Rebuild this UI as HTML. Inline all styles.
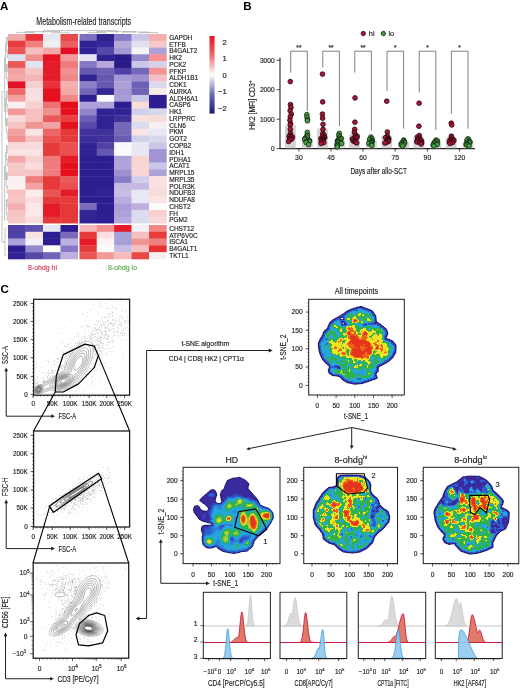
<!DOCTYPE html>
<html><head><meta charset="utf-8"><style>
html,body{margin:0;padding:0;background:#fff;}
svg{display:block;will-change:transform;}
text{font-family:"Liberation Sans", sans-serif;}
</style></head><body>
<svg width="520" height="689" viewBox="0 0 520 689">
<rect width="520" height="689" fill="#fff"/>
<rect x="8.00" y="34.00" width="17.80" height="7.07" fill="#f4a9a9"/>
<rect x="25.50" y="34.00" width="17.80" height="7.07" fill="#e8333a"/>
<rect x="43.00" y="34.00" width="17.80" height="7.07" fill="#e8e8f0"/>
<rect x="60.50" y="34.00" width="17.80" height="7.07" fill="#e64a4a"/>
<rect x="79.30" y="34.00" width="17.72" height="7.07" fill="#7e70c0"/>
<rect x="96.72" y="34.00" width="17.72" height="7.07" fill="#302290"/>
<rect x="114.14" y="34.00" width="17.72" height="7.07" fill="#8678c4"/>
<rect x="131.56" y="34.00" width="17.72" height="7.07" fill="#c8c8e6"/>
<rect x="148.98" y="34.00" width="17.72" height="7.07" fill="#f4b0b0"/>
<text x="169.2" y="39.73" font-size="6.5" fill="#231f20" stroke="#231f20" stroke-width="0.16">GAPDH</text>
<rect x="8.00" y="40.77" width="17.80" height="7.07" fill="#e63c3c"/>
<rect x="25.50" y="40.77" width="17.80" height="7.07" fill="#f08080"/>
<rect x="43.00" y="40.77" width="17.80" height="7.07" fill="#eeeef5"/>
<rect x="60.50" y="40.77" width="17.80" height="7.07" fill="#ea6060"/>
<rect x="79.30" y="40.77" width="17.72" height="7.07" fill="#302290"/>
<rect x="96.72" y="40.77" width="17.72" height="7.07" fill="#36289a"/>
<rect x="114.14" y="40.77" width="17.72" height="7.07" fill="#b6a8da"/>
<rect x="131.56" y="40.77" width="17.72" height="7.07" fill="#e0e0f0"/>
<rect x="148.98" y="40.77" width="17.72" height="7.07" fill="#f6c8c8"/>
<text x="169.2" y="46.50" font-size="6.5" fill="#231f20" stroke="#231f20" stroke-width="0.16">ETFB</text>
<rect x="8.00" y="47.54" width="17.80" height="7.07" fill="#ea5555"/>
<rect x="25.50" y="47.54" width="17.80" height="7.07" fill="#f6c0c0"/>
<rect x="43.00" y="47.54" width="17.80" height="7.07" fill="#f4a8a8"/>
<rect x="60.50" y="47.54" width="17.80" height="7.07" fill="#e31023"/>
<rect x="79.30" y="47.54" width="17.72" height="7.07" fill="#302295"/>
<rect x="96.72" y="47.54" width="17.72" height="7.07" fill="#5648a8"/>
<rect x="114.14" y="47.54" width="17.72" height="7.07" fill="#a698d4"/>
<rect x="131.56" y="47.54" width="17.72" height="7.07" fill="#f4f4f8"/>
<rect x="148.98" y="47.54" width="17.72" height="7.07" fill="#aea0d8"/>
<text x="169.2" y="53.27" font-size="6.5" fill="#231f20" stroke="#231f20" stroke-width="0.16">B4GALT2</text>
<rect x="8.00" y="54.30" width="17.80" height="7.07" fill="#dde0ee"/>
<rect x="25.50" y="54.30" width="17.80" height="7.07" fill="#f29090"/>
<rect x="43.00" y="54.30" width="17.80" height="7.07" fill="#e41423"/>
<rect x="60.50" y="54.30" width="17.80" height="7.07" fill="#f29a9a"/>
<rect x="79.30" y="54.30" width="17.72" height="7.07" fill="#e4e4f2"/>
<rect x="96.72" y="54.30" width="17.72" height="7.07" fill="#302290"/>
<rect x="114.14" y="54.30" width="17.72" height="7.07" fill="#281a88"/>
<rect x="131.56" y="54.30" width="17.72" height="7.07" fill="#9688cc"/>
<rect x="148.98" y="54.30" width="17.72" height="7.07" fill="#f49090"/>
<text x="169.2" y="60.04" font-size="6.5" fill="#231f20" stroke="#231f20" stroke-width="0.16">HK2</text>
<rect x="8.00" y="61.07" width="17.80" height="7.07" fill="#e85858"/>
<rect x="25.50" y="61.07" width="17.80" height="7.07" fill="#e4e4f0"/>
<rect x="43.00" y="61.07" width="17.80" height="7.07" fill="#e41b28"/>
<rect x="60.50" y="61.07" width="17.80" height="7.07" fill="#ee7a7a"/>
<rect x="79.30" y="61.07" width="17.72" height="7.07" fill="#8678c4"/>
<rect x="96.72" y="61.07" width="17.72" height="7.07" fill="#b6a8dc"/>
<rect x="114.14" y="61.07" width="17.72" height="7.07" fill="#281a88"/>
<rect x="131.56" y="61.07" width="17.72" height="7.07" fill="#c8c8e6"/>
<rect x="148.98" y="61.07" width="17.72" height="7.07" fill="#d8d0e6"/>
<text x="169.2" y="66.81" font-size="6.5" fill="#231f20" stroke="#231f20" stroke-width="0.16">PCK2</text>
<rect x="8.00" y="67.84" width="17.80" height="7.07" fill="#f3a0a0"/>
<rect x="25.50" y="67.84" width="17.80" height="7.07" fill="#f6c6c6"/>
<rect x="43.00" y="67.84" width="17.80" height="7.07" fill="#e41b28"/>
<rect x="60.50" y="67.84" width="17.80" height="7.07" fill="#f09090"/>
<rect x="79.30" y="67.84" width="17.72" height="7.07" fill="#6658b0"/>
<rect x="96.72" y="67.84" width="17.72" height="7.07" fill="#6e60b4"/>
<rect x="114.14" y="67.84" width="17.72" height="7.07" fill="#4e40a4"/>
<rect x="131.56" y="67.84" width="17.72" height="7.07" fill="#7668b8"/>
<rect x="148.98" y="67.84" width="17.72" height="7.07" fill="#f49494"/>
<text x="169.2" y="73.57" font-size="6.5" fill="#231f20" stroke="#231f20" stroke-width="0.16">PFKP</text>
<rect x="8.00" y="74.61" width="17.80" height="7.07" fill="#f4a8a8"/>
<rect x="25.50" y="74.61" width="17.80" height="7.07" fill="#f4b4b4"/>
<rect x="43.00" y="74.61" width="17.80" height="7.07" fill="#e41b28"/>
<rect x="60.50" y="74.61" width="17.80" height="7.07" fill="#ee8888"/>
<rect x="79.30" y="74.61" width="17.72" height="7.07" fill="#302290"/>
<rect x="96.72" y="74.61" width="17.72" height="7.07" fill="#6658b0"/>
<rect x="114.14" y="74.61" width="17.72" height="7.07" fill="#a698d4"/>
<rect x="131.56" y="74.61" width="17.72" height="7.07" fill="#9e90d0"/>
<rect x="148.98" y="74.61" width="17.72" height="7.07" fill="#f4c0c8"/>
<text x="169.2" y="80.34" font-size="6.5" fill="#231f20" stroke="#231f20" stroke-width="0.16">ALDH1B1</text>
<rect x="8.00" y="81.38" width="17.80" height="7.07" fill="#e41428"/>
<rect x="25.50" y="81.38" width="17.80" height="7.07" fill="#f6d0d0"/>
<rect x="43.00" y="81.38" width="17.80" height="7.07" fill="#e6303a"/>
<rect x="60.50" y="81.38" width="17.80" height="7.07" fill="#f4b0b0"/>
<rect x="79.30" y="81.38" width="17.72" height="7.07" fill="#8e80c8"/>
<rect x="96.72" y="81.38" width="17.72" height="7.07" fill="#6658b0"/>
<rect x="114.14" y="81.38" width="17.72" height="7.07" fill="#aea0d8"/>
<rect x="131.56" y="81.38" width="17.72" height="7.07" fill="#6e60b4"/>
<rect x="148.98" y="81.38" width="17.72" height="7.07" fill="#dcd8ee"/>
<text x="169.2" y="87.11" font-size="6.5" fill="#231f20" stroke="#231f20" stroke-width="0.16">CDK1</text>
<rect x="8.00" y="88.14" width="17.80" height="7.07" fill="#ec6a6a"/>
<rect x="25.50" y="88.14" width="17.80" height="7.07" fill="#f8dede"/>
<rect x="43.00" y="88.14" width="17.80" height="7.07" fill="#e3101e"/>
<rect x="60.50" y="88.14" width="17.80" height="7.07" fill="#f4a8a8"/>
<rect x="79.30" y="88.14" width="17.72" height="7.07" fill="#7264b8"/>
<rect x="96.72" y="88.14" width="17.72" height="7.07" fill="#342694"/>
<rect x="114.14" y="88.14" width="17.72" height="7.07" fill="#a698d4"/>
<rect x="131.56" y="88.14" width="17.72" height="7.07" fill="#7062b6"/>
<rect x="148.98" y="88.14" width="17.72" height="7.07" fill="#f8ece8"/>
<text x="169.2" y="93.88" font-size="6.5" fill="#231f20" stroke="#231f20" stroke-width="0.16">AURKA</text>
<rect x="8.00" y="94.91" width="17.80" height="7.07" fill="#f2a0a0"/>
<rect x="25.50" y="94.91" width="17.80" height="7.07" fill="#fae0e0"/>
<rect x="43.00" y="94.91" width="17.80" height="7.07" fill="#e4101e"/>
<rect x="60.50" y="94.91" width="17.80" height="7.07" fill="#f08888"/>
<rect x="79.30" y="94.91" width="17.72" height="7.07" fill="#2c1e90"/>
<rect x="96.72" y="94.91" width="17.72" height="7.07" fill="#fafafc"/>
<rect x="114.14" y="94.91" width="17.72" height="7.07" fill="#aa9cd6"/>
<rect x="131.56" y="94.91" width="17.72" height="7.07" fill="#c8c8e6"/>
<rect x="148.98" y="94.91" width="17.72" height="7.07" fill="#2c1e90"/>
<text x="169.2" y="100.64" font-size="6.5" fill="#231f20" stroke="#231f20" stroke-width="0.16">ALDH6A1</text>
<rect x="8.00" y="101.68" width="17.80" height="7.07" fill="#faf0f0"/>
<rect x="25.50" y="101.68" width="17.80" height="7.07" fill="#f8d0d0"/>
<rect x="43.00" y="101.68" width="17.80" height="7.07" fill="#ee7272"/>
<rect x="60.50" y="101.68" width="17.80" height="7.07" fill="#e40f1b"/>
<rect x="79.30" y="101.68" width="17.72" height="7.07" fill="#aea0d8"/>
<rect x="96.72" y="101.68" width="17.72" height="7.07" fill="#aea0d8"/>
<rect x="114.14" y="101.68" width="17.72" height="7.07" fill="#2c1e90"/>
<rect x="131.56" y="101.68" width="17.72" height="7.07" fill="#f8dcd8"/>
<rect x="148.98" y="101.68" width="17.72" height="7.07" fill="#2c1e90"/>
<text x="169.2" y="107.41" font-size="6.5" fill="#231f20" stroke="#231f20" stroke-width="0.16">CASP6</text>
<rect x="8.00" y="108.45" width="17.80" height="7.07" fill="#f29898"/>
<rect x="25.50" y="108.45" width="17.80" height="7.07" fill="#f6c0c0"/>
<rect x="43.00" y="108.45" width="17.80" height="7.07" fill="#f09090"/>
<rect x="60.50" y="108.45" width="17.80" height="7.07" fill="#e4101e"/>
<rect x="79.30" y="108.45" width="17.72" height="7.07" fill="#9284ca"/>
<rect x="96.72" y="108.45" width="17.72" height="7.07" fill="#302292"/>
<rect x="114.14" y="108.45" width="17.72" height="7.07" fill="#302292"/>
<rect x="131.56" y="108.45" width="17.72" height="7.07" fill="#d0d0ea"/>
<rect x="148.98" y="108.45" width="17.72" height="7.07" fill="#d8d8ec"/>
<text x="169.2" y="114.18" font-size="6.5" fill="#231f20" stroke="#231f20" stroke-width="0.16">HK1</text>
<rect x="8.00" y="115.21" width="17.80" height="7.07" fill="#f8d8d8"/>
<rect x="25.50" y="115.21" width="17.80" height="7.07" fill="#f6c0c0"/>
<rect x="43.00" y="115.21" width="17.80" height="7.07" fill="#ea5a5a"/>
<rect x="60.50" y="115.21" width="17.80" height="7.07" fill="#e84040"/>
<rect x="79.30" y="115.21" width="17.72" height="7.07" fill="#6c5eb4"/>
<rect x="96.72" y="115.21" width="17.72" height="7.07" fill="#302292"/>
<rect x="114.14" y="115.21" width="17.72" height="7.07" fill="#3e3098"/>
<rect x="131.56" y="115.21" width="17.72" height="7.07" fill="#f6e0e0"/>
<rect x="148.98" y="115.21" width="17.72" height="7.07" fill="#f8dcd8"/>
<text x="169.2" y="120.95" font-size="6.5" fill="#231f20" stroke="#231f20" stroke-width="0.16">LRPPRC</text>
<rect x="8.00" y="121.98" width="17.80" height="7.07" fill="#f6c4c4"/>
<rect x="25.50" y="121.98" width="17.80" height="7.07" fill="#f09494"/>
<rect x="43.00" y="121.98" width="17.80" height="7.07" fill="#f2a4a4"/>
<rect x="60.50" y="121.98" width="17.80" height="7.07" fill="#e4121e"/>
<rect x="79.30" y="121.98" width="17.72" height="7.07" fill="#584aaa"/>
<rect x="96.72" y="121.98" width="17.72" height="7.07" fill="#302292"/>
<rect x="114.14" y="121.98" width="17.72" height="7.07" fill="#7668b8"/>
<rect x="131.56" y="121.98" width="17.72" height="7.07" fill="#dcdcf0"/>
<rect x="148.98" y="121.98" width="17.72" height="7.07" fill="#f8f0f0"/>
<text x="169.2" y="127.72" font-size="6.5" fill="#231f20" stroke="#231f20" stroke-width="0.16">CLN6</text>
<rect x="8.00" y="128.75" width="17.80" height="7.07" fill="#f2a0a0"/>
<rect x="25.50" y="128.75" width="17.80" height="7.07" fill="#fae4e4"/>
<rect x="43.00" y="128.75" width="17.80" height="7.07" fill="#ec6666"/>
<rect x="60.50" y="128.75" width="17.80" height="7.07" fill="#e63838"/>
<rect x="79.30" y="128.75" width="17.72" height="7.07" fill="#40329a"/>
<rect x="96.72" y="128.75" width="17.72" height="7.07" fill="#40329a"/>
<rect x="114.14" y="128.75" width="17.72" height="7.07" fill="#7668b8"/>
<rect x="131.56" y="128.75" width="17.72" height="7.07" fill="#f8e4e4"/>
<rect x="148.98" y="128.75" width="17.72" height="7.07" fill="#e8e8f4"/>
<text x="169.2" y="134.48" font-size="6.5" fill="#231f20" stroke="#231f20" stroke-width="0.16">PKM</text>
<rect x="8.00" y="135.52" width="17.80" height="7.07" fill="#f09090"/>
<rect x="25.50" y="135.52" width="17.80" height="7.07" fill="#f6c0c0"/>
<rect x="43.00" y="135.52" width="17.80" height="7.07" fill="#ea5050"/>
<rect x="60.50" y="135.52" width="17.80" height="7.07" fill="#e63a3a"/>
<rect x="79.30" y="135.52" width="17.72" height="7.07" fill="#3c2e98"/>
<rect x="96.72" y="135.52" width="17.72" height="7.07" fill="#40329a"/>
<rect x="114.14" y="135.52" width="17.72" height="7.07" fill="#6a5cb2"/>
<rect x="131.56" y="135.52" width="17.72" height="7.07" fill="#d0d0ea"/>
<rect x="148.98" y="135.52" width="17.72" height="7.07" fill="#d8d8ee"/>
<text x="169.2" y="141.25" font-size="6.5" fill="#231f20" stroke="#231f20" stroke-width="0.16">GOT2</text>
<rect x="8.00" y="142.29" width="17.80" height="7.07" fill="#f8d8d8"/>
<rect x="25.50" y="142.29" width="17.80" height="7.07" fill="#f8dcdc"/>
<rect x="43.00" y="142.29" width="17.80" height="7.07" fill="#e63a3a"/>
<rect x="60.50" y="142.29" width="17.80" height="7.07" fill="#ea5050"/>
<rect x="79.30" y="142.29" width="17.72" height="7.07" fill="#302292"/>
<rect x="96.72" y="142.29" width="17.72" height="7.07" fill="#5042a6"/>
<rect x="114.14" y="142.29" width="17.72" height="7.07" fill="#f8f8fc"/>
<rect x="131.56" y="142.29" width="17.72" height="7.07" fill="#e8e8f4"/>
<rect x="148.98" y="142.29" width="17.72" height="7.07" fill="#c8c8e6"/>
<text x="169.2" y="148.02" font-size="6.5" fill="#231f20" stroke="#231f20" stroke-width="0.16">COPB2</text>
<rect x="8.00" y="149.05" width="17.80" height="7.07" fill="#fae4e4"/>
<rect x="25.50" y="149.05" width="17.80" height="7.07" fill="#fae4e4"/>
<rect x="43.00" y="149.05" width="17.80" height="7.07" fill="#e63a3a"/>
<rect x="60.50" y="149.05" width="17.80" height="7.07" fill="#ea5050"/>
<rect x="79.30" y="149.05" width="17.72" height="7.07" fill="#302292"/>
<rect x="96.72" y="149.05" width="17.72" height="7.07" fill="#6658b0"/>
<rect x="114.14" y="149.05" width="17.72" height="7.07" fill="#fafafc"/>
<rect x="131.56" y="149.05" width="17.72" height="7.07" fill="#e8e8f4"/>
<rect x="148.98" y="149.05" width="17.72" height="7.07" fill="#a294d2"/>
<text x="169.2" y="154.79" font-size="6.5" fill="#231f20" stroke="#231f20" stroke-width="0.16">IDH1</text>
<rect x="8.00" y="155.82" width="17.80" height="7.07" fill="#f2a8a8"/>
<rect x="25.50" y="155.82" width="17.80" height="7.07" fill="#f8d0d0"/>
<rect x="43.00" y="155.82" width="17.80" height="7.07" fill="#ee7c7c"/>
<rect x="60.50" y="155.82" width="17.80" height="7.07" fill="#e41b28"/>
<rect x="79.30" y="155.82" width="17.72" height="7.07" fill="#2c1e90"/>
<rect x="96.72" y="155.82" width="17.72" height="7.07" fill="#2c1e90"/>
<rect x="114.14" y="155.82" width="17.72" height="7.07" fill="#aea0d8"/>
<rect x="131.56" y="155.82" width="17.72" height="7.07" fill="#f8d4d4"/>
<rect x="148.98" y="155.82" width="17.72" height="7.07" fill="#a294d2"/>
<text x="169.2" y="161.56" font-size="6.5" fill="#231f20" stroke="#231f20" stroke-width="0.16">PDHA1</text>
<rect x="8.00" y="162.59" width="17.80" height="7.07" fill="#f6c8c8"/>
<rect x="25.50" y="162.59" width="17.80" height="7.07" fill="#fadcdc"/>
<rect x="43.00" y="162.59" width="17.80" height="7.07" fill="#ee7c7c"/>
<rect x="60.50" y="162.59" width="17.80" height="7.07" fill="#e40f1b"/>
<rect x="79.30" y="162.59" width="17.72" height="7.07" fill="#2c1e90"/>
<rect x="96.72" y="162.59" width="17.72" height="7.07" fill="#2c1e90"/>
<rect x="114.14" y="162.59" width="17.72" height="7.07" fill="#b2a4da"/>
<rect x="131.56" y="162.59" width="17.72" height="7.07" fill="#f8d4d4"/>
<rect x="148.98" y="162.59" width="17.72" height="7.07" fill="#c8c8e6"/>
<text x="169.2" y="168.32" font-size="6.5" fill="#231f20" stroke="#231f20" stroke-width="0.16">ACAT1</text>
<rect x="8.00" y="169.36" width="17.80" height="7.07" fill="#f6c4c4"/>
<rect x="25.50" y="169.36" width="17.80" height="7.07" fill="#f6c4c4"/>
<rect x="43.00" y="169.36" width="17.80" height="7.07" fill="#ee7c7c"/>
<rect x="60.50" y="169.36" width="17.80" height="7.07" fill="#e40f1b"/>
<rect x="79.30" y="169.36" width="17.72" height="7.07" fill="#2c1e90"/>
<rect x="96.72" y="169.36" width="17.72" height="7.07" fill="#2c1e90"/>
<rect x="114.14" y="169.36" width="17.72" height="7.07" fill="#9e90d0"/>
<rect x="131.56" y="169.36" width="17.72" height="7.07" fill="#f8d4d4"/>
<rect x="148.98" y="169.36" width="17.72" height="7.07" fill="#aea0d8"/>
<text x="169.2" y="175.09" font-size="6.5" fill="#231f20" stroke="#231f20" stroke-width="0.16">MRPL15</text>
<rect x="8.00" y="176.12" width="17.80" height="7.07" fill="#fcf0f0"/>
<rect x="25.50" y="176.12" width="17.80" height="7.07" fill="#ee7c7c"/>
<rect x="43.00" y="176.12" width="17.80" height="7.07" fill="#e63a3a"/>
<rect x="60.50" y="176.12" width="17.80" height="7.07" fill="#ea5a5a"/>
<rect x="79.30" y="176.12" width="17.72" height="7.07" fill="#2c1e90"/>
<rect x="96.72" y="176.12" width="17.72" height="7.07" fill="#2c1e90"/>
<rect x="114.14" y="176.12" width="17.72" height="7.07" fill="#8a7cc6"/>
<rect x="131.56" y="176.12" width="17.72" height="7.07" fill="#d0d0ea"/>
<rect x="148.98" y="176.12" width="17.72" height="7.07" fill="#fae0e0"/>
<text x="169.2" y="181.86" font-size="6.5" fill="#231f20" stroke="#231f20" stroke-width="0.16">MRPL35</text>
<rect x="8.00" y="182.89" width="17.80" height="7.07" fill="#fcf0f0"/>
<rect x="25.50" y="182.89" width="17.80" height="7.07" fill="#f2a4a4"/>
<rect x="43.00" y="182.89" width="17.80" height="7.07" fill="#e63a3a"/>
<rect x="60.50" y="182.89" width="17.80" height="7.07" fill="#ea5050"/>
<rect x="79.30" y="182.89" width="17.72" height="7.07" fill="#2c1e90"/>
<rect x="96.72" y="182.89" width="17.72" height="7.07" fill="#2c1e90"/>
<rect x="114.14" y="182.89" width="17.72" height="7.07" fill="#c6b8e2"/>
<rect x="131.56" y="182.89" width="17.72" height="7.07" fill="#c6b8e2"/>
<rect x="148.98" y="182.89" width="17.72" height="7.07" fill="#fae0e0"/>
<text x="169.2" y="188.63" font-size="6.5" fill="#231f20" stroke="#231f20" stroke-width="0.16">POLR3K</text>
<rect x="8.00" y="189.66" width="17.80" height="7.07" fill="#f6c0c0"/>
<rect x="25.50" y="189.66" width="17.80" height="7.07" fill="#fcecec"/>
<rect x="43.00" y="189.66" width="17.80" height="7.07" fill="#ea5656"/>
<rect x="60.50" y="189.66" width="17.80" height="7.07" fill="#e41b28"/>
<rect x="79.30" y="189.66" width="17.72" height="7.07" fill="#2c1e90"/>
<rect x="96.72" y="189.66" width="17.72" height="7.07" fill="#302292"/>
<rect x="114.14" y="189.66" width="17.72" height="7.07" fill="#cabce4"/>
<rect x="131.56" y="189.66" width="17.72" height="7.07" fill="#e8e8f4"/>
<rect x="148.98" y="189.66" width="17.72" height="7.07" fill="#f8dcdc"/>
<text x="169.2" y="195.39" font-size="6.5" fill="#231f20" stroke="#231f20" stroke-width="0.16">NDUFB3</text>
<rect x="8.00" y="196.43" width="17.80" height="7.07" fill="#f6c4c4"/>
<rect x="25.50" y="196.43" width="17.80" height="7.07" fill="#fadcdc"/>
<rect x="43.00" y="196.43" width="17.80" height="7.07" fill="#e63a3a"/>
<rect x="60.50" y="196.43" width="17.80" height="7.07" fill="#e63a3a"/>
<rect x="79.30" y="196.43" width="17.72" height="7.07" fill="#2c1e90"/>
<rect x="96.72" y="196.43" width="17.72" height="7.07" fill="#2c1e90"/>
<rect x="114.14" y="196.43" width="17.72" height="7.07" fill="#baacdc"/>
<rect x="131.56" y="196.43" width="17.72" height="7.07" fill="#e8e8f4"/>
<rect x="148.98" y="196.43" width="17.72" height="7.07" fill="#fae4e4"/>
<text x="169.2" y="202.16" font-size="6.5" fill="#231f20" stroke="#231f20" stroke-width="0.16">NDUFA8</text>
<rect x="8.00" y="203.20" width="17.80" height="7.07" fill="#f4b0b0"/>
<rect x="25.50" y="203.20" width="17.80" height="7.07" fill="#fce8e8"/>
<rect x="43.00" y="203.20" width="17.80" height="7.07" fill="#e41b28"/>
<rect x="60.50" y="203.20" width="17.80" height="7.07" fill="#e63838"/>
<rect x="79.30" y="203.20" width="17.72" height="7.07" fill="#7a6cba"/>
<rect x="96.72" y="203.20" width="17.72" height="7.07" fill="#2c1e90"/>
<rect x="114.14" y="203.20" width="17.72" height="7.07" fill="#aa9cd6"/>
<rect x="131.56" y="203.20" width="17.72" height="7.07" fill="#beb0de"/>
<rect x="148.98" y="203.20" width="17.72" height="7.07" fill="#fcfcfc"/>
<text x="169.2" y="208.93" font-size="6.5" fill="#231f20" stroke="#231f20" stroke-width="0.16">CHST2</text>
<rect x="8.00" y="209.96" width="17.80" height="7.07" fill="#f6c4c4"/>
<rect x="25.50" y="209.96" width="17.80" height="7.07" fill="#fce8e8"/>
<rect x="43.00" y="209.96" width="17.80" height="7.07" fill="#e41b28"/>
<rect x="60.50" y="209.96" width="17.80" height="7.07" fill="#e63838"/>
<rect x="79.30" y="209.96" width="17.72" height="7.07" fill="#342694"/>
<rect x="96.72" y="209.96" width="17.72" height="7.07" fill="#2c1e90"/>
<rect x="114.14" y="209.96" width="17.72" height="7.07" fill="#aea0d8"/>
<rect x="131.56" y="209.96" width="17.72" height="7.07" fill="#dcdcf0"/>
<rect x="148.98" y="209.96" width="17.72" height="7.07" fill="#f8d0d0"/>
<text x="169.2" y="215.70" font-size="6.5" fill="#231f20" stroke="#231f20" stroke-width="0.16">FH</text>
<rect x="8.00" y="216.73" width="17.80" height="7.07" fill="#f6c8c8"/>
<rect x="25.50" y="216.73" width="17.80" height="7.07" fill="#fadcdc"/>
<rect x="43.00" y="216.73" width="17.80" height="7.07" fill="#e63a3a"/>
<rect x="60.50" y="216.73" width="17.80" height="7.07" fill="#e63a3a"/>
<rect x="79.30" y="216.73" width="17.72" height="7.07" fill="#302292"/>
<rect x="96.72" y="216.73" width="17.72" height="7.07" fill="#2c1e90"/>
<rect x="114.14" y="216.73" width="17.72" height="7.07" fill="#b6a8dc"/>
<rect x="131.56" y="216.73" width="17.72" height="7.07" fill="#dcdcf0"/>
<rect x="148.98" y="216.73" width="17.72" height="7.07" fill="#f8d8d8"/>
<text x="169.2" y="222.47" font-size="6.5" fill="#231f20" stroke="#231f20" stroke-width="0.16">PGM2</text>
<rect x="8.00" y="225.00" width="17.80" height="7.10" fill="#4e40a4"/>
<rect x="25.50" y="225.00" width="17.80" height="7.10" fill="#5e50ac"/>
<rect x="43.00" y="225.00" width="17.80" height="7.10" fill="#e8e8f4"/>
<rect x="60.50" y="225.00" width="17.80" height="7.10" fill="#2c1e90"/>
<rect x="79.30" y="225.00" width="17.72" height="7.10" fill="#f6b8b8"/>
<rect x="96.72" y="225.00" width="17.72" height="7.10" fill="#f09090"/>
<rect x="114.14" y="225.00" width="17.72" height="7.10" fill="#e41b28"/>
<rect x="131.56" y="225.00" width="17.72" height="7.10" fill="#f4f0f4"/>
<rect x="148.98" y="225.00" width="17.72" height="7.10" fill="#f08888"/>
<text x="169.2" y="230.75" font-size="6.5" fill="#231f20" stroke="#231f20" stroke-width="0.16">CHST12</text>
<rect x="8.00" y="231.80" width="17.80" height="7.10" fill="#5042a6"/>
<rect x="25.50" y="231.80" width="17.80" height="7.10" fill="#f8e4e0"/>
<rect x="43.00" y="231.80" width="17.80" height="7.10" fill="#2c1e90"/>
<rect x="60.50" y="231.80" width="17.80" height="7.10" fill="#7a6cba"/>
<rect x="79.30" y="231.80" width="17.72" height="7.10" fill="#e63a3a"/>
<rect x="96.72" y="231.80" width="17.72" height="7.10" fill="#fae0e0"/>
<rect x="114.14" y="231.80" width="17.72" height="7.10" fill="#a6a0d8"/>
<rect x="131.56" y="231.80" width="17.72" height="7.10" fill="#f6c0c0"/>
<rect x="148.98" y="231.80" width="17.72" height="7.10" fill="#e63c3c"/>
<text x="169.2" y="237.55" font-size="6.5" fill="#231f20" stroke="#231f20" stroke-width="0.16">ATP6V0C</text>
<rect x="8.00" y="238.60" width="17.80" height="7.10" fill="#aea0d8"/>
<rect x="25.50" y="238.60" width="17.80" height="7.10" fill="#f0f0f8"/>
<rect x="43.00" y="238.60" width="17.80" height="7.10" fill="#2c1e90"/>
<rect x="60.50" y="238.60" width="17.80" height="7.10" fill="#beb0de"/>
<rect x="79.30" y="238.60" width="17.72" height="7.10" fill="#e41b28"/>
<rect x="96.72" y="238.60" width="17.72" height="7.10" fill="#fcf4f4"/>
<rect x="114.14" y="238.60" width="17.72" height="7.10" fill="#a6a0d8"/>
<rect x="131.56" y="238.60" width="17.72" height="7.10" fill="#f09494"/>
<rect x="148.98" y="238.60" width="17.72" height="7.10" fill="#f08080"/>
<text x="169.2" y="244.35" font-size="6.5" fill="#231f20" stroke="#231f20" stroke-width="0.16">ISCA1</text>
<rect x="8.00" y="245.40" width="17.80" height="7.10" fill="#2c1e90"/>
<rect x="25.50" y="245.40" width="17.80" height="7.10" fill="#9688cc"/>
<rect x="43.00" y="245.40" width="17.80" height="7.10" fill="#fcfcfc"/>
<rect x="60.50" y="245.40" width="17.80" height="7.10" fill="#8678c4"/>
<rect x="79.30" y="245.40" width="17.72" height="7.10" fill="#e63a3a"/>
<rect x="96.72" y="245.40" width="17.72" height="7.10" fill="#fcfafa"/>
<rect x="114.14" y="245.40" width="17.72" height="7.10" fill="#c6bce4"/>
<rect x="131.56" y="245.40" width="17.72" height="7.10" fill="#f6c0c0"/>
<rect x="148.98" y="245.40" width="17.72" height="7.10" fill="#e63232"/>
<text x="169.2" y="251.15" font-size="6.5" fill="#231f20" stroke="#231f20" stroke-width="0.16">B4GALT1</text>
<rect x="8.00" y="252.20" width="17.80" height="7.10" fill="#302292"/>
<rect x="25.50" y="252.20" width="17.80" height="7.10" fill="#5648a8"/>
<rect x="43.00" y="252.20" width="17.80" height="7.10" fill="#7264b8"/>
<rect x="60.50" y="252.20" width="17.80" height="7.10" fill="#beb0de"/>
<rect x="79.30" y="252.20" width="17.72" height="7.10" fill="#ea5656"/>
<rect x="96.72" y="252.20" width="17.72" height="7.10" fill="#f29a9a"/>
<rect x="114.14" y="252.20" width="17.72" height="7.10" fill="#f6bcbc"/>
<rect x="131.56" y="252.20" width="17.72" height="7.10" fill="#e84848"/>
<rect x="148.98" y="252.20" width="17.72" height="7.10" fill="#f8f0f0"/>
<text x="169.2" y="257.95" font-size="6.5" fill="#231f20" stroke="#231f20" stroke-width="0.16">TKTL1</text>
<g stroke="#9a9a9a" stroke-width="0.6" fill="none"><path d="M43.1 33.2 V30.6 H116.7 V33.2"/><path d="M16.8 33.8 V32.4 H34 V33.8 M25.5 32.4 V31.6 H60 M51.8 33.8 V32.8 H69.3 V33.8 M60 32.8 V31.6"/><path d="M88 33.8 V32.6 H105.5 V33.8 M140 33.8 V32.6 H157.7 V33.8 M123 33.8 V32.0 H149 V32.6 M96.7 32.6 V31.6 H136 V32"/></g>
<path d="M8.0 37.4 H7.2 V44.2 H8.0 M8.0 50.9 H7.2 V57.7 H8.0 M8.0 64.5 H7.2 V71.2 H8.0 M8.0 78.0 H7.2 V84.8 H8.0 M8.0 91.5 H7.2 V98.3 H8.0 M8.0 105.1 H7.2 V111.8 H8.0 M8.0 118.6 H7.2 V125.4 H8.0 M8.0 132.1 H7.2 V138.9 H8.0 M8.0 145.7 H7.2 V152.4 H8.0 M8.0 159.2 H7.2 V166.0 H8.0 M8.0 172.7 H7.2 V179.5 H8.0 M8.0 186.3 H7.2 V193.0 H8.0 M8.0 199.8 H7.2 V206.6 H8.0 M8.0 213.3 H7.2 V220.1 H8.0 M7.2 37.4 H6.4 V50.9 H7.2 M7.2 64.5 H6.4 V78.0 H7.2 M7.2 91.5 H6.4 V105.1 H7.2 M7.2 118.6 H6.4 V132.1 H7.2 M7.2 145.7 H6.4 V159.2 H7.2 M7.2 172.7 H6.4 V186.3 H7.2 M7.2 199.8 H6.4 V213.3 H7.2 M6.4 44.2 H5.6 V71.2 H6.4 M6.4 98.3 H5.6 V125.4 H6.4 M6.4 152.4 H5.6 V179.5 H6.4 M5.4 57.7 H4.6 V111.8 H5.4 M5.4 166.0 H4.6 V220.1 H5.4 M3.4 91.5 H2.0 V242.0 H5.0 M6.4 228.4 H5.0 V255.6 H6.4 M7.2 235.2 H6.4 M7.2 248.8 H6.4" stroke="#9a9a9a" stroke-width="0.6" fill="none"/>
<rect x="78.1" y="33" width="1.2" height="227" fill="#ffffff"/>
<rect x="7" y="223.55" width="161" height="1.4" fill="#ffffff"/>
<text x="36.3" y="24.7" font-size="10" fill="#231f20" textLength="94.8" lengthAdjust="spacingAndGlyphs" stroke="#231f20" stroke-width="0.16">Metabolism-related transcripts</text>
<defs><linearGradient id="cb" x1="0" y1="0" x2="0" y2="1"><stop offset="0" stop-color="#e8121f"/><stop offset="0.25" stop-color="#ee6a6f"/><stop offset="0.5" stop-color="#ffffff"/><stop offset="0.75" stop-color="#6a6ab4"/><stop offset="1" stop-color="#1b1b78"/></linearGradient></defs>
<rect x="209.5" y="36" width="5.1" height="77.6" fill="url(#cb)"/>
<text x="226.7" y="44.8" font-size="7.6" text-anchor="end" fill="#231f20" stroke="#231f20" stroke-width="0.16">2</text>
<text x="226.7" y="61.2" font-size="7.6" text-anchor="end" fill="#231f20" stroke="#231f20" stroke-width="0.16">1</text>
<text x="226.7" y="77.9" font-size="7.6" text-anchor="end" fill="#231f20" stroke="#231f20" stroke-width="0.16">0</text>
<text x="226.7" y="94.1" font-size="7.6" text-anchor="end" fill="#231f20" stroke="#231f20" stroke-width="0.16">−1</text>
<text x="226.7" y="110.8" font-size="7.6" text-anchor="end" fill="#231f20" stroke="#231f20" stroke-width="0.16">−2</text>
<text x="28" y="269.8" font-size="6.6" fill="#d0455f" textLength="29" lengthAdjust="spacingAndGlyphs" stroke="#d0455f" stroke-width="0.16">8-ohdg hi</text>
<text x="108" y="269.8" font-size="6.6" fill="#5fae55" textLength="29" lengthAdjust="spacingAndGlyphs" stroke="#5fae55" stroke-width="0.16">8-ohdg lo</text>
<text x="0" y="9.8" font-size="11.6" font-weight="bold" fill="#000">A</text>
<text x="243.3" y="10" font-size="11.6" font-weight="bold" fill="#000">B</text>
<circle cx="363.3" cy="33.5" r="2.2" fill="#a8163a" stroke="#1a0a0a" stroke-width="0.7"/>
<text x="368.8" y="35.9" font-size="7.4" fill="#231f20" stroke="#231f20" stroke-width="0.16">hi</text>
<circle cx="383.4" cy="33.5" r="2.2" fill="#3f9a3c" stroke="#0a1a0a" stroke-width="0.7"/>
<text x="388.4" y="35.9" font-size="7.4" fill="#231f20" stroke="#231f20" stroke-width="0.16">lo</text>
<path d="M280 57.8 V148.6 H475" stroke="#231f20" stroke-width="1.1" fill="none"/>
<path d="M276.5 148.6 H280" stroke="#231f20" stroke-width="0.8"/>
<text x="274.6" y="150.9" font-size="6.6" text-anchor="end" fill="#231f20" stroke="#231f20" stroke-width="0.16">0</text>
<path d="M276.5 119.2 H280" stroke="#231f20" stroke-width="0.8"/>
<text x="274.6" y="121.5" font-size="6.6" text-anchor="end" fill="#231f20" stroke="#231f20" stroke-width="0.16">1000</text>
<path d="M276.5 89.7 H280" stroke="#231f20" stroke-width="0.8"/>
<text x="274.6" y="92.0" font-size="6.6" text-anchor="end" fill="#231f20" stroke="#231f20" stroke-width="0.16">2000</text>
<path d="M276.5 60.3 H280" stroke="#231f20" stroke-width="0.8"/>
<text x="274.6" y="62.6" font-size="6.6" text-anchor="end" fill="#231f20" stroke="#231f20" stroke-width="0.16">3000</text>
<path d="M298.9 148.6 V151.6" stroke="#231f20" stroke-width="0.8"/>
<text x="298.9" y="160.3" font-size="6.8" text-anchor="middle" fill="#231f20" stroke="#231f20" stroke-width="0.16">30</text>
<path d="M331.0 148.6 V151.6" stroke="#231f20" stroke-width="0.8"/>
<text x="331.0" y="160.3" font-size="6.8" text-anchor="middle" fill="#231f20" stroke="#231f20" stroke-width="0.16">45</text>
<path d="M363.0 148.6 V151.6" stroke="#231f20" stroke-width="0.8"/>
<text x="363.0" y="160.3" font-size="6.8" text-anchor="middle" fill="#231f20" stroke="#231f20" stroke-width="0.16">60</text>
<path d="M395.2 148.6 V151.6" stroke="#231f20" stroke-width="0.8"/>
<text x="395.2" y="160.3" font-size="6.8" text-anchor="middle" fill="#231f20" stroke="#231f20" stroke-width="0.16">75</text>
<path d="M427.4 148.6 V151.6" stroke="#231f20" stroke-width="0.8"/>
<text x="427.4" y="160.3" font-size="6.8" text-anchor="middle" fill="#231f20" stroke="#231f20" stroke-width="0.16">90</text>
<path d="M459.6 148.6 V151.6" stroke="#231f20" stroke-width="0.8"/>
<text x="459.6" y="160.3" font-size="6.8" text-anchor="middle" fill="#231f20" stroke="#231f20" stroke-width="0.16">120</text>
<text x="350.4" y="173.7" font-size="8.4" fill="#231f20" textLength="56.6" lengthAdjust="spacingAndGlyphs" stroke="#231f20" stroke-width="0.16">Days after allo-SCT</text>
<text transform="translate(254.6 129.7) rotate(-90)" font-size="8.2" fill="#231f20" stroke="#231f20" stroke-width="0.16"><tspan textLength="46.5" lengthAdjust="spacingAndGlyphs">HK2 [MFI] CD3</tspan><tspan font-size="5" dy="-3">+</tspan></text>
<rect x="285.0" y="125.3" width="10.8" height="22.9" fill="#d4d4d4"/>
<rect x="302.0" y="139.5" width="10.8" height="8.7" fill="#d4d4d4"/>
<rect x="317.1" y="128.5" width="10.8" height="19.7" fill="#d4d4d4"/>
<rect x="334.1" y="140.0" width="10.8" height="8.2" fill="#d4d4d4"/>
<rect x="349.1" y="134.0" width="10.8" height="14.2" fill="#d4d4d4"/>
<rect x="366.1" y="141.0" width="10.8" height="7.2" fill="#d4d4d4"/>
<rect x="381.3" y="136.0" width="10.8" height="12.2" fill="#d4d4d4"/>
<rect x="398.3" y="142.0" width="10.8" height="6.2" fill="#d4d4d4"/>
<rect x="413.5" y="136.5" width="10.8" height="11.7" fill="#d4d4d4"/>
<rect x="430.5" y="142.0" width="10.8" height="6.2" fill="#d4d4d4"/>
<rect x="445.7" y="137.5" width="10.8" height="10.7" fill="#d4d4d4"/>
<rect x="462.7" y="142.0" width="10.8" height="6.2" fill="#d4d4d4"/>
<path d="M290.7 72.5 V51.2 H307.3 V111.0" stroke="#555" stroke-width="0.75" fill="none"/>
<text x="298.9" y="50.4" font-size="6.5" text-anchor="middle" fill="#231f20" stroke="#231f20" stroke-width="0.16">**</text>
<path d="M322.8 67.4 V51.2 H339.4 V126.3" stroke="#555" stroke-width="0.75" fill="none"/>
<text x="331.0" y="50.4" font-size="6.5" text-anchor="middle" fill="#231f20" stroke="#231f20" stroke-width="0.16">**</text>
<path d="M354.8 72.5 V51.2 H371.4 V130.4" stroke="#555" stroke-width="0.75" fill="none"/>
<text x="363.0" y="50.4" font-size="6.5" text-anchor="middle" fill="#231f20" stroke="#231f20" stroke-width="0.16">**</text>
<path d="M387.0 91.2 V51.2 H403.6 V128.7" stroke="#555" stroke-width="0.75" fill="none"/>
<text x="395.2" y="50.4" font-size="6.5" text-anchor="middle" fill="#231f20" stroke="#231f20" stroke-width="0.16">*</text>
<path d="M419.2 92.5 V51.2 H435.8 V130.0" stroke="#555" stroke-width="0.75" fill="none"/>
<text x="427.4" y="50.4" font-size="6.5" text-anchor="middle" fill="#231f20" stroke="#231f20" stroke-width="0.16">*</text>
<path d="M451.4 113.7 V51.2 H468.0 V128.7" stroke="#555" stroke-width="0.75" fill="none"/>
<text x="459.6" y="50.4" font-size="6.5" text-anchor="middle" fill="#231f20" stroke="#231f20" stroke-width="0.16">*</text>
<circle cx="306.8" cy="114.7" r="2.35" fill="#47a545" stroke="#0d1f0d" stroke-width="0.8"/>
<circle cx="307.0" cy="117.2" r="2.35" fill="#47a545" stroke="#0d1f0d" stroke-width="0.8"/>
<circle cx="307.5" cy="119.6" r="2.35" fill="#47a545" stroke="#0d1f0d" stroke-width="0.8"/>
<circle cx="307.4" cy="120.8" r="2.35" fill="#47a545" stroke="#0d1f0d" stroke-width="0.8"/>
<circle cx="307.3" cy="132.4" r="2.35" fill="#47a545" stroke="#0d1f0d" stroke-width="0.8"/>
<circle cx="307.0" cy="135.4" r="2.35" fill="#47a545" stroke="#0d1f0d" stroke-width="0.8"/>
<circle cx="307.6" cy="135.4" r="2.35" fill="#47a545" stroke="#0d1f0d" stroke-width="0.8"/>
<circle cx="307.3" cy="137.0" r="2.35" fill="#47a545" stroke="#0d1f0d" stroke-width="0.8"/>
<circle cx="304.9" cy="138.5" r="2.35" fill="#47a545" stroke="#0d1f0d" stroke-width="0.8"/>
<circle cx="306.9" cy="139.5" r="2.35" fill="#47a545" stroke="#0d1f0d" stroke-width="0.8"/>
<circle cx="304.7" cy="139.5" r="2.35" fill="#47a545" stroke="#0d1f0d" stroke-width="0.8"/>
<circle cx="309.4" cy="140.5" r="2.35" fill="#47a545" stroke="#0d1f0d" stroke-width="0.8"/>
<circle cx="309.4" cy="141.5" r="2.35" fill="#47a545" stroke="#0d1f0d" stroke-width="0.8"/>
<circle cx="306.2" cy="141.5" r="2.35" fill="#47a545" stroke="#0d1f0d" stroke-width="0.8"/>
<circle cx="306.1" cy="142.5" r="2.35" fill="#47a545" stroke="#0d1f0d" stroke-width="0.8"/>
<circle cx="308.5" cy="144.6" r="2.35" fill="#47a545" stroke="#0d1f0d" stroke-width="0.8"/>
<circle cx="290.3" cy="81.6" r="2.35" fill="#a8163a" stroke="#1f0508" stroke-width="0.8"/>
<circle cx="290.5" cy="104.6" r="2.35" fill="#a8163a" stroke="#1f0508" stroke-width="0.8"/>
<circle cx="291.0" cy="107.4" r="2.35" fill="#a8163a" stroke="#1f0508" stroke-width="0.8"/>
<circle cx="290.1" cy="110.7" r="2.35" fill="#a8163a" stroke="#1f0508" stroke-width="0.8"/>
<circle cx="291.3" cy="114.1" r="2.35" fill="#a8163a" stroke="#1f0508" stroke-width="0.8"/>
<circle cx="290.3" cy="116.8" r="2.35" fill="#a8163a" stroke="#1f0508" stroke-width="0.8"/>
<circle cx="289.9" cy="120.2" r="2.35" fill="#a8163a" stroke="#1f0508" stroke-width="0.8"/>
<circle cx="290.6" cy="123.7" r="2.35" fill="#a8163a" stroke="#1f0508" stroke-width="0.8"/>
<circle cx="290.2" cy="124.9" r="2.35" fill="#a8163a" stroke="#1f0508" stroke-width="0.8"/>
<circle cx="290.3" cy="129.3" r="2.35" fill="#a8163a" stroke="#1f0508" stroke-width="0.8"/>
<circle cx="290.5" cy="133.4" r="2.35" fill="#a8163a" stroke="#1f0508" stroke-width="0.8"/>
<circle cx="290.5" cy="135.4" r="2.35" fill="#a8163a" stroke="#1f0508" stroke-width="0.8"/>
<circle cx="289.1" cy="136.4" r="2.35" fill="#a8163a" stroke="#1f0508" stroke-width="0.8"/>
<circle cx="292.5" cy="137.0" r="2.35" fill="#a8163a" stroke="#1f0508" stroke-width="0.8"/>
<circle cx="289.7" cy="138.5" r="2.35" fill="#a8163a" stroke="#1f0508" stroke-width="0.8"/>
<circle cx="291.7" cy="139.1" r="2.35" fill="#a8163a" stroke="#1f0508" stroke-width="0.8"/>
<circle cx="289.9" cy="139.5" r="2.35" fill="#a8163a" stroke="#1f0508" stroke-width="0.8"/>
<circle cx="288.6" cy="141.5" r="2.35" fill="#a8163a" stroke="#1f0508" stroke-width="0.8"/>
<circle cx="339.3" cy="133.4" r="2.35" fill="#47a545" stroke="#0d1f0d" stroke-width="0.8"/>
<circle cx="338.7" cy="135.5" r="2.35" fill="#47a545" stroke="#0d1f0d" stroke-width="0.8"/>
<circle cx="339.9" cy="137.0" r="2.35" fill="#47a545" stroke="#0d1f0d" stroke-width="0.8"/>
<circle cx="341.4" cy="138.5" r="2.35" fill="#47a545" stroke="#0d1f0d" stroke-width="0.8"/>
<circle cx="339.0" cy="139.0" r="2.35" fill="#47a545" stroke="#0d1f0d" stroke-width="0.8"/>
<circle cx="340.1" cy="139.5" r="2.35" fill="#47a545" stroke="#0d1f0d" stroke-width="0.8"/>
<circle cx="337.7" cy="140.5" r="2.35" fill="#47a545" stroke="#0d1f0d" stroke-width="0.8"/>
<circle cx="337.8" cy="141.0" r="2.35" fill="#47a545" stroke="#0d1f0d" stroke-width="0.8"/>
<circle cx="338.1" cy="141.5" r="2.35" fill="#47a545" stroke="#0d1f0d" stroke-width="0.8"/>
<circle cx="340.2" cy="142.5" r="2.35" fill="#47a545" stroke="#0d1f0d" stroke-width="0.8"/>
<circle cx="337.7" cy="143.0" r="2.35" fill="#47a545" stroke="#0d1f0d" stroke-width="0.8"/>
<circle cx="341.6" cy="143.5" r="2.35" fill="#47a545" stroke="#0d1f0d" stroke-width="0.8"/>
<circle cx="337.0" cy="144.5" r="2.35" fill="#47a545" stroke="#0d1f0d" stroke-width="0.8"/>
<circle cx="337.6" cy="145.5" r="2.35" fill="#47a545" stroke="#0d1f0d" stroke-width="0.8"/>
<circle cx="337.1" cy="147.0" r="2.35" fill="#47a545" stroke="#0d1f0d" stroke-width="0.8"/>
<circle cx="322.5" cy="74.1" r="2.35" fill="#a8163a" stroke="#1f0508" stroke-width="0.8"/>
<circle cx="322.7" cy="101.9" r="2.35" fill="#a8163a" stroke="#1f0508" stroke-width="0.8"/>
<circle cx="322.4" cy="114.1" r="2.35" fill="#a8163a" stroke="#1f0508" stroke-width="0.8"/>
<circle cx="322.6" cy="118.2" r="2.35" fill="#a8163a" stroke="#1f0508" stroke-width="0.8"/>
<circle cx="323.0" cy="124.3" r="2.35" fill="#a8163a" stroke="#1f0508" stroke-width="0.8"/>
<circle cx="323.0" cy="129.3" r="2.35" fill="#a8163a" stroke="#1f0508" stroke-width="0.8"/>
<circle cx="322.8" cy="133.4" r="2.35" fill="#a8163a" stroke="#1f0508" stroke-width="0.8"/>
<circle cx="324.1" cy="135.0" r="2.35" fill="#a8163a" stroke="#1f0508" stroke-width="0.8"/>
<circle cx="322.5" cy="136.5" r="2.35" fill="#a8163a" stroke="#1f0508" stroke-width="0.8"/>
<circle cx="324.7" cy="137.5" r="2.35" fill="#a8163a" stroke="#1f0508" stroke-width="0.8"/>
<circle cx="323.4" cy="138.0" r="2.35" fill="#a8163a" stroke="#1f0508" stroke-width="0.8"/>
<circle cx="320.9" cy="138.6" r="2.35" fill="#a8163a" stroke="#1f0508" stroke-width="0.8"/>
<circle cx="323.1" cy="139.5" r="2.35" fill="#a8163a" stroke="#1f0508" stroke-width="0.8"/>
<circle cx="322.7" cy="140.0" r="2.35" fill="#a8163a" stroke="#1f0508" stroke-width="0.8"/>
<circle cx="323.0" cy="140.5" r="2.35" fill="#a8163a" stroke="#1f0508" stroke-width="0.8"/>
<circle cx="321.3" cy="141.5" r="2.35" fill="#a8163a" stroke="#1f0508" stroke-width="0.8"/>
<circle cx="323.8" cy="142.5" r="2.35" fill="#a8163a" stroke="#1f0508" stroke-width="0.8"/>
<circle cx="321.2" cy="143.5" r="2.35" fill="#a8163a" stroke="#1f0508" stroke-width="0.8"/>
<circle cx="370.9" cy="137.0" r="2.35" fill="#47a545" stroke="#0d1f0d" stroke-width="0.8"/>
<circle cx="371.8" cy="138.5" r="2.35" fill="#47a545" stroke="#0d1f0d" stroke-width="0.8"/>
<circle cx="369.5" cy="139.5" r="2.35" fill="#47a545" stroke="#0d1f0d" stroke-width="0.8"/>
<circle cx="372.3" cy="140.5" r="2.35" fill="#47a545" stroke="#0d1f0d" stroke-width="0.8"/>
<circle cx="371.8" cy="141.0" r="2.35" fill="#47a545" stroke="#0d1f0d" stroke-width="0.8"/>
<circle cx="370.6" cy="141.5" r="2.35" fill="#47a545" stroke="#0d1f0d" stroke-width="0.8"/>
<circle cx="371.8" cy="142.5" r="2.35" fill="#47a545" stroke="#0d1f0d" stroke-width="0.8"/>
<circle cx="371.5" cy="143.0" r="2.35" fill="#47a545" stroke="#0d1f0d" stroke-width="0.8"/>
<circle cx="368.8" cy="143.5" r="2.35" fill="#47a545" stroke="#0d1f0d" stroke-width="0.8"/>
<circle cx="371.4" cy="144.5" r="2.35" fill="#47a545" stroke="#0d1f0d" stroke-width="0.8"/>
<circle cx="371.8" cy="145.5" r="2.35" fill="#47a545" stroke="#0d1f0d" stroke-width="0.8"/>
<circle cx="355.0" cy="97.9" r="2.35" fill="#a8163a" stroke="#1f0508" stroke-width="0.8"/>
<circle cx="354.9" cy="122.2" r="2.35" fill="#a8163a" stroke="#1f0508" stroke-width="0.8"/>
<circle cx="354.7" cy="129.3" r="2.35" fill="#a8163a" stroke="#1f0508" stroke-width="0.8"/>
<circle cx="354.3" cy="132.4" r="2.35" fill="#a8163a" stroke="#1f0508" stroke-width="0.8"/>
<circle cx="355.7" cy="135.0" r="2.35" fill="#a8163a" stroke="#1f0508" stroke-width="0.8"/>
<circle cx="357.2" cy="136.5" r="2.35" fill="#a8163a" stroke="#1f0508" stroke-width="0.8"/>
<circle cx="354.4" cy="137.5" r="2.35" fill="#a8163a" stroke="#1f0508" stroke-width="0.8"/>
<circle cx="356.6" cy="138.0" r="2.35" fill="#a8163a" stroke="#1f0508" stroke-width="0.8"/>
<circle cx="352.4" cy="139.0" r="2.35" fill="#a8163a" stroke="#1f0508" stroke-width="0.8"/>
<circle cx="354.9" cy="140.0" r="2.35" fill="#a8163a" stroke="#1f0508" stroke-width="0.8"/>
<circle cx="353.2" cy="141.0" r="2.35" fill="#a8163a" stroke="#1f0508" stroke-width="0.8"/>
<circle cx="354.8" cy="141.5" r="2.35" fill="#a8163a" stroke="#1f0508" stroke-width="0.8"/>
<circle cx="355.4" cy="142.0" r="2.35" fill="#a8163a" stroke="#1f0508" stroke-width="0.8"/>
<circle cx="356.7" cy="143.0" r="2.35" fill="#a8163a" stroke="#1f0508" stroke-width="0.8"/>
<circle cx="403.8" cy="140.0" r="2.35" fill="#47a545" stroke="#0d1f0d" stroke-width="0.8"/>
<circle cx="403.2" cy="141.0" r="2.35" fill="#47a545" stroke="#0d1f0d" stroke-width="0.8"/>
<circle cx="404.5" cy="142.0" r="2.35" fill="#47a545" stroke="#0d1f0d" stroke-width="0.8"/>
<circle cx="404.6" cy="142.5" r="2.35" fill="#47a545" stroke="#0d1f0d" stroke-width="0.8"/>
<circle cx="401.9" cy="143.0" r="2.35" fill="#47a545" stroke="#0d1f0d" stroke-width="0.8"/>
<circle cx="401.2" cy="144.0" r="2.35" fill="#47a545" stroke="#0d1f0d" stroke-width="0.8"/>
<circle cx="403.9" cy="144.5" r="2.35" fill="#47a545" stroke="#0d1f0d" stroke-width="0.8"/>
<circle cx="401.4" cy="145.0" r="2.35" fill="#47a545" stroke="#0d1f0d" stroke-width="0.8"/>
<circle cx="402.8" cy="146.0" r="2.35" fill="#47a545" stroke="#0d1f0d" stroke-width="0.8"/>
<circle cx="386.7" cy="101.2" r="2.35" fill="#a8163a" stroke="#1f0508" stroke-width="0.8"/>
<circle cx="387.3" cy="132.0" r="2.35" fill="#a8163a" stroke="#1f0508" stroke-width="0.8"/>
<circle cx="387.5" cy="136.0" r="2.35" fill="#a8163a" stroke="#1f0508" stroke-width="0.8"/>
<circle cx="385.5" cy="137.5" r="2.35" fill="#a8163a" stroke="#1f0508" stroke-width="0.8"/>
<circle cx="388.5" cy="138.5" r="2.35" fill="#a8163a" stroke="#1f0508" stroke-width="0.8"/>
<circle cx="387.5" cy="139.0" r="2.35" fill="#a8163a" stroke="#1f0508" stroke-width="0.8"/>
<circle cx="388.7" cy="139.5" r="2.35" fill="#a8163a" stroke="#1f0508" stroke-width="0.8"/>
<circle cx="387.6" cy="140.5" r="2.35" fill="#a8163a" stroke="#1f0508" stroke-width="0.8"/>
<circle cx="388.2" cy="141.0" r="2.35" fill="#a8163a" stroke="#1f0508" stroke-width="0.8"/>
<circle cx="388.4" cy="141.5" r="2.35" fill="#a8163a" stroke="#1f0508" stroke-width="0.8"/>
<circle cx="386.2" cy="142.5" r="2.35" fill="#a8163a" stroke="#1f0508" stroke-width="0.8"/>
<circle cx="384.9" cy="143.0" r="2.35" fill="#a8163a" stroke="#1f0508" stroke-width="0.8"/>
<circle cx="436.0" cy="140.0" r="2.35" fill="#47a545" stroke="#0d1f0d" stroke-width="0.8"/>
<circle cx="437.5" cy="141.0" r="2.35" fill="#47a545" stroke="#0d1f0d" stroke-width="0.8"/>
<circle cx="436.8" cy="142.0" r="2.35" fill="#47a545" stroke="#0d1f0d" stroke-width="0.8"/>
<circle cx="434.2" cy="142.5" r="2.35" fill="#47a545" stroke="#0d1f0d" stroke-width="0.8"/>
<circle cx="434.7" cy="143.0" r="2.35" fill="#47a545" stroke="#0d1f0d" stroke-width="0.8"/>
<circle cx="436.7" cy="144.0" r="2.35" fill="#47a545" stroke="#0d1f0d" stroke-width="0.8"/>
<circle cx="437.2" cy="144.5" r="2.35" fill="#47a545" stroke="#0d1f0d" stroke-width="0.8"/>
<circle cx="433.1" cy="145.0" r="2.35" fill="#47a545" stroke="#0d1f0d" stroke-width="0.8"/>
<circle cx="433.9" cy="146.0" r="2.35" fill="#47a545" stroke="#0d1f0d" stroke-width="0.8"/>
<circle cx="419.1" cy="103.2" r="2.35" fill="#a8163a" stroke="#1f0508" stroke-width="0.8"/>
<circle cx="418.9" cy="126.2" r="2.35" fill="#a8163a" stroke="#1f0508" stroke-width="0.8"/>
<circle cx="419.3" cy="135.5" r="2.35" fill="#a8163a" stroke="#1f0508" stroke-width="0.8"/>
<circle cx="417.3" cy="137.0" r="2.35" fill="#a8163a" stroke="#1f0508" stroke-width="0.8"/>
<circle cx="419.1" cy="138.0" r="2.35" fill="#a8163a" stroke="#1f0508" stroke-width="0.8"/>
<circle cx="418.3" cy="139.0" r="2.35" fill="#a8163a" stroke="#1f0508" stroke-width="0.8"/>
<circle cx="420.2" cy="139.5" r="2.35" fill="#a8163a" stroke="#1f0508" stroke-width="0.8"/>
<circle cx="417.4" cy="140.0" r="2.35" fill="#a8163a" stroke="#1f0508" stroke-width="0.8"/>
<circle cx="421.6" cy="141.0" r="2.35" fill="#a8163a" stroke="#1f0508" stroke-width="0.8"/>
<circle cx="417.0" cy="141.5" r="2.35" fill="#a8163a" stroke="#1f0508" stroke-width="0.8"/>
<circle cx="417.0" cy="142.0" r="2.35" fill="#a8163a" stroke="#1f0508" stroke-width="0.8"/>
<circle cx="420.1" cy="142.5" r="2.35" fill="#a8163a" stroke="#1f0508" stroke-width="0.8"/>
<circle cx="421.7" cy="143.0" r="2.35" fill="#a8163a" stroke="#1f0508" stroke-width="0.8"/>
<circle cx="421.1" cy="144.0" r="2.35" fill="#a8163a" stroke="#1f0508" stroke-width="0.8"/>
<circle cx="468.1" cy="138.8" r="2.35" fill="#47a545" stroke="#0d1f0d" stroke-width="0.8"/>
<circle cx="467.0" cy="140.0" r="2.35" fill="#47a545" stroke="#0d1f0d" stroke-width="0.8"/>
<circle cx="469.3" cy="141.0" r="2.35" fill="#47a545" stroke="#0d1f0d" stroke-width="0.8"/>
<circle cx="470.1" cy="142.0" r="2.35" fill="#47a545" stroke="#0d1f0d" stroke-width="0.8"/>
<circle cx="466.8" cy="142.5" r="2.35" fill="#47a545" stroke="#0d1f0d" stroke-width="0.8"/>
<circle cx="469.2" cy="143.0" r="2.35" fill="#47a545" stroke="#0d1f0d" stroke-width="0.8"/>
<circle cx="466.9" cy="144.0" r="2.35" fill="#47a545" stroke="#0d1f0d" stroke-width="0.8"/>
<circle cx="466.1" cy="144.5" r="2.35" fill="#47a545" stroke="#0d1f0d" stroke-width="0.8"/>
<circle cx="467.0" cy="145.0" r="2.35" fill="#47a545" stroke="#0d1f0d" stroke-width="0.8"/>
<circle cx="469.1" cy="146.0" r="2.35" fill="#47a545" stroke="#0d1f0d" stroke-width="0.8"/>
<circle cx="451.3" cy="123.2" r="2.35" fill="#a8163a" stroke="#1f0508" stroke-width="0.8"/>
<circle cx="451.8" cy="125.0" r="2.35" fill="#a8163a" stroke="#1f0508" stroke-width="0.8"/>
<circle cx="451.4" cy="136.2" r="2.35" fill="#a8163a" stroke="#1f0508" stroke-width="0.8"/>
<circle cx="451.4" cy="138.0" r="2.35" fill="#a8163a" stroke="#1f0508" stroke-width="0.8"/>
<circle cx="453.1" cy="139.5" r="2.35" fill="#a8163a" stroke="#1f0508" stroke-width="0.8"/>
<circle cx="450.0" cy="140.0" r="2.35" fill="#a8163a" stroke="#1f0508" stroke-width="0.8"/>
<circle cx="453.9" cy="140.5" r="2.35" fill="#a8163a" stroke="#1f0508" stroke-width="0.8"/>
<circle cx="451.5" cy="141.5" r="2.35" fill="#a8163a" stroke="#1f0508" stroke-width="0.8"/>
<circle cx="449.3" cy="142.0" r="2.35" fill="#a8163a" stroke="#1f0508" stroke-width="0.8"/>
<circle cx="452.6" cy="142.5" r="2.35" fill="#a8163a" stroke="#1f0508" stroke-width="0.8"/>
<circle cx="450.0" cy="143.5" r="2.35" fill="#a8163a" stroke="#1f0508" stroke-width="0.8"/>
<text x="0.4" y="292.6" font-size="11.6" font-weight="bold" fill="#000">C</text>
<rect x="33.6" y="299.3" width="96.0" height="95.9" fill="none" stroke="#231f20" stroke-width="1.3"/>
<path d="M30.6 303.5 H33.6" stroke="#231f20" stroke-width="0.7"/>
<text x="27.8" y="305.7" font-size="6.3" text-anchor="end" fill="#231f20"  stroke="#231f20" stroke-width="0.16">250K</text>
<path d="M30.6 321.4 H33.6" stroke="#231f20" stroke-width="0.7"/>
<text x="27.8" y="323.6" font-size="6.3" text-anchor="end" fill="#231f20"  stroke="#231f20" stroke-width="0.16">200K</text>
<path d="M30.6 339.7 H33.6" stroke="#231f20" stroke-width="0.7"/>
<text x="27.8" y="341.9" font-size="6.3" text-anchor="end" fill="#231f20"  stroke="#231f20" stroke-width="0.16">150K</text>
<path d="M30.6 357.8 H33.6" stroke="#231f20" stroke-width="0.7"/>
<text x="27.8" y="360.0" font-size="6.3" text-anchor="end" fill="#231f20"  stroke="#231f20" stroke-width="0.16">100K</text>
<path d="M30.6 376.7 H33.6" stroke="#231f20" stroke-width="0.7"/>
<text x="27.8" y="378.9" font-size="6.3" text-anchor="end" fill="#231f20"  stroke="#231f20" stroke-width="0.16">50K</text>
<path d="M30.6 394.4 H33.6" stroke="#231f20" stroke-width="0.7"/>
<text x="27.8" y="396.6" font-size="6.3" text-anchor="end" fill="#231f20"  stroke="#231f20" stroke-width="0.16">0</text>
<path d="M32.0 303.5 H33.6 M32.0 307.1 H33.6 M32.0 310.8 H33.6 M32.0 314.4 H33.6 M32.0 318.0 H33.6 M32.0 321.7 H33.6 M32.0 325.3 H33.6 M32.0 329.0 H33.6 M32.0 332.6 H33.6 M32.0 336.2 H33.6 M32.0 339.9 H33.6 M32.0 343.5 H33.6 M32.0 347.1 H33.6 M32.0 350.8 H33.6 M32.0 354.4 H33.6 M32.0 358.0 H33.6 M32.0 361.7 H33.6 M32.0 365.3 H33.6 M32.0 368.9 H33.6 M32.0 372.6 H33.6 M32.0 376.2 H33.6 M32.0 379.9 H33.6 M32.0 383.5 H33.6 M32.0 387.1 H33.6 M32.0 390.8 H33.6 M32.0 394.4 H33.6" stroke="#231f20" stroke-width="0.45"/>
<path d="M33.2 395.2 V398.2" stroke="#231f20" stroke-width="0.7"/>
<text x="33.2" y="406.0" font-size="6.3" text-anchor="middle" fill="#231f20"  stroke="#231f20" stroke-width="0.16">0</text>
<path d="M52.3 395.2 V398.2" stroke="#231f20" stroke-width="0.7"/>
<text x="52.3" y="406.0" font-size="6.3" text-anchor="middle" fill="#231f20"  stroke="#231f20" stroke-width="0.16">50K</text>
<path d="M70.2 395.2 V398.2" stroke="#231f20" stroke-width="0.7"/>
<text x="70.2" y="406.0" font-size="6.3" text-anchor="middle" fill="#231f20"  stroke="#231f20" stroke-width="0.16">100K</text>
<path d="M89.2 395.2 V398.2" stroke="#231f20" stroke-width="0.7"/>
<text x="89.2" y="406.0" font-size="6.3" text-anchor="middle" fill="#231f20"  stroke="#231f20" stroke-width="0.16">150K</text>
<path d="M106.8 395.2 V398.2" stroke="#231f20" stroke-width="0.7"/>
<text x="106.8" y="406.0" font-size="6.3" text-anchor="middle" fill="#231f20"  stroke="#231f20" stroke-width="0.16">200K</text>
<path d="M124.6 395.2 V398.2" stroke="#231f20" stroke-width="0.7"/>
<text x="124.6" y="406.0" font-size="6.3" text-anchor="middle" fill="#231f20"  stroke="#231f20" stroke-width="0.16">250K</text>
<path d="M33.2 395.2 V396.8 M36.9 395.2 V396.8 M40.5 395.2 V396.8 M44.2 395.2 V396.8 M47.8 395.2 V396.8 M51.5 395.2 V396.8 M55.1 395.2 V396.8 M58.8 395.2 V396.8 M62.4 395.2 V396.8 M66.1 395.2 V396.8 M69.8 395.2 V396.8 M73.4 395.2 V396.8 M77.1 395.2 V396.8 M80.7 395.2 V396.8 M84.4 395.2 V396.8 M88.0 395.2 V396.8 M91.7 395.2 V396.8 M95.4 395.2 V396.8 M99.0 395.2 V396.8 M102.7 395.2 V396.8 M106.3 395.2 V396.8 M110.0 395.2 V396.8 M113.6 395.2 V396.8 M117.3 395.2 V396.8 M120.9 395.2 V396.8 M124.6 395.2 V396.8" stroke="#231f20" stroke-width="0.45"/>
<text transform="translate(8.2 364) rotate(-90)" font-size="9.2" fill="#231f20" textLength="18" lengthAdjust="spacingAndGlyphs" stroke="#231f20" stroke-width="0.16">SSC-A</text>
<path d="M6.2 416.2 V369.5 M6.2 416.2 H52" stroke="#231f20" stroke-width="1.0" fill="none"/>
<polygon points="6.2,367.4 4.3,371.2 8.1,371.2" fill="#231f20"/>
<polygon points="55.0,416.2 51.2,414.3 51.2,418.1" fill="#231f20"/>
<text x="58.5" y="419.3" font-size="8.4" text-anchor="start" fill="#231f20" textLength="17.8" lengthAdjust="spacingAndGlyphs" stroke="#231f20" stroke-width="0.16">FSC-A</text>
<rect x="33.6" y="431.0" width="96.0" height="96.0" fill="none" stroke="#231f20" stroke-width="1.3"/>
<path d="M30.6 435.4 H33.6" stroke="#231f20" stroke-width="0.7"/>
<text x="27.8" y="437.6" font-size="6.3" text-anchor="end" fill="#231f20"  stroke="#231f20" stroke-width="0.16">250K</text>
<path d="M30.6 453.7 H33.6" stroke="#231f20" stroke-width="0.7"/>
<text x="27.8" y="455.9" font-size="6.3" text-anchor="end" fill="#231f20"  stroke="#231f20" stroke-width="0.16">200K</text>
<path d="M30.6 471.6 H33.6" stroke="#231f20" stroke-width="0.7"/>
<text x="27.8" y="473.8" font-size="6.3" text-anchor="end" fill="#231f20"  stroke="#231f20" stroke-width="0.16">150K</text>
<path d="M30.6 490.1 H33.6" stroke="#231f20" stroke-width="0.7"/>
<text x="27.8" y="492.3" font-size="6.3" text-anchor="end" fill="#231f20"  stroke="#231f20" stroke-width="0.16">100K</text>
<path d="M30.6 508.0 H33.6" stroke="#231f20" stroke-width="0.7"/>
<text x="27.8" y="510.2" font-size="6.3" text-anchor="end" fill="#231f20"  stroke="#231f20" stroke-width="0.16">50K</text>
<path d="M30.6 526.5 H33.6" stroke="#231f20" stroke-width="0.7"/>
<text x="27.8" y="528.7" font-size="6.3" text-anchor="end" fill="#231f20"  stroke="#231f20" stroke-width="0.16">0</text>
<path d="M32.0 435.4 H33.6 M32.0 439.0 H33.6 M32.0 442.7 H33.6 M32.0 446.3 H33.6 M32.0 450.0 H33.6 M32.0 453.6 H33.6 M32.0 457.3 H33.6 M32.0 460.9 H33.6 M32.0 464.6 H33.6 M32.0 468.2 H33.6 M32.0 471.8 H33.6 M32.0 475.5 H33.6 M32.0 479.1 H33.6 M32.0 482.8 H33.6 M32.0 486.4 H33.6 M32.0 490.1 H33.6 M32.0 493.7 H33.6 M32.0 497.3 H33.6 M32.0 501.0 H33.6 M32.0 504.6 H33.6 M32.0 508.3 H33.6 M32.0 511.9 H33.6 M32.0 515.6 H33.6 M32.0 519.2 H33.6 M32.0 522.9 H33.6 M32.0 526.5 H33.6" stroke="#231f20" stroke-width="0.45"/>
<path d="M33.2 527.0 V530.0" stroke="#231f20" stroke-width="0.7"/>
<text x="33.2" y="538.9" font-size="6.3" text-anchor="middle" fill="#231f20"  stroke="#231f20" stroke-width="0.16">0</text>
<path d="M52.3 527.0 V530.0" stroke="#231f20" stroke-width="0.7"/>
<text x="52.3" y="538.9" font-size="6.3" text-anchor="middle" fill="#231f20"  stroke="#231f20" stroke-width="0.16">50K</text>
<path d="M70.2 527.0 V530.0" stroke="#231f20" stroke-width="0.7"/>
<text x="70.2" y="538.9" font-size="6.3" text-anchor="middle" fill="#231f20"  stroke="#231f20" stroke-width="0.16">100K</text>
<path d="M89.2 527.0 V530.0" stroke="#231f20" stroke-width="0.7"/>
<text x="89.2" y="538.9" font-size="6.3" text-anchor="middle" fill="#231f20"  stroke="#231f20" stroke-width="0.16">150K</text>
<path d="M106.8 527.0 V530.0" stroke="#231f20" stroke-width="0.7"/>
<text x="106.8" y="538.9" font-size="6.3" text-anchor="middle" fill="#231f20"  stroke="#231f20" stroke-width="0.16">200K</text>
<path d="M124.6 527.0 V530.0" stroke="#231f20" stroke-width="0.7"/>
<text x="124.6" y="538.9" font-size="6.3" text-anchor="middle" fill="#231f20"  stroke="#231f20" stroke-width="0.16">250K</text>
<path d="M33.2 527.0 V528.6 M36.9 527.0 V528.6 M40.5 527.0 V528.6 M44.2 527.0 V528.6 M47.8 527.0 V528.6 M51.5 527.0 V528.6 M55.1 527.0 V528.6 M58.8 527.0 V528.6 M62.4 527.0 V528.6 M66.1 527.0 V528.6 M69.8 527.0 V528.6 M73.4 527.0 V528.6 M77.1 527.0 V528.6 M80.7 527.0 V528.6 M84.4 527.0 V528.6 M88.0 527.0 V528.6 M91.7 527.0 V528.6 M95.4 527.0 V528.6 M99.0 527.0 V528.6 M102.7 527.0 V528.6 M106.3 527.0 V528.6 M110.0 527.0 V528.6 M113.6 527.0 V528.6 M117.3 527.0 V528.6 M120.9 527.0 V528.6 M124.6 527.0 V528.6" stroke="#231f20" stroke-width="0.45"/>
<text transform="translate(8.1 495.9) rotate(-90)" font-size="9.2" fill="#231f20" textLength="18.1" lengthAdjust="spacingAndGlyphs" stroke="#231f20" stroke-width="0.16">FSC-H</text>
<path d="M6.2 548.6 V501.6 M6.2 548.6 H52" stroke="#231f20" stroke-width="1.0" fill="none"/>
<polygon points="6.2,499.5 4.3,503.3 8.1,503.3" fill="#231f20"/>
<polygon points="55.0,548.6 51.2,546.7 51.2,550.5" fill="#231f20"/>
<text x="58.5" y="551.7" font-size="8.4" text-anchor="start" fill="#231f20" textLength="17.8" lengthAdjust="spacingAndGlyphs" stroke="#231f20" stroke-width="0.16">FSC-A</text>
<rect x="33.2" y="563.0" width="95.5" height="95.2" fill="none" stroke="#231f20" stroke-width="1.3"/>
<path d="M30 573 H33" stroke="#231f20" stroke-width="0.7"/>
<text x="19.6" y="575.4" font-size="6.6" fill="#231f20" stroke="#231f20" stroke-width="0.16">10<tspan font-size="4.6" dy="-2.8">5</tspan></text>
<path d="M30 595 H33" stroke="#231f20" stroke-width="0.7"/>
<text x="19.6" y="597.4" font-size="6.6" fill="#231f20" stroke="#231f20" stroke-width="0.16">10<tspan font-size="4.6" dy="-2.8">4</tspan></text>
<path d="M30 621.75 H33" stroke="#231f20" stroke-width="0.7"/>
<text x="19.6" y="624.15" font-size="6.6" fill="#231f20" stroke="#231f20" stroke-width="0.16">10<tspan font-size="4.6" dy="-2.8">3</tspan></text>
<path d="M30 636.25 H33 M30 653.75 H33" stroke="#231f20" stroke-width="0.7"/>
<text x="27.4" y="638.6" font-size="6.6" text-anchor="end" fill="#231f20"  stroke="#231f20" stroke-width="0.16">0</text>
<text x="12.4" y="656.1" font-size="6.6" fill="#231f20" stroke="#231f20" stroke-width="0.16">−10<tspan font-size="4.6" dy="-2.8">3</tspan></text>
<path d="M31.4 588.4 H33 M31.4 584.5 H33 M31.4 581.8 H33 M31.4 579.6 H33 M31.4 577.9 H33 M31.4 576.4 H33 M31.4 575.1 H33 M31.4 574.0 H33 M31.4 613.7 H33 M31.4 609.0 H33 M31.4 605.6 H33 M31.4 603.1 H33 M31.4 600.9 H33 M31.4 599.1 H33 M31.4 597.6 H33 M31.4 596.2 H33 M31.4 641.0 H33 M31.4 645.0 H33 M31.4 649.0 H33 M31.4 629.0 H33 M31.4 625.0 H33 M79.6 658.2 V659.8 M83.8 658.2 V659.8 M86.8 658.2 V659.8 M89.1 658.2 V659.8 M91.0 658.2 V659.8 M92.6 658.2 V659.8 M93.9 658.2 V659.8 M95.2 658.2 V659.8 M103.8 658.2 V659.8 M108.2 658.2 V659.8 M111.3 658.2 V659.8 M113.7 658.2 V659.8 M115.7 658.2 V659.8 M117.4 658.2 V659.8 M118.8 658.2 V659.8 M120.1 658.2 V659.8 M36.0 658.2 V659.8 M43.0 658.2 V659.8 M47.0 658.2 V659.8 M51.0 658.2 V659.8 M55.0 658.2 V659.8 M59.0 658.2 V659.8 M63.0 658.2 V659.8 M67.0 658.2 V659.8" stroke="#231f20" stroke-width="0.45"/>
<path d="M72.5 658.2 V661" stroke="#231f20" stroke-width="0.7"/>
<text x="67.9" y="671.2" font-size="6.6" fill="#231f20" stroke="#231f20" stroke-width="0.16">10<tspan font-size="4.6" dy="-2.8">4</tspan></text>
<path d="M96.25 658.2 V661" stroke="#231f20" stroke-width="0.7"/>
<text x="91.7" y="671.2" font-size="6.6" fill="#231f20" stroke="#231f20" stroke-width="0.16">10<tspan font-size="4.6" dy="-2.8">5</tspan></text>
<path d="M121.25 658.2 V661" stroke="#231f20" stroke-width="0.7"/>
<text x="116.7" y="671.2" font-size="6.6" fill="#231f20" stroke="#231f20" stroke-width="0.16">10<tspan font-size="4.6" dy="-2.8">6</tspan></text>
<path d="M39.5 658.2 V661" stroke="#231f20" stroke-width="0.7"/>
<text x="39.5" y="671.2" font-size="6.6" text-anchor="middle" fill="#231f20"  stroke="#231f20" stroke-width="0.16">0</text>
<text transform="translate(8.0 628.1) rotate(-90)" font-size="9.4" fill="#231f20" textLength="31.2" lengthAdjust="spacingAndGlyphs" stroke="#231f20" stroke-width="0.16">CD56 [PE]</text>
<path d="M5.5 678.75 V634.6 M5.5 678.75 H51" stroke="#231f20" stroke-width="1.0" fill="none"/>
<polygon points="5.5,632.5 3.6,636.3 7.4,636.3" fill="#231f20"/>
<polygon points="53.9,678.8 50.1,676.9 50.1,680.6" fill="#231f20"/>
<text x="57.5" y="682.2" font-size="8.4" text-anchor="start" fill="#231f20" textLength="41" lengthAdjust="spacingAndGlyphs" stroke="#231f20" stroke-width="0.16">CD3 [PE/Cy7]</text>
<path d="M55.2 392 L33.6 431 M98.3 355.6 L129.6 431" stroke="#000" stroke-width="1.1" fill="none"/>
<path d="M49.6 506.8 L33.0 563 M101.1 478.9 L128.7 563" stroke="#000" stroke-width="1.1" fill="none"/>
<path d="M138 618.5 H146.6 V350.5 H270" stroke="#231f20" stroke-width="1.0" fill="none"/>
<polygon points="135.6,618.5 139.4,616.6 139.4,620.4" fill="#231f20"/>
<polygon points="272.6,350.5 268.8,348.6 268.8,352.4" fill="#231f20"/>
<text x="181.4" y="345.6" font-size="7.0" text-anchor="start" fill="#231f20" textLength="47.8" lengthAdjust="spacingAndGlyphs" stroke="#231f20" stroke-width="0.16">t-SNE algorithm</text>
<text x="168.8" y="361.1" font-size="7" fill="#231f20" textLength="75" lengthAdjust="spacingAndGlyphs" stroke="#231f20" stroke-width="0.16">CD4 | CD8| HK2 | CPT1α</text>
<rect x="308.7" y="299.3" width="95.6" height="95.7" fill="none" stroke="#231f20" stroke-width="1.0"/>
<path d="M305.7 312.0 H308.7" stroke="#231f20" stroke-width="0.7"/>
<text x="302.6" y="314.3" font-size="6.6" text-anchor="end" fill="#231f20"  stroke="#231f20" stroke-width="0.16">200</text>
<path d="M305.7 330.3 H308.7" stroke="#231f20" stroke-width="0.7"/>
<text x="302.6" y="332.6" font-size="6.6" text-anchor="end" fill="#231f20"  stroke="#231f20" stroke-width="0.16">150</text>
<path d="M305.7 348.6 H308.7" stroke="#231f20" stroke-width="0.7"/>
<text x="302.6" y="350.9" font-size="6.6" text-anchor="end" fill="#231f20"  stroke="#231f20" stroke-width="0.16">100</text>
<path d="M305.7 367.1 H308.7" stroke="#231f20" stroke-width="0.7"/>
<text x="302.6" y="369.4" font-size="6.6" text-anchor="end" fill="#231f20"  stroke="#231f20" stroke-width="0.16">50</text>
<path d="M305.7 385.4 H308.7" stroke="#231f20" stroke-width="0.7"/>
<text x="302.6" y="387.7" font-size="6.6" text-anchor="end" fill="#231f20"  stroke="#231f20" stroke-width="0.16">0</text>
<path d="M307.3 302.9 H308.7 M307.3 306.2 H308.7 M307.3 309.5 H308.7 M307.3 312.8 H308.7 M307.3 316.1 H308.7 M307.3 319.4 H308.7 M307.3 322.7 H308.7 M307.3 326.0 H308.7 M307.3 329.3 H308.7 M307.3 332.6 H308.7 M307.3 335.9 H308.7 M307.3 339.2 H308.7 M307.3 342.5 H308.7 M307.3 345.8 H308.7 M307.3 349.1 H308.7 M307.3 352.4 H308.7 M307.3 355.7 H308.7 M307.3 359.0 H308.7 M307.3 362.3 H308.7 M307.3 365.6 H308.7 M307.3 368.9 H308.7 M307.3 372.2 H308.7 M307.3 375.5 H308.7 M307.3 378.8 H308.7 M307.3 382.1 H308.7 M307.3 385.4 H308.7" stroke="#231f20" stroke-width="0.45"/>
<path d="M317.4 395.0 V398.0" stroke="#231f20" stroke-width="0.7"/>
<text x="317.4" y="407.5" font-size="6.6" text-anchor="middle" fill="#231f20"  stroke="#231f20" stroke-width="0.16">0</text>
<path d="M336.1 395.0 V398.0" stroke="#231f20" stroke-width="0.7"/>
<text x="336.1" y="407.5" font-size="6.6" text-anchor="middle" fill="#231f20"  stroke="#231f20" stroke-width="0.16">50</text>
<path d="M354.8 395.0 V398.0" stroke="#231f20" stroke-width="0.7"/>
<text x="354.8" y="407.5" font-size="6.6" text-anchor="middle" fill="#231f20"  stroke="#231f20" stroke-width="0.16">100</text>
<path d="M373.5 395.0 V398.0" stroke="#231f20" stroke-width="0.7"/>
<text x="373.5" y="407.5" font-size="6.6" text-anchor="middle" fill="#231f20"  stroke="#231f20" stroke-width="0.16">150</text>
<path d="M392.2 395.0 V398.0" stroke="#231f20" stroke-width="0.7"/>
<text x="392.2" y="407.5" font-size="6.6" text-anchor="middle" fill="#231f20"  stroke="#231f20" stroke-width="0.16">200</text>
<path d="M317.4 395.0 V396.4 M320.8 395.0 V396.4 M324.1 395.0 V396.4 M327.5 395.0 V396.4 M330.9 395.0 V396.4 M334.2 395.0 V396.4 M337.6 395.0 V396.4 M340.9 395.0 V396.4 M344.3 395.0 V396.4 M347.7 395.0 V396.4 M351.0 395.0 V396.4 M354.4 395.0 V396.4 M357.8 395.0 V396.4 M361.1 395.0 V396.4 M364.5 395.0 V396.4 M367.9 395.0 V396.4 M371.2 395.0 V396.4 M374.6 395.0 V396.4 M378.0 395.0 V396.4 M381.3 395.0 V396.4 M384.7 395.0 V396.4 M388.0 395.0 V396.4 M391.4 395.0 V396.4 M394.8 395.0 V396.4 M398.1 395.0 V396.4 M401.5 395.0 V396.4" stroke="#231f20" stroke-width="0.45"/>
<text x="334.7" y="294.0" font-size="8.6" text-anchor="start" fill="#231f20" textLength="43.5" lengthAdjust="spacingAndGlyphs" stroke="#231f20" stroke-width="0.16">All timepoints</text>
<text transform="translate(285.6 359.8) rotate(-90)" font-size="8.6" fill="#231f20" textLength="25.3" lengthAdjust="spacingAndGlyphs" stroke="#231f20" stroke-width="0.16">t-SNE_2</text>
<text x="344.0" y="418.7" font-size="8.4" text-anchor="start" fill="#231f20" textLength="24" lengthAdjust="spacingAndGlyphs" stroke="#231f20" stroke-width="0.16">t-SNE_1</text>
<path d="M351.7 427.5 L249 448.6 M351.7 427.5 V446.5 M351.7 427.5 L454 448.6" stroke="#231f20" stroke-width="1.0" fill="none"/>
<polygon points="246.2,449.2 249.5,446.9 250.0,450.3" fill="#231f20"/>
<polygon points="351.7,449.2 349.8,445.4 353.6,445.4" fill="#231f20"/>
<polygon points="457.0,449.4 453.2,447.2 452.8,450.6" fill="#231f20"/>
<rect x="183.1" y="467.3" width="96.9" height="96.3" fill="none" stroke="#231f20" stroke-width="1.0"/>
<path d="M180.1 480.4 H183.1" stroke="#231f20" stroke-width="0.7"/>
<text x="177.7" y="482.7" font-size="6.6" text-anchor="end" fill="#231f20"  stroke="#231f20" stroke-width="0.16">200</text>
<path d="M180.1 499.3 H183.1" stroke="#231f20" stroke-width="0.7"/>
<text x="177.7" y="501.6" font-size="6.6" text-anchor="end" fill="#231f20"  stroke="#231f20" stroke-width="0.16">150</text>
<path d="M180.1 517.3 H183.1" stroke="#231f20" stroke-width="0.7"/>
<text x="177.7" y="519.6" font-size="6.6" text-anchor="end" fill="#231f20"  stroke="#231f20" stroke-width="0.16">100</text>
<path d="M180.1 535.6 H183.1" stroke="#231f20" stroke-width="0.7"/>
<text x="177.7" y="537.9" font-size="6.6" text-anchor="end" fill="#231f20"  stroke="#231f20" stroke-width="0.16">50</text>
<path d="M180.1 553.7 H183.1" stroke="#231f20" stroke-width="0.7"/>
<text x="177.7" y="556.0" font-size="6.6" text-anchor="end" fill="#231f20"  stroke="#231f20" stroke-width="0.16">0</text>
<path d="M181.7 471.3 H183.1 M181.7 474.6 H183.1 M181.7 477.9 H183.1 M181.7 481.2 H183.1 M181.7 484.5 H183.1 M181.7 487.8 H183.1 M181.7 491.1 H183.1 M181.7 494.4 H183.1 M181.7 497.7 H183.1 M181.7 501.0 H183.1 M181.7 504.3 H183.1 M181.7 507.6 H183.1 M181.7 510.9 H183.1 M181.7 514.1 H183.1 M181.7 517.4 H183.1 M181.7 520.7 H183.1 M181.7 524.0 H183.1 M181.7 527.3 H183.1 M181.7 530.6 H183.1 M181.7 533.9 H183.1 M181.7 537.2 H183.1 M181.7 540.5 H183.1 M181.7 543.8 H183.1 M181.7 547.1 H183.1 M181.7 550.4 H183.1 M181.7 553.7 H183.1" stroke="#231f20" stroke-width="0.45"/>
<path d="M193.1 563.6 V566.6" stroke="#231f20" stroke-width="0.7"/>
<text x="193.1" y="576.7" font-size="6.6" text-anchor="middle" fill="#231f20"  stroke="#231f20" stroke-width="0.16">0</text>
<path d="M211.4 563.6 V566.6" stroke="#231f20" stroke-width="0.7"/>
<text x="211.4" y="576.7" font-size="6.6" text-anchor="middle" fill="#231f20"  stroke="#231f20" stroke-width="0.16">50</text>
<path d="M230.0 563.6 V566.6" stroke="#231f20" stroke-width="0.7"/>
<text x="230.0" y="576.7" font-size="6.6" text-anchor="middle" fill="#231f20"  stroke="#231f20" stroke-width="0.16">100</text>
<path d="M248.3 563.6 V566.6" stroke="#231f20" stroke-width="0.7"/>
<text x="248.3" y="576.7" font-size="6.6" text-anchor="middle" fill="#231f20"  stroke="#231f20" stroke-width="0.16">150</text>
<path d="M266.6 563.6 V566.6" stroke="#231f20" stroke-width="0.7"/>
<text x="266.6" y="576.7" font-size="6.6" text-anchor="middle" fill="#231f20"  stroke="#231f20" stroke-width="0.16">200</text>
<path d="M193.1 563.6 V565.0 M196.4 563.6 V565.0 M199.7 563.6 V565.0 M203.0 563.6 V565.0 M206.3 563.6 V565.0 M209.7 563.6 V565.0 M213.0 563.6 V565.0 M216.3 563.6 V565.0 M219.6 563.6 V565.0 M222.9 563.6 V565.0 M226.2 563.6 V565.0 M229.5 563.6 V565.0 M232.8 563.6 V565.0 M236.2 563.6 V565.0 M239.5 563.6 V565.0 M242.8 563.6 V565.0 M246.1 563.6 V565.0 M249.4 563.6 V565.0 M252.7 563.6 V565.0 M256.0 563.6 V565.0 M259.3 563.6 V565.0 M262.7 563.6 V565.0 M266.0 563.6 V565.0 M269.3 563.6 V565.0 M272.6 563.6 V565.0 M275.9 563.6 V565.0" stroke="#231f20" stroke-width="0.45"/>
<rect x="303.75" y="467.3" width="93.8" height="96.3" fill="none" stroke="#231f20" stroke-width="1.0"/>
<path d="M300.8 480.5 H303.75" stroke="#231f20" stroke-width="0.7"/>
<text x="297.8" y="482.8" font-size="6.6" text-anchor="end" fill="#231f20"  stroke="#231f20" stroke-width="0.16">200</text>
<path d="M300.8 499.0 H303.75" stroke="#231f20" stroke-width="0.7"/>
<text x="297.8" y="501.3" font-size="6.6" text-anchor="end" fill="#231f20"  stroke="#231f20" stroke-width="0.16">150</text>
<path d="M300.8 517.3 H303.75" stroke="#231f20" stroke-width="0.7"/>
<text x="297.8" y="519.6" font-size="6.6" text-anchor="end" fill="#231f20"  stroke="#231f20" stroke-width="0.16">100</text>
<path d="M300.8 535.6 H303.75" stroke="#231f20" stroke-width="0.7"/>
<text x="297.8" y="537.9" font-size="6.6" text-anchor="end" fill="#231f20"  stroke="#231f20" stroke-width="0.16">50</text>
<path d="M300.8 553.8 H303.75" stroke="#231f20" stroke-width="0.7"/>
<text x="297.8" y="556.0" font-size="6.6" text-anchor="end" fill="#231f20"  stroke="#231f20" stroke-width="0.16">0</text>
<path d="M302.4 471.4 H303.8 M302.4 474.7 H303.8 M302.4 478.0 H303.8 M302.4 481.3 H303.8 M302.4 484.6 H303.8 M302.4 487.9 H303.8 M302.4 491.2 H303.8 M302.4 494.5 H303.8 M302.4 497.8 H303.8 M302.4 501.0 H303.8 M302.4 504.3 H303.8 M302.4 507.6 H303.8 M302.4 510.9 H303.8 M302.4 514.2 H303.8 M302.4 517.5 H303.8 M302.4 520.8 H303.8 M302.4 524.1 H303.8 M302.4 527.4 H303.8 M302.4 530.7 H303.8 M302.4 534.0 H303.8 M302.4 537.3 H303.8 M302.4 540.6 H303.8 M302.4 543.9 H303.8 M302.4 547.2 H303.8 M302.4 550.5 H303.8 M302.4 553.8 H303.8" stroke="#231f20" stroke-width="0.45"/>
<path d="M312.0 563.6 V566.6" stroke="#231f20" stroke-width="0.7"/>
<text x="312.0" y="576.7" font-size="6.6" text-anchor="middle" fill="#231f20"  stroke="#231f20" stroke-width="0.16">0</text>
<path d="M330.9 563.6 V566.6" stroke="#231f20" stroke-width="0.7"/>
<text x="330.9" y="576.7" font-size="6.6" text-anchor="middle" fill="#231f20"  stroke="#231f20" stroke-width="0.16">50</text>
<path d="M349.8 563.6 V566.6" stroke="#231f20" stroke-width="0.7"/>
<text x="349.8" y="576.7" font-size="6.6" text-anchor="middle" fill="#231f20"  stroke="#231f20" stroke-width="0.16">100</text>
<path d="M368.7 563.6 V566.6" stroke="#231f20" stroke-width="0.7"/>
<text x="368.7" y="576.7" font-size="6.6" text-anchor="middle" fill="#231f20"  stroke="#231f20" stroke-width="0.16">150</text>
<path d="M387.5 563.6 V566.6" stroke="#231f20" stroke-width="0.7"/>
<text x="387.5" y="576.7" font-size="6.6" text-anchor="middle" fill="#231f20"  stroke="#231f20" stroke-width="0.16">200</text>
<path d="M312.0 563.6 V565.0 M315.4 563.6 V565.0 M318.8 563.6 V565.0 M322.2 563.6 V565.0 M325.6 563.6 V565.0 M329.0 563.6 V565.0 M332.4 563.6 V565.0 M335.7 563.6 V565.0 M339.1 563.6 V565.0 M342.5 563.6 V565.0 M345.9 563.6 V565.0 M349.3 563.6 V565.0 M352.7 563.6 V565.0 M356.1 563.6 V565.0 M359.5 563.6 V565.0 M362.9 563.6 V565.0 M366.3 563.6 V565.0 M369.7 563.6 V565.0 M373.1 563.6 V565.0 M376.4 563.6 V565.0 M379.8 563.6 V565.0 M383.2 563.6 V565.0 M386.6 563.6 V565.0 M390.0 563.6 V565.0 M393.4 563.6 V565.0 M396.8 563.6 V565.0" stroke="#231f20" stroke-width="0.45"/>
<rect x="423.25" y="467.3" width="95.5" height="96.3" fill="none" stroke="#231f20" stroke-width="1.0"/>
<path d="M420.2 480.5 H423.25" stroke="#231f20" stroke-width="0.7"/>
<text x="417.3" y="482.8" font-size="6.6" text-anchor="end" fill="#231f20"  stroke="#231f20" stroke-width="0.16">200</text>
<path d="M420.2 499.0 H423.25" stroke="#231f20" stroke-width="0.7"/>
<text x="417.3" y="501.3" font-size="6.6" text-anchor="end" fill="#231f20"  stroke="#231f20" stroke-width="0.16">150</text>
<path d="M420.2 517.3 H423.25" stroke="#231f20" stroke-width="0.7"/>
<text x="417.3" y="519.6" font-size="6.6" text-anchor="end" fill="#231f20"  stroke="#231f20" stroke-width="0.16">100</text>
<path d="M420.2 535.6 H423.25" stroke="#231f20" stroke-width="0.7"/>
<text x="417.3" y="537.9" font-size="6.6" text-anchor="end" fill="#231f20"  stroke="#231f20" stroke-width="0.16">50</text>
<path d="M420.2 553.8 H423.25" stroke="#231f20" stroke-width="0.7"/>
<text x="417.3" y="556.0" font-size="6.6" text-anchor="end" fill="#231f20"  stroke="#231f20" stroke-width="0.16">0</text>
<path d="M421.9 471.4 H423.2 M421.9 474.7 H423.2 M421.9 478.0 H423.2 M421.9 481.3 H423.2 M421.9 484.6 H423.2 M421.9 487.9 H423.2 M421.9 491.2 H423.2 M421.9 494.5 H423.2 M421.9 497.8 H423.2 M421.9 501.0 H423.2 M421.9 504.3 H423.2 M421.9 507.6 H423.2 M421.9 510.9 H423.2 M421.9 514.2 H423.2 M421.9 517.5 H423.2 M421.9 520.8 H423.2 M421.9 524.1 H423.2 M421.9 527.4 H423.2 M421.9 530.7 H423.2 M421.9 534.0 H423.2 M421.9 537.3 H423.2 M421.9 540.6 H423.2 M421.9 543.9 H423.2 M421.9 547.2 H423.2 M421.9 550.5 H423.2 M421.9 553.8 H423.2" stroke="#231f20" stroke-width="0.45"/>
<path d="M432.5 563.6 V566.6" stroke="#231f20" stroke-width="0.7"/>
<text x="432.5" y="576.7" font-size="6.6" text-anchor="middle" fill="#231f20"  stroke="#231f20" stroke-width="0.16">0</text>
<path d="M451.4 563.6 V566.6" stroke="#231f20" stroke-width="0.7"/>
<text x="451.4" y="576.7" font-size="6.6" text-anchor="middle" fill="#231f20"  stroke="#231f20" stroke-width="0.16">50</text>
<path d="M470.3 563.6 V566.6" stroke="#231f20" stroke-width="0.7"/>
<text x="470.3" y="576.7" font-size="6.6" text-anchor="middle" fill="#231f20"  stroke="#231f20" stroke-width="0.16">100</text>
<path d="M489.2 563.6 V566.6" stroke="#231f20" stroke-width="0.7"/>
<text x="489.2" y="576.7" font-size="6.6" text-anchor="middle" fill="#231f20"  stroke="#231f20" stroke-width="0.16">150</text>
<path d="M508.0 563.6 V566.6" stroke="#231f20" stroke-width="0.7"/>
<text x="508.0" y="576.7" font-size="6.6" text-anchor="middle" fill="#231f20"  stroke="#231f20" stroke-width="0.16">200</text>
<path d="M432.5 563.6 V565.0 M435.9 563.6 V565.0 M439.3 563.6 V565.0 M442.7 563.6 V565.0 M446.1 563.6 V565.0 M449.5 563.6 V565.0 M452.9 563.6 V565.0 M456.2 563.6 V565.0 M459.6 563.6 V565.0 M463.0 563.6 V565.0 M466.4 563.6 V565.0 M469.8 563.6 V565.0 M473.2 563.6 V565.0 M476.6 563.6 V565.0 M480.0 563.6 V565.0 M483.4 563.6 V565.0 M486.8 563.6 V565.0 M490.2 563.6 V565.0 M493.6 563.6 V565.0 M496.9 563.6 V565.0 M500.3 563.6 V565.0 M503.7 563.6 V565.0 M507.1 563.6 V565.0 M510.5 563.6 V565.0 M513.9 563.6 V565.0 M517.3 563.6 V565.0" stroke="#231f20" stroke-width="0.45"/>
<text x="225.5" y="462.7" font-size="9.0" text-anchor="start" fill="#231f20" textLength="12.7" lengthAdjust="spacingAndGlyphs" stroke="#231f20" stroke-width="0.16">HD</text>
<text x="334.5" y="462.6" font-size="8.8" fill="#231f20" stroke="#231f20" stroke-width="0.16"><tspan textLength="28.5" lengthAdjust="spacingAndGlyphs">8-ohdg</tspan><tspan font-size="5.4" dy="-3.6">hi</tspan></text>
<text x="454.2" y="462.6" font-size="8.8" fill="#231f20" stroke="#231f20" stroke-width="0.16"><tspan textLength="28.5" lengthAdjust="spacingAndGlyphs">8-ohdg</tspan><tspan font-size="5.4" dy="-3.6">lo</tspan></text>
<text transform="translate(164.4 534.2) rotate(-90)" font-size="8.6" fill="#231f20" textLength="25.4" lengthAdjust="spacingAndGlyphs" stroke="#231f20" stroke-width="0.16">t-SNE_2</text>
<path d="M160.8 583.3 V541 M160.8 583.3 H207.5" stroke="#231f20" stroke-width="1.0" fill="none"/>
<polygon points="160.8,538.9 158.9,542.7 162.7,542.7" fill="#231f20"/>
<polygon points="209.8,583.3 206.0,581.4 206.0,585.2" fill="#231f20"/>
<text x="213.3" y="586.3" font-size="8.4" text-anchor="start" fill="#231f20" textLength="25" lengthAdjust="spacingAndGlyphs" stroke="#231f20" stroke-width="0.16">t-SNE_1</text>
<defs><filter id="sb" x="-5%" y="-5%" width="110%" height="110%"><feGaussianBlur stdDeviation="0.35"/></filter></defs>
<g shape-rendering="crispEdges" filter="url(#sb)">
<path fill="#3a2a9e" d="M360 306h2v1h-2zM356 307h8v1h-8zM353 308h4v1h-4zM363 308h4v1h-4zM350 309h4v1h-4zM366 309h4v1h-4zM348 310h3v1h-3zM369 310h3v1h-3zM346 311h3v1h-3zM371 311h2v1h-2zM345 312h2v1h-2zM372 312h2v1h-2zM344 313h2v1h-2zM373 313h1v1h-1zM342 314h3v1h-3zM373 314h2v1h-2zM341 315h2v1h-2zM374 315h2v1h-2zM339 316h3v1h-3zM375 316h1v1h-1zM337 317h7v1h-7zM375 317h1v1h-1zM335 318h3v1h-3zM340 318h1v1h-1zM343 318h1v1h-1zM375 318h1v1h-1zM333 319h3v1h-3zM340 319h4v1h-4zM375 319h1v1h-1zM332 320h2v1h-2zM375 320h1v1h-1zM331 321h2v1h-2zM341 321h3v1h-3zM375 321h2v1h-2zM330 322h2v1h-2zM342 322h4v1h-4zM374 322h4v1h-4zM329 323h2v1h-2zM342 323h1v1h-1zM344 323h2v1h-2zM371 323h1v1h-1zM373 323h3v1h-3zM377 323h2v1h-2zM329 324h1v1h-1zM342 324h5v1h-5zM365 324h1v1h-1zM378 324h3v1h-3zM328 325h2v1h-2zM380 325h2v1h-2zM328 326h1v1h-1zM381 326h3v1h-3zM328 327h1v1h-1zM383 327h2v1h-2zM327 328h2v1h-2zM384 328h2v1h-2zM326 329h2v1h-2zM385 329h2v1h-2zM325 330h2v1h-2zM386 330h1v1h-1zM324 331h2v1h-2zM386 331h1v1h-1zM323 332h2v1h-2zM386 332h2v1h-2zM323 333h1v1h-1zM387 333h1v1h-1zM323 334h1v1h-1zM386 334h2v1h-2zM322 335h2v1h-2zM386 335h1v1h-1zM322 336h1v1h-1zM385 336h2v1h-2zM321 337h2v1h-2zM385 337h1v1h-1zM320 338h2v1h-2zM385 338h2v1h-2zM320 339h1v1h-1zM386 339h4v1h-4zM319 340h2v1h-2zM389 340h3v1h-3zM319 341h1v1h-1zM391 341h2v1h-2zM318 342h2v1h-2zM392 342h2v1h-2zM318 343h1v1h-1zM393 343h2v1h-2zM318 344h1v1h-1zM394 344h2v1h-2zM318 345h1v1h-1zM395 345h1v1h-1zM318 346h2v1h-2zM395 346h1v1h-1zM319 347h1v1h-1zM395 347h1v1h-1zM319 348h1v1h-1zM395 348h1v1h-1zM319 349h1v1h-1zM395 349h1v1h-1zM319 350h1v1h-1zM395 350h1v1h-1zM319 351h1v1h-1zM395 351h1v1h-1zM319 352h2v1h-2zM394 352h2v1h-2zM320 353h1v1h-1zM394 353h1v1h-1zM320 354h1v1h-1zM393 354h2v1h-2zM320 355h2v1h-2zM393 355h1v1h-1zM321 356h1v1h-1zM392 356h2v1h-2zM321 357h2v1h-2zM391 357h2v1h-2zM322 358h1v1h-1zM390 358h2v1h-2zM322 359h2v1h-2zM389 359h2v1h-2zM323 360h2v1h-2zM388 360h2v1h-2zM324 361h2v1h-2zM386 361h3v1h-3zM325 362h2v1h-2zM385 362h2v1h-2zM326 363h2v1h-2zM383 363h3v1h-3zM327 364h2v1h-2zM381 364h3v1h-3zM328 365h2v1h-2zM379 365h3v1h-3zM329 366h1v1h-1zM335 366h4v1h-4zM378 366h2v1h-2zM329 367h1v1h-1zM337 367h3v1h-3zM377 367h2v1h-2zM329 368h1v1h-1zM338 368h2v1h-2zM377 368h1v1h-1zM328 369h2v1h-2zM377 369h1v1h-1zM328 370h1v1h-1zM377 370h1v1h-1zM328 371h2v1h-2zM376 371h2v1h-2zM329 372h1v1h-1zM376 372h1v1h-1zM329 373h3v1h-3zM375 373h2v1h-2zM331 374h2v1h-2zM375 374h1v1h-1zM332 375h7v1h-7zM375 375h2v1h-2zM338 376h3v1h-3zM376 376h1v1h-1zM340 377h2v1h-2zM376 377h1v1h-1zM341 378h2v1h-2zM374 378h3v1h-3zM342 379h2v1h-2zM371 379h4v1h-4zM343 380h3v1h-3zM368 380h4v1h-4zM345 381h3v1h-3zM365 381h4v1h-4zM347 382h5v1h-5zM362 382h4v1h-4zM351 383h12v1h-12z"/>
<path fill="#2a60d0" d="M357 308h6v1h-6zM354 309h4v1h-4zM362 309h4v1h-4zM351 310h7v1h-7zM365 310h4v1h-4zM349 311h3v1h-3zM368 311h3v1h-3zM347 312h3v1h-3zM370 312h2v1h-2zM346 313h2v1h-2zM371 313h2v1h-2zM345 314h2v1h-2zM372 314h1v1h-1zM343 315h3v1h-3zM372 315h2v1h-2zM342 316h3v1h-3zM373 316h2v1h-2zM344 317h1v1h-1zM374 317h1v1h-1zM338 318h2v1h-2zM344 318h1v1h-1zM374 318h1v1h-1zM336 319h4v1h-4zM344 319h1v1h-1zM374 319h1v1h-1zM334 320h3v1h-3zM339 320h6v1h-6zM374 320h1v1h-1zM333 321h2v1h-2zM340 321h1v1h-1zM344 321h2v1h-2zM374 321h1v1h-1zM332 322h2v1h-2zM340 322h2v1h-2zM371 322h1v1h-1zM373 322h1v1h-1zM331 323h2v1h-2zM341 323h1v1h-1zM346 323h1v1h-1zM364 323h3v1h-3zM368 323h3v1h-3zM372 323h1v1h-1zM376 323h1v1h-1zM330 324h2v1h-2zM341 324h1v1h-1zM347 324h1v1h-1zM362 324h3v1h-3zM366 324h12v1h-12zM330 325h1v1h-1zM341 325h5v1h-5zM363 325h4v1h-4zM372 325h1v1h-1zM377 325h3v1h-3zM329 326h2v1h-2zM379 326h2v1h-2zM329 327h1v1h-1zM380 327h3v1h-3zM329 328h1v1h-1zM382 328h2v1h-2zM328 329h2v1h-2zM383 329h2v1h-2zM327 330h2v1h-2zM384 330h2v1h-2zM326 331h2v1h-2zM337 331h1v1h-1zM385 331h1v1h-1zM325 332h2v1h-2zM385 332h1v1h-1zM324 333h2v1h-2zM385 333h2v1h-2zM324 334h1v1h-1zM385 334h1v1h-1zM324 335h1v1h-1zM384 335h2v1h-2zM323 336h2v1h-2zM384 336h1v1h-1zM323 337h1v1h-1zM384 337h1v1h-1zM322 338h2v1h-2zM325 338h2v1h-2zM384 338h1v1h-1zM321 339h2v1h-2zM325 339h3v1h-3zM384 339h2v1h-2zM321 340h3v1h-3zM385 340h4v1h-4zM320 341h2v1h-2zM388 341h3v1h-3zM320 342h1v1h-1zM390 342h2v1h-2zM319 343h2v1h-2zM326 343h2v1h-2zM391 343h2v1h-2zM319 344h1v1h-1zM325 344h2v1h-2zM392 344h2v1h-2zM319 345h2v1h-2zM393 345h2v1h-2zM320 346h1v1h-1zM394 346h1v1h-1zM320 347h1v1h-1zM394 347h1v1h-1zM320 348h1v1h-1zM394 348h1v1h-1zM320 349h1v1h-1zM394 349h1v1h-1zM320 350h2v1h-2zM394 350h1v1h-1zM320 351h2v1h-2zM393 351h2v1h-2zM321 352h1v1h-1zM393 352h1v1h-1zM321 353h2v1h-2zM392 353h2v1h-2zM321 354h4v1h-4zM392 354h1v1h-1zM322 355h1v1h-1zM391 355h2v1h-2zM322 356h2v1h-2zM390 356h2v1h-2zM323 357h1v1h-1zM389 357h2v1h-2zM323 358h2v1h-2zM388 358h2v1h-2zM324 359h2v1h-2zM387 359h2v1h-2zM325 360h2v1h-2zM385 360h3v1h-3zM326 361h2v1h-2zM384 361h2v1h-2zM327 362h2v1h-2zM359 362h1v1h-1zM382 362h3v1h-3zM328 363h2v1h-2zM380 363h3v1h-3zM329 364h2v1h-2zM378 364h3v1h-3zM330 365h1v1h-1zM334 365h5v1h-5zM377 365h2v1h-2zM330 366h5v1h-5zM339 366h1v1h-1zM376 366h2v1h-2zM330 367h7v1h-7zM340 367h1v1h-1zM376 367h1v1h-1zM330 368h1v1h-1zM334 368h1v1h-1zM337 368h1v1h-1zM340 368h1v1h-1zM376 368h1v1h-1zM330 369h1v1h-1zM339 369h1v1h-1zM376 369h1v1h-1zM329 370h1v1h-1zM375 370h2v1h-2zM330 371h1v1h-1zM375 371h1v1h-1zM330 372h2v1h-2zM362 372h1v1h-1zM374 372h2v1h-2zM332 373h1v1h-1zM359 373h1v1h-1zM374 373h1v1h-1zM333 374h6v1h-6zM374 374h1v1h-1zM339 375h3v1h-3zM374 375h1v1h-1zM341 376h2v1h-2zM374 376h2v1h-2zM342 377h2v1h-2zM373 377h3v1h-3zM343 378h2v1h-2zM357 378h5v1h-5zM370 378h4v1h-4zM344 379h3v1h-3zM357 379h4v1h-4zM367 379h4v1h-4zM346 380h3v1h-3zM364 380h4v1h-4zM348 381h5v1h-5zM361 381h4v1h-4zM352 382h10v1h-10z"/>
<path fill="#28a6de" d="M358 309h4v1h-4zM358 310h7v1h-7zM352 311h9v1h-9zM362 311h6v1h-6zM350 312h8v1h-8zM362 312h8v1h-8zM348 313h3v1h-3zM352 313h5v1h-5zM362 313h1v1h-1zM365 313h1v1h-1zM367 313h4v1h-4zM347 314h1v1h-1zM353 314h3v1h-3zM368 314h1v1h-1zM371 314h1v1h-1zM346 315h1v1h-1zM349 315h1v1h-1zM371 315h1v1h-1zM345 316h1v1h-1zM348 316h3v1h-3zM365 316h2v1h-2zM369 316h1v1h-1zM372 316h1v1h-1zM345 317h1v1h-1zM364 317h2v1h-2zM370 317h4v1h-4zM345 318h1v1h-1zM359 318h2v1h-2zM364 318h1v1h-1zM371 318h3v1h-3zM345 319h1v1h-1zM360 319h2v1h-2zM373 319h1v1h-1zM337 320h2v1h-2zM345 320h1v1h-1zM350 320h1v1h-1zM360 320h1v1h-1zM364 320h2v1h-2zM373 320h1v1h-1zM335 321h5v1h-5zM346 321h1v1h-1zM349 321h2v1h-2zM364 321h3v1h-3zM373 321h1v1h-1zM334 322h1v1h-1zM337 322h3v1h-3zM346 322h1v1h-1zM349 322h1v1h-1zM364 322h7v1h-7zM372 322h1v1h-1zM333 323h1v1h-1zM335 323h6v1h-6zM347 323h3v1h-3zM356 323h4v1h-4zM363 323h1v1h-1zM367 323h1v1h-1zM332 324h1v1h-1zM336 324h5v1h-5zM348 324h2v1h-2zM355 324h7v1h-7zM331 325h1v1h-1zM337 325h2v1h-2zM340 325h1v1h-1zM346 325h2v1h-2zM358 325h5v1h-5zM367 325h5v1h-5zM373 325h4v1h-4zM331 326h1v1h-1zM341 326h5v1h-5zM359 326h3v1h-3zM364 326h3v1h-3zM371 326h8v1h-8zM330 327h2v1h-2zM360 327h1v1h-1zM372 327h5v1h-5zM379 327h1v1h-1zM330 328h5v1h-5zM343 328h1v1h-1zM368 328h2v1h-2zM380 328h2v1h-2zM330 329h6v1h-6zM368 329h2v1h-2zM382 329h1v1h-1zM329 330h1v1h-1zM331 330h8v1h-8zM343 330h2v1h-2zM383 330h1v1h-1zM328 331h1v1h-1zM335 331h2v1h-2zM338 331h1v1h-1zM384 331h1v1h-1zM327 332h1v1h-1zM336 332h3v1h-3zM382 332h3v1h-3zM326 333h1v1h-1zM330 333h1v1h-1zM335 333h5v1h-5zM382 333h3v1h-3zM325 334h1v1h-1zM330 334h2v1h-2zM335 334h5v1h-5zM384 334h1v1h-1zM325 335h1v1h-1zM330 335h2v1h-2zM337 335h3v1h-3zM383 335h1v1h-1zM325 336h1v1h-1zM329 336h4v1h-4zM337 336h3v1h-3zM383 336h1v1h-1zM324 337h3v1h-3zM329 337h5v1h-5zM336 337h1v1h-1zM383 337h1v1h-1zM324 338h1v1h-1zM327 338h2v1h-2zM331 338h1v1h-1zM334 338h3v1h-3zM383 338h1v1h-1zM323 339h2v1h-2zM328 339h1v1h-1zM335 339h1v1h-1zM383 339h1v1h-1zM324 340h4v1h-4zM384 340h1v1h-1zM322 341h6v1h-6zM385 341h3v1h-3zM321 342h7v1h-7zM388 342h2v1h-2zM321 343h5v1h-5zM328 343h1v1h-1zM390 343h1v1h-1zM320 344h5v1h-5zM327 344h2v1h-2zM389 344h3v1h-3zM321 345h1v1h-1zM323 345h4v1h-4zM388 345h5v1h-5zM321 346h1v1h-1zM323 346h4v1h-4zM329 346h1v1h-1zM389 346h1v1h-1zM392 346h2v1h-2zM321 347h1v1h-1zM323 347h7v1h-7zM391 347h3v1h-3zM321 348h7v1h-7zM391 348h3v1h-3zM321 349h4v1h-4zM326 349h2v1h-2zM329 349h1v1h-1zM390 349h4v1h-4zM322 350h8v1h-8zM390 350h4v1h-4zM322 351h2v1h-2zM325 351h5v1h-5zM390 351h3v1h-3zM322 352h2v1h-2zM325 352h6v1h-6zM390 352h3v1h-3zM323 353h8v1h-8zM389 353h3v1h-3zM325 354h8v1h-8zM389 354h3v1h-3zM323 355h12v1h-12zM389 355h2v1h-2zM324 356h7v1h-7zM334 356h5v1h-5zM371 356h3v1h-3zM389 356h1v1h-1zM324 357h3v1h-3zM329 357h1v1h-1zM334 357h5v1h-5zM371 357h3v1h-3zM378 357h1v1h-1zM388 357h1v1h-1zM325 358h1v1h-1zM329 358h1v1h-1zM339 358h1v1h-1zM342 358h2v1h-2zM371 358h3v1h-3zM377 358h3v1h-3zM385 358h3v1h-3zM326 359h1v1h-1zM329 359h2v1h-2zM338 359h5v1h-5zM345 359h2v1h-2zM350 359h1v1h-1zM371 359h3v1h-3zM377 359h6v1h-6zM385 359h2v1h-2zM327 360h1v1h-1zM330 360h3v1h-3zM337 360h4v1h-4zM345 360h2v1h-2zM350 360h1v1h-1zM371 360h3v1h-3zM378 360h4v1h-4zM384 360h1v1h-1zM328 361h1v1h-1zM332 361h4v1h-4zM337 361h3v1h-3zM358 361h3v1h-3zM372 361h2v1h-2zM379 361h2v1h-2zM382 361h2v1h-2zM329 362h1v1h-1zM333 362h3v1h-3zM341 362h2v1h-2zM357 362h2v1h-2zM360 362h1v1h-1zM373 362h2v1h-2zM380 362h2v1h-2zM330 363h1v1h-1zM332 363h4v1h-4zM341 363h4v1h-4zM357 363h3v1h-3zM365 363h1v1h-1zM373 363h2v1h-2zM378 363h2v1h-2zM331 364h9v1h-9zM347 364h4v1h-4zM353 364h1v1h-1zM357 364h1v1h-1zM364 364h1v1h-1zM373 364h2v1h-2zM377 364h1v1h-1zM331 365h3v1h-3zM339 365h1v1h-1zM347 365h4v1h-4zM352 365h1v1h-1zM364 365h2v1h-2zM373 365h2v1h-2zM376 365h1v1h-1zM340 366h1v1h-1zM347 366h2v1h-2zM351 366h2v1h-2zM365 366h1v1h-1zM375 366h1v1h-1zM341 367h1v1h-1zM346 367h2v1h-2zM375 367h1v1h-1zM331 368h3v1h-3zM335 368h2v1h-2zM341 368h3v1h-3zM346 368h1v1h-1zM351 368h2v1h-2zM361 368h1v1h-1zM363 368h2v1h-2zM369 368h2v1h-2zM373 368h3v1h-3zM331 369h5v1h-5zM338 369h1v1h-1zM340 369h1v1h-1zM344 369h1v1h-1zM351 369h6v1h-6zM361 369h4v1h-4zM370 369h6v1h-6zM330 370h4v1h-4zM339 370h1v1h-1zM344 370h1v1h-1zM351 370h9v1h-9zM362 370h3v1h-3zM370 370h5v1h-5zM331 371h3v1h-3zM353 371h14v1h-14zM371 371h4v1h-4zM332 372h3v1h-3zM353 372h9v1h-9zM363 372h4v1h-4zM372 372h2v1h-2zM333 373h3v1h-3zM354 373h5v1h-5zM360 373h6v1h-6zM372 373h2v1h-2zM339 374h3v1h-3zM356 374h10v1h-10zM372 374h2v1h-2zM342 375h1v1h-1zM364 375h2v1h-2zM371 375h3v1h-3zM343 376h1v1h-1zM357 376h1v1h-1zM369 376h5v1h-5zM344 377h3v1h-3zM350 377h2v1h-2zM356 377h6v1h-6zM369 377h4v1h-4zM345 378h2v1h-2zM350 378h7v1h-7zM362 378h2v1h-2zM365 378h5v1h-5zM347 379h2v1h-2zM351 379h6v1h-6zM361 379h6v1h-6zM349 380h15v1h-15zM353 381h8v1h-8z"/>
<path fill="#2eb24a" d="M361 311h1v1h-1zM358 312h4v1h-4zM351 313h1v1h-1zM357 313h2v1h-2zM361 313h1v1h-1zM363 313h2v1h-2zM366 313h1v1h-1zM348 314h5v1h-5zM356 314h2v1h-2zM361 314h2v1h-2zM364 314h4v1h-4zM369 314h2v1h-2zM347 315h2v1h-2zM350 315h8v1h-8zM360 315h2v1h-2zM364 315h7v1h-7zM346 316h2v1h-2zM351 316h3v1h-3zM356 316h9v1h-9zM367 316h2v1h-2zM370 316h2v1h-2zM346 317h7v1h-7zM356 317h8v1h-8zM366 317h4v1h-4zM346 318h1v1h-1zM350 318h2v1h-2zM357 318h2v1h-2zM361 318h3v1h-3zM365 318h2v1h-2zM369 318h2v1h-2zM346 319h1v1h-1zM350 319h2v1h-2zM358 319h2v1h-2zM362 319h5v1h-5zM370 319h3v1h-3zM346 320h4v1h-4zM351 320h1v1h-1zM359 320h1v1h-1zM361 320h3v1h-3zM366 320h1v1h-1zM371 320h2v1h-2zM347 321h2v1h-2zM351 321h1v1h-1zM359 321h2v1h-2zM363 321h1v1h-1zM367 321h6v1h-6zM335 322h2v1h-2zM347 322h2v1h-2zM350 322h2v1h-2zM357 322h4v1h-4zM363 322h1v1h-1zM334 323h1v1h-1zM350 323h6v1h-6zM360 323h3v1h-3zM333 324h3v1h-3zM350 324h5v1h-5zM332 325h2v1h-2zM336 325h1v1h-1zM339 325h1v1h-1zM348 325h4v1h-4zM355 325h3v1h-3zM332 326h2v1h-2zM337 326h4v1h-4zM346 326h1v1h-1zM355 326h4v1h-4zM362 326h2v1h-2zM367 326h4v1h-4zM332 327h4v1h-4zM338 327h8v1h-8zM355 327h5v1h-5zM361 327h11v1h-11zM377 327h2v1h-2zM335 328h6v1h-6zM342 328h1v1h-1zM344 328h2v1h-2zM356 328h7v1h-7zM366 328h2v1h-2zM370 328h10v1h-10zM336 329h4v1h-4zM342 329h4v1h-4zM356 329h5v1h-5zM366 329h2v1h-2zM370 329h2v1h-2zM373 329h4v1h-4zM378 329h4v1h-4zM330 330h1v1h-1zM339 330h1v1h-1zM342 330h1v1h-1zM345 330h2v1h-2zM356 330h4v1h-4zM367 330h5v1h-5zM374 330h7v1h-7zM382 330h1v1h-1zM329 331h6v1h-6zM339 331h1v1h-1zM342 331h5v1h-5zM357 331h3v1h-3zM368 331h1v1h-1zM370 331h1v1h-1zM376 331h8v1h-8zM328 332h8v1h-8zM339 332h7v1h-7zM358 332h1v1h-1zM376 332h6v1h-6zM327 333h3v1h-3zM331 333h4v1h-4zM340 333h3v1h-3zM358 333h3v1h-3zM373 333h6v1h-6zM380 333h2v1h-2zM326 334h4v1h-4zM332 334h3v1h-3zM340 334h3v1h-3zM358 334h3v1h-3zM372 334h2v1h-2zM377 334h2v1h-2zM382 334h2v1h-2zM326 335h4v1h-4zM332 335h5v1h-5zM340 335h4v1h-4zM345 335h2v1h-2zM371 335h2v1h-2zM378 335h1v1h-1zM382 335h1v1h-1zM326 336h3v1h-3zM333 336h4v1h-4zM340 336h7v1h-7zM369 336h3v1h-3zM382 336h1v1h-1zM327 337h2v1h-2zM334 337h2v1h-2zM337 337h8v1h-8zM346 337h1v1h-1zM370 337h2v1h-2zM382 337h1v1h-1zM329 338h2v1h-2zM332 338h2v1h-2zM337 338h2v1h-2zM343 338h1v1h-1zM382 338h1v1h-1zM329 339h6v1h-6zM336 339h2v1h-2zM382 339h1v1h-1zM328 340h3v1h-3zM333 340h4v1h-4zM343 340h3v1h-3zM383 340h1v1h-1zM328 341h1v1h-1zM333 341h4v1h-4zM342 341h3v1h-3zM383 341h2v1h-2zM328 342h1v1h-1zM335 342h1v1h-1zM342 342h3v1h-3zM382 342h6v1h-6zM329 343h2v1h-2zM342 343h1v1h-1zM386 343h4v1h-4zM329 344h3v1h-3zM387 344h2v1h-2zM322 345h1v1h-1zM327 345h5v1h-5zM341 345h1v1h-1zM387 345h1v1h-1zM322 346h1v1h-1zM327 346h2v1h-2zM330 346h1v1h-1zM387 346h2v1h-2zM390 346h2v1h-2zM322 347h1v1h-1zM330 347h1v1h-1zM342 347h2v1h-2zM388 347h3v1h-3zM328 348h5v1h-5zM343 348h1v1h-1zM389 348h2v1h-2zM325 349h1v1h-1zM328 349h1v1h-1zM330 349h2v1h-2zM347 349h2v1h-2zM389 349h1v1h-1zM330 350h2v1h-2zM346 350h4v1h-4zM374 350h1v1h-1zM388 350h2v1h-2zM324 351h1v1h-1zM330 351h2v1h-2zM346 351h3v1h-3zM373 351h4v1h-4zM388 351h2v1h-2zM324 352h1v1h-1zM331 352h1v1h-1zM346 352h3v1h-3zM373 352h3v1h-3zM388 352h2v1h-2zM331 353h2v1h-2zM338 353h1v1h-1zM347 353h2v1h-2zM373 353h1v1h-1zM388 353h1v1h-1zM333 354h3v1h-3zM338 354h1v1h-1zM347 354h2v1h-2zM372 354h3v1h-3zM376 354h4v1h-4zM388 354h1v1h-1zM335 355h5v1h-5zM348 355h1v1h-1zM371 355h9v1h-9zM387 355h2v1h-2zM331 356h3v1h-3zM339 356h1v1h-1zM342 356h4v1h-4zM370 356h1v1h-1zM374 356h6v1h-6zM383 356h6v1h-6zM327 357h2v1h-2zM330 357h4v1h-4zM339 357h7v1h-7zM370 357h1v1h-1zM374 357h4v1h-4zM379 357h2v1h-2zM383 357h5v1h-5zM326 358h3v1h-3zM330 358h9v1h-9zM340 358h2v1h-2zM344 358h8v1h-8zM370 358h1v1h-1zM374 358h3v1h-3zM380 358h5v1h-5zM327 359h2v1h-2zM331 359h7v1h-7zM343 359h2v1h-2zM347 359h3v1h-3zM351 359h1v1h-1zM354 359h3v1h-3zM369 359h2v1h-2zM374 359h3v1h-3zM383 359h2v1h-2zM328 360h2v1h-2zM333 360h4v1h-4zM341 360h4v1h-4zM347 360h1v1h-1zM349 360h1v1h-1zM351 360h2v1h-2zM354 360h3v1h-3zM358 360h3v1h-3zM363 360h2v1h-2zM368 360h3v1h-3zM374 360h4v1h-4zM382 360h2v1h-2zM329 361h3v1h-3zM336 361h1v1h-1zM340 361h8v1h-8zM349 361h4v1h-4zM355 361h3v1h-3zM361 361h4v1h-4zM370 361h2v1h-2zM374 361h5v1h-5zM381 361h1v1h-1zM330 362h3v1h-3zM336 362h5v1h-5zM343 362h10v1h-10zM356 362h1v1h-1zM361 362h6v1h-6zM371 362h2v1h-2zM375 362h5v1h-5zM331 363h1v1h-1zM336 363h5v1h-5zM345 363h12v1h-12zM360 363h5v1h-5zM366 363h2v1h-2zM370 363h3v1h-3zM375 363h3v1h-3zM340 364h7v1h-7zM351 364h2v1h-2zM354 364h3v1h-3zM358 364h2v1h-2zM362 364h2v1h-2zM365 364h3v1h-3zM369 364h4v1h-4zM375 364h2v1h-2zM340 365h7v1h-7zM351 365h1v1h-1zM353 365h2v1h-2zM358 365h1v1h-1zM362 365h2v1h-2zM366 365h1v1h-1zM368 365h5v1h-5zM375 365h1v1h-1zM341 366h6v1h-6zM349 366h2v1h-2zM353 366h1v1h-1zM358 366h7v1h-7zM366 366h1v1h-1zM368 366h7v1h-7zM342 367h4v1h-4zM348 367h6v1h-6zM358 367h9v1h-9zM368 367h7v1h-7zM344 368h2v1h-2zM347 368h4v1h-4zM353 368h8v1h-8zM362 368h1v1h-1zM365 368h4v1h-4zM371 368h2v1h-2zM336 369h2v1h-2zM341 369h3v1h-3zM345 369h4v1h-4zM350 369h1v1h-1zM357 369h4v1h-4zM365 369h5v1h-5zM334 370h5v1h-5zM340 370h1v1h-1zM342 370h2v1h-2zM345 370h4v1h-4zM350 370h1v1h-1zM360 370h2v1h-2zM365 370h5v1h-5zM334 371h7v1h-7zM342 371h7v1h-7zM350 371h3v1h-3zM367 371h4v1h-4zM335 372h5v1h-5zM342 372h11v1h-11zM367 372h5v1h-5zM336 373h6v1h-6zM343 373h11v1h-11zM366 373h2v1h-2zM370 373h2v1h-2zM342 374h1v1h-1zM345 374h11v1h-11zM366 374h6v1h-6zM343 375h21v1h-21zM366 375h5v1h-5zM344 376h13v1h-13zM358 376h11v1h-11zM347 377h3v1h-3zM352 377h4v1h-4zM362 377h7v1h-7zM347 378h3v1h-3zM364 378h1v1h-1zM349 379h2v1h-2z"/>
<path fill="#f0e420" d="M359 313h2v1h-2zM358 314h3v1h-3zM363 314h1v1h-1zM358 315h2v1h-2zM362 315h2v1h-2zM354 316h2v1h-2zM353 317h3v1h-3zM347 318h3v1h-3zM352 318h5v1h-5zM367 318h2v1h-2zM347 319h3v1h-3zM352 319h1v1h-1zM357 319h1v1h-1zM367 319h3v1h-3zM352 320h1v1h-1zM358 320h1v1h-1zM367 320h4v1h-4zM352 321h1v1h-1zM357 321h2v1h-2zM361 321h2v1h-2zM352 322h2v1h-2zM355 322h2v1h-2zM361 322h2v1h-2zM334 325h2v1h-2zM352 325h3v1h-3zM334 326h3v1h-3zM347 326h8v1h-8zM336 327h2v1h-2zM346 327h2v1h-2zM350 327h1v1h-1zM352 327h3v1h-3zM341 328h1v1h-1zM346 328h1v1h-1zM353 328h3v1h-3zM363 328h3v1h-3zM340 329h2v1h-2zM346 329h2v1h-2zM353 329h3v1h-3zM361 329h5v1h-5zM372 329h1v1h-1zM377 329h1v1h-1zM340 330h2v1h-2zM347 330h2v1h-2zM354 330h2v1h-2zM360 330h7v1h-7zM372 330h2v1h-2zM381 330h1v1h-1zM340 331h2v1h-2zM347 331h1v1h-1zM356 331h1v1h-1zM360 331h1v1h-1zM362 331h2v1h-2zM366 331h2v1h-2zM369 331h1v1h-1zM371 331h5v1h-5zM346 332h1v1h-1zM351 332h3v1h-3zM356 332h2v1h-2zM359 332h4v1h-4zM367 332h9v1h-9zM343 333h3v1h-3zM352 333h1v1h-1zM356 333h2v1h-2zM361 333h1v1h-1zM368 333h5v1h-5zM379 333h1v1h-1zM343 334h4v1h-4zM357 334h1v1h-1zM361 334h1v1h-1zM368 334h4v1h-4zM374 334h3v1h-3zM379 334h3v1h-3zM344 335h1v1h-1zM347 335h1v1h-1zM358 335h4v1h-4zM367 335h4v1h-4zM373 335h5v1h-5zM379 335h3v1h-3zM347 336h1v1h-1zM359 336h3v1h-3zM367 336h2v1h-2zM372 336h10v1h-10zM345 337h1v1h-1zM347 337h1v1h-1zM359 337h2v1h-2zM368 337h2v1h-2zM372 337h10v1h-10zM339 338h4v1h-4zM344 338h4v1h-4zM360 338h1v1h-1zM367 338h15v1h-15zM338 339h2v1h-2zM342 339h8v1h-8zM366 339h6v1h-6zM373 339h9v1h-9zM331 340h2v1h-2zM337 340h3v1h-3zM342 340h1v1h-1zM346 340h4v1h-4zM367 340h10v1h-10zM379 340h4v1h-4zM329 341h4v1h-4zM337 341h1v1h-1zM341 341h1v1h-1zM345 341h4v1h-4zM369 341h8v1h-8zM379 341h4v1h-4zM329 342h6v1h-6zM336 342h2v1h-2zM339 342h3v1h-3zM345 342h3v1h-3zM370 342h5v1h-5zM377 342h5v1h-5zM331 343h11v1h-11zM343 343h4v1h-4zM371 343h2v1h-2zM376 343h10v1h-10zM332 344h15v1h-15zM371 344h3v1h-3zM378 344h3v1h-3zM382 344h5v1h-5zM332 345h9v1h-9zM342 345h6v1h-6zM372 345h3v1h-3zM379 345h1v1h-1zM383 345h4v1h-4zM331 346h4v1h-4zM336 346h13v1h-13zM373 346h3v1h-3zM379 346h2v1h-2zM383 346h4v1h-4zM331 347h3v1h-3zM337 347h5v1h-5zM344 347h5v1h-5zM373 347h3v1h-3zM379 347h3v1h-3zM383 347h5v1h-5zM333 348h1v1h-1zM337 348h3v1h-3zM341 348h2v1h-2zM344 348h1v1h-1zM347 348h4v1h-4zM373 348h2v1h-2zM383 348h6v1h-6zM332 349h7v1h-7zM342 349h5v1h-5zM349 349h2v1h-2zM373 349h2v1h-2zM378 349h2v1h-2zM383 349h6v1h-6zM332 350h6v1h-6zM342 350h4v1h-4zM350 350h1v1h-1zM372 350h2v1h-2zM375 350h6v1h-6zM383 350h5v1h-5zM332 351h6v1h-6zM339 351h7v1h-7zM349 351h1v1h-1zM372 351h1v1h-1zM377 351h4v1h-4zM382 351h3v1h-3zM386 351h2v1h-2zM332 352h10v1h-10zM345 352h1v1h-1zM349 352h1v1h-1zM372 352h1v1h-1zM376 352h8v1h-8zM387 352h1v1h-1zM333 353h5v1h-5zM339 353h2v1h-2zM346 353h1v1h-1zM349 353h1v1h-1zM372 353h1v1h-1zM374 353h14v1h-14zM336 354h2v1h-2zM339 354h3v1h-3zM346 354h1v1h-1zM349 354h1v1h-1zM371 354h1v1h-1zM375 354h1v1h-1zM380 354h8v1h-8zM340 355h8v1h-8zM349 355h2v1h-2zM369 355h2v1h-2zM380 355h7v1h-7zM340 356h2v1h-2zM346 356h7v1h-7zM369 356h1v1h-1zM380 356h3v1h-3zM346 357h8v1h-8zM369 357h1v1h-1zM381 357h2v1h-2zM352 358h9v1h-9zM363 358h4v1h-4zM369 358h1v1h-1zM352 359h2v1h-2zM357 359h12v1h-12zM348 360h1v1h-1zM353 360h1v1h-1zM357 360h1v1h-1zM361 360h2v1h-2zM365 360h3v1h-3zM348 361h1v1h-1zM353 361h2v1h-2zM365 361h5v1h-5zM353 362h3v1h-3zM367 362h4v1h-4zM368 363h2v1h-2zM360 364h2v1h-2zM368 364h1v1h-1zM355 365h3v1h-3zM359 365h3v1h-3zM367 365h1v1h-1zM354 366h2v1h-2zM357 366h1v1h-1zM367 366h1v1h-1zM354 367h4v1h-4zM367 367h1v1h-1zM349 369h1v1h-1zM341 370h1v1h-1zM349 370h1v1h-1zM341 371h1v1h-1zM349 371h1v1h-1zM340 372h2v1h-2zM342 373h1v1h-1zM368 373h2v1h-2zM343 374h2v1h-2z"/>
<path fill="#ee641e" d="M353 319h4v1h-4zM353 320h1v1h-1zM356 320h2v1h-2zM353 321h1v1h-1zM355 321h2v1h-2zM354 322h1v1h-1zM348 327h2v1h-2zM351 327h1v1h-1zM347 328h6v1h-6zM348 329h5v1h-5zM349 330h5v1h-5zM348 331h8v1h-8zM361 331h1v1h-1zM364 331h2v1h-2zM347 332h1v1h-1zM350 332h1v1h-1zM354 332h2v1h-2zM363 332h1v1h-1zM366 332h1v1h-1zM346 333h2v1h-2zM350 333h2v1h-2zM353 333h3v1h-3zM362 333h2v1h-2zM367 333h1v1h-1zM347 334h1v1h-1zM350 334h7v1h-7zM362 334h2v1h-2zM366 334h2v1h-2zM348 335h3v1h-3zM353 335h5v1h-5zM362 335h5v1h-5zM348 336h2v1h-2zM357 336h2v1h-2zM362 336h5v1h-5zM348 337h2v1h-2zM357 337h2v1h-2zM361 337h7v1h-7zM348 338h2v1h-2zM358 338h2v1h-2zM361 338h6v1h-6zM340 339h2v1h-2zM350 339h1v1h-1zM359 339h7v1h-7zM372 339h1v1h-1zM340 340h2v1h-2zM350 340h1v1h-1zM360 340h1v1h-1zM366 340h1v1h-1zM377 340h2v1h-2zM338 341h3v1h-3zM349 341h1v1h-1zM367 341h2v1h-2zM377 341h2v1h-2zM338 342h1v1h-1zM348 342h2v1h-2zM369 342h1v1h-1zM375 342h2v1h-2zM347 343h2v1h-2zM351 343h1v1h-1zM370 343h1v1h-1zM373 343h3v1h-3zM347 344h7v1h-7zM363 344h2v1h-2zM370 344h1v1h-1zM374 344h4v1h-4zM381 344h1v1h-1zM348 345h6v1h-6zM360 345h1v1h-1zM363 345h1v1h-1zM370 345h2v1h-2zM375 345h4v1h-4zM380 345h3v1h-3zM335 346h1v1h-1zM349 346h6v1h-6zM360 346h4v1h-4zM370 346h3v1h-3zM376 346h1v1h-1zM378 346h1v1h-1zM381 346h2v1h-2zM334 347h3v1h-3zM349 347h5v1h-5zM355 347h2v1h-2zM360 347h7v1h-7zM372 347h1v1h-1zM378 347h1v1h-1zM382 347h1v1h-1zM334 348h3v1h-3zM340 348h1v1h-1zM345 348h2v1h-2zM351 348h2v1h-2zM360 348h6v1h-6zM372 348h1v1h-1zM375 348h1v1h-1zM378 348h5v1h-5zM339 349h3v1h-3zM351 349h1v1h-1zM361 349h3v1h-3zM371 349h2v1h-2zM375 349h3v1h-3zM380 349h3v1h-3zM338 350h4v1h-4zM351 350h1v1h-1zM361 350h3v1h-3zM371 350h1v1h-1zM381 350h2v1h-2zM338 351h1v1h-1zM350 351h3v1h-3zM371 351h1v1h-1zM381 351h1v1h-1zM385 351h1v1h-1zM342 352h3v1h-3zM350 352h2v1h-2zM365 352h2v1h-2zM371 352h1v1h-1zM384 352h3v1h-3zM341 353h5v1h-5zM350 353h1v1h-1zM365 353h3v1h-3zM371 353h1v1h-1zM342 354h4v1h-4zM350 354h2v1h-2zM364 354h7v1h-7zM351 355h2v1h-2zM362 355h7v1h-7zM353 356h2v1h-2zM363 356h6v1h-6zM354 357h8v1h-8zM363 357h6v1h-6zM361 358h2v1h-2zM367 358h2v1h-2zM356 366h1v1h-1z"/>
<path fill="#e4341c" d="M354 320h2v1h-2zM354 321h1v1h-1zM348 332h2v1h-2zM364 332h2v1h-2zM348 333h2v1h-2zM364 333h3v1h-3zM348 334h2v1h-2zM364 334h2v1h-2zM351 335h2v1h-2zM350 336h7v1h-7zM350 337h7v1h-7zM350 338h8v1h-8zM351 339h8v1h-8zM351 340h9v1h-9zM361 340h5v1h-5zM350 341h17v1h-17zM350 342h19v1h-19zM349 343h2v1h-2zM352 343h18v1h-18zM354 344h9v1h-9zM365 344h5v1h-5zM354 345h6v1h-6zM361 345h2v1h-2zM364 345h6v1h-6zM355 346h5v1h-5zM364 346h6v1h-6zM377 346h1v1h-1zM354 347h1v1h-1zM357 347h3v1h-3zM367 347h5v1h-5zM376 347h2v1h-2zM353 348h7v1h-7zM366 348h6v1h-6zM376 348h2v1h-2zM352 349h9v1h-9zM364 349h7v1h-7zM352 350h9v1h-9zM364 350h7v1h-7zM353 351h18v1h-18zM352 352h13v1h-13zM367 352h4v1h-4zM351 353h14v1h-14zM368 353h3v1h-3zM352 354h12v1h-12zM353 355h9v1h-9zM355 356h8v1h-8zM362 357h1v1h-1z"/>
</g>
<g shape-rendering="crispEdges" filter="url(#sb)">
<path fill="#3a2a9e" d="M238 477h2v1h-2zM232 478h10v1h-10zM229 479h15v1h-15zM227 480h19v1h-19zM227 481h20v1h-20zM226 482h22v1h-22zM226 483h14v1h-14zM241 483h8v1h-8zM225 484h15v1h-15zM241 484h8v1h-8zM225 485h24v1h-24zM225 486h23v1h-23zM224 487h24v1h-24zM224 488h24v1h-24zM223 489h26v1h-26zM210 490h5v1h-5zM222 490h28v1h-28zM209 491h7v1h-7zM221 491h30v1h-30zM208 492h8v1h-8zM221 492h14v1h-14zM236 492h16v1h-16zM207 493h2v1h-2zM214 493h3v1h-3zM221 493h14v1h-14zM237 493h16v1h-16zM205 494h3v1h-3zM215 494h2v1h-2zM220 494h14v1h-14zM241 494h12v1h-12zM204 495h4v1h-4zM215 495h2v1h-2zM220 495h12v1h-12zM241 495h13v1h-13zM203 496h5v1h-5zM214 496h2v1h-2zM221 496h6v1h-6zM243 496h12v1h-12zM202 497h14v1h-14zM221 497h5v1h-5zM250 497h6v1h-6zM201 498h15v1h-15zM221 498h4v1h-4zM252 498h5v1h-5zM200 499h16v1h-16zM221 499h3v1h-3zM254 499h4v1h-4zM200 500h15v1h-15zM221 500h3v1h-3zM256 500h2v1h-2zM201 501h15v1h-15zM222 501h1v1h-1zM257 501h2v1h-2zM202 502h11v1h-11zM214 502h2v1h-2zM258 502h1v1h-1zM203 503h9v1h-9zM259 503h1v1h-1zM205 504h7v1h-7zM206 505h5v1h-5zM194 506h5v1h-5zM207 506h4v1h-4zM263 506h1v1h-1zM194 507h6v1h-6zM208 507h3v1h-3zM266 507h1v1h-1zM194 508h6v1h-6zM208 508h3v1h-3zM193 509h8v1h-8zM208 509h2v1h-2zM193 510h10v1h-10zM208 510h1v1h-1zM194 511h14v1h-14zM194 512h14v1h-14zM195 513h10v1h-10zM206 513h2v1h-2zM195 514h9v1h-9zM206 514h2v1h-2zM196 515h7v1h-7zM205 515h4v1h-4zM197 516h5v1h-5zM205 516h4v1h-4zM198 517h4v1h-4zM205 517h4v1h-4zM198 518h4v1h-4zM205 518h5v1h-5zM199 519h10v1h-10zM201 520h8v1h-8zM203 521h6v1h-6zM207 522h2v1h-2zM204 525h5v1h-5zM202 526h6v1h-6zM202 527h2v1h-2zM201 528h2v1h-2zM201 529h2v1h-2zM201 530h2v1h-2zM202 531h1v1h-1zM202 532h1v1h-1zM202 533h1v1h-1zM202 535h1v1h-1zM202 536h1v1h-1zM202 537h1v1h-1zM202 541h1v1h-1zM203 544h1v1h-1zM205 546h1v1h-1zM252 546h1v1h-1zM206 547h3v1h-3zM211 547h3v1h-3zM251 547h1v1h-1zM218 548h1v1h-1zM250 548h1v1h-1zM219 549h2v1h-2zM221 550h2v1h-2zM223 551h2v1h-2zM233 553h2v1h-2z"/>
<path fill="#3245b7" d="M240 483h1v1h-1zM240 484h1v1h-1zM235 492h1v1h-1zM209 493h2v1h-2zM213 493h1v1h-1zM235 493h2v1h-2zM208 494h2v1h-2zM214 494h1v1h-1zM234 494h7v1h-7zM208 495h1v1h-1zM213 495h2v1h-2zM232 495h9v1h-9zM208 496h6v1h-6zM227 496h7v1h-7zM241 496h2v1h-2zM226 497h2v1h-2zM244 497h6v1h-6zM225 498h2v1h-2zM249 498h3v1h-3zM224 499h2v1h-2zM250 499h4v1h-4zM224 500h1v1h-1zM254 500h2v1h-2zM223 501h1v1h-1zM256 501h1v1h-1zM213 502h1v1h-1zM221 502h2v1h-2zM257 502h1v1h-1zM212 503h10v1h-10zM258 503h1v1h-1zM212 504h2v1h-2zM259 504h1v1h-1zM211 505h2v1h-2zM260 505h2v1h-2zM211 506h1v1h-1zM262 506h1v1h-1zM211 507h1v1h-1zM264 507h2v1h-2zM211 508h1v1h-1zM267 508h2v1h-2zM210 509h1v1h-1zM269 509h1v1h-1zM209 510h2v1h-2zM270 510h1v1h-1zM208 511h3v1h-3zM271 511h1v1h-1zM208 512h2v1h-2zM272 512h1v1h-1zM205 513h1v1h-1zM208 513h2v1h-2zM272 513h1v1h-1zM204 514h2v1h-2zM208 514h2v1h-2zM272 514h1v1h-1zM203 515h2v1h-2zM209 515h1v1h-1zM272 515h1v1h-1zM202 516h3v1h-3zM209 516h1v1h-1zM272 516h1v1h-1zM202 517h3v1h-3zM209 517h2v1h-2zM273 517h1v1h-1zM202 518h3v1h-3zM210 518h1v1h-1zM272 518h1v1h-1zM209 519h2v1h-2zM272 519h1v1h-1zM209 520h1v1h-1zM271 520h1v1h-1zM209 521h1v1h-1zM271 521h1v1h-1zM209 522h3v1h-3zM270 522h1v1h-1zM211 523h2v1h-2zM270 523h1v1h-1zM212 524h1v1h-1zM269 524h1v1h-1zM209 525h4v1h-4zM268 525h1v1h-1zM208 526h2v1h-2zM221 526h1v1h-1zM268 526h1v1h-1zM204 527h6v1h-6zM267 527h1v1h-1zM203 528h6v1h-6zM265 528h2v1h-2zM203 529h2v1h-2zM264 529h2v1h-2zM203 530h2v1h-2zM263 530h2v1h-2zM203 531h2v1h-2zM262 531h2v1h-2zM203 532h2v1h-2zM261 532h2v1h-2zM203 533h1v1h-1zM260 533h2v1h-2zM203 534h1v1h-1zM259 534h2v1h-2zM203 535h1v1h-1zM257 535h3v1h-3zM203 536h1v1h-1zM256 536h2v1h-2zM256 537h1v1h-1zM202 538h1v1h-1zM231 538h2v1h-2zM242 538h4v1h-4zM255 538h2v1h-2zM202 539h1v1h-1zM231 539h2v1h-2zM241 539h2v1h-2zM254 539h2v1h-2zM202 540h1v1h-1zM240 540h3v1h-3zM253 540h2v1h-2zM240 541h2v1h-2zM253 541h1v1h-1zM203 542h1v1h-1zM253 542h1v1h-1zM203 543h1v1h-1zM252 543h2v1h-2zM204 544h1v1h-1zM252 544h1v1h-1zM204 545h1v1h-1zM252 545h1v1h-1zM206 546h2v1h-2zM212 546h5v1h-5zM251 546h1v1h-1zM209 547h2v1h-2zM217 547h2v1h-2zM250 547h1v1h-1zM219 548h2v1h-2zM248 548h2v1h-2zM221 549h2v1h-2zM247 549h2v1h-2zM223 550h2v1h-2zM244 550h4v1h-4zM225 551h3v1h-3zM239 551h6v1h-6zM227 552h13v1h-13z"/>
<path fill="#2a60d0" d="M211 493h2v1h-2zM210 494h1v1h-1zM212 494h2v1h-2zM209 495h4v1h-4zM234 496h7v1h-7zM228 497h6v1h-6zM241 497h3v1h-3zM227 498h1v1h-1zM246 498h3v1h-3zM226 499h1v1h-1zM248 499h2v1h-2zM225 500h1v1h-1zM250 500h4v1h-4zM224 501h1v1h-1zM254 501h2v1h-2zM223 502h1v1h-1zM256 502h1v1h-1zM222 503h1v1h-1zM257 503h1v1h-1zM214 504h8v1h-8zM258 504h1v1h-1zM213 505h2v1h-2zM259 505h1v1h-1zM212 506h1v1h-1zM260 506h2v1h-2zM212 507h1v1h-1zM262 507h2v1h-2zM212 508h1v1h-1zM265 508h2v1h-2zM211 509h1v1h-1zM268 509h1v1h-1zM211 510h1v1h-1zM269 510h1v1h-1zM211 511h1v1h-1zM270 511h1v1h-1zM210 512h2v1h-2zM271 512h1v1h-1zM210 513h1v1h-1zM210 514h1v1h-1zM210 515h1v1h-1zM210 516h1v1h-1zM272 517h1v1h-1zM211 518h1v1h-1zM211 519h1v1h-1zM271 519h1v1h-1zM210 520h1v1h-1zM210 521h2v1h-2zM270 521h1v1h-1zM212 522h1v1h-1zM213 523h1v1h-1zM269 523h1v1h-1zM213 524h1v1h-1zM268 524h1v1h-1zM213 525h1v1h-1zM220 525h4v1h-4zM210 526h3v1h-3zM219 526h2v1h-2zM222 526h2v1h-2zM267 526h1v1h-1zM210 527h2v1h-2zM219 527h4v1h-4zM266 527h1v1h-1zM209 528h3v1h-3zM219 528h3v1h-3zM264 528h1v1h-1zM205 529h7v1h-7zM263 529h1v1h-1zM205 530h8v1h-8zM262 530h1v1h-1zM205 531h7v1h-7zM261 531h1v1h-1zM205 532h7v1h-7zM260 532h1v1h-1zM204 533h7v1h-7zM259 533h1v1h-1zM204 534h2v1h-2zM257 534h2v1h-2zM204 535h1v1h-1zM256 535h1v1h-1zM243 536h6v1h-6zM255 536h1v1h-1zM203 537h1v1h-1zM231 537h2v1h-2zM241 537h8v1h-8zM255 537h1v1h-1zM203 538h1v1h-1zM230 538h1v1h-1zM233 538h1v1h-1zM240 538h2v1h-2zM246 538h3v1h-3zM254 538h1v1h-1zM203 539h1v1h-1zM230 539h1v1h-1zM233 539h1v1h-1zM239 539h2v1h-2zM243 539h4v1h-4zM253 539h1v1h-1zM203 540h1v1h-1zM231 540h3v1h-3zM239 540h1v1h-1zM243 540h1v1h-1zM252 540h1v1h-1zM203 541h1v1h-1zM232 541h1v1h-1zM239 541h1v1h-1zM242 541h1v1h-1zM252 541h1v1h-1zM239 542h4v1h-4zM252 542h1v1h-1zM204 543h1v1h-1zM251 543h1v1h-1zM251 544h1v1h-1zM205 545h1v1h-1zM214 545h4v1h-4zM251 545h1v1h-1zM208 546h4v1h-4zM217 546h3v1h-3zM250 546h1v1h-1zM219 547h2v1h-2zM248 547h2v1h-2zM221 548h2v1h-2zM247 548h1v1h-1zM223 549h2v1h-2zM244 549h3v1h-3zM225 550h3v1h-3zM239 550h5v1h-5zM228 551h11v1h-11z"/>
<path fill="#2983d7" d="M211 494h1v1h-1zM234 497h4v1h-4zM240 497h1v1h-1zM228 498h7v1h-7zM242 498h4v1h-4zM227 499h1v1h-1zM246 499h2v1h-2zM226 500h1v1h-1zM248 500h2v1h-2zM225 501h1v1h-1zM250 501h4v1h-4zM224 502h2v1h-2zM254 502h2v1h-2zM223 503h2v1h-2zM255 503h2v1h-2zM222 504h2v1h-2zM256 504h2v1h-2zM215 505h8v1h-8zM257 505h2v1h-2zM213 506h9v1h-9zM258 506h2v1h-2zM213 507h2v1h-2zM217 507h5v1h-5zM259 507h3v1h-3zM213 508h1v1h-1zM218 508h4v1h-4zM261 508h4v1h-4zM212 509h2v1h-2zM219 509h2v1h-2zM265 509h3v1h-3zM212 510h2v1h-2zM234 510h2v1h-2zM212 511h2v1h-2zM232 511h4v1h-4zM212 512h1v1h-1zM231 512h5v1h-5zM211 513h2v1h-2zM211 514h1v1h-1zM211 515h1v1h-1zM211 516h1v1h-1zM235 516h1v1h-1zM211 517h1v1h-1zM235 517h2v1h-2zM212 518h1v1h-1zM234 518h3v1h-3zM212 519h1v1h-1zM234 519h3v1h-3zM211 520h1v1h-1zM235 520h2v1h-2zM212 521h1v1h-1zM213 522h1v1h-1zM269 522h1v1h-1zM214 523h1v1h-1zM268 523h1v1h-1zM214 524h1v1h-1zM221 524h11v1h-11zM214 525h1v1h-1zM219 525h1v1h-1zM224 525h2v1h-2zM228 525h4v1h-4zM267 525h1v1h-1zM213 526h2v1h-2zM217 526h2v1h-2zM224 526h1v1h-1zM230 526h2v1h-2zM266 526h1v1h-1zM212 527h7v1h-7zM223 527h2v1h-2zM265 527h1v1h-1zM212 528h7v1h-7zM222 528h1v1h-1zM263 528h1v1h-1zM212 529h10v1h-10zM262 529h1v1h-1zM213 530h4v1h-4zM218 530h3v1h-3zM261 530h1v1h-1zM212 531h4v1h-4zM260 531h1v1h-1zM212 532h3v1h-3zM259 532h1v1h-1zM211 533h3v1h-3zM257 533h2v1h-2zM206 534h7v1h-7zM248 534h3v1h-3zM256 534h1v1h-1zM205 535h5v1h-5zM242 535h9v1h-9zM255 535h1v1h-1zM204 536h2v1h-2zM217 536h1v1h-1zM231 536h2v1h-2zM241 536h2v1h-2zM249 536h3v1h-3zM254 536h1v1h-1zM204 537h1v1h-1zM217 537h1v1h-1zM230 537h1v1h-1zM233 537h1v1h-1zM240 537h1v1h-1zM249 537h2v1h-2zM254 537h1v1h-1zM204 538h1v1h-1zM234 538h1v1h-1zM239 538h1v1h-1zM249 538h2v1h-2zM253 538h1v1h-1zM204 539h1v1h-1zM218 539h1v1h-1zM234 539h2v1h-2zM237 539h2v1h-2zM247 539h3v1h-3zM252 539h1v1h-1zM217 540h3v1h-3zM230 540h1v1h-1zM234 540h5v1h-5zM244 540h3v1h-3zM251 540h1v1h-1zM216 541h4v1h-4zM230 541h2v1h-2zM233 541h6v1h-6zM243 541h2v1h-2zM251 541h1v1h-1zM204 542h1v1h-1zM216 542h4v1h-4zM230 542h5v1h-5zM238 542h1v1h-1zM243 542h1v1h-1zM251 542h1v1h-1zM215 543h5v1h-5zM230 543h4v1h-4zM239 543h4v1h-4zM250 543h1v1h-1zM205 544h1v1h-1zM214 544h6v1h-6zM230 544h3v1h-3zM241 544h1v1h-1zM250 544h1v1h-1zM206 545h3v1h-3zM211 545h3v1h-3zM218 545h5v1h-5zM250 545h1v1h-1zM220 546h4v1h-4zM248 546h2v1h-2zM221 547h3v1h-3zM247 547h1v1h-1zM223 548h3v1h-3zM242 548h5v1h-5zM225 549h3v1h-3zM231 549h1v1h-1zM237 549h7v1h-7zM228 550h11v1h-11z"/>
<path fill="#28a6de" d="M238 497h2v1h-2zM235 498h2v1h-2zM241 498h1v1h-1zM228 499h8v1h-8zM243 499h3v1h-3zM227 500h2v1h-2zM233 500h2v1h-2zM246 500h2v1h-2zM226 501h2v1h-2zM247 501h3v1h-3zM226 502h1v1h-1zM252 502h2v1h-2zM225 503h1v1h-1zM254 503h1v1h-1zM224 504h1v1h-1zM255 504h1v1h-1zM223 505h1v1h-1zM256 505h1v1h-1zM222 506h2v1h-2zM257 506h1v1h-1zM215 507h2v1h-2zM222 507h2v1h-2zM238 507h3v1h-3zM258 507h1v1h-1zM214 508h4v1h-4zM222 508h2v1h-2zM233 508h8v1h-8zM259 508h2v1h-2zM214 509h5v1h-5zM221 509h4v1h-4zM232 509h8v1h-8zM248 509h2v1h-2zM259 509h6v1h-6zM214 510h12v1h-12zM230 510h4v1h-4zM236 510h4v1h-4zM248 510h2v1h-2zM266 510h3v1h-3zM214 511h12v1h-12zM228 511h4v1h-4zM236 511h3v1h-3zM269 511h1v1h-1zM213 512h18v1h-18zM236 512h3v1h-3zM213 513h14v1h-14zM228 513h11v1h-11zM271 513h1v1h-1zM212 514h4v1h-4zM223 514h3v1h-3zM230 514h9v1h-9zM271 514h1v1h-1zM212 515h3v1h-3zM224 515h2v1h-2zM232 515h7v1h-7zM271 515h1v1h-1zM212 516h2v1h-2zM224 516h1v1h-1zM233 516h2v1h-2zM236 516h3v1h-3zM271 516h1v1h-1zM212 517h2v1h-2zM233 517h2v1h-2zM237 517h2v1h-2zM213 518h1v1h-1zM233 518h1v1h-1zM237 518h2v1h-2zM271 518h1v1h-1zM213 519h1v1h-1zM233 519h1v1h-1zM237 519h2v1h-2zM212 520h2v1h-2zM233 520h2v1h-2zM237 520h2v1h-2zM270 520h1v1h-1zM213 521h1v1h-1zM232 521h7v1h-7zM268 521h2v1h-2zM214 522h1v1h-1zM223 522h16v1h-16zM268 522h1v1h-1zM222 523h17v1h-17zM267 523h1v1h-1zM215 524h1v1h-1zM219 524h2v1h-2zM232 524h8v1h-8zM266 524h2v1h-2zM215 525h4v1h-4zM226 525h2v1h-2zM232 525h8v1h-8zM262 525h5v1h-5zM215 526h2v1h-2zM225 526h5v1h-5zM232 526h8v1h-8zM261 526h5v1h-5zM225 527h15v1h-15zM261 527h4v1h-4zM223 528h3v1h-3zM230 528h3v1h-3zM261 528h2v1h-2zM222 529h2v1h-2zM260 529h2v1h-2zM217 530h1v1h-1zM221 530h2v1h-2zM259 530h2v1h-2zM216 531h6v1h-6zM242 531h8v1h-8zM258 531h2v1h-2zM215 532h7v1h-7zM242 532h9v1h-9zM257 532h2v1h-2zM214 533h7v1h-7zM241 533h11v1h-11zM256 533h1v1h-1zM213 534h7v1h-7zM240 534h8v1h-8zM251 534h2v1h-2zM255 534h1v1h-1zM210 535h10v1h-10zM231 535h1v1h-1zM240 535h2v1h-2zM251 535h4v1h-4zM206 536h11v1h-11zM218 536h2v1h-2zM230 536h1v1h-1zM233 536h1v1h-1zM239 536h2v1h-2zM252 536h2v1h-2zM205 537h2v1h-2zM211 537h6v1h-6zM218 537h2v1h-2zM229 537h1v1h-1zM234 537h2v1h-2zM237 537h3v1h-3zM251 537h3v1h-3zM205 538h1v1h-1zM214 538h7v1h-7zM229 538h1v1h-1zM235 538h4v1h-4zM251 538h2v1h-2zM215 539h3v1h-3zM219 539h2v1h-2zM229 539h1v1h-1zM236 539h1v1h-1zM250 539h2v1h-2zM204 540h1v1h-1zM215 540h2v1h-2zM220 540h1v1h-1zM229 540h1v1h-1zM247 540h4v1h-4zM204 541h1v1h-1zM214 541h2v1h-2zM220 541h2v1h-2zM229 541h1v1h-1zM245 541h1v1h-1zM214 542h2v1h-2zM220 542h2v1h-2zM229 542h1v1h-1zM235 542h3v1h-3zM244 542h1v1h-1zM250 542h1v1h-1zM205 543h1v1h-1zM213 543h2v1h-2zM220 543h3v1h-3zM229 543h1v1h-1zM234 543h2v1h-2zM237 543h2v1h-2zM243 543h1v1h-1zM206 544h1v1h-1zM212 544h2v1h-2zM220 544h6v1h-6zM228 544h2v1h-2zM233 544h2v1h-2zM239 544h2v1h-2zM242 544h2v1h-2zM209 545h2v1h-2zM223 545h11v1h-11zM240 545h4v1h-4zM249 545h1v1h-1zM224 546h10v1h-10zM240 546h5v1h-5zM247 546h1v1h-1zM224 547h4v1h-4zM229 547h6v1h-6zM239 547h8v1h-8zM226 548h16v1h-16zM228 549h3v1h-3zM232 549h5v1h-5z"/>
<path fill="#2bac94" d="M237 498h4v1h-4zM236 499h1v1h-1zM242 499h1v1h-1zM229 500h4v1h-4zM235 500h1v1h-1zM243 500h3v1h-3zM228 501h2v1h-2zM231 501h5v1h-5zM244 501h3v1h-3zM227 502h1v1h-1zM232 502h3v1h-3zM244 502h8v1h-8zM226 503h1v1h-1zM244 503h1v1h-1zM253 503h1v1h-1zM225 504h2v1h-2zM243 504h1v1h-1zM254 504h1v1h-1zM224 505h2v1h-2zM240 505h4v1h-4zM255 505h1v1h-1zM224 506h2v1h-2zM237 506h7v1h-7zM254 506h3v1h-3zM224 507h2v1h-2zM232 507h6v1h-6zM241 507h4v1h-4zM253 507h2v1h-2zM224 508h2v1h-2zM232 508h1v1h-1zM241 508h14v1h-14zM258 508h1v1h-1zM225 509h3v1h-3zM229 509h3v1h-3zM240 509h8v1h-8zM250 509h5v1h-5zM258 509h1v1h-1zM226 510h4v1h-4zM240 510h2v1h-2zM245 510h3v1h-3zM250 510h6v1h-6zM257 510h9v1h-9zM226 511h2v1h-2zM239 511h2v1h-2zM246 511h15v1h-15zM268 511h1v1h-1zM239 512h2v1h-2zM247 512h4v1h-4zM254 512h5v1h-5zM270 512h1v1h-1zM227 513h1v1h-1zM239 513h1v1h-1zM247 513h3v1h-3zM256 513h1v1h-1zM216 514h7v1h-7zM226 514h4v1h-4zM239 514h1v1h-1zM215 515h5v1h-5zM221 515h3v1h-3zM226 515h1v1h-1zM230 515h2v1h-2zM239 515h1v1h-1zM214 516h2v1h-2zM222 516h2v1h-2zM225 516h1v1h-1zM232 516h1v1h-1zM239 516h1v1h-1zM214 517h1v1h-1zM222 517h3v1h-3zM232 517h1v1h-1zM271 517h1v1h-1zM214 518h1v1h-1zM222 518h3v1h-3zM232 518h1v1h-1zM214 519h1v1h-1zM223 519h2v1h-2zM232 519h1v1h-1zM270 519h1v1h-1zM214 520h1v1h-1zM223 520h2v1h-2zM232 520h1v1h-1zM260 520h1v1h-1zM268 520h2v1h-2zM214 521h1v1h-1zM223 521h4v1h-4zM230 521h2v1h-2zM239 521h1v1h-1zM260 521h3v1h-3zM265 521h3v1h-3zM215 522h1v1h-1zM222 522h1v1h-1zM239 522h1v1h-1zM260 522h8v1h-8zM215 523h2v1h-2zM220 523h2v1h-2zM239 523h1v1h-1zM259 523h8v1h-8zM216 524h3v1h-3zM240 524h1v1h-1zM259 524h7v1h-7zM240 525h1v1h-1zM259 525h3v1h-3zM240 526h1v1h-1zM259 526h2v1h-2zM240 527h2v1h-2zM259 527h2v1h-2zM226 528h4v1h-4zM233 528h10v1h-10zM244 528h2v1h-2zM258 528h3v1h-3zM224 529h2v1h-2zM229 529h19v1h-19zM258 529h2v1h-2zM223 530h1v1h-1zM230 530h3v1h-3zM238 530h13v1h-13zM257 530h2v1h-2zM222 531h1v1h-1zM239 531h3v1h-3zM250 531h2v1h-2zM257 531h1v1h-1zM222 532h1v1h-1zM240 532h2v1h-2zM251 532h2v1h-2zM256 532h1v1h-1zM221 533h2v1h-2zM231 533h1v1h-1zM239 533h2v1h-2zM252 533h4v1h-4zM220 534h3v1h-3zM230 534h2v1h-2zM239 534h1v1h-1zM253 534h2v1h-2zM220 535h3v1h-3zM229 535h2v1h-2zM232 535h2v1h-2zM238 535h2v1h-2zM220 536h2v1h-2zM229 536h1v1h-1zM234 536h5v1h-5zM207 537h4v1h-4zM220 537h2v1h-2zM236 537h1v1h-1zM206 538h2v1h-2zM210 538h4v1h-4zM221 538h1v1h-1zM228 538h1v1h-1zM205 539h1v1h-1zM212 539h3v1h-3zM221 539h1v1h-1zM228 539h1v1h-1zM205 540h1v1h-1zM213 540h2v1h-2zM221 540h1v1h-1zM228 540h1v1h-1zM205 541h1v1h-1zM213 541h1v1h-1zM222 541h1v1h-1zM228 541h1v1h-1zM246 541h2v1h-2zM250 541h1v1h-1zM205 542h1v1h-1zM213 542h1v1h-1zM222 542h2v1h-2zM228 542h1v1h-1zM245 542h1v1h-1zM249 542h1v1h-1zM206 543h1v1h-1zM212 543h1v1h-1zM223 543h6v1h-6zM236 543h1v1h-1zM244 543h1v1h-1zM249 543h1v1h-1zM207 544h5v1h-5zM226 544h2v1h-2zM235 544h4v1h-4zM244 544h1v1h-1zM249 544h1v1h-1zM234 545h2v1h-2zM237 545h3v1h-3zM244 545h2v1h-2zM247 545h2v1h-2zM234 546h6v1h-6zM245 546h2v1h-2zM228 547h1v1h-1zM235 547h4v1h-4z"/>
<path fill="#2eb24a" d="M237 499h2v1h-2zM241 499h1v1h-1zM236 500h1v1h-1zM242 500h1v1h-1zM230 501h1v1h-1zM236 501h1v1h-1zM243 501h1v1h-1zM228 502h4v1h-4zM235 502h2v1h-2zM242 502h2v1h-2zM227 503h2v1h-2zM230 503h6v1h-6zM242 503h2v1h-2zM245 503h8v1h-8zM227 504h1v1h-1zM231 504h4v1h-4zM238 504h5v1h-5zM244 504h2v1h-2zM253 504h1v1h-1zM226 505h1v1h-1zM232 505h3v1h-3zM236 505h4v1h-4zM244 505h2v1h-2zM253 505h2v1h-2zM226 506h1v1h-1zM232 506h5v1h-5zM244 506h2v1h-2zM252 506h2v1h-2zM226 507h1v1h-1zM231 507h1v1h-1zM245 507h8v1h-8zM255 507h3v1h-3zM226 508h6v1h-6zM228 509h1v1h-1zM255 509h1v1h-1zM242 510h3v1h-3zM256 510h1v1h-1zM241 511h1v1h-1zM245 511h1v1h-1zM261 511h7v1h-7zM241 512h1v1h-1zM245 512h2v1h-2zM251 512h3v1h-3zM259 512h3v1h-3zM269 512h1v1h-1zM240 513h1v1h-1zM246 513h1v1h-1zM250 513h1v1h-1zM254 513h2v1h-2zM257 513h4v1h-4zM270 513h1v1h-1zM240 514h1v1h-1zM246 514h4v1h-4zM255 514h5v1h-5zM270 514h1v1h-1zM220 515h1v1h-1zM227 515h3v1h-3zM247 515h3v1h-3zM256 515h4v1h-4zM270 515h1v1h-1zM216 516h6v1h-6zM226 516h1v1h-1zM231 516h1v1h-1zM247 516h2v1h-2zM257 516h2v1h-2zM270 516h1v1h-1zM215 517h3v1h-3zM221 517h1v1h-1zM225 517h1v1h-1zM231 517h1v1h-1zM239 517h1v1h-1zM257 517h3v1h-3zM215 518h2v1h-2zM221 518h1v1h-1zM225 518h1v1h-1zM239 518h1v1h-1zM258 518h3v1h-3zM270 518h1v1h-1zM215 519h1v1h-1zM222 519h1v1h-1zM225 519h1v1h-1zM231 519h1v1h-1zM239 519h1v1h-1zM258 519h5v1h-5zM269 519h1v1h-1zM215 520h1v1h-1zM222 520h1v1h-1zM225 520h1v1h-1zM231 520h1v1h-1zM239 520h1v1h-1zM258 520h2v1h-2zM261 520h7v1h-7zM215 521h1v1h-1zM221 521h2v1h-2zM227 521h3v1h-3zM258 521h2v1h-2zM263 521h2v1h-2zM216 522h1v1h-1zM220 522h2v1h-2zM258 522h2v1h-2zM217 523h3v1h-3zM240 523h1v1h-1zM258 523h1v1h-1zM258 524h1v1h-1zM241 525h1v1h-1zM245 525h3v1h-3zM258 525h1v1h-1zM241 526h7v1h-7zM258 526h1v1h-1zM242 527h6v1h-6zM258 527h1v1h-1zM243 528h1v1h-1zM246 528h3v1h-3zM257 528h1v1h-1zM226 529h3v1h-3zM248 529h3v1h-3zM257 529h1v1h-1zM224 530h6v1h-6zM233 530h5v1h-5zM251 530h1v1h-1zM256 530h1v1h-1zM223 531h2v1h-2zM229 531h6v1h-6zM237 531h2v1h-2zM252 531h1v1h-1zM255 531h2v1h-2zM223 532h1v1h-1zM229 532h5v1h-5zM238 532h2v1h-2zM253 532h3v1h-3zM223 533h1v1h-1zM229 533h2v1h-2zM232 533h1v1h-1zM238 533h1v1h-1zM223 534h2v1h-2zM229 534h1v1h-1zM232 534h2v1h-2zM238 534h1v1h-1zM223 535h2v1h-2zM228 535h1v1h-1zM234 535h4v1h-4zM222 536h2v1h-2zM228 536h1v1h-1zM222 537h1v1h-1zM228 537h1v1h-1zM208 538h2v1h-2zM222 538h1v1h-1zM206 539h2v1h-2zM210 539h2v1h-2zM222 539h1v1h-1zM206 540h1v1h-1zM212 540h1v1h-1zM222 540h1v1h-1zM212 541h1v1h-1zM223 541h1v1h-1zM227 541h1v1h-1zM248 541h2v1h-2zM206 542h1v1h-1zM212 542h1v1h-1zM224 542h4v1h-4zM246 542h1v1h-1zM248 542h1v1h-1zM207 543h1v1h-1zM211 543h1v1h-1zM245 543h1v1h-1zM248 543h1v1h-1zM245 544h4v1h-4zM236 545h1v1h-1zM246 545h1v1h-1z"/>
<path fill="#8fcb35" d="M239 499h2v1h-2zM237 500h2v1h-2zM241 500h1v1h-1zM237 501h2v1h-2zM241 501h2v1h-2zM237 502h2v1h-2zM240 502h2v1h-2zM229 503h1v1h-1zM236 503h6v1h-6zM228 504h3v1h-3zM235 504h3v1h-3zM246 504h7v1h-7zM227 505h2v1h-2zM230 505h2v1h-2zM235 505h1v1h-1zM246 505h2v1h-2zM251 505h2v1h-2zM227 506h2v1h-2zM230 506h2v1h-2zM246 506h6v1h-6zM227 507h4v1h-4zM255 508h2v1h-2zM256 509h2v1h-2zM242 511h3v1h-3zM242 512h1v1h-1zM244 512h1v1h-1zM262 512h3v1h-3zM268 512h1v1h-1zM241 513h1v1h-1zM245 513h1v1h-1zM251 513h3v1h-3zM261 513h1v1h-1zM245 514h1v1h-1zM250 514h1v1h-1zM254 514h1v1h-1zM260 514h1v1h-1zM240 515h1v1h-1zM246 515h1v1h-1zM255 515h1v1h-1zM260 515h1v1h-1zM230 516h1v1h-1zM240 516h1v1h-1zM246 516h1v1h-1zM249 516h1v1h-1zM255 516h2v1h-2zM259 516h2v1h-2zM218 517h3v1h-3zM226 517h1v1h-1zM240 517h1v1h-1zM246 517h3v1h-3zM256 517h1v1h-1zM260 517h1v1h-1zM270 517h1v1h-1zM217 518h4v1h-4zM231 518h1v1h-1zM240 518h1v1h-1zM247 518h2v1h-2zM256 518h2v1h-2zM261 518h2v1h-2zM216 519h2v1h-2zM220 519h2v1h-2zM247 519h2v1h-2zM257 519h1v1h-1zM263 519h6v1h-6zM216 520h2v1h-2zM221 520h1v1h-1zM226 520h1v1h-1zM230 520h1v1h-1zM247 520h2v1h-2zM257 520h1v1h-1zM216 521h2v1h-2zM220 521h1v1h-1zM240 521h1v1h-1zM247 521h2v1h-2zM217 522h3v1h-3zM240 522h1v1h-1zM246 522h3v1h-3zM241 523h1v1h-1zM246 523h3v1h-3zM241 524h1v1h-1zM245 524h4v1h-4zM257 524h1v1h-1zM242 525h3v1h-3zM248 525h1v1h-1zM257 525h1v1h-1zM248 526h1v1h-1zM257 526h1v1h-1zM248 527h2v1h-2zM257 527h1v1h-1zM249 528h2v1h-2zM256 528h1v1h-1zM251 529h1v1h-1zM256 529h1v1h-1zM252 530h1v1h-1zM255 530h1v1h-1zM225 531h4v1h-4zM235 531h2v1h-2zM253 531h2v1h-2zM224 532h2v1h-2zM227 532h2v1h-2zM234 532h4v1h-4zM224 533h2v1h-2zM227 533h2v1h-2zM233 533h5v1h-5zM225 534h4v1h-4zM234 534h4v1h-4zM225 535h3v1h-3zM224 536h4v1h-4zM223 537h5v1h-5zM223 538h2v1h-2zM226 538h2v1h-2zM208 539h2v1h-2zM223 539h2v1h-2zM226 539h2v1h-2zM207 540h1v1h-1zM210 540h2v1h-2zM223 540h5v1h-5zM206 541h1v1h-1zM211 541h1v1h-1zM224 541h3v1h-3zM207 542h1v1h-1zM211 542h1v1h-1zM247 542h1v1h-1zM208 543h3v1h-3zM246 543h2v1h-2z"/>
<path fill="#f0e420" d="M239 500h2v1h-2zM239 501h2v1h-2zM239 502h1v1h-1zM229 505h1v1h-1zM248 505h3v1h-3zM229 506h1v1h-1zM257 508h1v1h-1zM243 512h1v1h-1zM265 512h3v1h-3zM242 513h3v1h-3zM262 513h2v1h-2zM269 513h1v1h-1zM241 514h1v1h-1zM244 514h1v1h-1zM251 514h3v1h-3zM261 514h2v1h-2zM241 515h1v1h-1zM245 515h1v1h-1zM250 515h1v1h-1zM254 515h1v1h-1zM261 515h1v1h-1zM227 516h3v1h-3zM245 516h1v1h-1zM261 516h1v1h-1zM230 517h1v1h-1zM249 517h1v1h-1zM255 517h1v1h-1zM261 517h2v1h-2zM226 518h1v1h-1zM246 518h1v1h-1zM249 518h1v1h-1zM263 518h3v1h-3zM269 518h1v1h-1zM218 519h2v1h-2zM226 519h1v1h-1zM230 519h1v1h-1zM240 519h1v1h-1zM246 519h1v1h-1zM249 519h1v1h-1zM256 519h1v1h-1zM218 520h3v1h-3zM227 520h3v1h-3zM240 520h1v1h-1zM246 520h1v1h-1zM218 521h2v1h-2zM246 521h1v1h-1zM257 521h1v1h-1zM241 522h1v1h-1zM245 522h1v1h-1zM257 522h1v1h-1zM245 523h1v1h-1zM257 523h1v1h-1zM242 524h3v1h-3zM249 524h1v1h-1zM249 525h1v1h-1zM249 526h1v1h-1zM250 527h1v1h-1zM256 527h1v1h-1zM252 529h1v1h-1zM255 529h1v1h-1zM253 530h2v1h-2zM226 532h1v1h-1zM226 533h1v1h-1zM225 538h1v1h-1zM225 539h1v1h-1zM208 540h2v1h-2zM207 541h4v1h-4zM208 542h3v1h-3z"/>
<path fill="#efa41f" d="M264 513h1v1h-1zM242 514h2v1h-2zM269 514h1v1h-1zM244 515h1v1h-1zM251 515h1v1h-1zM253 515h1v1h-1zM262 515h1v1h-1zM269 515h1v1h-1zM241 516h1v1h-1zM250 516h1v1h-1zM254 516h1v1h-1zM262 516h1v1h-1zM269 516h1v1h-1zM227 517h1v1h-1zM245 517h1v1h-1zM263 517h1v1h-1zM269 517h1v1h-1zM230 518h1v1h-1zM245 518h1v1h-1zM255 518h1v1h-1zM266 518h3v1h-3zM245 519h1v1h-1zM255 519h1v1h-1zM245 520h1v1h-1zM249 520h1v1h-1zM256 520h1v1h-1zM241 521h1v1h-1zM245 521h1v1h-1zM249 521h1v1h-1zM256 521h1v1h-1zM244 522h1v1h-1zM249 522h1v1h-1zM242 523h3v1h-3zM249 523h1v1h-1zM256 524h1v1h-1zM256 525h1v1h-1zM250 526h1v1h-1zM256 526h1v1h-1zM251 528h1v1h-1zM255 528h1v1h-1zM253 529h2v1h-2z"/>
<path fill="#ee641e" d="M265 513h1v1h-1zM267 513h2v1h-2zM263 514h1v1h-1zM242 515h2v1h-2zM252 515h1v1h-1zM263 515h1v1h-1zM244 516h1v1h-1zM253 516h1v1h-1zM263 516h1v1h-1zM228 517h2v1h-2zM241 517h1v1h-1zM250 517h1v1h-1zM254 517h1v1h-1zM264 517h1v1h-1zM227 518h1v1h-1zM241 518h1v1h-1zM254 518h1v1h-1zM227 519h3v1h-3zM241 519h1v1h-1zM241 520h1v1h-1zM255 520h1v1h-1zM244 521h1v1h-1zM242 522h2v1h-2zM256 522h1v1h-1zM250 523h1v1h-1zM256 523h1v1h-1zM250 524h1v1h-1zM250 525h1v1h-1zM255 526h1v1h-1zM251 527h1v1h-1zM255 527h1v1h-1zM252 528h3v1h-3z"/>
<path fill="#e94c1d" d="M266 513h1v1h-1zM264 514h1v1h-1zM242 516h2v1h-2zM251 516h1v1h-1zM264 516h1v1h-1zM242 517h1v1h-1zM244 517h1v1h-1zM265 517h2v1h-2zM268 517h1v1h-1zM228 518h2v1h-2zM244 518h1v1h-1zM250 518h1v1h-1zM244 519h1v1h-1zM250 519h1v1h-1zM254 519h1v1h-1zM244 520h1v1h-1zM250 520h1v1h-1zM242 521h2v1h-2zM250 521h1v1h-1zM255 521h1v1h-1zM250 522h1v1h-1zM255 522h1v1h-1zM255 524h1v1h-1zM251 525h1v1h-1zM255 525h1v1h-1zM251 526h1v1h-1zM252 527h3v1h-3z"/>
<path fill="#e4341c" d="M265 514h4v1h-4zM264 515h5v1h-5zM252 516h1v1h-1zM265 516h4v1h-4zM243 517h1v1h-1zM251 517h3v1h-3zM267 517h1v1h-1zM242 518h2v1h-2zM251 518h3v1h-3zM242 519h2v1h-2zM251 519h3v1h-3zM242 520h2v1h-2zM251 520h4v1h-4zM251 521h4v1h-4zM251 522h4v1h-4zM251 523h5v1h-5zM251 524h4v1h-4zM252 525h3v1h-3zM252 526h3v1h-3z"/>
</g>
<g shape-rendering="crispEdges" filter="url(#sb)">
<path fill="#3a2a9e" d="M340 475h21v1h-21zM338 476h3v1h-3zM360 476h4v1h-4zM338 477h1v1h-1zM363 477h3v1h-3zM337 478h2v1h-2zM365 478h2v1h-2zM337 479h1v1h-1zM366 479h2v1h-2zM337 480h1v1h-1zM367 480h2v1h-2zM337 481h1v1h-1zM368 481h2v1h-2zM337 482h1v1h-1zM369 482h1v1h-1zM337 483h1v1h-1zM369 483h2v1h-2zM337 484h1v1h-1zM370 484h1v1h-1zM336 485h2v1h-2zM370 485h1v1h-1zM334 486h3v1h-3zM370 486h1v1h-1zM328 487h7v1h-7zM370 487h1v1h-1zM327 488h2v1h-2zM370 488h1v1h-1zM326 489h2v1h-2zM370 489h1v1h-1zM325 490h2v1h-2zM370 490h1v1h-1zM324 491h2v1h-2zM370 491h1v1h-1zM323 492h2v1h-2zM370 492h2v1h-2zM322 493h2v1h-2zM371 493h1v1h-1zM321 494h2v1h-2zM371 494h2v1h-2zM321 495h1v1h-1zM372 495h2v1h-2zM320 496h2v1h-2zM373 496h2v1h-2zM319 497h2v1h-2zM374 497h3v1h-3zM319 498h1v1h-1zM376 498h2v1h-2zM318 499h2v1h-2zM377 499h1v1h-1zM318 500h1v1h-1zM377 500h2v1h-2zM317 501h2v1h-2zM378 501h1v1h-1zM316 502h2v1h-2zM378 502h1v1h-1zM316 503h1v1h-1zM378 503h2v1h-2zM315 504h2v1h-2zM379 504h1v1h-1zM315 505h1v1h-1zM378 505h3v1h-3zM315 506h1v1h-1zM377 506h5v1h-5zM314 507h2v1h-2zM376 507h3v1h-3zM381 507h2v1h-2zM314 508h1v1h-1zM376 508h2v1h-2zM382 508h2v1h-2zM313 509h2v1h-2zM383 509h3v1h-3zM313 510h1v1h-1zM372 510h3v1h-3zM376 510h2v1h-2zM385 510h2v1h-2zM313 511h1v1h-1zM372 511h3v1h-3zM376 511h2v1h-2zM386 511h2v1h-2zM313 512h1v1h-1zM387 512h2v1h-2zM313 513h1v1h-1zM388 513h1v1h-1zM313 514h1v1h-1zM388 514h1v1h-1zM313 515h1v1h-1zM371 515h3v1h-3zM388 515h2v1h-2zM313 516h1v1h-1zM371 516h3v1h-3zM389 516h1v1h-1zM313 517h1v1h-1zM371 517h3v1h-3zM389 517h1v1h-1zM313 518h2v1h-2zM389 518h1v1h-1zM314 519h1v1h-1zM388 519h2v1h-2zM314 520h1v1h-1zM388 520h1v1h-1zM314 521h1v1h-1zM388 521h1v1h-1zM314 522h2v1h-2zM387 522h2v1h-2zM315 523h1v1h-1zM386 523h2v1h-2zM315 524h2v1h-2zM385 524h2v1h-2zM316 525h1v1h-1zM385 525h1v1h-1zM316 526h2v1h-2zM384 526h2v1h-2zM317 527h2v1h-2zM383 527h2v1h-2zM318 528h2v1h-2zM382 528h2v1h-2zM319 529h2v1h-2zM381 529h2v1h-2zM320 530h1v1h-1zM379 530h3v1h-3zM320 531h2v1h-2zM378 531h2v1h-2zM321 532h2v1h-2zM377 532h2v1h-2zM322 533h1v1h-1zM376 533h2v1h-2zM322 534h2v1h-2zM375 534h2v1h-2zM323 535h1v1h-1zM374 535h2v1h-2zM323 536h1v1h-1zM374 536h1v1h-1zM323 537h1v1h-1zM373 537h2v1h-2zM323 538h2v1h-2zM373 538h1v1h-1zM324 539h2v1h-2zM373 539h1v1h-1zM325 540h2v1h-2zM372 540h2v1h-2zM326 541h3v1h-3zM372 541h1v1h-1zM328 542h2v1h-2zM371 542h2v1h-2zM329 543h5v1h-5zM370 543h2v1h-2zM333 544h3v1h-3zM369 544h2v1h-2zM335 545h2v1h-2zM368 545h2v1h-2zM336 546h2v1h-2zM367 546h2v1h-2zM337 547h2v1h-2zM366 547h2v1h-2zM338 548h2v1h-2zM364 548h3v1h-3zM339 549h3v1h-3zM362 549h3v1h-3zM341 550h2v1h-2zM360 550h3v1h-3zM342 551h5v1h-5zM357 551h4v1h-4zM346 552h12v1h-12z"/>
<path fill="#2a60d0" d="M341 476h19v1h-19zM339 477h1v1h-1zM341 477h1v1h-1zM361 477h2v1h-2zM364 478h1v1h-1zM338 479h1v1h-1zM338 480h1v1h-1zM338 481h1v1h-1zM338 482h1v1h-1zM368 482h1v1h-1zM338 483h1v1h-1zM338 484h1v1h-1zM369 484h1v1h-1zM369 485h1v1h-1zM369 486h1v1h-1zM335 487h1v1h-1zM369 487h1v1h-1zM329 488h6v1h-6zM369 488h1v1h-1zM328 489h1v1h-1zM369 489h1v1h-1zM327 490h1v1h-1zM369 490h1v1h-1zM326 491h1v1h-1zM369 491h1v1h-1zM325 492h1v1h-1zM324 493h1v1h-1zM370 493h1v1h-1zM323 494h1v1h-1zM330 494h1v1h-1zM370 494h1v1h-1zM322 495h1v1h-1zM330 495h1v1h-1zM371 495h1v1h-1zM322 496h1v1h-1zM372 496h1v1h-1zM321 497h1v1h-1zM373 497h1v1h-1zM320 498h1v1h-1zM365 498h1v1h-1zM374 498h2v1h-2zM320 499h1v1h-1zM365 499h1v1h-1zM375 499h2v1h-2zM319 500h1v1h-1zM375 500h2v1h-2zM319 501h1v1h-1zM375 501h3v1h-3zM318 502h1v1h-1zM375 502h3v1h-3zM317 503h1v1h-1zM373 503h5v1h-5zM317 504h1v1h-1zM371 504h4v1h-4zM377 504h2v1h-2zM316 505h1v1h-1zM371 505h3v1h-3zM377 505h1v1h-1zM316 506h1v1h-1zM358 506h2v1h-2zM372 506h2v1h-2zM375 506h2v1h-2zM316 507h1v1h-1zM358 507h1v1h-1zM372 507h4v1h-4zM379 507h2v1h-2zM315 508h1v1h-1zM372 508h4v1h-4zM378 508h2v1h-2zM381 508h1v1h-1zM315 509h1v1h-1zM371 509h8v1h-8zM382 509h1v1h-1zM314 510h1v1h-1zM371 510h1v1h-1zM375 510h1v1h-1zM378 510h1v1h-1zM383 510h2v1h-2zM314 511h1v1h-1zM371 511h1v1h-1zM375 511h1v1h-1zM378 511h1v1h-1zM385 511h1v1h-1zM314 512h1v1h-1zM371 512h7v1h-7zM385 512h2v1h-2zM314 513h1v1h-1zM371 513h5v1h-5zM386 513h2v1h-2zM314 514h1v1h-1zM370 514h6v1h-6zM386 514h2v1h-2zM314 515h1v1h-1zM374 515h1v1h-1zM381 515h1v1h-1zM387 515h1v1h-1zM314 516h1v1h-1zM370 516h1v1h-1zM374 516h1v1h-1zM381 516h1v1h-1zM388 516h1v1h-1zM314 517h1v1h-1zM370 517h1v1h-1zM374 517h1v1h-1zM388 517h1v1h-1zM315 518h1v1h-1zM371 518h3v1h-3zM388 518h1v1h-1zM315 519h1v1h-1zM372 519h3v1h-3zM387 519h1v1h-1zM315 520h1v1h-1zM372 520h3v1h-3zM382 520h2v1h-2zM387 520h1v1h-1zM315 521h1v1h-1zM372 521h4v1h-4zM382 521h2v1h-2zM387 521h1v1h-1zM316 522h1v1h-1zM373 522h3v1h-3zM386 522h1v1h-1zM316 523h1v1h-1zM372 523h4v1h-4zM385 523h1v1h-1zM317 524h1v1h-1zM371 524h5v1h-5zM384 524h1v1h-1zM317 525h1v1h-1zM371 525h5v1h-5zM384 525h1v1h-1zM318 526h1v1h-1zM373 526h3v1h-3zM383 526h1v1h-1zM319 527h1v1h-1zM382 527h1v1h-1zM320 528h1v1h-1zM351 528h1v1h-1zM381 528h1v1h-1zM321 529h1v1h-1zM351 529h2v1h-2zM379 529h2v1h-2zM321 530h1v1h-1zM348 530h1v1h-1zM378 530h1v1h-1zM322 531h1v1h-1zM358 531h1v1h-1zM377 531h1v1h-1zM323 532h1v1h-1zM376 532h1v1h-1zM323 533h1v1h-1zM341 533h2v1h-2zM375 533h1v1h-1zM324 534h1v1h-1zM341 534h2v1h-2zM356 534h1v1h-1zM361 534h1v1h-1zM374 534h1v1h-1zM324 535h1v1h-1zM342 535h1v1h-1zM356 535h1v1h-1zM361 535h1v1h-1zM369 535h2v1h-2zM373 535h1v1h-1zM324 536h1v1h-1zM351 536h1v1h-1zM360 536h3v1h-3zM369 536h3v1h-3zM373 536h1v1h-1zM324 537h1v1h-1zM350 537h2v1h-2zM360 537h1v1h-1zM371 537h2v1h-2zM325 538h1v1h-1zM372 538h1v1h-1zM326 539h1v1h-1zM372 539h1v1h-1zM327 540h2v1h-2zM365 540h1v1h-1zM371 540h1v1h-1zM329 541h1v1h-1zM371 541h1v1h-1zM330 542h5v1h-5zM370 542h1v1h-1zM334 543h2v1h-2zM369 543h1v1h-1zM336 544h1v1h-1zM357 544h1v1h-1zM368 544h1v1h-1zM337 545h1v1h-1zM367 545h1v1h-1zM338 546h1v1h-1zM366 546h1v1h-1zM339 547h1v1h-1zM364 547h2v1h-2zM340 548h2v1h-2zM362 548h2v1h-2zM342 549h1v1h-1zM360 549h2v1h-2zM343 550h4v1h-4zM354 550h1v1h-1zM357 550h3v1h-3zM347 551h10v1h-10z"/>
<path fill="#28a6de" d="M340 477h1v1h-1zM342 477h1v1h-1zM360 477h1v1h-1zM339 478h4v1h-4zM363 478h1v1h-1zM339 479h2v1h-2zM365 479h1v1h-1zM366 480h1v1h-1zM367 481h1v1h-1zM367 482h1v1h-1zM367 483h2v1h-2zM367 484h2v1h-2zM338 485h1v1h-1zM367 485h2v1h-2zM337 486h1v1h-1zM336 487h1v1h-1zM335 488h1v1h-1zM339 488h1v1h-1zM329 489h6v1h-6zM337 489h2v1h-2zM328 490h1v1h-1zM330 490h4v1h-4zM337 490h2v1h-2zM327 491h1v1h-1zM331 491h4v1h-4zM338 491h1v1h-1zM326 492h1v1h-1zM328 492h2v1h-2zM331 492h4v1h-4zM369 492h1v1h-1zM325 493h1v1h-1zM328 493h7v1h-7zM340 493h1v1h-1zM361 493h4v1h-4zM367 493h1v1h-1zM324 494h1v1h-1zM329 494h1v1h-1zM331 494h3v1h-3zM360 494h7v1h-7zM323 495h1v1h-1zM329 495h1v1h-1zM331 495h3v1h-3zM335 495h3v1h-3zM370 495h1v1h-1zM323 496h1v1h-1zM330 496h4v1h-4zM335 496h4v1h-4zM371 496h1v1h-1zM322 497h1v1h-1zM331 497h7v1h-7zM365 497h1v1h-1zM372 497h1v1h-1zM321 498h1v1h-1zM331 498h6v1h-6zM338 498h2v1h-2zM364 498h1v1h-1zM366 498h1v1h-1zM369 498h1v1h-1zM373 498h1v1h-1zM321 499h1v1h-1zM331 499h3v1h-3zM335 499h1v1h-1zM338 499h2v1h-2zM357 499h2v1h-2zM364 499h1v1h-1zM366 499h1v1h-1zM368 499h2v1h-2zM374 499h1v1h-1zM320 500h2v1h-2zM337 500h3v1h-3zM357 500h3v1h-3zM364 500h2v1h-2zM373 500h2v1h-2zM320 501h3v1h-3zM324 501h1v1h-1zM338 501h2v1h-2zM341 501h1v1h-1zM357 501h3v1h-3zM373 501h2v1h-2zM319 502h1v1h-1zM324 502h1v1h-1zM330 502h1v1h-1zM341 502h2v1h-2zM357 502h2v1h-2zM373 502h2v1h-2zM318 503h1v1h-1zM324 503h1v1h-1zM357 503h1v1h-1zM364 503h1v1h-1zM371 503h2v1h-2zM318 504h1v1h-1zM324 504h1v1h-1zM353 504h2v1h-2zM357 504h3v1h-3zM364 504h3v1h-3zM370 504h1v1h-1zM375 504h2v1h-2zM317 505h1v1h-1zM324 505h2v1h-2zM357 505h4v1h-4zM364 505h4v1h-4zM370 505h1v1h-1zM374 505h3v1h-3zM317 506h1v1h-1zM342 506h1v1h-1zM356 506h2v1h-2zM364 506h2v1h-2zM371 506h1v1h-1zM374 506h1v1h-1zM317 507h1v1h-1zM329 507h2v1h-2zM341 507h1v1h-1zM356 507h2v1h-2zM359 507h1v1h-1zM362 507h2v1h-2zM371 507h1v1h-1zM316 508h1v1h-1zM330 508h1v1h-1zM340 508h2v1h-2zM357 508h3v1h-3zM362 508h2v1h-2zM371 508h1v1h-1zM380 508h1v1h-1zM316 509h1v1h-1zM321 509h3v1h-3zM339 509h3v1h-3zM351 509h1v1h-1zM358 509h1v1h-1zM362 509h2v1h-2zM370 509h1v1h-1zM379 509h3v1h-3zM315 510h1v1h-1zM320 510h3v1h-3zM339 510h3v1h-3zM362 510h2v1h-2zM370 510h1v1h-1zM379 510h1v1h-1zM382 510h1v1h-1zM315 511h1v1h-1zM357 511h1v1h-1zM370 511h1v1h-1zM379 511h1v1h-1zM383 511h2v1h-2zM315 512h1v1h-1zM329 512h2v1h-2zM356 512h2v1h-2zM370 512h1v1h-1zM378 512h2v1h-2zM382 512h3v1h-3zM315 513h1v1h-1zM329 513h1v1h-1zM368 513h3v1h-3zM376 513h2v1h-2zM380 513h3v1h-3zM385 513h1v1h-1zM315 514h1v1h-1zM317 514h2v1h-2zM369 514h1v1h-1zM376 514h1v1h-1zM380 514h3v1h-3zM385 514h1v1h-1zM315 515h4v1h-4zM359 515h1v1h-1zM364 515h1v1h-1zM369 515h2v1h-2zM375 515h6v1h-6zM382 515h5v1h-5zM315 516h1v1h-1zM317 516h2v1h-2zM327 516h3v1h-3zM359 516h1v1h-1zM362 516h3v1h-3zM367 516h1v1h-1zM369 516h1v1h-1zM375 516h1v1h-1zM377 516h4v1h-4zM382 516h3v1h-3zM386 516h2v1h-2zM315 517h1v1h-1zM318 517h2v1h-2zM325 517h6v1h-6zM362 517h2v1h-2zM367 517h3v1h-3zM375 517h1v1h-1zM379 517h5v1h-5zM387 517h1v1h-1zM316 518h1v1h-1zM319 518h1v1h-1zM326 518h3v1h-3zM361 518h3v1h-3zM370 518h1v1h-1zM374 518h2v1h-2zM380 518h5v1h-5zM387 518h1v1h-1zM316 519h1v1h-1zM326 519h2v1h-2zM340 519h3v1h-3zM371 519h1v1h-1zM375 519h1v1h-1zM377 519h1v1h-1zM381 519h4v1h-4zM386 519h1v1h-1zM316 520h1v1h-1zM339 520h5v1h-5zM371 520h1v1h-1zM375 520h3v1h-3zM381 520h1v1h-1zM384 520h3v1h-3zM316 521h3v1h-3zM336 521h2v1h-2zM341 521h3v1h-3zM370 521h2v1h-2zM376 521h2v1h-2zM381 521h1v1h-1zM384 521h3v1h-3zM317 522h2v1h-2zM323 522h2v1h-2zM326 522h2v1h-2zM370 522h3v1h-3zM376 522h2v1h-2zM380 522h6v1h-6zM317 523h1v1h-1zM323 523h5v1h-5zM370 523h2v1h-2zM376 523h1v1h-1zM380 523h5v1h-5zM318 524h1v1h-1zM323 524h3v1h-3zM345 524h2v1h-2zM370 524h1v1h-1zM376 524h1v1h-1zM381 524h1v1h-1zM383 524h1v1h-1zM318 525h1v1h-1zM324 525h1v1h-1zM331 525h1v1h-1zM339 525h2v1h-2zM370 525h1v1h-1zM376 525h1v1h-1zM383 525h1v1h-1zM319 526h1v1h-1zM330 526h2v1h-2zM339 526h1v1h-1zM371 526h2v1h-2zM376 526h1v1h-1zM382 526h1v1h-1zM320 527h1v1h-1zM344 527h1v1h-1zM351 527h1v1h-1zM371 527h6v1h-6zM381 527h1v1h-1zM321 528h1v1h-1zM343 528h3v1h-3zM348 528h3v1h-3zM352 528h1v1h-1zM359 528h2v1h-2zM371 528h5v1h-5zM379 528h2v1h-2zM322 529h1v1h-1zM343 529h8v1h-8zM353 529h1v1h-1zM358 529h3v1h-3zM378 529h1v1h-1zM322 530h1v1h-1zM334 530h1v1h-1zM342 530h3v1h-3zM347 530h1v1h-1zM349 530h6v1h-6zM358 530h2v1h-2zM377 530h1v1h-1zM323 531h2v1h-2zM333 531h3v1h-3zM342 531h2v1h-2zM347 531h4v1h-4zM354 531h4v1h-4zM359 531h1v1h-1zM376 531h1v1h-1zM324 532h2v1h-2zM332 532h1v1h-1zM341 532h3v1h-3zM348 532h2v1h-2zM354 532h7v1h-7zM365 532h2v1h-2zM375 532h1v1h-1zM324 533h2v1h-2zM328 533h1v1h-1zM331 533h2v1h-2zM340 533h1v1h-1zM343 533h2v1h-2zM355 533h8v1h-8zM365 533h5v1h-5zM374 533h1v1h-1zM325 534h7v1h-7zM340 534h1v1h-1zM343 534h2v1h-2zM355 534h1v1h-1zM357 534h4v1h-4zM362 534h2v1h-2zM365 534h7v1h-7zM373 534h1v1h-1zM325 535h3v1h-3zM330 535h2v1h-2zM340 535h2v1h-2zM343 535h2v1h-2zM349 535h4v1h-4zM355 535h1v1h-1zM357 535h4v1h-4zM362 535h2v1h-2zM367 535h2v1h-2zM371 535h2v1h-2zM325 536h2v1h-2zM342 536h3v1h-3zM348 536h3v1h-3zM352 536h2v1h-2zM355 536h3v1h-3zM359 536h1v1h-1zM363 536h2v1h-2zM367 536h2v1h-2zM372 536h1v1h-1zM325 537h1v1h-1zM342 537h2v1h-2zM347 537h3v1h-3zM352 537h1v1h-1zM356 537h4v1h-4zM361 537h3v1h-3zM367 537h4v1h-4zM326 538h1v1h-1zM342 538h2v1h-2zM348 538h4v1h-4zM358 538h4v1h-4zM365 538h1v1h-1zM370 538h2v1h-2zM327 539h2v1h-2zM339 539h5v1h-5zM350 539h2v1h-2zM359 539h3v1h-3zM363 539h4v1h-4zM370 539h2v1h-2zM329 540h1v1h-1zM339 540h6v1h-6zM349 540h3v1h-3zM358 540h7v1h-7zM366 540h5v1h-5zM330 541h5v1h-5zM336 541h1v1h-1zM339 541h6v1h-6zM349 541h3v1h-3zM360 541h11v1h-11zM335 542h3v1h-3zM342 542h4v1h-4zM349 542h3v1h-3zM357 542h1v1h-1zM360 542h6v1h-6zM368 542h2v1h-2zM336 543h3v1h-3zM342 543h4v1h-4zM349 543h3v1h-3zM355 543h10v1h-10zM367 543h2v1h-2zM337 544h1v1h-1zM343 544h2v1h-2zM350 544h2v1h-2zM354 544h3v1h-3zM358 544h7v1h-7zM366 544h2v1h-2zM338 545h1v1h-1zM346 545h2v1h-2zM350 545h2v1h-2zM354 545h5v1h-5zM366 545h1v1h-1zM339 546h1v1h-1zM346 546h5v1h-5zM354 546h4v1h-4zM364 546h2v1h-2zM340 547h2v1h-2zM347 547h5v1h-5zM354 547h3v1h-3zM362 547h2v1h-2zM342 548h2v1h-2zM348 548h4v1h-4zM353 548h4v1h-4zM359 548h3v1h-3zM343 549h4v1h-4zM348 549h4v1h-4zM353 549h7v1h-7zM347 550h7v1h-7zM355 550h2v1h-2z"/>
<path fill="#2eb24a" d="M343 477h1v1h-1zM347 477h1v1h-1zM359 477h1v1h-1zM343 478h1v1h-1zM362 478h1v1h-1zM341 479h2v1h-2zM364 479h1v1h-1zM339 480h3v1h-3zM359 480h4v1h-4zM365 480h1v1h-1zM339 481h3v1h-3zM359 481h4v1h-4zM366 481h1v1h-1zM340 482h1v1h-1zM362 482h1v1h-1zM366 482h1v1h-1zM366 483h1v1h-1zM362 484h1v1h-1zM366 484h1v1h-1zM363 485h1v1h-1zM366 485h1v1h-1zM338 486h3v1h-3zM367 486h2v1h-2zM337 487h4v1h-4zM367 487h2v1h-2zM336 488h3v1h-3zM340 488h2v1h-2zM367 488h2v1h-2zM335 489h2v1h-2zM339 489h3v1h-3zM368 489h1v1h-1zM329 490h1v1h-1zM334 490h1v1h-1zM336 490h1v1h-1zM339 490h3v1h-3zM328 491h3v1h-3zM335 491h3v1h-3zM339 491h3v1h-3zM327 492h1v1h-1zM330 492h1v1h-1zM335 492h8v1h-8zM360 492h5v1h-5zM366 492h3v1h-3zM326 493h2v1h-2zM335 493h5v1h-5zM341 493h2v1h-2zM352 493h2v1h-2zM359 493h2v1h-2zM365 493h2v1h-2zM368 493h2v1h-2zM325 494h4v1h-4zM334 494h11v1h-11zM347 494h2v1h-2zM352 494h4v1h-4zM359 494h1v1h-1zM367 494h3v1h-3zM324 495h2v1h-2zM328 495h1v1h-1zM334 495h1v1h-1zM338 495h5v1h-5zM344 495h1v1h-1zM347 495h2v1h-2zM352 495h4v1h-4zM359 495h8v1h-8zM369 495h1v1h-1zM324 496h1v1h-1zM329 496h1v1h-1zM334 496h1v1h-1zM339 496h3v1h-3zM352 496h1v1h-1zM365 496h2v1h-2zM370 496h1v1h-1zM323 497h1v1h-1zM330 497h1v1h-1zM338 497h4v1h-4zM344 497h2v1h-2zM358 497h1v1h-1zM363 497h2v1h-2zM366 497h6v1h-6zM322 498h2v1h-2zM330 498h1v1h-1zM337 498h1v1h-1zM340 498h3v1h-3zM344 498h2v1h-2zM354 498h6v1h-6zM363 498h1v1h-1zM367 498h2v1h-2zM370 498h3v1h-3zM322 499h1v1h-1zM324 499h1v1h-1zM329 499h2v1h-2zM334 499h1v1h-1zM336 499h2v1h-2zM340 499h4v1h-4zM353 499h4v1h-4zM359 499h1v1h-1zM363 499h1v1h-1zM367 499h1v1h-1zM370 499h4v1h-4zM322 500h11v1h-11zM335 500h2v1h-2zM340 500h3v1h-3zM345 500h1v1h-1zM353 500h4v1h-4zM360 500h1v1h-1zM362 500h2v1h-2zM366 500h4v1h-4zM372 500h1v1h-1zM323 501h1v1h-1zM325 501h7v1h-7zM336 501h2v1h-2zM340 501h1v1h-1zM342 501h1v1h-1zM345 501h2v1h-2zM353 501h4v1h-4zM360 501h10v1h-10zM372 501h1v1h-1zM320 502h4v1h-4zM325 502h2v1h-2zM328 502h2v1h-2zM331 502h1v1h-1zM339 502h2v1h-2zM343 502h3v1h-3zM353 502h4v1h-4zM359 502h14v1h-14zM319 503h5v1h-5zM325 503h1v1h-1zM329 503h2v1h-2zM341 503h4v1h-4zM353 503h4v1h-4zM358 503h6v1h-6zM365 503h6v1h-6zM319 504h3v1h-3zM323 504h1v1h-1zM325 504h1v1h-1zM342 504h3v1h-3zM352 504h1v1h-1zM355 504h2v1h-2zM360 504h4v1h-4zM367 504h3v1h-3zM318 505h3v1h-3zM323 505h1v1h-1zM326 505h3v1h-3zM341 505h4v1h-4zM353 505h4v1h-4zM361 505h3v1h-3zM368 505h2v1h-2zM318 506h2v1h-2zM324 506h6v1h-6zM340 506h2v1h-2zM343 506h1v1h-1zM354 506h2v1h-2zM360 506h4v1h-4zM366 506h3v1h-3zM370 506h1v1h-1zM318 507h1v1h-1zM323 507h2v1h-2zM326 507h3v1h-3zM331 507h1v1h-1zM339 507h2v1h-2zM342 507h2v1h-2zM347 507h1v1h-1zM351 507h2v1h-2zM355 507h1v1h-1zM360 507h2v1h-2zM364 507h5v1h-5zM370 507h1v1h-1zM317 508h1v1h-1zM319 508h1v1h-1zM322 508h2v1h-2zM328 508h2v1h-2zM331 508h2v1h-2zM339 508h1v1h-1zM342 508h2v1h-2zM347 508h2v1h-2zM350 508h3v1h-3zM354 508h3v1h-3zM360 508h2v1h-2zM364 508h7v1h-7zM317 509h1v1h-1zM319 509h2v1h-2zM329 509h2v1h-2zM338 509h1v1h-1zM342 509h1v1h-1zM350 509h1v1h-1zM352 509h1v1h-1zM354 509h4v1h-4zM359 509h3v1h-3zM364 509h6v1h-6zM316 510h1v1h-1zM319 510h1v1h-1zM323 510h2v1h-2zM329 510h3v1h-3zM342 510h1v1h-1zM350 510h12v1h-12zM364 510h6v1h-6zM380 510h2v1h-2zM316 511h1v1h-1zM319 511h7v1h-7zM328 511h5v1h-5zM339 511h4v1h-4zM351 511h6v1h-6zM358 511h9v1h-9zM368 511h2v1h-2zM380 511h3v1h-3zM316 512h8v1h-8zM325 512h4v1h-4zM331 512h2v1h-2zM339 512h3v1h-3zM351 512h5v1h-5zM358 512h1v1h-1zM360 512h3v1h-3zM366 512h4v1h-4zM380 512h2v1h-2zM316 513h7v1h-7zM326 513h3v1h-3zM330 513h2v1h-2zM334 513h1v1h-1zM339 513h4v1h-4zM351 513h8v1h-8zM360 513h3v1h-3zM365 513h3v1h-3zM378 513h2v1h-2zM383 513h2v1h-2zM316 514h1v1h-1zM319 514h3v1h-3zM327 514h4v1h-4zM334 514h1v1h-1zM339 514h4v1h-4zM350 514h4v1h-4zM357 514h6v1h-6zM364 514h5v1h-5zM377 514h3v1h-3zM383 514h2v1h-2zM319 515h1v1h-1zM321 515h1v1h-1zM327 515h4v1h-4zM339 515h4v1h-4zM352 515h2v1h-2zM357 515h2v1h-2zM360 515h4v1h-4zM365 515h4v1h-4zM316 516h1v1h-1zM319 516h8v1h-8zM330 516h2v1h-2zM339 516h4v1h-4zM353 516h1v1h-1zM356 516h3v1h-3zM360 516h2v1h-2zM365 516h2v1h-2zM368 516h1v1h-1zM376 516h1v1h-1zM385 516h1v1h-1zM316 517h2v1h-2zM320 517h3v1h-3zM324 517h1v1h-1zM331 517h1v1h-1zM339 517h4v1h-4zM352 517h2v1h-2zM358 517h4v1h-4zM364 517h3v1h-3zM376 517h3v1h-3zM384 517h3v1h-3zM317 518h2v1h-2zM320 518h1v1h-1zM325 518h1v1h-1zM329 518h3v1h-3zM339 518h4v1h-4zM345 518h1v1h-1zM352 518h1v1h-1zM360 518h1v1h-1zM364 518h6v1h-6zM376 518h4v1h-4zM385 518h2v1h-2zM317 519h4v1h-4zM325 519h1v1h-1zM328 519h3v1h-3zM338 519h2v1h-2zM343 519h1v1h-1zM360 519h9v1h-9zM370 519h1v1h-1zM376 519h1v1h-1zM378 519h3v1h-3zM385 519h1v1h-1zM317 520h3v1h-3zM325 520h5v1h-5zM335 520h4v1h-4zM344 520h1v1h-1zM361 520h4v1h-4zM366 520h3v1h-3zM370 520h1v1h-1zM378 520h3v1h-3zM319 521h1v1h-1zM324 521h6v1h-6zM335 521h1v1h-1zM338 521h3v1h-3zM344 521h2v1h-2zM363 521h2v1h-2zM366 521h4v1h-4zM378 521h3v1h-3zM319 522h4v1h-4zM325 522h1v1h-1zM328 522h2v1h-2zM336 522h12v1h-12zM363 522h7v1h-7zM378 522h2v1h-2zM318 523h1v1h-1zM321 523h2v1h-2zM328 523h2v1h-2zM336 523h14v1h-14zM364 523h3v1h-3zM369 523h1v1h-1zM377 523h3v1h-3zM319 524h1v1h-1zM321 524h2v1h-2zM326 524h7v1h-7zM339 524h6v1h-6zM347 524h3v1h-3zM365 524h2v1h-2zM369 524h1v1h-1zM377 524h1v1h-1zM379 524h2v1h-2zM382 524h1v1h-1zM319 525h2v1h-2zM323 525h1v1h-1zM325 525h1v1h-1zM328 525h3v1h-3zM332 525h1v1h-1zM341 525h1v1h-1zM344 525h6v1h-6zM359 525h2v1h-2zM369 525h1v1h-1zM377 525h1v1h-1zM380 525h3v1h-3zM320 526h2v1h-2zM323 526h7v1h-7zM332 526h2v1h-2zM340 526h2v1h-2zM344 526h2v1h-2zM348 526h4v1h-4zM358 526h3v1h-3zM369 526h2v1h-2zM377 526h1v1h-1zM380 526h2v1h-2zM321 527h6v1h-6zM328 527h7v1h-7zM339 527h2v1h-2zM342 527h2v1h-2zM345 527h6v1h-6zM352 527h10v1h-10zM370 527h1v1h-1zM377 527h1v1h-1zM379 527h2v1h-2zM322 528h3v1h-3zM329 528h1v1h-1zM333 528h2v1h-2zM342 528h1v1h-1zM346 528h2v1h-2zM353 528h6v1h-6zM361 528h2v1h-2zM370 528h1v1h-1zM376 528h3v1h-3zM323 529h2v1h-2zM331 529h4v1h-4zM336 529h2v1h-2zM341 529h2v1h-2zM354 529h4v1h-4zM361 529h2v1h-2zM370 529h8v1h-8zM323 530h4v1h-4zM330 530h4v1h-4zM335 530h3v1h-3zM340 530h2v1h-2zM345 530h2v1h-2zM355 530h3v1h-3zM360 530h2v1h-2zM370 530h2v1h-2zM374 530h3v1h-3zM325 531h3v1h-3zM330 531h3v1h-3zM336 531h3v1h-3zM340 531h2v1h-2zM344 531h3v1h-3zM351 531h3v1h-3zM360 531h3v1h-3zM365 531h2v1h-2zM369 531h2v1h-2zM374 531h2v1h-2zM326 532h6v1h-6zM333 532h5v1h-5zM340 532h1v1h-1zM344 532h2v1h-2zM347 532h1v1h-1zM350 532h4v1h-4zM361 532h4v1h-4zM367 532h8v1h-8zM326 533h2v1h-2zM329 533h2v1h-2zM333 533h1v1h-1zM335 533h3v1h-3zM339 533h1v1h-1zM345 533h10v1h-10zM363 533h2v1h-2zM370 533h4v1h-4zM332 534h1v1h-1zM335 534h3v1h-3zM339 534h1v1h-1zM345 534h10v1h-10zM364 534h1v1h-1zM372 534h1v1h-1zM328 535h2v1h-2zM332 535h5v1h-5zM339 535h1v1h-1zM345 535h4v1h-4zM353 535h2v1h-2zM364 535h3v1h-3zM327 536h11v1h-11zM341 536h1v1h-1zM345 536h3v1h-3zM354 536h1v1h-1zM358 536h1v1h-1zM365 536h2v1h-2zM326 537h2v1h-2zM330 537h9v1h-9zM341 537h1v1h-1zM344 537h3v1h-3zM353 537h3v1h-3zM364 537h3v1h-3zM327 538h15v1h-15zM344 538h4v1h-4zM352 538h6v1h-6zM362 538h3v1h-3zM366 538h4v1h-4zM329 539h10v1h-10zM344 539h6v1h-6zM352 539h2v1h-2zM356 539h3v1h-3zM362 539h1v1h-1zM367 539h3v1h-3zM330 540h9v1h-9zM345 540h4v1h-4zM352 540h1v1h-1zM355 540h3v1h-3zM335 541h1v1h-1zM337 541h2v1h-2zM345 541h4v1h-4zM352 541h8v1h-8zM338 542h4v1h-4zM346 542h3v1h-3zM352 542h5v1h-5zM358 542h2v1h-2zM366 542h2v1h-2zM339 543h3v1h-3zM346 543h3v1h-3zM352 543h3v1h-3zM365 543h2v1h-2zM338 544h2v1h-2zM342 544h1v1h-1zM345 544h5v1h-5zM352 544h2v1h-2zM365 544h1v1h-1zM339 545h2v1h-2zM343 545h3v1h-3zM348 545h2v1h-2zM352 545h2v1h-2zM359 545h7v1h-7zM340 546h6v1h-6zM351 546h3v1h-3zM358 546h6v1h-6zM342 547h5v1h-5zM352 547h2v1h-2zM357 547h5v1h-5zM344 548h4v1h-4zM352 548h1v1h-1zM357 548h2v1h-2zM347 549h1v1h-1zM352 549h1v1h-1z"/>
<path fill="#f0e420" d="M344 477h3v1h-3zM348 477h11v1h-11zM344 478h13v1h-13zM358 478h4v1h-4zM343 479h2v1h-2zM350 479h7v1h-7zM358 479h6v1h-6zM342 480h4v1h-4zM353 480h4v1h-4zM358 480h1v1h-1zM363 480h2v1h-2zM342 481h2v1h-2zM345 481h1v1h-1zM358 481h1v1h-1zM363 481h3v1h-3zM339 482h1v1h-1zM341 482h2v1h-2zM361 482h1v1h-1zM363 482h1v1h-1zM365 482h1v1h-1zM339 483h4v1h-4zM361 483h3v1h-3zM365 483h1v1h-1zM339 484h4v1h-4zM361 484h1v1h-1zM363 484h3v1h-3zM339 485h3v1h-3zM362 485h1v1h-1zM364 485h2v1h-2zM341 486h2v1h-2zM363 486h4v1h-4zM341 487h2v1h-2zM363 487h4v1h-4zM342 488h1v1h-1zM364 488h3v1h-3zM342 489h2v1h-2zM363 489h5v1h-5zM335 490h1v1h-1zM342 490h2v1h-2zM363 490h3v1h-3zM368 490h1v1h-1zM342 491h2v1h-2zM361 491h5v1h-5zM367 491h2v1h-2zM343 492h1v1h-1zM346 492h1v1h-1zM359 492h1v1h-1zM365 492h1v1h-1zM343 493h9v1h-9zM354 493h1v1h-1zM357 493h2v1h-2zM345 494h2v1h-2zM349 494h3v1h-3zM356 494h3v1h-3zM326 495h2v1h-2zM343 495h1v1h-1zM345 495h2v1h-2zM349 495h3v1h-3zM356 495h3v1h-3zM367 495h2v1h-2zM325 496h4v1h-4zM342 496h10v1h-10zM353 496h12v1h-12zM367 496h3v1h-3zM324 497h6v1h-6zM342 497h2v1h-2zM346 497h4v1h-4zM351 497h7v1h-7zM359 497h2v1h-2zM362 497h1v1h-1zM324 498h6v1h-6zM343 498h1v1h-1zM346 498h3v1h-3zM351 498h3v1h-3zM360 498h1v1h-1zM362 498h1v1h-1zM323 499h1v1h-1zM325 499h4v1h-4zM344 499h4v1h-4zM351 499h2v1h-2zM360 499h3v1h-3zM333 500h2v1h-2zM343 500h2v1h-2zM346 500h2v1h-2zM352 500h1v1h-1zM361 500h1v1h-1zM370 500h2v1h-2zM332 501h1v1h-1zM334 501h2v1h-2zM343 501h2v1h-2zM347 501h1v1h-1zM352 501h1v1h-1zM370 501h2v1h-2zM327 502h1v1h-1zM336 502h3v1h-3zM346 502h3v1h-3zM352 502h1v1h-1zM326 503h3v1h-3zM331 503h1v1h-1zM340 503h1v1h-1zM345 503h4v1h-4zM352 503h1v1h-1zM322 504h1v1h-1zM326 504h5v1h-5zM340 504h2v1h-2zM345 504h3v1h-3zM321 505h2v1h-2zM329 505h1v1h-1zM339 505h2v1h-2zM345 505h2v1h-2zM352 505h1v1h-1zM320 506h4v1h-4zM330 506h2v1h-2zM336 506h4v1h-4zM344 506h4v1h-4zM352 506h2v1h-2zM369 506h1v1h-1zM319 507h4v1h-4zM325 507h1v1h-1zM332 507h1v1h-1zM335 507h4v1h-4zM344 507h3v1h-3zM348 507h1v1h-1zM350 507h1v1h-1zM353 507h2v1h-2zM369 507h1v1h-1zM318 508h1v1h-1zM320 508h2v1h-2zM324 508h4v1h-4zM333 508h6v1h-6zM344 508h3v1h-3zM349 508h1v1h-1zM353 508h1v1h-1zM318 509h1v1h-1zM324 509h2v1h-2zM328 509h1v1h-1zM331 509h2v1h-2zM335 509h1v1h-1zM343 509h7v1h-7zM353 509h1v1h-1zM317 510h2v1h-2zM325 510h1v1h-1zM328 510h1v1h-1zM332 510h1v1h-1zM338 510h1v1h-1zM343 510h1v1h-1zM349 510h1v1h-1zM317 511h2v1h-2zM326 511h2v1h-2zM338 511h1v1h-1zM350 511h1v1h-1zM367 511h1v1h-1zM324 512h1v1h-1zM333 512h3v1h-3zM338 512h1v1h-1zM342 512h1v1h-1zM350 512h1v1h-1zM359 512h1v1h-1zM363 512h3v1h-3zM323 513h1v1h-1zM325 513h1v1h-1zM332 513h2v1h-2zM335 513h4v1h-4zM343 513h1v1h-1zM349 513h2v1h-2zM359 513h1v1h-1zM363 513h2v1h-2zM322 514h2v1h-2zM325 514h2v1h-2zM331 514h3v1h-3zM335 514h4v1h-4zM343 514h1v1h-1zM349 514h1v1h-1zM354 514h3v1h-3zM363 514h1v1h-1zM320 515h1v1h-1zM322 515h5v1h-5zM331 515h5v1h-5zM338 515h1v1h-1zM343 515h1v1h-1zM349 515h3v1h-3zM354 515h3v1h-3zM332 516h3v1h-3zM338 516h1v1h-1zM343 516h1v1h-1zM351 516h2v1h-2zM354 516h2v1h-2zM323 517h1v1h-1zM332 517h2v1h-2zM338 517h1v1h-1zM343 517h4v1h-4zM351 517h1v1h-1zM354 517h4v1h-4zM321 518h2v1h-2zM324 518h1v1h-1zM332 518h3v1h-3zM338 518h1v1h-1zM343 518h2v1h-2zM346 518h1v1h-1zM350 518h2v1h-2zM353 518h7v1h-7zM321 519h1v1h-1zM324 519h1v1h-1zM331 519h7v1h-7zM344 519h3v1h-3zM350 519h10v1h-10zM369 519h1v1h-1zM320 520h2v1h-2zM323 520h2v1h-2zM330 520h5v1h-5zM345 520h2v1h-2zM352 520h4v1h-4zM358 520h3v1h-3zM365 520h1v1h-1zM369 520h1v1h-1zM320 521h4v1h-4zM330 521h5v1h-5zM346 521h3v1h-3zM359 521h4v1h-4zM365 521h1v1h-1zM330 522h3v1h-3zM335 522h1v1h-1zM348 522h2v1h-2zM359 522h4v1h-4zM319 523h2v1h-2zM330 523h6v1h-6zM350 523h1v1h-1zM359 523h5v1h-5zM367 523h2v1h-2zM320 524h1v1h-1zM333 524h6v1h-6zM350 524h1v1h-1zM358 524h4v1h-4zM364 524h1v1h-1zM367 524h2v1h-2zM378 524h1v1h-1zM321 525h2v1h-2zM326 525h2v1h-2zM333 525h3v1h-3zM338 525h1v1h-1zM342 525h2v1h-2zM350 525h3v1h-3zM358 525h1v1h-1zM361 525h1v1h-1zM365 525h4v1h-4zM378 525h2v1h-2zM322 526h1v1h-1zM334 526h2v1h-2zM338 526h1v1h-1zM342 526h2v1h-2zM346 526h2v1h-2zM352 526h6v1h-6zM361 526h2v1h-2zM365 526h4v1h-4zM378 526h2v1h-2zM327 527h1v1h-1zM335 527h4v1h-4zM341 527h1v1h-1zM362 527h1v1h-1zM365 527h5v1h-5zM378 527h1v1h-1zM325 528h4v1h-4zM330 528h3v1h-3zM335 528h7v1h-7zM363 528h7v1h-7zM325 529h6v1h-6zM335 529h1v1h-1zM338 529h3v1h-3zM363 529h3v1h-3zM369 529h1v1h-1zM327 530h3v1h-3zM338 530h2v1h-2zM362 530h4v1h-4zM369 530h1v1h-1zM372 530h2v1h-2zM328 531h2v1h-2zM339 531h1v1h-1zM363 531h2v1h-2zM367 531h2v1h-2zM371 531h3v1h-3zM338 532h2v1h-2zM346 532h1v1h-1zM334 533h1v1h-1zM338 533h1v1h-1zM333 534h2v1h-2zM338 534h1v1h-1zM337 535h2v1h-2zM338 536h3v1h-3zM328 537h2v1h-2zM339 537h2v1h-2zM354 539h2v1h-2zM353 540h2v1h-2zM340 544h2v1h-2zM341 545h2v1h-2z"/>
<path fill="#ee641e" d="M357 478h1v1h-1zM345 479h5v1h-5zM357 479h1v1h-1zM346 480h7v1h-7zM357 480h1v1h-1zM344 481h1v1h-1zM346 481h2v1h-2zM352 481h6v1h-6zM343 482h5v1h-5zM353 482h2v1h-2zM357 482h4v1h-4zM364 482h1v1h-1zM343 483h1v1h-1zM346 483h1v1h-1zM364 483h1v1h-1zM343 484h2v1h-2zM342 485h2v1h-2zM361 485h1v1h-1zM362 486h1v1h-1zM343 487h1v1h-1zM353 487h1v1h-1zM343 488h1v1h-1zM352 488h3v1h-3zM358 488h1v1h-1zM363 488h1v1h-1zM344 489h1v1h-1zM353 489h2v1h-2zM362 489h1v1h-1zM344 490h2v1h-2zM353 490h2v1h-2zM360 490h3v1h-3zM366 490h2v1h-2zM344 491h4v1h-4zM359 491h2v1h-2zM366 491h1v1h-1zM344 492h2v1h-2zM347 492h7v1h-7zM358 492h1v1h-1zM355 493h2v1h-2zM350 497h1v1h-1zM361 497h1v1h-1zM349 498h2v1h-2zM361 498h1v1h-1zM348 499h3v1h-3zM348 500h1v1h-1zM350 500h2v1h-2zM333 501h1v1h-1zM348 501h1v1h-1zM351 501h1v1h-1zM332 502h4v1h-4zM349 502h3v1h-3zM332 503h1v1h-1zM335 503h5v1h-5zM349 503h3v1h-3zM331 504h2v1h-2zM336 504h4v1h-4zM348 504h4v1h-4zM330 505h2v1h-2zM336 505h3v1h-3zM347 505h5v1h-5zM332 506h4v1h-4zM348 506h1v1h-1zM350 506h2v1h-2zM333 507h2v1h-2zM349 507h1v1h-1zM326 509h2v1h-2zM333 509h2v1h-2zM336 509h2v1h-2zM326 510h2v1h-2zM333 510h1v1h-1zM335 510h3v1h-3zM344 510h5v1h-5zM333 511h5v1h-5zM343 511h1v1h-1zM347 511h3v1h-3zM336 512h2v1h-2zM343 512h1v1h-1zM348 512h2v1h-2zM324 513h1v1h-1zM344 513h1v1h-1zM348 513h1v1h-1zM324 514h1v1h-1zM344 514h1v1h-1zM347 514h2v1h-2zM336 515h2v1h-2zM344 515h1v1h-1zM347 515h2v1h-2zM335 516h3v1h-3zM344 516h7v1h-7zM334 517h2v1h-2zM337 517h1v1h-1zM347 517h1v1h-1zM350 517h1v1h-1zM323 518h1v1h-1zM335 518h1v1h-1zM337 518h1v1h-1zM347 518h1v1h-1zM322 519h2v1h-2zM347 519h1v1h-1zM349 519h1v1h-1zM322 520h1v1h-1zM347 520h5v1h-5zM356 520h2v1h-2zM349 521h1v1h-1zM351 521h5v1h-5zM358 521h1v1h-1zM333 522h2v1h-2zM350 522h1v1h-1zM353 522h2v1h-2zM351 523h1v1h-1zM358 523h1v1h-1zM351 524h2v1h-2zM357 524h1v1h-1zM362 524h2v1h-2zM336 525h2v1h-2zM353 525h5v1h-5zM362 525h3v1h-3zM336 526h2v1h-2zM363 526h2v1h-2zM363 527h2v1h-2zM366 529h3v1h-3zM366 530h3v1h-3z"/>
<path fill="#e4341c" d="M348 481h4v1h-4zM348 482h5v1h-5zM355 482h2v1h-2zM344 483h2v1h-2zM347 483h14v1h-14zM345 484h16v1h-16zM344 485h17v1h-17zM343 486h19v1h-19zM344 487h9v1h-9zM354 487h9v1h-9zM344 488h8v1h-8zM355 488h3v1h-3zM359 488h4v1h-4zM345 489h8v1h-8zM355 489h7v1h-7zM346 490h7v1h-7zM355 490h5v1h-5zM348 491h11v1h-11zM354 492h4v1h-4zM349 500h1v1h-1zM349 501h2v1h-2zM333 503h2v1h-2zM333 504h3v1h-3zM332 505h4v1h-4zM349 506h1v1h-1zM334 510h1v1h-1zM344 511h3v1h-3zM344 512h4v1h-4zM345 513h3v1h-3zM345 514h2v1h-2zM345 515h2v1h-2zM336 517h1v1h-1zM348 517h2v1h-2zM336 518h1v1h-1zM348 518h2v1h-2zM348 519h1v1h-1zM350 521h1v1h-1zM356 521h2v1h-2zM351 522h2v1h-2zM355 522h4v1h-4zM352 523h6v1h-6zM353 524h4v1h-4z"/>
</g>
<g shape-rendering="crispEdges" filter="url(#sb)">
<path fill="#3a2a9e" d="M466 476h14v1h-14zM462 477h14v1h-14zM479 477h3v1h-3zM461 478h3v1h-3zM465 478h19v1h-19zM459 479h4v1h-4zM466 479h20v1h-20zM458 480h5v1h-5zM467 480h4v1h-4zM474 480h6v1h-6zM485 480h2v1h-2zM457 481h7v1h-7zM469 481h1v1h-1zM475 481h5v1h-5zM484 481h1v1h-1zM486 481h2v1h-2zM455 482h9v1h-9zM468 482h2v1h-2zM476 482h5v1h-5zM482 482h7v1h-7zM453 483h3v1h-3zM457 483h7v1h-7zM468 483h3v1h-3zM473 483h13v1h-13zM488 483h2v1h-2zM451 484h3v1h-3zM457 484h1v1h-1zM459 484h5v1h-5zM466 484h20v1h-20zM489 484h2v1h-2zM449 485h3v1h-3zM458 485h6v1h-6zM465 485h20v1h-20zM490 485h2v1h-2zM447 486h3v1h-3zM453 486h2v1h-2zM458 486h13v1h-13zM472 486h11v1h-11zM491 486h1v1h-1zM447 487h1v1h-1zM454 487h5v1h-5zM462 487h8v1h-8zM473 487h10v1h-10zM491 487h1v1h-1zM446 488h2v1h-2zM454 488h5v1h-5zM462 488h7v1h-7zM473 488h3v1h-3zM478 488h4v1h-4zM491 488h2v1h-2zM445 489h2v1h-2zM455 489h5v1h-5zM463 489h6v1h-6zM474 489h2v1h-2zM479 489h3v1h-3zM485 489h1v1h-1zM492 489h1v1h-1zM445 490h1v1h-1zM456 490h2v1h-2zM460 490h1v1h-1zM464 490h5v1h-5zM480 490h2v1h-2zM492 490h2v1h-2zM444 491h2v1h-2zM456 491h2v1h-2zM464 491h5v1h-5zM481 491h1v1h-1zM486 491h1v1h-1zM493 491h2v1h-2zM444 492h1v1h-1zM457 492h1v1h-1zM465 492h4v1h-4zM494 492h2v1h-2zM444 493h1v1h-1zM457 493h1v1h-1zM495 493h2v1h-2zM443 494h2v1h-2zM496 494h2v1h-2zM443 495h2v1h-2zM497 495h2v1h-2zM443 496h3v1h-3zM498 496h2v1h-2zM442 497h3v1h-3zM499 497h2v1h-2zM441 498h2v1h-2zM500 498h2v1h-2zM441 499h1v1h-1zM449 499h1v1h-1zM456 499h2v1h-2zM501 499h2v1h-2zM440 500h4v1h-4zM450 500h1v1h-1zM454 500h4v1h-4zM502 500h1v1h-1zM439 501h5v1h-5zM452 501h6v1h-6zM502 501h2v1h-2zM439 502h1v1h-1zM441 502h3v1h-3zM452 502h5v1h-5zM502 502h1v1h-1zM438 503h2v1h-2zM442 503h2v1h-2zM449 503h7v1h-7zM502 503h1v1h-1zM437 504h2v1h-2zM443 504h1v1h-1zM448 504h7v1h-7zM501 504h2v1h-2zM437 505h1v1h-1zM501 505h1v1h-1zM436 506h2v1h-2zM501 506h1v1h-1zM435 507h2v1h-2zM501 507h1v1h-1zM435 508h1v1h-1zM501 508h3v1h-3zM435 509h1v1h-1zM503 509h3v1h-3zM434 510h2v1h-2zM505 510h3v1h-3zM434 511h1v1h-1zM507 511h2v1h-2zM434 512h1v1h-1zM508 512h1v1h-1zM434 513h1v1h-1zM508 513h1v1h-1zM434 514h1v1h-1zM508 514h1v1h-1zM434 515h1v1h-1zM508 515h1v1h-1zM434 516h2v1h-2zM508 516h1v1h-1zM435 517h1v1h-1zM503 517h4v1h-4zM508 517h1v1h-1zM435 518h1v1h-1zM503 518h6v1h-6zM435 519h1v1h-1zM498 519h1v1h-1zM502 519h7v1h-7zM435 520h1v1h-1zM498 520h1v1h-1zM502 520h3v1h-3zM506 520h3v1h-3zM435 521h2v1h-2zM492 521h2v1h-2zM498 521h2v1h-2zM502 521h7v1h-7zM436 522h1v1h-1zM491 522h4v1h-4zM498 522h2v1h-2zM502 522h7v1h-7zM436 523h1v1h-1zM492 523h1v1h-1zM498 523h2v1h-2zM502 523h6v1h-6zM436 524h2v1h-2zM492 524h1v1h-1zM495 524h2v1h-2zM502 524h6v1h-6zM437 525h1v1h-1zM491 525h7v1h-7zM504 525h3v1h-3zM437 526h2v1h-2zM491 526h9v1h-9zM503 526h4v1h-4zM438 527h1v1h-1zM492 527h2v1h-2zM496 527h3v1h-3zM504 527h2v1h-2zM438 528h2v1h-2zM493 528h1v1h-1zM504 528h2v1h-2zM439 529h2v1h-2zM491 529h3v1h-3zM496 529h2v1h-2zM499 529h2v1h-2zM502 529h3v1h-3zM440 530h2v1h-2zM490 530h5v1h-5zM496 530h2v1h-2zM499 530h4v1h-4zM441 531h2v1h-2zM491 531h4v1h-4zM499 531h2v1h-2zM442 532h2v1h-2zM491 532h5v1h-5zM498 532h2v1h-2zM443 533h2v1h-2zM497 533h2v1h-2zM444 534h1v1h-1zM496 534h2v1h-2zM444 535h1v1h-1zM495 535h2v1h-2zM444 536h1v1h-1zM495 536h1v1h-1zM443 537h2v1h-2zM494 537h2v1h-2zM443 538h1v1h-1zM494 538h1v1h-1zM443 539h1v1h-1zM493 539h2v1h-2zM443 540h2v1h-2zM493 540h1v1h-1zM444 541h1v1h-1zM492 541h2v1h-2zM444 542h3v1h-3zM492 542h1v1h-1zM446 543h10v1h-10zM492 543h1v1h-1zM449 544h1v1h-1zM455 544h1v1h-1zM492 544h1v1h-1zM455 545h2v1h-2zM492 545h1v1h-1zM456 546h2v1h-2zM492 546h1v1h-1zM457 547h2v1h-2zM490 547h3v1h-3zM458 548h2v1h-2zM488 548h3v1h-3zM459 549h2v1h-2zM486 549h3v1h-3zM460 550h2v1h-2zM483 550h4v1h-4zM461 551h4v1h-4zM480 551h4v1h-4zM464 552h4v1h-4zM476 552h5v1h-5zM467 553h10v1h-10z"/>
<path fill="#2a60d0" d="M476 477h3v1h-3zM464 478h1v1h-1zM463 479h1v1h-1zM465 479h1v1h-1zM463 480h1v1h-1zM465 480h2v1h-2zM471 480h3v1h-3zM480 480h5v1h-5zM464 481h5v1h-5zM470 481h1v1h-1zM473 481h2v1h-2zM480 481h4v1h-4zM485 481h1v1h-1zM464 482h4v1h-4zM470 482h1v1h-1zM473 482h3v1h-3zM481 482h1v1h-1zM456 483h1v1h-1zM464 483h4v1h-4zM471 483h2v1h-2zM486 483h2v1h-2zM454 484h3v1h-3zM458 484h1v1h-1zM464 484h2v1h-2zM488 484h1v1h-1zM452 485h6v1h-6zM464 485h1v1h-1zM485 485h1v1h-1zM489 485h1v1h-1zM450 486h3v1h-3zM455 486h3v1h-3zM471 486h1v1h-1zM483 486h2v1h-2zM490 486h1v1h-1zM448 487h2v1h-2zM453 487h1v1h-1zM459 487h3v1h-3zM470 487h1v1h-1zM472 487h1v1h-1zM483 487h3v1h-3zM490 487h1v1h-1zM448 488h1v1h-1zM459 488h3v1h-3zM469 488h1v1h-1zM472 488h1v1h-1zM476 488h2v1h-2zM482 488h5v1h-5zM490 488h1v1h-1zM447 489h1v1h-1zM454 489h1v1h-1zM460 489h3v1h-3zM473 489h1v1h-1zM476 489h1v1h-1zM478 489h1v1h-1zM482 489h3v1h-3zM486 489h1v1h-1zM491 489h1v1h-1zM446 490h1v1h-1zM455 490h1v1h-1zM458 490h2v1h-2zM461 490h3v1h-3zM469 490h1v1h-1zM473 490h3v1h-3zM479 490h1v1h-1zM482 490h5v1h-5zM491 490h1v1h-1zM446 491h1v1h-1zM455 491h1v1h-1zM460 491h4v1h-4zM469 491h3v1h-3zM473 491h3v1h-3zM480 491h1v1h-1zM482 491h4v1h-4zM487 491h2v1h-2zM492 491h1v1h-1zM445 492h2v1h-2zM456 492h1v1h-1zM462 492h3v1h-3zM469 492h8v1h-8zM481 492h2v1h-2zM484 492h4v1h-4zM493 492h1v1h-1zM445 493h3v1h-3zM456 493h1v1h-1zM466 493h3v1h-3zM494 493h1v1h-1zM445 494h3v1h-3zM457 494h1v1h-1zM495 494h1v1h-1zM445 495h3v1h-3zM496 495h1v1h-1zM446 496h2v1h-2zM497 496h1v1h-1zM445 497h4v1h-4zM457 497h1v1h-1zM498 497h1v1h-1zM443 498h7v1h-7zM456 498h3v1h-3zM499 498h1v1h-1zM442 499h7v1h-7zM450 499h1v1h-1zM455 499h1v1h-1zM458 499h1v1h-1zM500 499h1v1h-1zM444 500h6v1h-6zM451 500h3v1h-3zM458 500h1v1h-1zM501 500h1v1h-1zM444 501h2v1h-2zM448 501h4v1h-4zM458 501h1v1h-1zM501 501h1v1h-1zM440 502h1v1h-1zM444 502h2v1h-2zM448 502h4v1h-4zM457 502h1v1h-1zM501 502h1v1h-1zM440 503h2v1h-2zM444 503h5v1h-5zM456 503h1v1h-1zM501 503h1v1h-1zM439 504h1v1h-1zM442 504h1v1h-1zM444 504h4v1h-4zM455 504h1v1h-1zM500 504h1v1h-1zM438 505h1v1h-1zM443 505h12v1h-12zM500 505h1v1h-1zM438 506h1v1h-1zM500 506h1v1h-1zM437 507h1v1h-1zM500 507h1v1h-1zM436 508h1v1h-1zM500 508h1v1h-1zM436 509h1v1h-1zM501 509h2v1h-2zM436 510h1v1h-1zM502 510h3v1h-3zM435 511h1v1h-1zM502 511h2v1h-2zM505 511h2v1h-2zM435 512h1v1h-1zM507 512h1v1h-1zM435 513h1v1h-1zM439 513h2v1h-2zM501 513h2v1h-2zM507 513h1v1h-1zM435 514h1v1h-1zM501 514h2v1h-2zM507 514h1v1h-1zM435 515h1v1h-1zM500 515h3v1h-3zM505 515h1v1h-1zM507 515h1v1h-1zM436 516h1v1h-1zM502 516h6v1h-6zM436 517h1v1h-1zM498 517h1v1h-1zM502 517h1v1h-1zM507 517h1v1h-1zM436 518h1v1h-1zM498 518h5v1h-5zM436 519h1v1h-1zM497 519h1v1h-1zM499 519h3v1h-3zM436 520h1v1h-1zM491 520h3v1h-3zM497 520h1v1h-1zM499 520h3v1h-3zM505 520h1v1h-1zM437 521h1v1h-1zM490 521h2v1h-2zM494 521h1v1h-1zM497 521h1v1h-1zM500 521h2v1h-2zM437 522h1v1h-1zM490 522h1v1h-1zM495 522h3v1h-3zM500 522h2v1h-2zM437 523h1v1h-1zM490 523h2v1h-2zM493 523h5v1h-5zM500 523h2v1h-2zM438 524h1v1h-1zM490 524h2v1h-2zM493 524h2v1h-2zM497 524h5v1h-5zM438 525h1v1h-1zM490 525h1v1h-1zM498 525h6v1h-6zM439 526h1v1h-1zM490 526h1v1h-1zM500 526h3v1h-3zM439 527h1v1h-1zM487 527h1v1h-1zM490 527h2v1h-2zM494 527h2v1h-2zM499 527h5v1h-5zM440 528h1v1h-1zM490 528h3v1h-3zM494 528h10v1h-10zM441 529h1v1h-1zM490 529h1v1h-1zM494 529h2v1h-2zM498 529h1v1h-1zM501 529h1v1h-1zM442 530h1v1h-1zM495 530h1v1h-1zM498 530h1v1h-1zM443 531h1v1h-1zM490 531h1v1h-1zM495 531h4v1h-4zM444 532h1v1h-1zM490 532h1v1h-1zM496 532h2v1h-2zM445 533h1v1h-1zM491 533h6v1h-6zM445 534h1v1h-1zM495 534h1v1h-1zM445 535h1v1h-1zM494 535h1v1h-1zM445 536h1v1h-1zM494 536h1v1h-1zM445 537h1v1h-1zM493 537h1v1h-1zM444 538h1v1h-1zM453 538h1v1h-1zM492 538h2v1h-2zM444 539h1v1h-1zM452 539h2v1h-2zM492 539h1v1h-1zM445 540h1v1h-1zM492 540h1v1h-1zM445 541h2v1h-2zM491 541h1v1h-1zM447 542h9v1h-9zM491 542h1v1h-1zM456 543h1v1h-1zM491 543h1v1h-1zM456 544h1v1h-1zM467 544h2v1h-2zM491 544h1v1h-1zM457 545h1v1h-1zM491 545h1v1h-1zM458 546h1v1h-1zM490 546h2v1h-2zM459 547h1v1h-1zM488 547h2v1h-2zM460 548h1v1h-1zM486 548h2v1h-2zM461 549h1v1h-1zM483 549h3v1h-3zM462 550h3v1h-3zM480 550h3v1h-3zM465 551h3v1h-3zM476 551h4v1h-4zM468 552h8v1h-8z"/>
<path fill="#28a6de" d="M464 479h1v1h-1zM464 480h1v1h-1zM471 481h2v1h-2zM471 482h2v1h-2zM486 484h2v1h-2zM486 485h1v1h-1zM488 485h1v1h-1zM485 486h2v1h-2zM489 486h1v1h-1zM450 487h3v1h-3zM471 487h1v1h-1zM486 487h2v1h-2zM489 487h1v1h-1zM449 488h1v1h-1zM453 488h1v1h-1zM470 488h2v1h-2zM487 488h1v1h-1zM489 488h1v1h-1zM448 489h1v1h-1zM469 489h4v1h-4zM477 489h1v1h-1zM487 489h1v1h-1zM490 489h1v1h-1zM447 490h1v1h-1zM454 490h1v1h-1zM470 490h3v1h-3zM476 490h3v1h-3zM487 490h1v1h-1zM490 490h1v1h-1zM447 491h1v1h-1zM458 491h2v1h-2zM472 491h1v1h-1zM476 491h4v1h-4zM489 491h1v1h-1zM491 491h1v1h-1zM447 492h1v1h-1zM455 492h1v1h-1zM458 492h1v1h-1zM460 492h2v1h-2zM477 492h4v1h-4zM483 492h1v1h-1zM488 492h2v1h-2zM492 492h1v1h-1zM455 493h1v1h-1zM458 493h1v1h-1zM464 493h2v1h-2zM469 493h8v1h-8zM478 493h1v1h-1zM484 493h4v1h-4zM493 493h1v1h-1zM456 494h1v1h-1zM458 494h1v1h-1zM466 494h2v1h-2zM471 494h3v1h-3zM486 494h1v1h-1zM494 494h1v1h-1zM448 495h1v1h-1zM456 495h3v1h-3zM469 495h4v1h-4zM494 495h2v1h-2zM448 496h1v1h-1zM451 496h1v1h-1zM456 496h3v1h-3zM468 496h3v1h-3zM496 496h1v1h-1zM449 497h1v1h-1zM455 497h2v1h-2zM458 497h1v1h-1zM468 497h2v1h-2zM497 497h1v1h-1zM450 498h2v1h-2zM455 498h1v1h-1zM468 498h2v1h-2zM498 498h1v1h-1zM451 499h4v1h-4zM499 499h1v1h-1zM500 500h1v1h-1zM446 501h2v1h-2zM477 501h1v1h-1zM500 501h1v1h-1zM446 502h2v1h-2zM458 502h1v1h-1zM477 502h1v1h-1zM500 502h1v1h-1zM457 503h1v1h-1zM477 503h2v1h-2zM500 503h1v1h-1zM440 504h2v1h-2zM456 504h1v1h-1zM490 504h3v1h-3zM499 504h1v1h-1zM439 505h1v1h-1zM442 505h1v1h-1zM455 505h1v1h-1zM491 505h2v1h-2zM499 505h1v1h-1zM439 506h1v1h-1zM443 506h14v1h-14zM499 506h1v1h-1zM438 507h1v1h-1zM449 507h8v1h-8zM467 507h2v1h-2zM499 507h1v1h-1zM437 508h1v1h-1zM442 508h1v1h-1zM449 508h3v1h-3zM455 508h2v1h-2zM494 508h1v1h-1zM499 508h1v1h-1zM437 509h1v1h-1zM442 509h1v1h-1zM449 509h2v1h-2zM489 509h2v1h-2zM494 509h1v1h-1zM499 509h2v1h-2zM437 510h3v1h-3zM442 510h2v1h-2zM481 510h2v1h-2zM488 510h4v1h-4zM496 510h2v1h-2zM500 510h2v1h-2zM436 511h1v1h-1zM438 511h4v1h-4zM477 511h1v1h-1zM482 511h2v1h-2zM488 511h3v1h-3zM501 511h1v1h-1zM504 511h1v1h-1zM436 512h1v1h-1zM438 512h6v1h-6zM477 512h1v1h-1zM482 512h5v1h-5zM500 512h7v1h-7zM436 513h3v1h-3zM441 513h3v1h-3zM480 513h7v1h-7zM500 513h1v1h-1zM503 513h4v1h-4zM436 514h8v1h-8zM455 514h2v1h-2zM480 514h6v1h-6zM499 514h2v1h-2zM503 514h4v1h-4zM436 515h4v1h-4zM456 515h1v1h-1zM461 515h2v1h-2zM499 515h1v1h-1zM503 515h2v1h-2zM506 515h1v1h-1zM437 516h1v1h-1zM456 516h1v1h-1zM461 516h2v1h-2zM468 516h2v1h-2zM498 516h4v1h-4zM437 517h1v1h-1zM444 517h3v1h-3zM468 517h2v1h-2zM497 517h1v1h-1zM499 517h3v1h-3zM437 518h1v1h-1zM439 518h8v1h-8zM455 518h2v1h-2zM468 518h2v1h-2zM497 518h1v1h-1zM437 519h1v1h-1zM439 519h4v1h-4zM455 519h3v1h-3zM491 519h2v1h-2zM437 520h1v1h-1zM439 520h1v1h-1zM441 520h2v1h-2zM456 520h1v1h-1zM490 520h1v1h-1zM494 520h1v1h-1zM438 521h1v1h-1zM489 521h1v1h-1zM495 521h2v1h-2zM438 522h2v1h-2zM463 522h1v1h-1zM489 522h1v1h-1zM438 523h2v1h-2zM461 523h3v1h-3zM475 523h3v1h-3zM489 523h1v1h-1zM439 524h1v1h-1zM461 524h3v1h-3zM474 524h4v1h-4zM481 524h5v1h-5zM439 525h1v1h-1zM455 525h2v1h-2zM475 525h3v1h-3zM481 525h6v1h-6zM440 526h1v1h-1zM455 526h2v1h-2zM476 526h2v1h-2zM479 526h9v1h-9zM440 527h1v1h-1zM442 527h1v1h-1zM455 527h2v1h-2zM479 527h2v1h-2zM483 527h4v1h-4zM488 527h2v1h-2zM441 528h3v1h-3zM455 528h2v1h-2zM485 528h5v1h-5zM442 529h3v1h-3zM446 529h2v1h-2zM454 529h5v1h-5zM487 529h3v1h-3zM443 530h1v1h-1zM446 530h1v1h-1zM453 530h6v1h-6zM488 530h2v1h-2zM444 531h1v1h-1zM449 531h2v1h-2zM456 531h4v1h-4zM461 531h3v1h-3zM483 531h2v1h-2zM489 531h1v1h-1zM445 532h1v1h-1zM450 532h1v1h-1zM457 532h2v1h-2zM461 532h3v1h-3zM481 532h2v1h-2zM446 533h4v1h-4zM480 533h3v1h-3zM490 533h1v1h-1zM446 534h4v1h-4zM459 534h1v1h-1zM474 534h1v1h-1zM492 534h1v1h-1zM494 534h1v1h-1zM446 535h1v1h-1zM458 535h3v1h-3zM493 535h1v1h-1zM446 536h1v1h-1zM456 536h5v1h-5zM489 536h1v1h-1zM493 536h1v1h-1zM446 537h3v1h-3zM456 537h1v1h-1zM489 537h4v1h-4zM445 538h4v1h-4zM451 538h2v1h-2zM454 538h1v1h-1zM463 538h1v1h-1zM468 538h1v1h-1zM475 538h1v1h-1zM482 538h1v1h-1zM488 538h4v1h-4zM445 539h7v1h-7zM454 539h1v1h-1zM468 539h1v1h-1zM474 539h2v1h-2zM482 539h1v1h-1zM491 539h1v1h-1zM446 540h3v1h-3zM451 540h3v1h-3zM457 540h1v1h-1zM474 540h1v1h-1zM491 540h1v1h-1zM447 541h9v1h-9zM457 541h2v1h-2zM471 541h4v1h-4zM490 541h1v1h-1zM456 542h1v1h-1zM458 542h1v1h-1zM466 542h9v1h-9zM480 542h1v1h-1zM490 542h1v1h-1zM457 543h1v1h-1zM466 543h5v1h-5zM472 543h3v1h-3zM479 543h2v1h-2zM484 543h1v1h-1zM487 543h2v1h-2zM490 543h1v1h-1zM457 544h1v1h-1zM459 544h1v1h-1zM466 544h1v1h-1zM469 544h1v1h-1zM473 544h2v1h-2zM483 544h2v1h-2zM490 544h1v1h-1zM458 545h2v1h-2zM466 545h3v1h-3zM474 545h5v1h-5zM482 545h2v1h-2zM490 545h1v1h-1zM459 546h1v1h-1zM462 546h6v1h-6zM476 546h3v1h-3zM483 546h1v1h-1zM488 546h2v1h-2zM460 547h1v1h-1zM484 547h4v1h-4zM461 548h1v1h-1zM483 548h3v1h-3zM462 549h4v1h-4zM472 549h4v1h-4zM480 549h3v1h-3zM465 550h3v1h-3zM472 550h8v1h-8zM468 551h8v1h-8z"/>
<path fill="#2eb24a" d="M487 485h1v1h-1zM487 486h2v1h-2zM488 487h1v1h-1zM450 488h2v1h-2zM488 488h1v1h-1zM449 489h1v1h-1zM453 489h1v1h-1zM489 489h1v1h-1zM448 490h2v1h-2zM488 490h2v1h-2zM448 491h1v1h-1zM454 491h1v1h-1zM490 491h1v1h-1zM448 492h1v1h-1zM459 492h1v1h-1zM490 492h2v1h-2zM448 493h2v1h-2zM454 493h1v1h-1zM459 493h1v1h-1zM461 493h3v1h-3zM477 493h1v1h-1zM479 493h5v1h-5zM488 493h5v1h-5zM448 494h2v1h-2zM451 494h5v1h-5zM459 494h1v1h-1zM465 494h1v1h-1zM468 494h3v1h-3zM474 494h8v1h-8zM484 494h2v1h-2zM487 494h2v1h-2zM490 494h4v1h-4zM449 495h5v1h-5zM455 495h1v1h-1zM459 495h1v1h-1zM465 495h4v1h-4zM473 495h9v1h-9zM486 495h2v1h-2zM490 495h4v1h-4zM449 496h2v1h-2zM452 496h4v1h-4zM459 496h1v1h-1zM465 496h3v1h-3zM471 496h2v1h-2zM478 496h2v1h-2zM494 496h2v1h-2zM450 497h5v1h-5zM459 497h1v1h-1zM466 497h2v1h-2zM470 497h1v1h-1zM478 497h2v1h-2zM495 497h2v1h-2zM452 498h3v1h-3zM466 498h2v1h-2zM470 498h1v1h-1zM493 498h2v1h-2zM496 498h2v1h-2zM468 499h2v1h-2zM493 499h1v1h-1zM497 499h2v1h-2zM459 500h1v1h-1zM468 500h2v1h-2zM477 500h2v1h-2zM493 500h1v1h-1zM498 500h2v1h-2zM459 501h1v1h-1zM468 501h2v1h-2zM476 501h1v1h-1zM478 501h1v1h-1zM499 501h1v1h-1zM459 502h1v1h-1zM476 502h1v1h-1zM478 502h1v1h-1zM499 502h1v1h-1zM458 503h2v1h-2zM476 503h1v1h-1zM479 503h1v1h-1zM490 503h3v1h-3zM499 503h1v1h-1zM457 504h3v1h-3zM463 504h2v1h-2zM468 504h2v1h-2zM477 504h2v1h-2zM487 504h3v1h-3zM493 504h1v1h-1zM498 504h1v1h-1zM440 505h2v1h-2zM456 505h10v1h-10zM467 505h3v1h-3zM487 505h4v1h-4zM493 505h1v1h-1zM497 505h2v1h-2zM440 506h3v1h-3zM457 506h5v1h-5zM463 506h7v1h-7zM490 506h5v1h-5zM497 506h2v1h-2zM439 507h10v1h-10zM457 507h4v1h-4zM466 507h1v1h-1zM492 507h4v1h-4zM497 507h2v1h-2zM438 508h4v1h-4zM443 508h1v1h-1zM446 508h3v1h-3zM452 508h3v1h-3zM457 508h3v1h-3zM466 508h3v1h-3zM479 508h3v1h-3zM489 508h5v1h-5zM495 508h1v1h-1zM498 508h1v1h-1zM438 509h4v1h-4zM443 509h6v1h-6zM451 509h8v1h-8zM478 509h5v1h-5zM488 509h1v1h-1zM491 509h3v1h-3zM495 509h4v1h-4zM440 510h2v1h-2zM444 510h10v1h-10zM477 510h4v1h-4zM483 510h1v1h-1zM487 510h1v1h-1zM492 510h4v1h-4zM498 510h2v1h-2zM437 511h1v1h-1zM442 511h4v1h-4zM449 511h2v1h-2zM453 511h3v1h-3zM467 511h3v1h-3zM476 511h1v1h-1zM478 511h4v1h-4zM484 511h4v1h-4zM491 511h1v1h-1zM496 511h5v1h-5zM437 512h1v1h-1zM444 512h1v1h-1zM453 512h4v1h-4zM462 512h1v1h-1zM465 512h6v1h-6zM476 512h1v1h-1zM478 512h4v1h-4zM487 512h5v1h-5zM498 512h2v1h-2zM453 513h4v1h-4zM461 513h6v1h-6zM468 513h3v1h-3zM476 513h4v1h-4zM487 513h1v1h-1zM490 513h3v1h-3zM499 513h1v1h-1zM453 514h2v1h-2zM457 514h8v1h-8zM479 514h1v1h-1zM486 514h2v1h-2zM491 514h4v1h-4zM440 515h5v1h-5zM453 515h3v1h-3zM457 515h4v1h-4zM463 515h2v1h-2zM468 515h3v1h-3zM479 515h9v1h-9zM491 515h4v1h-4zM498 515h1v1h-1zM438 516h8v1h-8zM451 516h5v1h-5zM457 516h4v1h-4zM463 516h2v1h-2zM467 516h1v1h-1zM470 516h2v1h-2zM480 516h2v1h-2zM483 516h4v1h-4zM491 516h4v1h-4zM497 516h1v1h-1zM438 517h6v1h-6zM447 517h1v1h-1zM451 517h2v1h-2zM455 517h8v1h-8zM467 517h1v1h-1zM470 517h2v1h-2zM481 517h5v1h-5zM489 517h1v1h-1zM491 517h2v1h-2zM496 517h1v1h-1zM438 518h1v1h-1zM447 518h1v1h-1zM454 518h1v1h-1zM457 518h5v1h-5zM467 518h1v1h-1zM470 518h1v1h-1zM481 518h4v1h-4zM488 518h5v1h-5zM438 519h1v1h-1zM443 519h3v1h-3zM449 519h2v1h-2zM454 519h1v1h-1zM458 519h3v1h-3zM467 519h4v1h-4zM481 519h6v1h-6zM488 519h3v1h-3zM493 519h1v1h-1zM438 520h1v1h-1zM440 520h1v1h-1zM443 520h1v1h-1zM449 520h2v1h-2zM455 520h1v1h-1zM457 520h4v1h-4zM467 520h3v1h-3zM480 520h2v1h-2zM483 520h7v1h-7zM496 520h1v1h-1zM439 521h5v1h-5zM450 521h1v1h-1zM459 521h1v1h-1zM463 521h1v1h-1zM467 521h2v1h-2zM480 521h9v1h-9zM440 522h5v1h-5zM450 522h1v1h-1zM459 522h4v1h-4zM464 522h1v1h-1zM466 522h3v1h-3zM470 522h1v1h-1zM474 522h15v1h-15zM440 523h5v1h-5zM449 523h3v1h-3zM458 523h3v1h-3zM464 523h1v1h-1zM467 523h8v1h-8zM478 523h11v1h-11zM440 524h4v1h-4zM448 524h13v1h-13zM464 524h1v1h-1zM467 524h2v1h-2zM470 524h4v1h-4zM478 524h3v1h-3zM486 524h4v1h-4zM440 525h4v1h-4zM447 525h4v1h-4zM452 525h3v1h-3zM457 525h1v1h-1zM460 525h2v1h-2zM467 525h8v1h-8zM478 525h3v1h-3zM487 525h3v1h-3zM441 526h9v1h-9zM453 526h2v1h-2zM457 526h2v1h-2zM467 526h2v1h-2zM471 526h5v1h-5zM478 526h1v1h-1zM488 526h2v1h-2zM441 527h1v1h-1zM443 527h7v1h-7zM453 527h2v1h-2zM457 527h2v1h-2zM467 527h2v1h-2zM472 527h7v1h-7zM481 527h2v1h-2zM444 528h11v1h-11zM457 528h3v1h-3zM467 528h2v1h-2zM473 528h12v1h-12zM445 529h1v1h-1zM448 529h6v1h-6zM459 529h1v1h-1zM467 529h1v1h-1zM474 529h7v1h-7zM482 529h5v1h-5zM444 530h2v1h-2zM447 530h6v1h-6zM459 530h6v1h-6zM474 530h6v1h-6zM482 530h6v1h-6zM445 531h4v1h-4zM451 531h5v1h-5zM460 531h1v1h-1zM464 531h1v1h-1zM473 531h10v1h-10zM485 531h4v1h-4zM446 532h4v1h-4zM451 532h6v1h-6zM459 532h2v1h-2zM464 532h7v1h-7zM473 532h8v1h-8zM483 532h5v1h-5zM489 532h1v1h-1zM450 533h4v1h-4zM456 533h24v1h-24zM483 533h7v1h-7zM450 534h1v1h-1zM453 534h1v1h-1zM457 534h2v1h-2zM460 534h1v1h-1zM463 534h8v1h-8zM473 534h1v1h-1zM475 534h17v1h-17zM493 534h1v1h-1zM447 535h3v1h-3zM456 535h2v1h-2zM461 535h1v1h-1zM466 535h3v1h-3zM473 535h3v1h-3zM477 535h16v1h-16zM447 536h3v1h-3zM455 536h1v1h-1zM461 536h4v1h-4zM467 536h2v1h-2zM474 536h2v1h-2zM477 536h2v1h-2zM482 536h2v1h-2zM487 536h2v1h-2zM490 536h3v1h-3zM449 537h7v1h-7zM457 537h8v1h-8zM467 537h3v1h-3zM474 537h2v1h-2zM481 537h3v1h-3zM487 537h2v1h-2zM449 538h2v1h-2zM455 538h3v1h-3zM461 538h2v1h-2zM464 538h4v1h-4zM469 538h1v1h-1zM474 538h1v1h-1zM481 538h1v1h-1zM483 538h5v1h-5zM455 539h13v1h-13zM469 539h1v1h-1zM473 539h1v1h-1zM476 539h1v1h-1zM481 539h1v1h-1zM483 539h8v1h-8zM449 540h2v1h-2zM454 540h3v1h-3zM458 540h16v1h-16zM475 540h1v1h-1zM480 540h5v1h-5zM487 540h4v1h-4zM456 541h1v1h-1zM459 541h5v1h-5zM465 541h6v1h-6zM475 541h1v1h-1zM479 541h11v1h-11zM457 542h1v1h-1zM459 542h4v1h-4zM465 542h1v1h-1zM475 542h2v1h-2zM479 542h1v1h-1zM481 542h9v1h-9zM458 543h6v1h-6zM465 543h1v1h-1zM471 543h1v1h-1zM475 543h2v1h-2zM478 543h1v1h-1zM481 543h3v1h-3zM485 543h2v1h-2zM489 543h1v1h-1zM458 544h1v1h-1zM460 544h6v1h-6zM470 544h3v1h-3zM475 544h8v1h-8zM485 544h5v1h-5zM460 545h6v1h-6zM469 545h1v1h-1zM472 545h2v1h-2zM479 545h3v1h-3zM484 545h6v1h-6zM460 546h2v1h-2zM468 546h1v1h-1zM473 546h3v1h-3zM479 546h4v1h-4zM484 546h4v1h-4zM461 547h7v1h-7zM471 547h13v1h-13zM462 548h6v1h-6zM470 548h13v1h-13zM466 549h6v1h-6zM476 549h4v1h-4zM468 550h4v1h-4z"/>
<path fill="#f0e420" d="M452 488h1v1h-1zM450 489h3v1h-3zM488 489h1v1h-1zM450 490h1v1h-1zM452 490h2v1h-2zM449 491h1v1h-1zM453 491h1v1h-1zM449 492h2v1h-2zM454 492h1v1h-1zM450 493h4v1h-4zM460 493h1v1h-1zM450 494h1v1h-1zM460 494h1v1h-1zM464 494h1v1h-1zM482 494h2v1h-2zM489 494h1v1h-1zM454 495h1v1h-1zM460 495h1v1h-1zM464 495h1v1h-1zM482 495h4v1h-4zM488 495h2v1h-2zM460 496h1v1h-1zM473 496h5v1h-5zM480 496h4v1h-4zM486 496h8v1h-8zM465 497h1v1h-1zM471 497h1v1h-1zM475 497h3v1h-3zM480 497h1v1h-1zM487 497h2v1h-2zM490 497h5v1h-5zM459 498h1v1h-1zM465 498h1v1h-1zM475 498h5v1h-5zM486 498h2v1h-2zM491 498h2v1h-2zM495 498h1v1h-1zM459 499h1v1h-1zM465 499h3v1h-3zM470 499h1v1h-1zM476 499h4v1h-4zM485 499h2v1h-2zM489 499h4v1h-4zM494 499h3v1h-3zM467 500h1v1h-1zM470 500h1v1h-1zM476 500h1v1h-1zM479 500h1v1h-1zM488 500h5v1h-5zM494 500h4v1h-4zM467 501h1v1h-1zM470 501h1v1h-1zM479 501h1v1h-1zM488 501h7v1h-7zM496 501h3v1h-3zM463 502h2v1h-2zM468 502h3v1h-3zM479 502h2v1h-2zM490 502h9v1h-9zM460 503h1v1h-1zM462 503h3v1h-3zM467 503h4v1h-4zM480 503h2v1h-2zM487 503h3v1h-3zM493 503h2v1h-2zM496 503h3v1h-3zM460 504h3v1h-3zM465 504h3v1h-3zM470 504h1v1h-1zM476 504h1v1h-1zM479 504h3v1h-3zM494 504h1v1h-1zM496 504h2v1h-2zM466 505h1v1h-1zM470 505h2v1h-2zM477 505h2v1h-2zM486 505h1v1h-1zM494 505h3v1h-3zM462 506h1v1h-1zM487 506h3v1h-3zM495 506h2v1h-2zM461 507h5v1h-5zM469 507h1v1h-1zM472 507h1v1h-1zM479 507h3v1h-3zM488 507h4v1h-4zM496 507h1v1h-1zM444 508h2v1h-2zM460 508h1v1h-1zM465 508h1v1h-1zM469 508h1v1h-1zM471 508h2v1h-2zM478 508h1v1h-1zM482 508h1v1h-1zM488 508h1v1h-1zM496 508h2v1h-2zM459 509h1v1h-1zM466 509h4v1h-4zM471 509h2v1h-2zM477 509h1v1h-1zM483 509h1v1h-1zM454 510h6v1h-6zM466 510h8v1h-8zM476 510h1v1h-1zM484 510h3v1h-3zM446 511h3v1h-3zM451 511h2v1h-2zM456 511h1v1h-1zM459 511h1v1h-1zM461 511h2v1h-2zM465 511h2v1h-2zM470 511h4v1h-4zM492 511h2v1h-2zM495 511h1v1h-1zM445 512h1v1h-1zM448 512h5v1h-5zM457 512h1v1h-1zM459 512h3v1h-3zM463 512h2v1h-2zM471 512h5v1h-5zM492 512h1v1h-1zM497 512h1v1h-1zM444 513h1v1h-1zM450 513h3v1h-3zM457 513h4v1h-4zM467 513h1v1h-1zM471 513h2v1h-2zM474 513h2v1h-2zM488 513h2v1h-2zM493 513h2v1h-2zM498 513h1v1h-1zM444 514h1v1h-1zM451 514h2v1h-2zM465 514h8v1h-8zM477 514h2v1h-2zM488 514h3v1h-3zM495 514h1v1h-1zM498 514h1v1h-1zM445 515h1v1h-1zM450 515h3v1h-3zM465 515h3v1h-3zM471 515h2v1h-2zM488 515h3v1h-3zM495 515h3v1h-3zM446 516h5v1h-5zM465 516h2v1h-2zM479 516h1v1h-1zM482 516h1v1h-1zM487 516h4v1h-4zM495 516h2v1h-2zM448 517h3v1h-3zM453 517h2v1h-2zM463 517h4v1h-4zM472 517h1v1h-1zM479 517h2v1h-2zM486 517h3v1h-3zM490 517h1v1h-1zM493 517h3v1h-3zM448 518h6v1h-6zM462 518h1v1h-1zM465 518h2v1h-2zM471 518h1v1h-1zM479 518h2v1h-2zM485 518h3v1h-3zM493 518h1v1h-1zM496 518h1v1h-1zM446 519h3v1h-3zM451 519h1v1h-1zM461 519h2v1h-2zM466 519h1v1h-1zM471 519h1v1h-1zM478 519h3v1h-3zM487 519h1v1h-1zM494 519h1v1h-1zM496 519h1v1h-1zM444 520h1v1h-1zM451 520h1v1h-1zM454 520h1v1h-1zM461 520h4v1h-4zM466 520h1v1h-1zM470 520h1v1h-1zM474 520h6v1h-6zM482 520h1v1h-1zM495 520h1v1h-1zM444 521h1v1h-1zM449 521h1v1h-1zM451 521h1v1h-1zM455 521h4v1h-4zM460 521h3v1h-3zM464 521h3v1h-3zM469 521h3v1h-3zM473 521h7v1h-7zM445 522h1v1h-1zM449 522h1v1h-1zM451 522h1v1h-1zM457 522h2v1h-2zM465 522h1v1h-1zM469 522h1v1h-1zM471 522h3v1h-3zM445 523h1v1h-1zM448 523h1v1h-1zM452 523h6v1h-6zM465 523h2v1h-2zM444 524h4v1h-4zM465 524h2v1h-2zM469 524h1v1h-1zM444 525h3v1h-3zM451 525h1v1h-1zM458 525h2v1h-2zM462 525h2v1h-2zM466 525h1v1h-1zM450 526h3v1h-3zM459 526h3v1h-3zM466 526h1v1h-1zM469 526h2v1h-2zM450 527h3v1h-3zM459 527h3v1h-3zM466 527h1v1h-1zM469 527h3v1h-3zM460 528h1v1h-1zM465 528h2v1h-2zM469 528h1v1h-1zM472 528h1v1h-1zM460 529h7v1h-7zM468 529h1v1h-1zM473 529h1v1h-1zM481 529h1v1h-1zM465 530h4v1h-4zM472 530h2v1h-2zM480 530h2v1h-2zM465 531h6v1h-6zM472 531h1v1h-1zM471 532h2v1h-2zM488 532h1v1h-1zM454 533h2v1h-2zM451 534h2v1h-2zM454 534h3v1h-3zM461 534h2v1h-2zM471 534h2v1h-2zM450 535h6v1h-6zM462 535h4v1h-4zM469 535h2v1h-2zM472 535h1v1h-1zM476 535h1v1h-1zM450 536h5v1h-5zM465 536h2v1h-2zM469 536h1v1h-1zM473 536h1v1h-1zM476 536h1v1h-1zM479 536h3v1h-3zM484 536h3v1h-3zM465 537h2v1h-2zM476 537h5v1h-5zM484 537h3v1h-3zM458 538h3v1h-3zM470 538h1v1h-1zM473 538h1v1h-1zM476 538h1v1h-1zM479 538h2v1h-2zM470 539h3v1h-3zM477 539h4v1h-4zM476 540h4v1h-4zM485 540h2v1h-2zM464 541h1v1h-1zM476 541h3v1h-3zM463 542h2v1h-2zM477 542h2v1h-2zM464 543h1v1h-1zM477 543h1v1h-1zM470 545h2v1h-2zM469 546h4v1h-4zM468 547h3v1h-3zM468 548h2v1h-2z"/>
<path fill="#ee641e" d="M451 490h1v1h-1zM450 491h3v1h-3zM451 492h3v1h-3zM461 494h3v1h-3zM461 495h1v1h-1zM463 495h1v1h-1zM461 496h4v1h-4zM484 496h2v1h-2zM460 497h5v1h-5zM472 497h3v1h-3zM481 497h6v1h-6zM489 497h1v1h-1zM464 498h1v1h-1zM471 498h1v1h-1zM480 498h1v1h-1zM484 498h2v1h-2zM488 498h3v1h-3zM464 499h1v1h-1zM471 499h1v1h-1zM475 499h1v1h-1zM480 499h1v1h-1zM484 499h1v1h-1zM487 499h2v1h-2zM460 500h1v1h-1zM464 500h3v1h-3zM471 500h1v1h-1zM475 500h1v1h-1zM480 500h1v1h-1zM484 500h4v1h-4zM460 501h1v1h-1zM463 501h4v1h-4zM471 501h1v1h-1zM475 501h1v1h-1zM480 501h1v1h-1zM485 501h3v1h-3zM495 501h1v1h-1zM460 502h3v1h-3zM465 502h3v1h-3zM471 502h1v1h-1zM475 502h1v1h-1zM481 502h1v1h-1zM487 502h3v1h-3zM461 503h1v1h-1zM465 503h2v1h-2zM471 503h1v1h-1zM475 503h1v1h-1zM482 503h1v1h-1zM485 503h2v1h-2zM495 503h1v1h-1zM471 504h2v1h-2zM475 504h1v1h-1zM482 504h1v1h-1zM486 504h1v1h-1zM495 504h1v1h-1zM472 505h1v1h-1zM476 505h1v1h-1zM479 505h4v1h-4zM470 506h4v1h-4zM476 506h7v1h-7zM486 506h1v1h-1zM470 507h2v1h-2zM473 507h1v1h-1zM476 507h3v1h-3zM482 507h1v1h-1zM486 507h2v1h-2zM461 508h4v1h-4zM470 508h1v1h-1zM473 508h1v1h-1zM476 508h2v1h-2zM483 508h1v1h-1zM487 508h1v1h-1zM460 509h3v1h-3zM465 509h1v1h-1zM470 509h1v1h-1zM473 509h1v1h-1zM476 509h1v1h-1zM484 509h1v1h-1zM486 509h2v1h-2zM460 510h3v1h-3zM465 510h1v1h-1zM474 510h1v1h-1zM457 511h2v1h-2zM460 511h1v1h-1zM463 511h2v1h-2zM474 511h2v1h-2zM494 511h1v1h-1zM446 512h2v1h-2zM458 512h1v1h-1zM493 512h4v1h-4zM445 513h1v1h-1zM448 513h2v1h-2zM473 513h1v1h-1zM495 513h3v1h-3zM445 514h1v1h-1zM448 514h3v1h-3zM473 514h4v1h-4zM496 514h2v1h-2zM446 515h4v1h-4zM473 515h3v1h-3zM478 515h1v1h-1zM472 516h2v1h-2zM478 516h1v1h-1zM473 517h1v1h-1zM478 517h1v1h-1zM463 518h2v1h-2zM472 518h2v1h-2zM477 518h2v1h-2zM494 518h1v1h-1zM452 519h2v1h-2zM463 519h3v1h-3zM472 519h6v1h-6zM445 520h4v1h-4zM452 520h2v1h-2zM465 520h1v1h-1zM471 520h3v1h-3zM445 521h1v1h-1zM448 521h1v1h-1zM452 521h3v1h-3zM472 521h1v1h-1zM448 522h1v1h-1zM452 522h5v1h-5zM446 523h2v1h-2zM464 525h2v1h-2zM462 526h2v1h-2zM465 526h1v1h-1zM462 527h4v1h-4zM461 528h4v1h-4zM470 528h2v1h-2zM469 529h1v1h-1zM472 529h1v1h-1zM469 530h3v1h-3zM471 531h1v1h-1zM471 535h1v1h-1zM470 536h1v1h-1zM472 536h1v1h-1zM470 537h1v1h-1zM472 537h2v1h-2zM471 538h2v1h-2zM477 538h2v1h-2z"/>
<path fill="#e4341c" d="M462 495h1v1h-1zM460 498h4v1h-4zM472 498h3v1h-3zM481 498h3v1h-3zM460 499h4v1h-4zM472 499h3v1h-3zM481 499h3v1h-3zM461 500h3v1h-3zM472 500h3v1h-3zM481 500h3v1h-3zM461 501h2v1h-2zM472 501h3v1h-3zM481 501h4v1h-4zM472 502h3v1h-3zM482 502h5v1h-5zM472 503h3v1h-3zM483 503h2v1h-2zM473 504h2v1h-2zM483 504h3v1h-3zM473 505h3v1h-3zM483 505h3v1h-3zM474 506h2v1h-2zM483 506h3v1h-3zM474 507h2v1h-2zM483 507h3v1h-3zM474 508h2v1h-2zM484 508h3v1h-3zM463 509h2v1h-2zM474 509h2v1h-2zM485 509h1v1h-1zM463 510h2v1h-2zM475 510h1v1h-1zM446 513h2v1h-2zM446 514h2v1h-2zM476 515h2v1h-2zM474 516h4v1h-4zM474 517h4v1h-4zM474 518h3v1h-3zM495 518h1v1h-1zM495 519h1v1h-1zM446 521h2v1h-2zM446 522h2v1h-2zM464 526h1v1h-1zM470 529h2v1h-2zM471 536h1v1h-1zM471 537h1v1h-1z"/>
</g>
<polygon points="361.0,306.3 365.4,308.0 372.3,310.7 375.8,315.8 376.6,321.9 381.0,324.5 387.0,329.7 387.9,334.0 386.0,338.0 393.0,341.0 396.2,345.3 395.9,352.4 393.0,357.6 389.6,361.0 383.5,364.5 378.4,367.0 378.4,371.4 375.8,374.0 377.5,378.3 372.3,380.0 368.0,381.8 362.0,383.5 355.0,384.4 347.0,382.7 342.7,380.0 339.2,376.6 335.8,375.9 332.5,375.6 329.0,373.5 328.2,370.0 329.5,366.5 327.0,364.5 322.8,360.2 320.2,355.0 318.5,349.0 318.3,343.0 319.9,339.2 322.5,335.0 324.0,331.0 327.0,328.5 330.0,322.0 333.0,319.6 338.0,317.0 343.0,313.9 347.0,311.0 351.0,309.2 356.0,307.5" fill="none" stroke="#17175e" stroke-width="0.8" stroke-linejoin="round"/>
<polygon points="227.2,480.6 232.5,478.2 239.8,477.3 245.3,480.0 248.9,483.7 248.0,488.3 250.8,491.9 254.4,495.6 258.1,500.1 259.9,504.7 263.6,506.5 269.0,508.4 272.7,512.0 273.6,517.5 270.9,523.0 267.2,528.5 261.7,534.0 258.1,536.7 254.4,541.2 252.6,546.7 247.1,551.3 242.1,551.5 237.3,553.0 233.5,553.5 227.7,552.5 222.9,551.5 218.1,548.7 216.2,546.5 213.5,547.6 209.5,548.4 205.5,547.4 202.8,544.5 202.0,539.0 202.7,534.2 201.3,530.4 201.7,526.5 204.0,525.3 211.8,525.1 211.5,523.5 207.5,522.6 204.2,521.5 200.8,520.5 198.7,518.5 196.5,515.5 194.2,512.8 193.4,509.8 194.2,506.8 195.7,505.6 198.0,505.6 199.5,506.8 200.3,509.1 202.6,510.6 205.0,511.2 207.5,510.8 208.6,508.6 206.5,506.2 204.9,504.5 201.8,502.2 199.5,500.6 201.0,498.3 203.4,496.4 206.5,493.7 208.8,491.4 211.8,489.5 214.5,489.8 216.1,492.2 216.8,495.2 215.7,498.3 215.3,500.6 216.5,503.0 219.5,503.7 221.8,502.2 221.1,499.1 220.3,495.2 221.1,491.4 224.2,488.3 225.7,483.7" fill="none" stroke="#17175e" stroke-width="0.8" stroke-linejoin="round"/>
<polygon points="340.0,475.4 347.0,475.0 356.0,475.2 362.0,475.6 366.0,477.8 369.5,481.0 371.0,485.0 370.5,490.0 372.0,493.5 374.4,495.6 378.1,499.2 379.9,504.7 383.6,508.4 388.1,511.1 389.9,516.6 389.0,522.1 385.4,526.6 381.7,530.3 378.1,533.0 374.4,537.6 372.6,543.1 367.1,548.6 359.8,552.2 352.5,553.1 343.4,552.2 337.9,548.6 334.2,544.9 328.7,543.1 323.3,539.4 322.4,533.9 319.6,530.3 315.0,524.8 313.2,517.5 313.2,510.2 316.0,502.9 319.6,497.4 323.3,491.9 328.7,487.4 334.0,486.6 336.8,485.0 337.0,479.0 338.0,476.5" fill="none" stroke="#17175e" stroke-width="0.8" stroke-linejoin="round"/>
<polygon points="462.7,476.8 470.0,476.0 479.6,476.3 484.4,478.7 488.3,481.6 492.1,486.4 493.0,490.3 496.9,493.2 500.8,497.0 503.7,500.8 502.7,504.7 501.0,507.0 506.5,509.5 509.4,512.0 509.4,515.8 508.5,522.5 505.6,529.2 500.8,531.2 496.9,535.0 495.0,538.8 493.1,542.7 493.1,547.5 489.2,549.4 484.4,551.3 477.7,553.3 470.0,554.2 466.5,553.3 460.8,551.3 456.9,547.5 454.0,543.7 449.2,544.6 444.4,542.7 442.5,538.8 444.4,535.0 441.5,532.1 437.7,527.3 434.8,519.6 433.8,512.0 434.8,508.5 436.7,505.7 439.6,500.8 442.5,497.0 444.4,491.2 447.3,486.4 452.0,484.0 457.0,481.6" fill="none" stroke="#17175e" stroke-width="0.8" stroke-linejoin="round"/>
<polygon points="238.5,511.8 255.8,508.9 260,516 266.8,529.4 258.6,535.8 234.6,527.2" fill="none" stroke="#000" stroke-width="1.1"/>
<polygon points="336.4,473.8 364.2,473.8 367.5,488 363.5,492.5 347.5,494 336.4,486" fill="none" stroke="#000" stroke-width="1.1"/>
<polygon points="469.8,495.4 488,495.4 489.6,499.8 486.4,512.7 480,507.6 474.6,514.6 470.6,512.6 469.8,504.7" fill="none" stroke="#000" stroke-width="1.1"/>
<text x="263.2" y="544" font-size="7.5" fill="#231f20" stroke="#231f20" stroke-width="0.16">1</text>
<text x="371.6" y="477.8" font-size="7.5" fill="#231f20" stroke="#231f20" stroke-width="0.16">2</text>
<text x="495.5" y="487" font-size="7.5" fill="#231f20" stroke="#231f20" stroke-width="0.16">3</text>
<path d="M87.6 326.2h0.55v0.55h-0.55zM35.9 384.2h0.55v0.55h-0.55zM97.1 340.6h0.55v0.55h-0.55zM71.6 352.8h0.55v0.55h-0.55zM61.7 393.5h0.55v0.55h-0.55zM108.5 308.1h0.55v0.55h-0.55zM79.2 343.3h0.55v0.55h-0.55zM62.0 366.0h0.55v0.55h-0.55zM97.8 345.0h0.55v0.55h-0.55zM91.7 339.1h0.55v0.55h-0.55zM113.8 341.1h0.55v0.55h-0.55zM112.5 312.1h0.55v0.55h-0.55zM105.0 321.8h0.55v0.55h-0.55zM93.4 356.4h0.55v0.55h-0.55zM95.0 333.0h0.55v0.55h-0.55zM90.4 335.7h0.55v0.55h-0.55zM82.1 326.9h0.55v0.55h-0.55zM79.3 382.5h0.55v0.55h-0.55zM96.4 320.5h0.55v0.55h-0.55zM97.4 339.1h0.55v0.55h-0.55zM95.3 345.6h0.55v0.55h-0.55zM35.1 383.4h0.55v0.55h-0.55zM100.9 305.7h0.55v0.55h-0.55zM84.7 336.3h0.55v0.55h-0.55zM92.9 334.6h0.55v0.55h-0.55zM57.8 365.8h0.55v0.55h-0.55zM42.0 366.9h0.55v0.55h-0.55zM70.0 347.6h0.55v0.55h-0.55zM113.9 335.5h0.55v0.55h-0.55zM57.0 369.4h0.55v0.55h-0.55zM97.9 355.2h0.55v0.55h-0.55zM120.1 347.4h0.55v0.55h-0.55zM93.0 341.4h0.55v0.55h-0.55zM59.2 373.4h0.55v0.55h-0.55zM52.2 376.2h0.55v0.55h-0.55zM91.1 337.7h0.55v0.55h-0.55zM122.0 355.5h0.55v0.55h-0.55zM100.6 321.8h0.55v0.55h-0.55zM101.9 343.1h0.55v0.55h-0.55zM53.7 360.6h0.55v0.55h-0.55zM93.8 348.8h0.55v0.55h-0.55zM66.3 354.8h0.55v0.55h-0.55zM45.7 382.0h0.55v0.55h-0.55zM77.5 343.8h0.55v0.55h-0.55zM38.3 384.9h0.55v0.55h-0.55zM92.6 337.5h0.55v0.55h-0.55zM103.7 335.7h0.55v0.55h-0.55zM99.3 327.5h0.55v0.55h-0.55zM92.6 358.3h0.55v0.55h-0.55zM126.4 328.7h0.55v0.55h-0.55zM102.3 333.9h0.55v0.55h-0.55zM92.3 344.2h0.55v0.55h-0.55zM111.6 338.9h0.55v0.55h-0.55zM71.7 349.8h0.55v0.55h-0.55zM90.8 333.8h0.55v0.55h-0.55zM95.4 359.8h0.55v0.55h-0.55zM112.1 340.6h0.55v0.55h-0.55zM68.6 344.8h0.55v0.55h-0.55zM72.4 347.9h0.55v0.55h-0.55zM107.4 339.5h0.55v0.55h-0.55zM106.3 344.5h0.55v0.55h-0.55zM101.3 337.8h0.55v0.55h-0.55zM111.3 329.3h0.55v0.55h-0.55zM108.4 313.1h0.55v0.55h-0.55zM70.2 342.2h0.55v0.55h-0.55zM113.2 351.5h0.55v0.55h-0.55zM122.0 333.1h0.55v0.55h-0.55zM50.7 373.4h0.55v0.55h-0.55zM121.6 324.2h0.55v0.55h-0.55zM106.7 339.1h0.55v0.55h-0.55zM52.7 370.6h0.55v0.55h-0.55zM85.5 375.7h0.55v0.55h-0.55zM96.3 360.8h0.55v0.55h-0.55zM62.7 349.4h0.55v0.55h-0.55zM46.0 372.9h0.55v0.55h-0.55zM72.3 350.5h0.55v0.55h-0.55zM105.1 366.5h0.55v0.55h-0.55zM126.1 301.5h0.55v0.55h-0.55zM80.2 343.9h0.55v0.55h-0.55zM89.9 368.6h0.55v0.55h-0.55zM78.5 345.2h0.55v0.55h-0.55zM123.0 352.8h0.55v0.55h-0.55zM107.9 337.2h0.55v0.55h-0.55zM70.2 354.0h0.55v0.55h-0.55zM113.5 332.6h0.55v0.55h-0.55zM70.0 320.0h0.55v0.55h-0.55zM62.4 371.9h0.55v0.55h-0.55zM123.3 316.7h0.55v0.55h-0.55zM100.9 327.8h0.55v0.55h-0.55zM56.2 373.6h0.55v0.55h-0.55zM84.1 325.2h0.55v0.55h-0.55zM49.5 379.4h0.55v0.55h-0.55zM117.7 333.0h0.55v0.55h-0.55zM100.6 324.3h0.55v0.55h-0.55zM97.9 328.6h0.55v0.55h-0.55zM87.6 373.9h0.55v0.55h-0.55zM114.3 331.0h0.55v0.55h-0.55zM52.3 376.9h0.55v0.55h-0.55zM69.0 353.3h0.55v0.55h-0.55zM91.8 339.2h0.55v0.55h-0.55zM125.6 302.7h0.55v0.55h-0.55zM60.3 363.3h0.55v0.55h-0.55zM98.7 340.6h0.55v0.55h-0.55zM92.2 381.1h0.55v0.55h-0.55zM108.6 341.3h0.55v0.55h-0.55zM65.2 360.8h0.55v0.55h-0.55zM122.0 309.9h0.55v0.55h-0.55zM92.9 344.8h0.55v0.55h-0.55zM53.4 375.1h0.55v0.55h-0.55zM65.6 360.4h0.55v0.55h-0.55zM65.1 359.8h0.55v0.55h-0.55zM127.7 320.4h0.55v0.55h-0.55zM93.5 348.5h0.55v0.55h-0.55zM98.2 321.4h0.55v0.55h-0.55zM83.2 336.4h0.55v0.55h-0.55zM104.8 328.4h0.55v0.55h-0.55zM59.5 365.8h0.55v0.55h-0.55zM105.1 331.4h0.55v0.55h-0.55zM109.3 328.7h0.55v0.55h-0.55zM88.1 335.3h0.55v0.55h-0.55zM64.0 346.2h0.55v0.55h-0.55zM107.6 324.7h0.55v0.55h-0.55zM116.2 320.7h0.55v0.55h-0.55zM88.0 369.7h0.55v0.55h-0.55zM45.8 380.8h0.55v0.55h-0.55zM110.1 351.5h0.55v0.55h-0.55zM106.7 327.8h0.55v0.55h-0.55zM65.4 365.5h0.55v0.55h-0.55zM94.9 350.4h0.55v0.55h-0.55zM93.8 334.2h0.55v0.55h-0.55zM118.0 302.4h0.55v0.55h-0.55zM100.5 378.6h0.55v0.55h-0.55zM37.6 383.5h0.55v0.55h-0.55zM93.0 336.7h0.55v0.55h-0.55zM97.1 345.3h0.55v0.55h-0.55zM80.9 343.0h0.55v0.55h-0.55zM64.0 366.1h0.55v0.55h-0.55zM65.3 363.4h0.55v0.55h-0.55zM94.0 349.8h0.55v0.55h-0.55zM47.3 380.5h0.55v0.55h-0.55zM78.9 341.6h0.55v0.55h-0.55zM115.8 320.5h0.55v0.55h-0.55zM102.0 323.8h0.55v0.55h-0.55zM36.2 363.8h0.55v0.55h-0.55zM65.1 356.4h0.55v0.55h-0.55zM118.4 327.9h0.55v0.55h-0.55zM104.2 317.1h0.55v0.55h-0.55zM105.2 349.4h0.55v0.55h-0.55zM96.6 329.3h0.55v0.55h-0.55zM100.0 363.9h0.55v0.55h-0.55zM82.0 341.5h0.55v0.55h-0.55zM103.1 343.2h0.55v0.55h-0.55zM64.0 367.0h0.55v0.55h-0.55zM92.6 330.1h0.55v0.55h-0.55zM110.2 367.4h0.55v0.55h-0.55zM101.1 337.3h0.55v0.55h-0.55zM91.7 335.4h0.55v0.55h-0.55zM95.5 351.5h0.55v0.55h-0.55zM115.1 300.4h0.55v0.55h-0.55zM98.7 319.9h0.55v0.55h-0.55zM121.0 304.7h0.55v0.55h-0.55zM48.1 373.8h0.55v0.55h-0.55zM71.5 349.4h0.55v0.55h-0.55zM110.3 322.6h0.55v0.55h-0.55zM93.7 350.0h0.55v0.55h-0.55zM101.9 317.4h0.55v0.55h-0.55zM66.9 343.5h0.55v0.55h-0.55zM112.5 316.5h0.55v0.55h-0.55zM41.8 377.8h0.55v0.55h-0.55zM93.4 347.6h0.55v0.55h-0.55zM99.4 341.3h0.55v0.55h-0.55zM60.5 362.2h0.55v0.55h-0.55zM107.9 325.8h0.55v0.55h-0.55zM93.6 356.5h0.55v0.55h-0.55zM46.9 375.9h0.55v0.55h-0.55zM111.4 308.0h0.55v0.55h-0.55zM93.7 347.7h0.55v0.55h-0.55zM35.9 377.7h0.55v0.55h-0.55zM57.2 374.7h0.55v0.55h-0.55zM78.0 381.7h0.55v0.55h-0.55zM121.3 322.1h0.55v0.55h-0.55zM100.6 342.4h0.55v0.55h-0.55zM111.9 306.2h0.55v0.55h-0.55zM84.6 338.4h0.55v0.55h-0.55zM109.5 329.0h0.55v0.55h-0.55zM120.6 300.3h0.55v0.55h-0.55zM94.0 345.5h0.55v0.55h-0.55zM83.6 336.8h0.55v0.55h-0.55zM101.8 337.0h0.55v0.55h-0.55zM101.0 351.3h0.55v0.55h-0.55zM82.3 338.1h0.55v0.55h-0.55zM71.8 352.8h0.55v0.55h-0.55zM46.9 372.0h0.55v0.55h-0.55zM99.1 354.1h0.55v0.55h-0.55zM112.3 319.9h0.55v0.55h-0.55zM89.5 327.3h0.55v0.55h-0.55zM128.1 321.3h0.55v0.55h-0.55zM95.8 342.1h0.55v0.55h-0.55zM79.3 342.6h0.55v0.55h-0.55zM54.5 360.7h0.55v0.55h-0.55zM90.9 333.6h0.55v0.55h-0.55zM36.0 382.0h0.55v0.55h-0.55zM79.9 342.3h0.55v0.55h-0.55zM126.7 338.9h0.55v0.55h-0.55zM43.1 380.8h0.55v0.55h-0.55zM95.0 326.9h0.55v0.55h-0.55zM101.1 326.3h0.55v0.55h-0.55zM43.3 382.3h0.55v0.55h-0.55zM121.5 339.7h0.55v0.55h-0.55zM98.8 330.4h0.55v0.55h-0.55zM117.3 331.3h0.55v0.55h-0.55zM107.0 327.6h0.55v0.55h-0.55zM99.0 356.2h0.55v0.55h-0.55zM113.2 323.7h0.55v0.55h-0.55zM35.0 379.6h0.55v0.55h-0.55zM101.7 325.7h0.55v0.55h-0.55zM105.0 330.1h0.55v0.55h-0.55zM94.8 334.3h0.55v0.55h-0.55zM85.2 374.2h0.55v0.55h-0.55zM52.2 369.9h0.55v0.55h-0.55zM56.9 357.8h0.55v0.55h-0.55zM92.3 376.1h0.55v0.55h-0.55zM77.2 333.0h0.55v0.55h-0.55zM93.4 357.9h0.55v0.55h-0.55zM95.2 344.9h0.55v0.55h-0.55zM95.6 377.8h0.55v0.55h-0.55zM78.4 323.5h0.55v0.55h-0.55zM59.6 364.7h0.55v0.55h-0.55zM51.2 370.4h0.55v0.55h-0.55zM106.3 332.0h0.55v0.55h-0.55zM94.1 329.5h0.55v0.55h-0.55zM86.3 377.2h0.55v0.55h-0.55zM75.5 345.5h0.55v0.55h-0.55zM91.9 342.0h0.55v0.55h-0.55zM95.2 336.1h0.55v0.55h-0.55zM63.3 352.5h0.55v0.55h-0.55zM93.7 364.4h0.55v0.55h-0.55zM76.7 387.9h0.55v0.55h-0.55zM64.5 361.9h0.55v0.55h-0.55zM120.8 324.9h0.55v0.55h-0.55zM89.6 336.3h0.55v0.55h-0.55zM37.4 377.3h0.55v0.55h-0.55zM94.1 324.3h0.55v0.55h-0.55zM98.0 314.5h0.55v0.55h-0.55zM119.5 319.9h0.55v0.55h-0.55zM96.8 349.8h0.55v0.55h-0.55zM125.4 320.6h0.55v0.55h-0.55zM114.6 325.3h0.55v0.55h-0.55zM100.5 342.9h0.55v0.55h-0.55zM84.5 391.2h0.55v0.55h-0.55zM94.3 354.4h0.55v0.55h-0.55zM86.1 385.5h0.55v0.55h-0.55zM101.2 324.4h0.55v0.55h-0.55zM105.5 327.6h0.55v0.55h-0.55zM121.2 362.9h0.55v0.55h-0.55zM112.8 326.2h0.55v0.55h-0.55zM112.5 315.5h0.55v0.55h-0.55zM97.4 332.1h0.55v0.55h-0.55zM102.5 321.2h0.55v0.55h-0.55zM99.3 346.6h0.55v0.55h-0.55zM122.0 317.7h0.55v0.55h-0.55zM101.0 332.6h0.55v0.55h-0.55zM124.5 335.3h0.55v0.55h-0.55zM110.6 322.9h0.55v0.55h-0.55zM115.3 320.9h0.55v0.55h-0.55zM82.5 381.4h0.55v0.55h-0.55zM64.3 366.9h0.55v0.55h-0.55zM118.9 337.0h0.55v0.55h-0.55zM107.6 337.3h0.55v0.55h-0.55zM98.5 334.8h0.55v0.55h-0.55zM78.9 341.8h0.55v0.55h-0.55zM54.4 364.6h0.55v0.55h-0.55zM117.3 325.7h0.55v0.55h-0.55zM53.8 376.1h0.55v0.55h-0.55zM77.6 343.4h0.55v0.55h-0.55zM75.0 343.4h0.55v0.55h-0.55zM48.0 380.4h0.55v0.55h-0.55zM105.2 334.7h0.55v0.55h-0.55zM46.0 373.2h0.55v0.55h-0.55zM74.4 336.4h0.55v0.55h-0.55zM117.4 327.0h0.55v0.55h-0.55zM51.0 373.5h0.55v0.55h-0.55zM107.1 320.4h0.55v0.55h-0.55zM43.1 383.8h0.55v0.55h-0.55zM126.4 309.9h0.55v0.55h-0.55zM58.2 374.0h0.55v0.55h-0.55zM95.6 363.4h0.55v0.55h-0.55zM83.0 392.5h0.55v0.55h-0.55zM115.5 308.5h0.55v0.55h-0.55zM97.2 345.3h0.55v0.55h-0.55zM109.9 348.3h0.55v0.55h-0.55zM113.0 313.8h0.55v0.55h-0.55zM105.0 338.8h0.55v0.55h-0.55zM96.9 321.5h0.55v0.55h-0.55zM95.4 328.1h0.55v0.55h-0.55zM65.5 354.9h0.55v0.55h-0.55zM93.6 303.9h0.55v0.55h-0.55zM62.1 371.5h0.55v0.55h-0.55zM109.4 330.7h0.55v0.55h-0.55zM112.5 319.5h0.55v0.55h-0.55zM58.0 362.5h0.55v0.55h-0.55zM54.2 375.9h0.55v0.55h-0.55zM76.9 344.5h0.55v0.55h-0.55zM101.7 358.8h0.55v0.55h-0.55zM123.4 328.6h0.55v0.55h-0.55zM106.7 335.4h0.55v0.55h-0.55zM92.3 343.0h0.55v0.55h-0.55zM111.1 323.8h0.55v0.55h-0.55zM76.6 390.7h0.55v0.55h-0.55zM122.1 326.0h0.55v0.55h-0.55zM67.7 358.2h0.55v0.55h-0.55zM59.5 365.8h0.55v0.55h-0.55zM124.4 320.3h0.55v0.55h-0.55zM104.4 335.7h0.55v0.55h-0.55zM57.0 357.9h0.55v0.55h-0.55zM127.5 314.8h0.55v0.55h-0.55zM43.2 382.4h0.55v0.55h-0.55zM97.4 333.2h0.55v0.55h-0.55zM109.1 322.9h0.55v0.55h-0.55zM98.1 338.1h0.55v0.55h-0.55zM94.3 365.9h0.55v0.55h-0.55zM86.9 311.9h0.55v0.55h-0.55zM85.0 337.0h0.55v0.55h-0.55zM48.2 361.6h0.55v0.55h-0.55zM114.6 318.9h0.55v0.55h-0.55zM114.6 335.4h0.55v0.55h-0.55zM55.2 370.6h0.55v0.55h-0.55zM65.0 362.2h0.55v0.55h-0.55zM104.0 363.1h0.55v0.55h-0.55zM64.4 364.2h0.55v0.55h-0.55zM113.1 329.0h0.55v0.55h-0.55zM90.9 378.4h0.55v0.55h-0.55zM51.5 370.4h0.55v0.55h-0.55zM38.4 384.1h0.55v0.55h-0.55zM76.8 341.2h0.55v0.55h-0.55zM104.6 303.2h0.55v0.55h-0.55zM69.5 349.9h0.55v0.55h-0.55zM92.7 330.4h0.55v0.55h-0.55zM95.8 339.7h0.55v0.55h-0.55zM60.5 372.1h0.55v0.55h-0.55zM112.5 325.2h0.55v0.55h-0.55zM99.5 307.2h0.55v0.55h-0.55zM108.3 330.0h0.55v0.55h-0.55zM90.9 335.0h0.55v0.55h-0.55zM70.6 353.1h0.55v0.55h-0.55zM89.9 339.6h0.55v0.55h-0.55zM48.4 373.1h0.55v0.55h-0.55zM92.7 345.5h0.55v0.55h-0.55zM86.6 325.9h0.55v0.55h-0.55zM88.5 326.6h0.55v0.55h-0.55zM99.1 369.6h0.55v0.55h-0.55zM107.3 320.4h0.55v0.55h-0.55zM64.1 357.0h0.55v0.55h-0.55zM126.1 311.6h0.55v0.55h-0.55zM85.6 319.8h0.55v0.55h-0.55zM119.5 321.8h0.55v0.55h-0.55zM98.8 340.5h0.55v0.55h-0.55zM107.9 336.1h0.55v0.55h-0.55zM105.3 348.8h0.55v0.55h-0.55zM61.5 367.6h0.55v0.55h-0.55zM107.6 338.5h0.55v0.55h-0.55zM69.6 355.9h0.55v0.55h-0.55zM103.5 324.8h0.55v0.55h-0.55zM97.6 349.8h0.55v0.55h-0.55zM104.7 324.6h0.55v0.55h-0.55zM106.2 344.7h0.55v0.55h-0.55zM51.6 367.0h0.55v0.55h-0.55zM48.8 378.1h0.55v0.55h-0.55zM57.6 358.3h0.55v0.55h-0.55zM71.8 352.4h0.55v0.55h-0.55zM99.8 305.4h0.55v0.55h-0.55zM54.4 372.9h0.55v0.55h-0.55zM106.9 307.9h0.55v0.55h-0.55zM79.5 334.7h0.55v0.55h-0.55zM101.5 329.2h0.55v0.55h-0.55zM103.5 324.7h0.55v0.55h-0.55zM100.3 324.8h0.55v0.55h-0.55zM93.9 349.6h0.55v0.55h-0.55zM43.3 381.4h0.55v0.55h-0.55zM39.8 343.2h0.55v0.55h-0.55zM106.2 317.1h0.55v0.55h-0.55zM121.7 315.7h0.55v0.55h-0.55zM95.7 355.4h0.55v0.55h-0.55zM119.2 318.6h0.55v0.55h-0.55zM35.9 383.4h0.55v0.55h-0.55zM59.0 366.0h0.55v0.55h-0.55zM60.3 350.1h0.55v0.55h-0.55zM107.3 315.7h0.55v0.55h-0.55zM47.0 376.3h0.55v0.55h-0.55zM101.6 305.4h0.55v0.55h-0.55zM55.7 375.8h0.55v0.55h-0.55zM37.2 376.3h0.55v0.55h-0.55zM103.5 323.8h0.55v0.55h-0.55zM98.7 343.9h0.55v0.55h-0.55zM114.8 322.9h0.55v0.55h-0.55zM46.4 381.0h0.55v0.55h-0.55zM113.9 332.5h0.55v0.55h-0.55zM50.9 378.1h0.55v0.55h-0.55zM85.7 338.7h0.55v0.55h-0.55zM47.1 377.9h0.55v0.55h-0.55zM101.4 353.1h0.55v0.55h-0.55zM93.6 364.9h0.55v0.55h-0.55zM100.4 302.5h0.55v0.55h-0.55zM107.9 322.1h0.55v0.55h-0.55zM78.3 344.7h0.55v0.55h-0.55zM41.7 354.3h0.55v0.55h-0.55zM108.1 328.4h0.55v0.55h-0.55zM94.9 370.3h0.55v0.55h-0.55zM91.6 340.0h0.55v0.55h-0.55zM99.2 350.2h0.55v0.55h-0.55zM111.8 339.3h0.55v0.55h-0.55zM122.6 335.0h0.55v0.55h-0.55zM50.9 372.6h0.55v0.55h-0.55zM109.4 313.9h0.55v0.55h-0.55zM78.1 336.1h0.55v0.55h-0.55zM116.3 317.4h0.55v0.55h-0.55zM108.7 336.4h0.55v0.55h-0.55zM106.9 335.4h0.55v0.55h-0.55zM87.4 370.8h0.55v0.55h-0.55zM120.6 323.0h0.55v0.55h-0.55zM98.9 347.4h0.55v0.55h-0.55zM86.8 316.2h0.55v0.55h-0.55zM104.7 331.2h0.55v0.55h-0.55zM63.6 391.0h0.55v0.55h-0.55zM67.3 345.7h0.55v0.55h-0.55zM99.8 340.1h0.55v0.55h-0.55zM106.2 334.1h0.55v0.55h-0.55zM103.2 322.5h0.55v0.55h-0.55zM37.3 382.4h0.55v0.55h-0.55zM66.6 362.7h0.55v0.55h-0.55zM44.9 375.3h0.55v0.55h-0.55zM111.9 328.2h0.55v0.55h-0.55zM104.0 326.2h0.55v0.55h-0.55zM116.5 331.4h0.55v0.55h-0.55zM117.6 318.0h0.55v0.55h-0.55zM44.1 377.8h0.55v0.55h-0.55zM43.0 381.6h0.55v0.55h-0.55zM96.8 368.8h0.55v0.55h-0.55zM86.9 371.9h0.55v0.55h-0.55zM100.6 336.1h0.55v0.55h-0.55zM70.6 329.3h0.55v0.55h-0.55zM114.3 324.0h0.55v0.55h-0.55zM120.7 316.6h0.55v0.55h-0.55zM84.0 328.5h0.55v0.55h-0.55zM65.3 346.3h0.55v0.55h-0.55zM95.9 329.2h0.55v0.55h-0.55zM57.1 348.7h0.55v0.55h-0.55zM60.1 365.2h0.55v0.55h-0.55zM82.7 313.6h0.55v0.55h-0.55zM103.7 370.2h0.55v0.55h-0.55zM97.0 333.1h0.55v0.55h-0.55zM62.4 341.0h0.55v0.55h-0.55zM120.2 332.6h0.55v0.55h-0.55zM95.8 354.8h0.55v0.55h-0.55zM101.4 342.1h0.55v0.55h-0.55zM101.2 348.3h0.55v0.55h-0.55zM57.0 367.3h0.55v0.55h-0.55zM102.7 344.8h0.55v0.55h-0.55zM65.9 346.8h0.55v0.55h-0.55zM93.2 327.8h0.55v0.55h-0.55zM46.0 360.3h0.55v0.55h-0.55zM44.1 382.7h0.55v0.55h-0.55zM97.9 336.1h0.55v0.55h-0.55zM61.6 351.0h0.55v0.55h-0.55zM53.1 364.3h0.55v0.55h-0.55zM108.3 341.9h0.55v0.55h-0.55zM127.5 327.3h0.55v0.55h-0.55zM93.7 340.7h0.55v0.55h-0.55zM97.6 325.8h0.55v0.55h-0.55zM72.1 351.4h0.55v0.55h-0.55zM96.4 352.1h0.55v0.55h-0.55zM124.2 322.6h0.55v0.55h-0.55zM45.7 393.9h0.55v0.55h-0.55zM112.1 341.7h0.55v0.55h-0.55zM89.8 367.7h0.55v0.55h-0.55zM35.4 377.0h0.55v0.55h-0.55zM62.2 358.0h0.55v0.55h-0.55zM54.9 374.7h0.55v0.55h-0.55zM105.3 330.7h0.55v0.55h-0.55zM119.4 324.7h0.55v0.55h-0.55zM124.8 332.8h0.55v0.55h-0.55zM76.9 342.5h0.55v0.55h-0.55zM111.9 336.0h0.55v0.55h-0.55zM100.4 346.2h0.55v0.55h-0.55zM48.1 370.6h0.55v0.55h-0.55zM69.0 338.0h0.55v0.55h-0.55zM123.9 332.9h0.55v0.55h-0.55zM120.3 325.3h0.55v0.55h-0.55zM109.7 316.6h0.55v0.55h-0.55zM114.9 334.2h0.55v0.55h-0.55zM97.4 328.7h0.55v0.55h-0.55zM92.5 358.0h0.55v0.55h-0.55zM113.4 320.2h0.55v0.55h-0.55zM117.1 324.0h0.55v0.55h-0.55zM107.9 323.8h0.55v0.55h-0.55zM58.0 373.7h0.55v0.55h-0.55zM112.4 319.6h0.55v0.55h-0.55zM43.9 381.6h0.55v0.55h-0.55zM100.5 330.0h0.55v0.55h-0.55zM89.9 384.6h0.55v0.55h-0.55zM94.3 338.4h0.55v0.55h-0.55zM93.7 350.6h0.55v0.55h-0.55zM96.5 370.4h0.55v0.55h-0.55zM66.8 362.0h0.55v0.55h-0.55zM93.0 362.9h0.55v0.55h-0.55zM105.2 354.6h0.55v0.55h-0.55zM58.9 392.1h0.55v0.55h-0.55zM56.5 362.0h0.55v0.55h-0.55zM65.0 354.4h0.55v0.55h-0.55zM76.7 343.4h0.55v0.55h-0.55zM39.0 384.9h0.55v0.55h-0.55zM43.6 372.3h0.55v0.55h-0.55zM101.3 326.1h0.55v0.55h-0.55zM67.9 353.8h0.55v0.55h-0.55zM66.1 362.5h0.55v0.55h-0.55zM47.2 381.3h0.55v0.55h-0.55zM92.9 366.7h0.55v0.55h-0.55zM99.3 348.5h0.55v0.55h-0.55zM111.6 337.8h0.55v0.55h-0.55zM77.6 334.1h0.55v0.55h-0.55zM58.8 368.7h0.55v0.55h-0.55zM61.1 372.4h0.55v0.55h-0.55zM42.3 378.9h0.55v0.55h-0.55zM100.0 350.6h0.55v0.55h-0.55zM91.9 342.2h0.55v0.55h-0.55zM104.5 337.2h0.55v0.55h-0.55zM112.4 323.3h0.55v0.55h-0.55zM86.9 373.7h0.55v0.55h-0.55zM128.1 334.0h0.55v0.55h-0.55zM96.6 353.0h0.55v0.55h-0.55zM99.9 351.5h0.55v0.55h-0.55zM94.1 349.7h0.55v0.55h-0.55zM105.7 327.1h0.55v0.55h-0.55zM102.8 347.1h0.55v0.55h-0.55zM64.2 369.1h0.55v0.55h-0.55zM70.7 347.7h0.55v0.55h-0.55zM60.7 357.1h0.55v0.55h-0.55zM58.5 367.9h0.55v0.55h-0.55zM118.1 335.4h0.55v0.55h-0.55zM92.3 333.1h0.55v0.55h-0.55zM108.1 339.2h0.55v0.55h-0.55zM42.8 381.0h0.55v0.55h-0.55zM112.9 324.5h0.55v0.55h-0.55zM99.0 337.6h0.55v0.55h-0.55zM66.5 351.6h0.55v0.55h-0.55zM58.8 359.0h0.55v0.55h-0.55zM107.7 320.3h0.55v0.55h-0.55zM113.7 318.7h0.55v0.55h-0.55zM119.7 316.3h0.55v0.55h-0.55zM94.6 330.6h0.55v0.55h-0.55zM101.6 332.2h0.55v0.55h-0.55zM60.5 366.6h0.55v0.55h-0.55zM105.6 332.6h0.55v0.55h-0.55zM112.7 313.7h0.55v0.55h-0.55zM108.3 330.5h0.55v0.55h-0.55zM122.5 330.1h0.55v0.55h-0.55zM85.0 334.3h0.55v0.55h-0.55zM71.9 338.4h0.55v0.55h-0.55zM84.6 340.1h0.55v0.55h-0.55zM89.3 372.4h0.55v0.55h-0.55zM75.8 385.0h0.55v0.55h-0.55zM49.0 380.3h0.55v0.55h-0.55zM89.0 337.9h0.55v0.55h-0.55zM103.1 339.8h0.55v0.55h-0.55zM57.2 373.5h0.55v0.55h-0.55zM62.1 359.7h0.55v0.55h-0.55zM97.8 355.0h0.55v0.55h-0.55zM98.2 348.2h0.55v0.55h-0.55zM101.2 317.9h0.55v0.55h-0.55zM101.6 316.3h0.55v0.55h-0.55zM97.1 350.8h0.55v0.55h-0.55zM52.5 372.1h0.55v0.55h-0.55zM122.3 310.9h0.55v0.55h-0.55zM110.1 314.4h0.55v0.55h-0.55zM44.8 380.1h0.55v0.55h-0.55zM96.0 344.6h0.55v0.55h-0.55zM43.6 378.7h0.55v0.55h-0.55zM67.0 355.8h0.55v0.55h-0.55zM67.8 344.2h0.55v0.55h-0.55zM96.0 330.1h0.55v0.55h-0.55zM100.1 341.6h0.55v0.55h-0.55zM95.9 337.1h0.55v0.55h-0.55zM61.6 365.9h0.55v0.55h-0.55zM97.6 344.0h0.55v0.55h-0.55zM102.6 345.6h0.55v0.55h-0.55zM98.1 364.9h0.55v0.55h-0.55zM49.7 377.2h0.55v0.55h-0.55zM89.8 367.5h0.55v0.55h-0.55zM95.5 340.7h0.55v0.55h-0.55zM110.4 330.0h0.55v0.55h-0.55zM89.6 341.4h0.55v0.55h-0.55zM113.7 328.6h0.55v0.55h-0.55zM101.8 331.1h0.55v0.55h-0.55zM112.3 345.8h0.55v0.55h-0.55zM107.8 343.9h0.55v0.55h-0.55zM103.4 338.2h0.55v0.55h-0.55zM35.8 367.6h0.55v0.55h-0.55zM100.1 338.9h0.55v0.55h-0.55zM44.2 381.1h0.55v0.55h-0.55zM99.2 329.6h0.55v0.55h-0.55zM92.8 362.8h0.55v0.55h-0.55zM61.4 333.1h0.55v0.55h-0.55zM90.6 363.4h0.55v0.55h-0.55zM46.1 393.7h0.55v0.55h-0.55zM78.9 339.5h0.55v0.55h-0.55zM70.5 353.6h0.55v0.55h-0.55zM98.1 346.9h0.55v0.55h-0.55zM118.8 315.4h0.55v0.55h-0.55zM106.4 351.9h0.55v0.55h-0.55zM101.5 347.4h0.55v0.55h-0.55zM99.8 337.4h0.55v0.55h-0.55zM101.5 334.7h0.55v0.55h-0.55zM65.9 356.8h0.55v0.55h-0.55zM80.7 326.2h0.55v0.55h-0.55zM94.7 366.9h0.55v0.55h-0.55zM101.7 339.7h0.55v0.55h-0.55zM111.2 311.8h0.55v0.55h-0.55zM61.8 343.3h0.55v0.55h-0.55zM50.1 378.8h0.55v0.55h-0.55zM40.8 382.5h0.55v0.55h-0.55zM98.8 302.1h0.55v0.55h-0.55zM106.1 307.2h0.55v0.55h-0.55zM125.4 321.5h0.55v0.55h-0.55zM104.7 322.4h0.55v0.55h-0.55zM110.2 341.6h0.55v0.55h-0.55zM86.9 338.0h0.55v0.55h-0.55zM94.2 354.0h0.55v0.55h-0.55zM42.5 373.4h0.55v0.55h-0.55zM68.0 359.0h0.55v0.55h-0.55zM89.6 336.9h0.55v0.55h-0.55zM40.2 384.1h0.55v0.55h-0.55zM39.3 371.0h0.55v0.55h-0.55zM48.4 378.2h0.55v0.55h-0.55zM108.0 342.0h0.55v0.55h-0.55zM120.1 335.7h0.55v0.55h-0.55zM100.7 334.3h0.55v0.55h-0.55zM104.6 333.9h0.55v0.55h-0.55zM125.1 327.6h0.55v0.55h-0.55zM95.2 347.4h0.55v0.55h-0.55zM88.2 331.5h0.55v0.55h-0.55zM64.8 358.1h0.55v0.55h-0.55zM54.8 352.3h0.55v0.55h-0.55zM103.6 354.5h0.55v0.55h-0.55zM106.9 354.2h0.55v0.55h-0.55zM121.7 332.6h0.55v0.55h-0.55zM105.2 327.3h0.55v0.55h-0.55zM63.5 365.4h0.55v0.55h-0.55zM76.9 332.5h0.55v0.55h-0.55zM59.9 367.2h0.55v0.55h-0.55zM103.7 334.3h0.55v0.55h-0.55zM107.7 345.8h0.55v0.55h-0.55zM95.2 353.6h0.55v0.55h-0.55zM62.9 367.4h0.55v0.55h-0.55zM59.5 366.0h0.55v0.55h-0.55zM121.9 335.0h0.55v0.55h-0.55zM61.9 368.1h0.55v0.55h-0.55zM90.0 309.0h0.55v0.55h-0.55zM37.8 381.5h0.55v0.55h-0.55zM99.0 354.9h0.55v0.55h-0.55zM90.1 368.6h0.55v0.55h-0.55zM100.3 338.2h0.55v0.55h-0.55zM60.6 390.6h0.55v0.55h-0.55zM90.8 333.3h0.55v0.55h-0.55zM117.5 335.7h0.55v0.55h-0.55zM61.6 356.8h0.55v0.55h-0.55zM62.1 368.1h0.55v0.55h-0.55zM107.0 342.0h0.55v0.55h-0.55zM100.4 362.9h0.55v0.55h-0.55zM127.3 317.1h0.55v0.55h-0.55zM68.6 357.8h0.55v0.55h-0.55zM86.8 325.0h0.55v0.55h-0.55zM86.0 374.7h0.55v0.55h-0.55zM62.5 365.5h0.55v0.55h-0.55zM50.8 375.8h0.55v0.55h-0.55zM100.6 353.7h0.55v0.55h-0.55zM99.9 332.0h0.55v0.55h-0.55zM61.4 364.6h0.55v0.55h-0.55zM58.5 359.5h0.55v0.55h-0.55zM66.0 364.6h0.55v0.55h-0.55zM126.7 322.7h0.55v0.55h-0.55zM56.6 391.5h0.55v0.55h-0.55zM91.2 382.6h0.55v0.55h-0.55zM94.9 324.5h0.55v0.55h-0.55zM116.1 308.1h0.55v0.55h-0.55zM98.3 355.8h0.55v0.55h-0.55zM52.8 374.5h0.55v0.55h-0.55zM64.2 369.5h0.55v0.55h-0.55zM96.9 324.2h0.55v0.55h-0.55zM97.9 344.9h0.55v0.55h-0.55zM71.7 339.7h0.55v0.55h-0.55zM45.7 380.4h0.55v0.55h-0.55zM67.5 349.0h0.55v0.55h-0.55zM61.5 359.4h0.55v0.55h-0.55zM90.5 338.6h0.55v0.55h-0.55zM121.8 318.0h0.55v0.55h-0.55zM50.5 376.4h0.55v0.55h-0.55zM62.2 370.3h0.55v0.55h-0.55zM107.7 319.4h0.55v0.55h-0.55zM102.2 348.5h0.55v0.55h-0.55zM108.0 335.6h0.55v0.55h-0.55zM57.6 370.9h0.55v0.55h-0.55zM48.1 375.5h0.55v0.55h-0.55zM98.7 327.8h0.55v0.55h-0.55zM108.3 347.9h0.55v0.55h-0.55zM81.2 340.0h0.55v0.55h-0.55zM112.6 307.4h0.55v0.55h-0.55zM47.3 377.8h0.55v0.55h-0.55zM102.9 350.6h0.55v0.55h-0.55zM53.4 372.4h0.55v0.55h-0.55zM119.3 323.8h0.55v0.55h-0.55zM111.0 323.1h0.55v0.55h-0.55zM126.9 320.9h0.55v0.55h-0.55zM91.3 336.2h0.55v0.55h-0.55zM105.7 337.6h0.55v0.55h-0.55zM76.0 384.5h0.55v0.55h-0.55zM68.3 355.1h0.55v0.55h-0.55zM74.4 349.4h0.55v0.55h-0.55zM97.9 343.6h0.55v0.55h-0.55zM116.7 331.6h0.55v0.55h-0.55zM58.9 370.6h0.55v0.55h-0.55z" fill="#8a8a8a"/>
<path d="M34.1 387.8 L34.5 387.4 L34.9 387.1 L35.4 386.6 L35.8 386.4 L36.1 386.1 L36.6 385.8 L37.1 385.6 L37.6 385.4 L38.3 385.1 L38.9 385.0 L39.4 384.8 L40.1 384.7 L40.7 384.6 L41.4 384.5 L42.1 384.4 L42.6 384.2 L43.1 384.0 L43.6 383.8 L44.1 383.5 L44.6 383.2 L45.1 382.9 L45.6 382.6 L46.0 382.4 L46.4 382.1 L46.9 381.8 L47.4 381.5 L47.9 381.2 L48.4 380.9 L48.8 380.6 L49.1 380.4 L49.6 380.0 L50.1 379.7 L50.6 379.4 L51.0 379.1 L51.4 378.8 L51.9 378.5 L52.4 378.1 L52.7 377.9 L53.1 377.6 L53.6 377.2 L54.1 376.9 L54.5 376.6 L54.9 376.4 L55.4 376.0 L55.9 375.7 L56.4 375.4 L56.9 375.1 L57.3 374.9 L57.7 374.6 L58.1 374.4 L58.6 374.1 L59.1 373.8 L59.6 373.6 L60.1 373.3 L60.6 373.0 L61.1 372.7 L61.6 372.4 L62.1 372.1 L62.5 371.9 L62.9 371.6 L63.4 371.2 L63.6 370.9 L64.0 370.4 L64.3 369.9 L64.6 369.4 L64.8 368.9 L64.9 368.4 L65.1 367.8 L65.4 367.1 L65.5 366.6 L65.7 366.1 L65.9 365.5 L66.1 364.9 L66.3 364.4 L66.5 363.9 L66.7 363.4 L66.9 362.9 L67.1 362.3 L67.4 361.7 L67.6 361.2 L67.9 360.6 L68.1 360.1 L68.3 359.6 L68.6 359.1 L68.8 358.6 L69.1 358.1 L69.4 357.6 L69.6 357.2 L69.9 356.7 L70.1 356.3 L70.4 355.9 L70.7 355.4 L71.0 354.9 L71.3 354.4 L71.6 353.9 L71.9 353.5 L72.1 353.1 L72.5 352.6 L72.8 352.1 L73.1 351.7 L73.4 351.3 L73.7 350.9 L74.1 350.4 L74.4 350.1 L74.7 349.6 L75.1 349.1 L75.4 348.9 L75.8 348.4 L76.1 348.0 L76.5 347.6 L76.9 347.2 L77.2 346.9 L77.6 346.5 L78.0 346.1 L78.4 345.8 L78.8 345.4 L79.1 345.1 L79.6 344.7 L80.0 344.4 L80.4 344.1 L80.9 343.7 L81.4 343.4 L81.8 343.1 L82.2 342.9 L82.6 342.6 L83.1 342.4 L83.6 342.1 L84.2 341.9 L84.9 341.6 L85.4 341.5 L85.9 341.4 L86.6 341.2 L87.4 341.2 L88.1 341.2 L88.8 341.4 L89.4 341.6 L89.9 341.8 L90.4 342.1 L90.7 342.4 L91.1 342.8 L91.4 343.1 L91.7 343.6 L92.0 344.1 L92.2 344.6 L92.4 345.1 L92.6 345.7 L92.8 346.4 L92.9 346.9 L93.0 347.6 L93.1 348.4 L93.1 348.9 L93.2 349.6 L93.1 350.4 L93.1 350.9 L93.1 351.6 L93.0 352.4 L92.9 353.1 L92.8 353.6 L92.7 354.4 L92.6 354.9 L92.5 355.6 L92.4 356.1 L92.2 356.9 L92.1 357.4 L91.9 358.0 L91.7 358.6 L91.6 359.1 L91.4 359.7 L91.1 360.4 L91.0 360.9 L90.8 361.4 L90.6 361.9 L90.4 362.5 L90.1 363.1 L89.9 363.6 L89.7 364.1 L89.5 364.6 L89.3 365.1 L89.0 365.6 L88.8 366.1 L88.5 366.6 L88.3 367.1 L88.0 367.6 L87.8 368.1 L87.5 368.6 L87.2 369.1 L86.9 369.6 L86.6 370.1 L86.4 370.6 L86.1 371.0 L85.9 371.4 L85.6 371.9 L85.2 372.4 L84.9 372.9 L84.6 373.3 L84.4 373.7 L84.1 374.1 L83.7 374.6 L83.4 375.1 L83.1 375.4 L82.8 375.9 L82.4 376.4 L82.1 376.8 L81.8 377.1 L81.5 377.6 L81.1 378.0 L80.9 378.4 L80.4 378.9 L80.1 379.3 L79.8 379.6 L79.4 380.1 L79.1 380.4 L78.7 380.9 L78.4 381.2 L78.0 381.6 L77.6 382.0 L77.2 382.4 L76.9 382.7 L76.4 383.1 L76.1 383.4 L75.6 383.8 L75.2 384.1 L74.9 384.4 L74.4 384.8 L73.9 385.1 L73.6 385.4 L73.1 385.7 L72.6 386.0 L72.1 386.3 L71.6 386.6 L71.1 386.9 L70.7 387.1 L70.2 387.4 L69.7 387.6 L69.2 387.9 L68.6 388.1 L68.1 388.3 L67.6 388.6 L67.1 388.8 L66.6 388.9 L66.1 389.1 L65.4 389.4 L64.9 389.5 L64.4 389.7 L63.7 389.9 L63.1 390.0 L62.6 390.1 L61.9 390.3 L61.4 390.4 L60.6 390.5 L60.0 390.6 L59.4 390.7 L58.6 390.8 L57.9 390.8 L57.1 390.8 L56.4 390.8 L55.6 390.8 L54.9 390.7 L54.4 390.6 L53.6 390.5 L52.9 390.4 L52.4 390.3 L51.6 390.2 L50.9 390.2 L50.1 390.3 L49.6 390.4 L48.9 390.6 L48.4 390.7 L47.9 390.9 L47.2 391.1 L46.6 391.4 L46.1 391.6 L45.6 391.8 L45.1 392.0 L44.6 392.2 L44.1 392.4 L43.5 392.6 L43.0 392.9 L42.4 393.1 L41.9 393.4 L41.4 393.6 L40.9 393.8 L40.4 394.0 L39.9 394.2 L39.4 394.4 L38.7 394.6 L38.1 394.8" fill="none" stroke="#8e8e8e" stroke-width="0.6"/>
<path d="M34.1 388.7 L34.4 388.4 L34.8 387.9 L35.1 387.6 L35.6 387.1 L36.0 386.9 L36.4 386.6 L36.9 386.3 L37.4 386.1 L37.9 385.9 L38.6 385.6 L39.1 385.5 L39.9 385.4 L40.4 385.3 L41.1 385.3 L41.9 385.3 L42.6 385.3 L43.4 385.2 L43.9 385.0 L44.4 384.7 L44.9 384.5 L45.4 384.1 L45.8 383.9 L46.2 383.6 L46.6 383.4 L47.1 383.0 L47.6 382.7 L48.1 382.4 L48.5 382.1 L48.9 381.9 L49.4 381.6 L49.9 381.2 L50.4 380.9 L50.7 380.6 L51.1 380.3 L51.6 380.0 L52.1 379.6 L52.4 379.4 L52.9 379.0 L53.4 378.7 L53.8 378.4 L54.1 378.1 L54.6 377.8 L55.1 377.4 L55.6 377.1 L56.0 376.9 L56.4 376.6 L56.9 376.3 L57.4 376.0 L57.9 375.7 L58.4 375.4 L58.9 375.1 L59.3 374.9 L59.8 374.6 L60.3 374.4 L60.8 374.1 L61.3 373.9 L61.8 373.6 L62.3 373.4 L62.8 373.1 L63.3 372.9 L63.7 372.6 L64.1 372.4 L64.6 372.0 L65.1 371.6 L65.4 371.4 L65.8 370.9 L66.1 370.4 L66.4 370.0 L66.6 369.4 L66.8 368.9 L66.9 368.4 L67.1 367.8 L67.3 367.1 L67.5 366.6 L67.6 366.1 L67.9 365.4 L68.0 364.9 L68.2 364.4 L68.4 363.9 L68.6 363.3 L68.9 362.7 L69.1 362.1 L69.3 361.6 L69.6 361.1 L69.8 360.6 L70.0 360.1 L70.3 359.6 L70.6 359.1 L70.8 358.6 L71.1 358.1 L71.4 357.6 L71.6 357.2 L71.9 356.8 L72.1 356.4 L72.4 355.9 L72.8 355.4 L73.1 354.9 L73.4 354.5 L73.6 354.1 L74.0 353.6 L74.3 353.1 L74.6 352.7 L74.9 352.4 L75.3 351.9 L75.6 351.5 L75.9 351.1 L76.4 350.6 L76.6 350.4 L77.1 349.9 L77.4 349.6 L77.8 349.1 L78.1 348.8 L78.6 348.4 L78.9 348.1 L79.4 347.8 L79.9 347.4 L80.2 347.1 L80.6 346.8 L81.1 346.5 L81.6 346.2 L82.1 345.9 L82.6 345.6 L83.1 345.4 L83.6 345.2 L84.1 345.1 L84.9 344.9 L85.4 344.8 L86.1 344.8 L86.8 344.9 L87.4 345.0 L87.9 345.2 L88.4 345.6 L88.8 345.9 L89.1 346.3 L89.4 346.6 L89.7 347.1 L90.0 347.6 L90.2 348.1 L90.4 348.8 L90.5 349.4 L90.6 350.1 L90.7 350.6 L90.7 351.4 L90.7 352.1 L90.7 352.9 L90.7 353.6 L90.6 354.1 L90.5 354.9 L90.4 355.6 L90.3 356.1 L90.2 356.9 L90.1 357.4 L89.9 358.1 L89.7 358.6 L89.6 359.1 L89.4 359.8 L89.2 360.4 L89.0 360.9 L88.9 361.4 L88.6 362.0 L88.4 362.6 L88.2 363.1 L88.0 363.6 L87.8 364.1 L87.5 364.6 L87.3 365.1 L87.1 365.6 L86.8 366.1 L86.6 366.6 L86.3 367.1 L86.0 367.6 L85.8 368.1 L85.5 368.6 L85.2 369.1 L84.9 369.6 L84.6 370.0 L84.4 370.4 L84.1 370.9 L83.8 371.4 L83.4 371.9 L83.1 372.3 L82.9 372.7 L82.5 373.1 L82.2 373.6 L81.9 374.0 L81.6 374.4 L81.2 374.9 L80.9 375.3 L80.6 375.7 L80.3 376.1 L79.9 376.6 L79.6 376.9 L79.3 377.4 L78.9 377.9 L78.6 378.2 L78.3 378.6 L77.9 379.1 L77.6 379.4 L77.3 379.9 L76.9 380.3 L76.6 380.6 L76.1 381.1 L75.9 381.4 L75.4 381.9 L75.1 382.1 L74.6 382.6 L74.3 382.9 L73.9 383.3 L73.4 383.6 L73.1 383.9 L72.6 384.3 L72.1 384.6 L71.8 384.9 L71.4 385.1 L70.9 385.5 L70.4 385.8 L69.9 386.1 L69.4 386.3 L68.9 386.6 L68.4 386.9 L67.9 387.1 L67.4 387.3 L66.9 387.6 L66.4 387.8 L65.9 388.0 L65.4 388.1 L64.7 388.4 L64.1 388.6 L63.6 388.7 L63.0 388.9 L62.4 389.0 L61.9 389.1 L61.1 389.3 L60.5 389.4 L59.9 389.5 L59.1 389.5 L58.4 389.6 L57.6 389.6 L56.9 389.5 L56.1 389.5 L55.4 389.4 L54.9 389.3 L54.1 389.1 L53.6 389.0 L52.9 388.9 L52.4 388.8 L51.6 388.8 L50.9 388.8 L50.4 388.9 L49.6 389.0 L49.1 389.2 L48.4 389.4 L47.9 389.6 L47.4 389.7 L46.9 389.9 L46.3 390.1 L45.6 390.4 L45.1 390.6 L44.6 390.8 L44.1 391.0 L43.6 391.3 L43.1 391.6 L42.6 391.9 L42.2 392.1 L41.8 392.4 L41.3 392.6 L40.9 392.9 L40.4 393.1 L39.8 393.4 L39.2 393.6 L38.6 393.8 L38.1 393.9 L37.4 394.1 L36.6 394.1 L35.9 394.1 L35.1 393.9 L34.6 393.7 L34.1 393.4" fill="none" stroke="#868686" stroke-width="0.6"/>
<path d="M34.1 389.8 L34.4 389.3 L34.6 388.8 L35.0 388.4 L35.4 387.9 L35.7 387.6 L36.1 387.3 L36.6 386.9 L37.1 386.6 L37.6 386.4 L38.1 386.2 L38.6 386.1 L39.4 385.9 L39.9 385.9 L40.6 385.9 L41.1 385.9 L41.9 386.0 L42.4 386.2 L43.1 386.3 L43.6 386.4 L44.1 386.3 L44.7 386.1 L45.1 385.9 L45.6 385.5 L46.1 385.2 L46.5 384.9 L46.9 384.6 L47.4 384.3 L47.9 383.9 L48.3 383.6 L48.6 383.4 L49.1 383.0 L49.6 382.7 L50.0 382.4 L50.4 382.1 L50.9 381.7 L51.3 381.4 L51.6 381.1 L52.1 380.7 L52.6 380.4 L52.9 380.1 L53.4 379.8 L53.9 379.4 L54.2 379.1 L54.6 378.8 L55.1 378.4 L55.6 378.1 L55.9 377.9 L56.4 377.6 L56.9 377.2 L57.4 376.9 L57.8 376.6 L58.2 376.4 L58.7 376.1 L59.1 375.9 L59.6 375.6 L60.1 375.4 L60.6 375.1 L61.1 374.9 L61.6 374.6 L62.2 374.4 L62.7 374.1 L63.3 373.9 L63.9 373.6 L64.4 373.4 L64.9 373.2 L65.4 372.9 L65.8 372.6 L66.2 372.4 L66.6 372.1 L67.1 371.6 L67.4 371.4 L67.7 370.9 L68.0 370.4 L68.2 369.9 L68.4 369.3 L68.6 368.6 L68.7 368.1 L68.9 367.5 L69.0 366.9 L69.2 366.4 L69.4 365.7 L69.6 365.1 L69.7 364.6 L69.9 364.1 L70.1 363.6 L70.4 363.0 L70.6 362.4 L70.8 361.9 L71.1 361.4 L71.3 360.9 L71.5 360.4 L71.8 359.9 L72.1 359.4 L72.3 358.9 L72.6 358.4 L72.9 357.9 L73.1 357.5 L73.4 357.1 L73.7 356.6 L74.0 356.1 L74.4 355.6 L74.6 355.3 L74.9 354.9 L75.3 354.4 L75.6 354.0 L75.9 353.6 L76.3 353.1 L76.6 352.8 L77.0 352.4 L77.4 352.0 L77.7 351.6 L78.1 351.2 L78.5 350.9 L78.9 350.5 L79.4 350.1 L79.7 349.9 L80.1 349.6 L80.6 349.2 L81.1 348.9 L81.6 348.6 L82.1 348.4 L82.6 348.2 L83.1 348.0 L83.7 347.9 L84.4 347.8 L85.1 347.8 L85.6 347.9 L86.3 348.1 L86.7 348.4 L87.1 348.7 L87.5 349.1 L87.8 349.6 L88.1 350.1 L88.3 350.6 L88.4 351.1 L88.6 351.9 L88.7 352.4 L88.7 353.1 L88.7 353.9 L88.7 354.6 L88.6 355.4 L88.6 355.9 L88.5 356.6 L88.4 357.3 L88.3 357.9 L88.1 358.4 L88.0 359.1 L87.8 359.6 L87.6 360.3 L87.4 360.9 L87.3 361.4 L87.1 361.9 L86.9 362.4 L86.6 363.0 L86.4 363.6 L86.2 364.1 L85.9 364.6 L85.7 365.1 L85.5 365.6 L85.2 366.1 L84.9 366.6 L84.7 367.1 L84.4 367.6 L84.1 368.1 L83.9 368.5 L83.6 368.9 L83.3 369.4 L83.0 369.9 L82.6 370.4 L82.4 370.8 L82.1 371.1 L81.7 371.6 L81.4 372.1 L81.1 372.4 L80.8 372.9 L80.4 373.4 L80.1 373.7 L79.8 374.1 L79.4 374.6 L79.1 375.0 L78.8 375.4 L78.4 375.9 L78.1 376.3 L77.9 376.6 L77.5 377.1 L77.2 377.6 L76.9 378.0 L76.6 378.4 L76.3 378.9 L75.9 379.4 L75.6 379.7 L75.3 380.1 L74.9 380.6 L74.6 380.9 L74.2 381.4 L73.9 381.7 L73.5 382.1 L73.1 382.4 L72.6 382.9 L72.3 383.1 L71.9 383.5 L71.4 383.9 L71.1 384.1 L70.6 384.4 L70.1 384.8 L69.6 385.1 L69.2 385.4 L68.7 385.6 L68.3 385.9 L67.8 386.1 L67.3 386.4 L66.8 386.6 L66.2 386.9 L65.6 387.1 L65.1 387.3 L64.6 387.5 L64.1 387.6 L63.4 387.9 L62.9 388.0 L62.4 388.1 L61.6 388.3 L61.1 388.4 L60.4 388.5 L59.6 388.6 L58.9 388.6 L58.1 388.6 L57.4 388.6 L56.6 388.5 L56.0 388.4 L55.4 388.2 L54.9 388.1 L54.1 387.9 L53.6 387.8 L52.9 387.7 L52.4 387.6 L51.6 387.6 L50.9 387.6 L50.4 387.6 L49.6 387.8 L49.1 387.9 L48.4 388.0 L47.9 388.2 L47.2 388.4 L46.6 388.5 L46.1 388.7 L45.5 388.9 L44.9 389.1 L44.4 389.4 L44.1 389.6 L43.6 390.0 L43.2 390.4 L42.9 390.7 L42.4 391.1 L42.1 391.4 L41.6 391.7 L41.1 392.1 L40.6 392.4 L40.2 392.6 L39.6 392.9 L39.1 393.1 L38.6 393.2 L38.1 393.4 L37.4 393.5 L36.6 393.5 L35.9 393.4 L35.4 393.2 L34.9 392.9 L34.5 392.6 L34.2 392.1" fill="none" stroke="#7e7e7e" stroke-width="0.6"/>
<path d="M60.9 387.6 L60.1 387.7 L59.4 387.8 L58.6 387.8 L57.9 387.7 L57.2 387.6 L56.6 387.5 L56.0 387.4 L55.4 387.2 L54.9 387.0 L54.4 386.9 L53.6 386.6 L53.1 386.5 L52.6 386.4 L51.9 386.2 L51.2 386.1 L50.6 386.0 L49.9 385.9 L49.4 385.6 L49.4 385.1 L49.6 384.6 L49.9 384.3 L50.2 383.9 L50.6 383.5 L50.9 383.1 L51.4 382.7 L51.7 382.4 L52.1 382.0 L52.5 381.6 L52.9 381.3 L53.3 380.9 L53.6 380.6 L54.1 380.2 L54.5 379.9 L54.9 379.6 L55.4 379.2 L55.8 378.9 L56.1 378.6 L56.6 378.2 L57.1 377.9 L57.5 377.6 L57.9 377.4 L58.4 377.1 L58.9 376.8 L59.4 376.5 L59.9 376.2 L60.4 376.0 L60.9 375.7 L61.4 375.5 L61.9 375.3 L62.4 375.1 L62.9 374.9 L63.5 374.6 L64.1 374.4 L64.6 374.2 L65.1 374.0 L65.6 373.8 L66.1 373.6 L66.6 373.4 L67.1 373.1 L67.6 372.9 L68.1 372.5 L68.6 372.1 L68.9 371.9 L69.3 371.4 L69.6 370.9 L69.8 370.4 L69.9 369.9 L70.1 369.1 L70.2 368.6 L70.3 367.9 L70.5 367.4 L70.6 366.7 L70.8 366.1 L70.9 365.6 L71.1 364.9 L71.3 364.4 L71.5 363.9 L71.7 363.4 L71.9 362.9 L72.1 362.3 L72.4 361.7 L72.6 361.2 L72.9 360.7 L73.1 360.2 L73.4 359.8 L73.6 359.3 L73.9 358.9 L74.2 358.4 L74.5 357.9 L74.8 357.4 L75.1 357.0 L75.4 356.6 L75.7 356.1 L76.1 355.6 L76.4 355.3 L76.7 354.9 L77.1 354.4 L77.4 354.1 L77.9 353.7 L78.2 353.4 L78.6 353.0 L79.0 352.6 L79.4 352.3 L79.9 352.0 L80.4 351.6 L80.8 351.4 L81.3 351.1 L81.9 350.9 L82.4 350.7 L82.9 350.6 L83.6 350.5 L84.3 350.6 L84.9 350.8 L85.4 351.1 L85.6 351.4 L86.0 351.9 L86.3 352.4 L86.5 352.9 L86.6 353.4 L86.8 354.1 L86.9 354.9 L86.9 355.6 L86.8 356.4 L86.8 357.1 L86.7 357.9 L86.6 358.4 L86.4 359.1 L86.3 359.6 L86.1 360.2 L85.9 360.9 L85.8 361.4 L85.6 361.9 L85.4 362.5 L85.1 363.1 L84.9 363.6 L84.7 364.1 L84.5 364.6 L84.2 365.1 L84.0 365.6 L83.7 366.1 L83.4 366.6 L83.1 367.1 L82.9 367.5 L82.6 367.9 L82.3 368.4 L82.0 368.9 L81.7 369.4 L81.4 369.8 L81.1 370.1 L80.7 370.6 L80.4 371.1 L80.1 371.4 L79.7 371.9 L79.4 372.2 L79.0 372.6 L78.6 373.1 L78.4 373.4 L78.0 373.9 L77.6 374.3 L77.4 374.6 L77.0 375.1 L76.7 375.6 L76.4 376.1 L76.1 376.5 L75.9 376.9 L75.6 377.4 L75.3 377.9 L75.0 378.4 L74.7 378.9 L74.4 379.4 L74.1 379.8 L73.9 380.1 L73.5 380.6 L73.1 381.0 L72.8 381.4 L72.4 381.8 L72.1 382.1 L71.6 382.6 L71.3 382.9 L70.9 383.2 L70.4 383.6 L70.0 383.9 L69.6 384.1 L69.1 384.5 L68.6 384.8 L68.1 385.1 L67.6 385.4 L67.1 385.6 L66.6 385.9 L66.1 386.1 L65.6 386.3 L65.1 386.5 L64.6 386.7 L64.1 386.9 L63.4 387.1 L62.9 387.2 L62.3 387.4 L61.6 387.5 L60.9 387.6 M38.1 392.9 L37.4 393.0 L36.6 393.0 L36.0 392.9 L35.5 392.6 L35.1 392.4 L34.7 391.9 L34.5 391.4 L34.4 390.6 L34.6 389.9 L34.8 389.4 L35.1 388.9 L35.4 388.5 L35.7 388.1 L36.1 387.7 L36.6 387.4 L37.0 387.1 L37.5 386.9 L38.1 386.6 L38.6 386.5 L39.1 386.4 L39.9 386.3 L40.6 386.3 L41.1 386.4 L41.7 386.6 L42.2 386.9 L42.6 387.2 L43.0 387.6 L43.2 388.1 L43.1 388.9 L42.9 389.4 L42.6 389.9 L42.4 390.2 L42.1 390.6 L41.6 391.1 L41.3 391.4 L40.9 391.7 L40.4 392.0 L39.9 392.3 L39.4 392.5 L38.9 392.7 L38.3 392.9" fill="none" stroke="#767676" stroke-width="0.6"/>
<path d="M61.4 386.9 L60.6 387.0 L59.9 387.0 L59.1 387.0 L58.4 387.0 L57.6 386.9 L57.1 386.8 L56.6 386.6 L55.9 386.4 L55.4 386.2 L54.9 386.0 L54.4 385.7 L53.9 385.5 L53.4 385.2 L52.9 384.9 L52.6 384.6 L52.4 383.9 L52.6 383.3 L52.9 382.8 L53.2 382.4 L53.6 381.9 L53.9 381.5 L54.3 381.1 L54.6 380.8 L55.0 380.4 L55.4 380.1 L55.9 379.6 L56.2 379.4 L56.6 379.0 L57.1 378.7 L57.5 378.4 L57.9 378.1 L58.4 377.8 L58.9 377.5 L59.4 377.2 L59.9 376.9 L60.4 376.7 L60.9 376.4 L61.4 376.2 L61.9 375.9 L62.4 375.7 L62.9 375.5 L63.4 375.3 L63.9 375.1 L64.6 374.9 L65.1 374.7 L65.6 374.6 L66.2 374.4 L66.9 374.2 L67.4 374.0 L67.9 373.9 L68.5 373.6 L69.1 373.4 L69.6 373.2 L70.1 372.9 L70.5 372.6 L70.9 372.2 L71.1 371.9 L71.4 371.4 L71.6 370.6 L71.7 370.1 L71.7 369.4 L71.8 368.6 L71.9 368.1 L72.0 367.4 L72.1 366.6 L72.2 366.1 L72.4 365.6 L72.6 364.9 L72.7 364.4 L72.9 363.9 L73.1 363.3 L73.4 362.7 L73.6 362.1 L73.8 361.6 L74.1 361.1 L74.4 360.6 L74.6 360.1 L74.9 359.7 L75.1 359.3 L75.4 358.9 L75.7 358.4 L76.1 357.9 L76.4 357.5 L76.7 357.1 L77.1 356.6 L77.4 356.3 L77.8 355.9 L78.1 355.5 L78.6 355.1 L78.9 354.8 L79.4 354.5 L79.8 354.1 L80.3 353.9 L80.7 353.6 L81.3 353.4 L81.9 353.2 L82.6 353.2 L83.4 353.3 L83.9 353.6 L84.2 353.9 L84.5 354.4 L84.8 354.9 L84.9 355.4 L85.1 356.1 L85.1 356.9 L85.1 357.6 L85.0 358.4 L84.9 359.1 L84.8 359.6 L84.6 360.4 L84.5 360.9 L84.3 361.4 L84.1 362.0 L83.9 362.6 L83.7 363.1 L83.5 363.6 L83.3 364.1 L83.0 364.6 L82.8 365.1 L82.5 365.6 L82.2 366.1 L81.9 366.6 L81.6 367.1 L81.4 367.5 L81.1 367.9 L80.7 368.4 L80.4 368.8 L80.1 369.2 L79.7 369.6 L79.4 370.0 L79.1 370.4 L78.6 370.8 L78.3 371.1 L77.9 371.6 L77.6 371.9 L77.1 372.3 L76.8 372.6 L76.4 373.0 L76.0 373.4 L75.6 373.9 L75.4 374.2 L75.1 374.7 L74.9 375.2 L74.6 375.9 L74.5 376.4 L74.3 376.9 L74.1 377.4 L73.9 378.0 L73.6 378.5 L73.4 379.0 L73.1 379.4 L72.9 379.9 L72.5 380.4 L72.1 380.9 L71.9 381.2 L71.5 381.6 L71.1 382.0 L70.7 382.4 L70.4 382.7 L69.9 383.1 L69.5 383.4 L69.1 383.7 L68.6 384.0 L68.1 384.3 L67.6 384.6 L67.2 384.9 L66.7 385.1 L66.2 385.4 L65.7 385.6 L65.1 385.9 L64.6 386.0 L64.1 386.2 L63.6 386.4 L62.9 386.6 L62.4 386.7 L61.6 386.9 M37.4 392.6 L36.9 392.6 L36.1 392.4 L35.6 392.2 L35.3 391.9 L35.0 391.4 L34.9 390.9 L34.9 390.4 L35.1 389.6 L35.3 389.1 L35.6 388.7 L35.9 388.4 L36.4 387.9 L36.8 387.6 L37.2 387.4 L37.6 387.1 L38.3 386.9 L38.9 386.7 L39.6 386.6 L40.4 386.7 L41.1 386.9 L41.6 387.1 L41.9 387.4 L42.3 387.9 L42.4 388.4 L42.4 389.0 L42.2 389.6 L41.9 390.1 L41.6 390.4 L41.2 390.9 L40.9 391.2 L40.4 391.6 L39.9 391.9 L39.4 392.1 L38.9 392.4 L38.4 392.5 L37.6 392.6" fill="none" stroke="#6e6e6e" stroke-width="0.6"/>
<path d="M76.1 370.0 L75.4 370.0 L74.9 369.9 L74.4 369.4 L74.1 368.9 L74.0 368.4 L73.9 367.6 L73.9 366.9 L74.0 366.1 L74.1 365.4 L74.2 364.9 L74.4 364.4 L74.6 363.6 L74.8 363.1 L75.0 362.6 L75.3 362.1 L75.5 361.6 L75.8 361.1 L76.1 360.6 L76.4 360.1 L76.6 359.8 L76.9 359.4 L77.3 358.9 L77.6 358.5 L78.0 358.1 L78.4 357.7 L78.8 357.4 L79.1 357.1 L79.6 356.7 L80.1 356.5 L80.6 356.3 L81.4 356.2 L82.0 356.4 L82.4 356.7 L82.7 357.1 L82.9 357.6 L83.0 358.4 L83.1 359.1 L83.0 359.9 L82.9 360.6 L82.8 361.1 L82.6 361.6 L82.4 362.4 L82.2 362.9 L82.0 363.4 L81.7 363.9 L81.5 364.4 L81.2 364.9 L80.9 365.4 L80.6 365.9 L80.4 366.2 L80.1 366.6 L79.7 367.1 L79.4 367.5 L79.1 367.9 L78.6 368.3 L78.3 368.6 L77.9 369.0 L77.4 369.3 L76.9 369.6 L76.4 369.9 M61.9 386.2 L61.1 386.3 L60.4 386.3 L59.6 386.3 L58.9 386.3 L58.1 386.2 L57.6 386.0 L57.1 385.9 L56.5 385.6 L56.0 385.4 L55.6 385.1 L55.1 384.8 L54.7 384.4 L54.4 383.9 L54.3 383.4 L54.4 382.8 L54.6 382.2 L54.9 381.8 L55.2 381.4 L55.6 380.9 L55.9 380.6 L56.4 380.1 L56.6 379.9 L57.1 379.5 L57.5 379.1 L57.9 378.9 L58.4 378.5 L58.9 378.2 L59.4 377.9 L59.8 377.6 L60.2 377.4 L60.7 377.1 L61.2 376.9 L61.8 376.6 L62.3 376.4 L62.9 376.2 L63.4 376.0 L63.9 375.8 L64.4 375.6 L65.1 375.4 L65.6 375.3 L66.3 375.1 L66.9 375.0 L67.5 374.9 L68.1 374.8 L68.9 374.7 L69.4 374.6 L70.1 374.6 L70.9 374.6 L71.4 374.7 L71.9 374.9 L72.3 375.4 L72.6 375.9 L72.7 376.4 L72.7 377.1 L72.6 377.6 L72.4 378.4 L72.3 378.9 L72.0 379.4 L71.8 379.9 L71.4 380.4 L71.1 380.8 L70.9 381.1 L70.4 381.6 L70.1 381.9 L69.7 382.4 L69.4 382.6 L68.9 383.0 L68.4 383.4 L68.1 383.6 L67.6 383.9 L67.1 384.2 L66.6 384.5 L66.1 384.8 L65.6 385.0 L65.1 385.2 L64.6 385.4 L64.0 385.6 L63.4 385.8 L62.9 386.0 L62.1 386.1 M38.4 392.2 L37.6 392.3 L36.9 392.2 L36.4 392.1 L35.9 391.8 L35.5 391.4 L35.3 390.9 L35.3 390.1 L35.5 389.6 L35.7 389.1 L36.1 388.6 L36.4 388.3 L36.9 387.9 L37.3 387.6 L37.8 387.4 L38.4 387.2 L38.9 387.0 L39.6 387.0 L40.4 387.1 L40.9 387.3 L41.4 387.6 L41.6 387.9 L41.8 388.6 L41.7 389.4 L41.5 389.9 L41.2 390.4 L40.9 390.7 L40.4 391.1 L40.1 391.4 L39.6 391.7 L39.1 391.9 L38.5 392.1" fill="none" stroke="#666666" stroke-width="0.6"/>
<path d="M62.4 385.4 L61.6 385.5 L60.9 385.6 L60.1 385.6 L59.4 385.5 L58.6 385.4 L58.1 385.3 L57.6 385.1 L57.1 384.8 L56.6 384.5 L56.3 384.1 L56.0 383.6 L55.8 383.1 L55.9 382.4 L56.1 381.9 L56.4 381.4 L56.6 381.0 L57.0 380.6 L57.4 380.2 L57.7 379.9 L58.1 379.5 L58.6 379.1 L59.0 378.9 L59.4 378.6 L59.9 378.3 L60.4 378.0 L60.9 377.7 L61.4 377.5 L61.9 377.2 L62.4 377.0 L62.9 376.8 L63.4 376.6 L64.1 376.4 L64.6 376.3 L65.2 376.1 L65.9 376.0 L66.5 375.9 L67.1 375.8 L67.9 375.8 L68.6 375.8 L69.3 375.9 L69.9 376.1 L70.4 376.3 L70.7 376.6 L71.0 377.1 L71.1 377.6 L71.1 378.4 L71.0 378.9 L70.9 379.4 L70.6 379.9 L70.4 380.4 L70.0 380.9 L69.6 381.3 L69.4 381.6 L68.9 382.1 L68.6 382.4 L68.1 382.7 L67.6 383.1 L67.3 383.4 L66.9 383.6 L66.4 383.9 L65.9 384.2 L65.4 384.4 L64.9 384.6 L64.3 384.9 L63.6 385.1 L63.1 385.2 L62.5 385.4 M37.9 391.9 L37.1 391.9 L36.6 391.7 L36.1 391.4 L35.9 391.1 L35.7 390.4 L35.8 389.6 L36.1 389.1 L36.4 388.8 L36.8 388.4 L37.1 388.1 L37.6 387.8 L38.1 387.6 L38.9 387.4 L39.4 387.3 L39.9 387.4 L40.6 387.6 L40.9 387.9 L41.3 388.4 L41.3 389.1 L41.1 389.7 L40.9 390.1 L40.5 390.6 L40.1 390.9 L39.6 391.3 L39.1 391.6 L38.6 391.7 L38.1 391.9" fill="none" stroke="#5e5e5e" stroke-width="0.6"/>
<path d="M62.6 384.7 L61.9 384.8 L61.1 384.9 L60.4 384.8 L59.6 384.7 L59.1 384.6 L58.5 384.4 L58.1 384.1 L57.6 383.7 L57.4 383.4 L57.2 382.6 L57.3 381.9 L57.5 381.4 L57.9 380.9 L58.1 380.6 L58.6 380.1 L58.9 379.8 L59.4 379.4 L59.8 379.1 L60.1 378.9 L60.6 378.6 L61.1 378.3 L61.6 378.0 L62.1 377.8 L62.6 377.6 L63.2 377.4 L63.9 377.2 L64.4 377.0 L65.0 376.9 L65.6 376.8 L66.4 376.7 L67.1 376.7 L67.9 376.8 L68.4 376.9 L68.9 377.1 L69.4 377.5 L69.6 377.9 L69.8 378.6 L69.7 379.4 L69.5 379.9 L69.3 380.4 L68.9 380.9 L68.6 381.3 L68.3 381.6 L67.9 382.0 L67.5 382.4 L67.1 382.6 L66.6 383.0 L66.1 383.3 L65.6 383.6 L65.1 383.8 L64.6 384.1 L64.1 384.2 L63.6 384.4 L62.9 384.6 M38.6 391.4 L37.9 391.5 L37.1 391.5 L36.6 391.2 L36.3 390.9 L36.1 390.1 L36.4 389.4 L36.6 389.0 L37.0 388.6 L37.4 388.3 L37.9 388.0 L38.4 387.8 L39.1 387.7 L39.9 387.8 L40.4 388.0 L40.7 388.4 L40.8 389.1 L40.6 389.8 L40.4 390.2 L40.0 390.6 L39.6 390.9 L39.1 391.2 L38.6 391.4" fill="none" stroke="#565656" stroke-width="0.6"/>
<path d="M62.6 383.9 L61.9 384.0 L61.1 384.0 L60.4 383.9 L59.9 383.7 L59.4 383.5 L59.0 383.1 L58.7 382.6 L58.7 381.9 L58.9 381.3 L59.1 380.9 L59.6 380.4 L59.9 380.1 L60.4 379.7 L60.8 379.4 L61.1 379.1 L61.6 378.8 L62.1 378.6 L62.6 378.4 L63.3 378.1 L63.9 377.9 L64.4 377.8 L65.1 377.7 L65.9 377.6 L66.6 377.7 L67.3 377.9 L67.8 378.1 L68.1 378.5 L68.3 379.1 L68.3 379.9 L68.0 380.4 L67.7 380.9 L67.4 381.3 L67.1 381.6 L66.6 382.0 L66.2 382.4 L65.8 382.6 L65.4 382.9 L64.9 383.1 L64.3 383.4 L63.7 383.6 L63.1 383.8 L62.6 383.9 M37.9 391.1 L37.4 391.1 L36.9 390.8 L36.6 390.2 L36.6 389.9 L36.9 389.3 L37.2 388.9 L37.6 388.6 L38.1 388.3 L38.8 388.1 L39.3 388.1 L39.9 388.3 L40.2 388.6 L40.3 389.4 L40.1 389.9 L39.7 390.4 L39.4 390.6 L38.9 390.9 L38.1 391.1" fill="none" stroke="#4e4e4e" stroke-width="0.6"/>
<path d="M63.4 382.7 L62.6 382.8 L61.9 382.9 L61.1 382.7 L60.7 382.4 L60.4 381.9 L60.6 381.1 L60.9 380.7 L61.2 380.4 L61.6 380.0 L62.1 379.7 L62.6 379.4 L63.1 379.2 L63.6 379.0 L64.4 378.9 L64.9 378.8 L65.4 378.9 L66.1 379.1 L66.4 379.4 L66.5 380.1 L66.3 380.6 L66.0 381.1 L65.6 381.5 L65.1 381.9 L64.7 382.1 L64.3 382.4 L63.6 382.6 M38.9 390.4 L38.1 390.6 L37.4 390.4 L37.3 389.9 L37.5 389.4 L37.9 389.0 L38.4 388.7 L39.1 388.7 L39.6 389.1 L39.6 389.5 L39.4 390.0 L38.9 390.4" fill="none" stroke="#464646" stroke-width="0.6"/>
<path d="M74.8 500.7h0.55v0.55h-0.55zM68.1 493.2h0.55v0.55h-0.55zM99.6 490.1h0.55v0.55h-0.55zM79.9 500.4h0.55v0.55h-0.55zM97.0 486.4h0.55v0.55h-0.55zM85.4 495.9h0.55v0.55h-0.55zM45.7 505.7h0.55v0.55h-0.55zM89.4 491.8h0.55v0.55h-0.55zM92.3 477.7h0.55v0.55h-0.55zM103.0 475.7h0.55v0.55h-0.55zM79.4 498.8h0.55v0.55h-0.55zM109.0 476.0h0.55v0.55h-0.55zM85.3 497.8h0.55v0.55h-0.55zM110.3 481.1h0.55v0.55h-0.55zM84.2 491.2h0.55v0.55h-0.55zM71.3 491.0h0.55v0.55h-0.55zM75.8 488.2h0.55v0.55h-0.55zM61.2 498.9h0.55v0.55h-0.55zM109.5 472.1h0.55v0.55h-0.55zM49.2 511.9h0.55v0.55h-0.55zM86.6 503.9h0.55v0.55h-0.55zM81.6 499.2h0.55v0.55h-0.55zM56.1 497.9h0.55v0.55h-0.55zM73.5 498.1h0.55v0.55h-0.55zM108.8 476.1h0.55v0.55h-0.55zM80.3 481.5h0.55v0.55h-0.55zM97.7 483.6h0.55v0.55h-0.55zM48.9 509.0h0.55v0.55h-0.55zM83.2 501.2h0.55v0.55h-0.55zM64.5 508.1h0.55v0.55h-0.55zM83.4 499.2h0.55v0.55h-0.55zM105.0 481.8h0.55v0.55h-0.55zM49.3 509.2h0.55v0.55h-0.55zM57.9 499.8h0.55v0.55h-0.55zM54.2 508.3h0.55v0.55h-0.55zM75.3 500.4h0.55v0.55h-0.55zM69.3 489.1h0.55v0.55h-0.55zM74.6 504.4h0.55v0.55h-0.55zM63.7 508.9h0.55v0.55h-0.55zM91.1 493.2h0.55v0.55h-0.55zM82.3 495.9h0.55v0.55h-0.55zM59.4 499.3h0.55v0.55h-0.55zM83.2 483.0h0.55v0.55h-0.55zM95.6 491.2h0.55v0.55h-0.55zM103.1 475.3h0.55v0.55h-0.55zM63.9 509.5h0.55v0.55h-0.55zM82.2 507.0h0.55v0.55h-0.55zM81.0 499.2h0.55v0.55h-0.55zM74.5 497.4h0.55v0.55h-0.55zM64.0 496.8h0.55v0.55h-0.55zM71.3 503.0h0.55v0.55h-0.55zM57.5 510.5h0.55v0.55h-0.55zM88.4 480.5h0.55v0.55h-0.55zM56.3 500.7h0.55v0.55h-0.55zM101.5 475.0h0.55v0.55h-0.55zM68.9 492.8h0.55v0.55h-0.55zM72.1 487.9h0.55v0.55h-0.55zM86.9 496.8h0.55v0.55h-0.55zM86.8 488.8h0.55v0.55h-0.55zM90.4 492.8h0.55v0.55h-0.55zM94.7 488.7h0.55v0.55h-0.55zM78.7 487.3h0.55v0.55h-0.55zM36.4 510.8h0.55v0.55h-0.55zM98.5 475.4h0.55v0.55h-0.55zM95.9 482.8h0.55v0.55h-0.55zM100.8 485.1h0.55v0.55h-0.55zM74.6 501.7h0.55v0.55h-0.55zM99.0 483.4h0.55v0.55h-0.55zM86.3 489.1h0.55v0.55h-0.55zM73.8 504.8h0.55v0.55h-0.55zM94.7 486.9h0.55v0.55h-0.55zM83.0 499.3h0.55v0.55h-0.55zM48.6 507.6h0.55v0.55h-0.55zM103.6 479.8h0.55v0.55h-0.55zM108.8 469.6h0.55v0.55h-0.55zM75.0 489.5h0.55v0.55h-0.55zM97.4 481.5h0.55v0.55h-0.55zM66.1 505.6h0.55v0.55h-0.55zM70.7 501.1h0.55v0.55h-0.55zM86.3 495.4h0.55v0.55h-0.55zM50.7 506.7h0.55v0.55h-0.55zM80.8 484.6h0.55v0.55h-0.55zM96.3 476.7h0.55v0.55h-0.55zM94.7 476.6h0.55v0.55h-0.55zM87.3 477.4h0.55v0.55h-0.55zM79.4 497.4h0.55v0.55h-0.55zM103.5 482.8h0.55v0.55h-0.55zM88.0 480.7h0.55v0.55h-0.55zM80.9 503.5h0.55v0.55h-0.55zM95.4 481.7h0.55v0.55h-0.55zM94.3 483.2h0.55v0.55h-0.55zM107.3 478.4h0.55v0.55h-0.55zM92.3 482.0h0.55v0.55h-0.55zM56.4 501.1h0.55v0.55h-0.55zM63.6 507.6h0.55v0.55h-0.55zM94.2 485.0h0.55v0.55h-0.55zM70.6 489.8h0.55v0.55h-0.55zM93.1 491.2h0.55v0.55h-0.55zM93.2 486.9h0.55v0.55h-0.55zM81.2 494.1h0.55v0.55h-0.55zM105.8 485.2h0.55v0.55h-0.55zM58.2 510.5h0.55v0.55h-0.55zM101.0 481.4h0.55v0.55h-0.55zM63.0 497.9h0.55v0.55h-0.55zM102.6 493.3h0.55v0.55h-0.55zM91.2 481.1h0.55v0.55h-0.55zM79.6 498.0h0.55v0.55h-0.55zM44.3 513.7h0.55v0.55h-0.55zM90.3 488.2h0.55v0.55h-0.55zM77.0 488.0h0.55v0.55h-0.55zM48.1 515.0h0.55v0.55h-0.55zM90.3 499.2h0.55v0.55h-0.55zM71.5 501.9h0.55v0.55h-0.55zM99.8 485.2h0.55v0.55h-0.55zM77.8 495.1h0.55v0.55h-0.55zM96.2 485.8h0.55v0.55h-0.55zM83.6 496.2h0.55v0.55h-0.55zM86.9 498.6h0.55v0.55h-0.55zM87.3 503.5h0.55v0.55h-0.55zM113.4 469.5h0.55v0.55h-0.55zM77.3 485.5h0.55v0.55h-0.55zM92.9 490.4h0.55v0.55h-0.55zM76.9 497.2h0.55v0.55h-0.55zM102.5 483.4h0.55v0.55h-0.55zM75.7 499.6h0.55v0.55h-0.55zM73.5 505.0h0.55v0.55h-0.55zM86.7 493.1h0.55v0.55h-0.55zM93.2 485.2h0.55v0.55h-0.55zM94.1 482.2h0.55v0.55h-0.55zM76.3 496.6h0.55v0.55h-0.55zM107.3 483.2h0.55v0.55h-0.55zM80.0 497.7h0.55v0.55h-0.55zM69.6 514.5h0.55v0.55h-0.55zM92.8 477.6h0.55v0.55h-0.55zM79.8 479.8h0.55v0.55h-0.55zM95.1 488.9h0.55v0.55h-0.55zM87.9 496.2h0.55v0.55h-0.55zM73.7 499.8h0.55v0.55h-0.55zM92.6 487.8h0.55v0.55h-0.55zM75.4 501.9h0.55v0.55h-0.55zM57.0 510.7h0.55v0.55h-0.55zM74.9 487.5h0.55v0.55h-0.55zM87.0 498.1h0.55v0.55h-0.55zM83.5 492.6h0.55v0.55h-0.55zM70.2 513.0h0.55v0.55h-0.55zM98.3 476.2h0.55v0.55h-0.55zM50.1 506.4h0.55v0.55h-0.55zM57.0 500.1h0.55v0.55h-0.55zM86.3 499.1h0.55v0.55h-0.55zM77.9 500.9h0.55v0.55h-0.55zM127.8 456.6h0.55v0.55h-0.55zM78.1 496.8h0.55v0.55h-0.55zM86.2 490.3h0.55v0.55h-0.55zM69.4 491.4h0.55v0.55h-0.55zM65.4 505.0h0.55v0.55h-0.55zM70.4 492.7h0.55v0.55h-0.55zM106.7 470.8h0.55v0.55h-0.55zM88.7 478.0h0.55v0.55h-0.55zM77.5 486.1h0.55v0.55h-0.55zM94.6 481.8h0.55v0.55h-0.55zM59.6 500.8h0.55v0.55h-0.55zM72.3 491.0h0.55v0.55h-0.55zM93.4 491.2h0.55v0.55h-0.55zM98.9 485.3h0.55v0.55h-0.55zM83.5 494.1h0.55v0.55h-0.55zM59.2 501.3h0.55v0.55h-0.55zM84.3 476.0h0.55v0.55h-0.55zM69.2 489.4h0.55v0.55h-0.55zM80.7 509.9h0.55v0.55h-0.55zM65.7 505.7h0.55v0.55h-0.55zM70.7 508.9h0.55v0.55h-0.55zM56.7 506.6h0.55v0.55h-0.55zM66.9 494.0h0.55v0.55h-0.55zM93.9 484.4h0.55v0.55h-0.55zM99.6 474.1h0.55v0.55h-0.55zM94.7 479.0h0.55v0.55h-0.55zM77.2 496.1h0.55v0.55h-0.55zM91.0 484.8h0.55v0.55h-0.55zM68.6 492.1h0.55v0.55h-0.55zM58.7 514.1h0.55v0.55h-0.55zM85.4 490.6h0.55v0.55h-0.55zM56.0 506.9h0.55v0.55h-0.55zM91.3 494.3h0.55v0.55h-0.55zM93.3 503.7h0.55v0.55h-0.55zM51.1 512.3h0.55v0.55h-0.55zM63.1 497.4h0.55v0.55h-0.55zM78.2 500.1h0.55v0.55h-0.55zM90.9 485.5h0.55v0.55h-0.55zM56.0 503.5h0.55v0.55h-0.55zM42.1 516.2h0.55v0.55h-0.55zM67.8 501.8h0.55v0.55h-0.55zM70.4 490.4h0.55v0.55h-0.55zM55.0 503.6h0.55v0.55h-0.55zM100.1 495.9h0.55v0.55h-0.55zM82.8 504.3h0.55v0.55h-0.55zM87.1 495.1h0.55v0.55h-0.55zM74.3 489.4h0.55v0.55h-0.55zM94.2 477.1h0.55v0.55h-0.55zM70.5 486.2h0.55v0.55h-0.55zM105.6 473.0h0.55v0.55h-0.55zM69.1 492.1h0.55v0.55h-0.55zM59.7 495.0h0.55v0.55h-0.55zM77.3 486.2h0.55v0.55h-0.55zM101.0 474.2h0.55v0.55h-0.55zM74.1 499.0h0.55v0.55h-0.55zM82.9 484.7h0.55v0.55h-0.55zM95.2 483.6h0.55v0.55h-0.55zM52.2 512.2h0.55v0.55h-0.55zM72.1 491.4h0.55v0.55h-0.55zM67.5 502.8h0.55v0.55h-0.55zM102.0 481.0h0.55v0.55h-0.55zM108.5 477.0h0.55v0.55h-0.55zM96.1 485.8h0.55v0.55h-0.55zM76.6 496.6h0.55v0.55h-0.55zM55.3 505.9h0.55v0.55h-0.55zM98.0 485.3h0.55v0.55h-0.55zM72.6 489.6h0.55v0.55h-0.55zM92.2 483.5h0.55v0.55h-0.55zM56.2 504.2h0.55v0.55h-0.55zM105.3 486.5h0.55v0.55h-0.55zM91.1 497.9h0.55v0.55h-0.55zM78.3 499.9h0.55v0.55h-0.55zM98.1 482.5h0.55v0.55h-0.55zM94.2 494.2h0.55v0.55h-0.55zM57.5 500.2h0.55v0.55h-0.55zM64.2 495.5h0.55v0.55h-0.55zM85.1 500.3h0.55v0.55h-0.55zM64.8 506.4h0.55v0.55h-0.55zM97.8 484.1h0.55v0.55h-0.55zM82.0 500.6h0.55v0.55h-0.55zM74.7 513.0h0.55v0.55h-0.55zM87.1 489.4h0.55v0.55h-0.55zM83.3 493.9h0.55v0.55h-0.55zM65.8 491.0h0.55v0.55h-0.55zM91.0 476.2h0.55v0.55h-0.55zM89.8 488.3h0.55v0.55h-0.55zM97.2 481.6h0.55v0.55h-0.55zM83.6 493.5h0.55v0.55h-0.55zM99.9 490.5h0.55v0.55h-0.55zM51.9 507.8h0.55v0.55h-0.55zM43.5 508.8h0.55v0.55h-0.55zM92.8 495.9h0.55v0.55h-0.55zM96.4 473.3h0.55v0.55h-0.55zM84.3 494.7h0.55v0.55h-0.55zM61.3 508.3h0.55v0.55h-0.55zM89.4 491.4h0.55v0.55h-0.55zM85.5 502.3h0.55v0.55h-0.55zM90.7 495.3h0.55v0.55h-0.55zM97.9 477.2h0.55v0.55h-0.55zM90.9 491.5h0.55v0.55h-0.55zM91.3 479.1h0.55v0.55h-0.55zM62.3 490.6h0.55v0.55h-0.55zM88.0 490.2h0.55v0.55h-0.55zM56.9 502.1h0.55v0.55h-0.55zM98.5 474.1h0.55v0.55h-0.55zM53.9 504.8h0.55v0.55h-0.55zM44.4 518.3h0.55v0.55h-0.55zM94.1 489.6h0.55v0.55h-0.55zM76.3 488.7h0.55v0.55h-0.55zM87.4 507.7h0.55v0.55h-0.55zM87.9 498.8h0.55v0.55h-0.55zM67.7 506.3h0.55v0.55h-0.55zM38.2 514.1h0.55v0.55h-0.55zM99.7 485.7h0.55v0.55h-0.55zM75.0 505.0h0.55v0.55h-0.55zM61.6 512.6h0.55v0.55h-0.55zM53.3 499.4h0.55v0.55h-0.55zM83.8 504.0h0.55v0.55h-0.55zM92.5 489.9h0.55v0.55h-0.55zM84.1 482.5h0.55v0.55h-0.55zM79.1 479.0h0.55v0.55h-0.55zM80.0 495.0h0.55v0.55h-0.55zM78.8 485.9h0.55v0.55h-0.55zM84.4 483.5h0.55v0.55h-0.55zM92.2 490.3h0.55v0.55h-0.55zM74.7 500.8h0.55v0.55h-0.55zM51.5 506.7h0.55v0.55h-0.55zM84.6 491.1h0.55v0.55h-0.55zM81.9 500.6h0.55v0.55h-0.55zM91.2 484.9h0.55v0.55h-0.55zM73.2 498.1h0.55v0.55h-0.55zM92.6 492.6h0.55v0.55h-0.55zM65.8 518.0h0.55v0.55h-0.55zM90.7 480.9h0.55v0.55h-0.55zM93.1 484.3h0.55v0.55h-0.55zM58.2 500.7h0.55v0.55h-0.55zM70.6 489.7h0.55v0.55h-0.55zM61.8 496.5h0.55v0.55h-0.55zM78.7 506.8h0.55v0.55h-0.55zM44.9 506.4h0.55v0.55h-0.55zM70.4 505.3h0.55v0.55h-0.55zM67.8 504.6h0.55v0.55h-0.55zM93.8 489.9h0.55v0.55h-0.55zM78.0 497.5h0.55v0.55h-0.55zM84.9 496.3h0.55v0.55h-0.55zM73.9 508.1h0.55v0.55h-0.55zM95.2 496.8h0.55v0.55h-0.55zM46.2 517.1h0.55v0.55h-0.55zM103.7 481.8h0.55v0.55h-0.55zM78.0 501.7h0.55v0.55h-0.55zM83.4 496.1h0.55v0.55h-0.55zM74.5 503.2h0.55v0.55h-0.55zM99.4 484.0h0.55v0.55h-0.55zM76.6 487.2h0.55v0.55h-0.55zM85.6 489.6h0.55v0.55h-0.55zM50.1 506.0h0.55v0.55h-0.55zM80.1 499.4h0.55v0.55h-0.55zM85.0 483.3h0.55v0.55h-0.55zM69.8 501.1h0.55v0.55h-0.55zM78.0 496.5h0.55v0.55h-0.55zM79.0 506.7h0.55v0.55h-0.55zM85.1 483.4h0.55v0.55h-0.55zM63.2 504.7h0.55v0.55h-0.55zM82.4 482.5h0.55v0.55h-0.55zM108.1 468.2h0.55v0.55h-0.55zM82.4 498.2h0.55v0.55h-0.55zM65.0 507.0h0.55v0.55h-0.55zM95.8 486.8h0.55v0.55h-0.55zM59.2 507.1h0.55v0.55h-0.55zM91.4 497.3h0.55v0.55h-0.55zM96.6 491.8h0.55v0.55h-0.55zM63.4 497.1h0.55v0.55h-0.55zM61.7 504.8h0.55v0.55h-0.55zM67.6 503.3h0.55v0.55h-0.55zM88.7 489.3h0.55v0.55h-0.55zM79.5 500.7h0.55v0.55h-0.55zM101.8 487.4h0.55v0.55h-0.55zM66.8 516.0h0.55v0.55h-0.55zM62.2 494.2h0.55v0.55h-0.55zM80.1 502.2h0.55v0.55h-0.55zM54.5 522.0h0.55v0.55h-0.55zM64.1 503.9h0.55v0.55h-0.55zM71.7 509.1h0.55v0.55h-0.55zM73.5 503.0h0.55v0.55h-0.55zM69.0 493.6h0.55v0.55h-0.55zM95.0 493.0h0.55v0.55h-0.55zM92.9 476.7h0.55v0.55h-0.55zM83.9 497.6h0.55v0.55h-0.55zM107.1 474.6h0.55v0.55h-0.55zM83.6 483.1h0.55v0.55h-0.55zM97.0 482.7h0.55v0.55h-0.55zM72.2 506.2h0.55v0.55h-0.55zM80.9 493.2h0.55v0.55h-0.55zM88.3 492.3h0.55v0.55h-0.55zM98.6 478.9h0.55v0.55h-0.55zM93.7 480.2h0.55v0.55h-0.55zM69.5 512.7h0.55v0.55h-0.55zM62.5 511.5h0.55v0.55h-0.55zM44.0 512.8h0.55v0.55h-0.55zM76.5 497.0h0.55v0.55h-0.55zM57.4 507.4h0.55v0.55h-0.55zM97.1 488.1h0.55v0.55h-0.55zM80.7 495.1h0.55v0.55h-0.55zM78.7 506.2h0.55v0.55h-0.55zM95.5 480.3h0.55v0.55h-0.55zM81.6 498.4h0.55v0.55h-0.55zM93.7 497.1h0.55v0.55h-0.55zM103.9 478.4h0.55v0.55h-0.55zM53.7 515.6h0.55v0.55h-0.55zM90.2 500.8h0.55v0.55h-0.55zM65.2 493.5h0.55v0.55h-0.55zM89.4 501.4h0.55v0.55h-0.55zM90.2 493.4h0.55v0.55h-0.55zM72.9 502.0h0.55v0.55h-0.55zM72.9 501.5h0.55v0.55h-0.55zM75.1 498.3h0.55v0.55h-0.55zM36.5 513.3h0.55v0.55h-0.55zM107.7 467.4h0.55v0.55h-0.55zM62.8 508.1h0.55v0.55h-0.55zM65.9 495.2h0.55v0.55h-0.55zM86.2 496.9h0.55v0.55h-0.55zM77.5 511.8h0.55v0.55h-0.55zM81.7 494.3h0.55v0.55h-0.55zM77.1 503.0h0.55v0.55h-0.55zM64.5 510.5h0.55v0.55h-0.55zM107.9 478.7h0.55v0.55h-0.55zM82.5 482.5h0.55v0.55h-0.55zM76.7 498.7h0.55v0.55h-0.55zM102.3 477.1h0.55v0.55h-0.55zM59.9 511.3h0.55v0.55h-0.55zM93.0 491.4h0.55v0.55h-0.55zM88.9 498.8h0.55v0.55h-0.55zM63.7 493.4h0.55v0.55h-0.55zM98.8 478.2h0.55v0.55h-0.55zM94.1 482.6h0.55v0.55h-0.55zM67.3 501.6h0.55v0.55h-0.55zM70.9 501.3h0.55v0.55h-0.55zM82.4 492.1h0.55v0.55h-0.55zM42.9 514.3h0.55v0.55h-0.55zM66.2 495.6h0.55v0.55h-0.55zM53.8 508.0h0.55v0.55h-0.55zM82.8 496.9h0.55v0.55h-0.55zM101.4 482.7h0.55v0.55h-0.55zM83.9 491.1h0.55v0.55h-0.55zM89.4 488.5h0.55v0.55h-0.55zM77.4 505.4h0.55v0.55h-0.55zM72.8 498.4h0.55v0.55h-0.55zM74.2 509.6h0.55v0.55h-0.55zM89.6 479.9h0.55v0.55h-0.55zM84.4 491.2h0.55v0.55h-0.55zM93.7 492.1h0.55v0.55h-0.55zM51.2 513.5h0.55v0.55h-0.55zM63.8 505.3h0.55v0.55h-0.55zM73.3 488.2h0.55v0.55h-0.55zM73.2 505.2h0.55v0.55h-0.55zM71.8 500.6h0.55v0.55h-0.55zM82.3 497.4h0.55v0.55h-0.55zM92.3 493.8h0.55v0.55h-0.55zM83.0 495.2h0.55v0.55h-0.55zM80.2 497.2h0.55v0.55h-0.55zM82.2 499.2h0.55v0.55h-0.55zM79.6 482.7h0.55v0.55h-0.55zM56.6 515.2h0.55v0.55h-0.55zM88.2 487.4h0.55v0.55h-0.55zM52.6 502.5h0.55v0.55h-0.55zM67.4 491.8h0.55v0.55h-0.55zM79.8 493.7h0.55v0.55h-0.55zM92.9 486.4h0.55v0.55h-0.55zM89.0 493.7h0.55v0.55h-0.55zM75.5 499.2h0.55v0.55h-0.55zM111.4 482.5h0.55v0.55h-0.55zM70.9 492.1h0.55v0.55h-0.55zM82.5 501.0h0.55v0.55h-0.55zM40.5 514.9h0.55v0.55h-0.55zM69.9 511.8h0.55v0.55h-0.55zM67.1 510.6h0.55v0.55h-0.55zM77.7 497.7h0.55v0.55h-0.55zM95.7 476.7h0.55v0.55h-0.55zM53.5 505.1h0.55v0.55h-0.55zM93.4 488.8h0.55v0.55h-0.55zM72.8 489.6h0.55v0.55h-0.55zM97.5 480.4h0.55v0.55h-0.55zM102.6 481.4h0.55v0.55h-0.55zM79.4 482.6h0.55v0.55h-0.55zM71.3 489.8h0.55v0.55h-0.55zM85.9 499.5h0.55v0.55h-0.55zM86.3 493.3h0.55v0.55h-0.55zM72.1 490.6h0.55v0.55h-0.55zM92.4 483.3h0.55v0.55h-0.55zM106.4 490.4h0.55v0.55h-0.55zM57.0 511.5h0.55v0.55h-0.55zM67.2 513.0h0.55v0.55h-0.55zM75.3 487.4h0.55v0.55h-0.55zM67.7 512.0h0.55v0.55h-0.55zM93.6 478.4h0.55v0.55h-0.55zM65.8 493.4h0.55v0.55h-0.55zM60.9 506.2h0.55v0.55h-0.55zM59.9 495.3h0.55v0.55h-0.55zM81.6 500.3h0.55v0.55h-0.55zM84.1 492.2h0.55v0.55h-0.55zM96.0 486.8h0.55v0.55h-0.55zM41.8 514.2h0.55v0.55h-0.55zM90.2 479.8h0.55v0.55h-0.55zM96.2 479.5h0.55v0.55h-0.55zM101.9 480.9h0.55v0.55h-0.55zM104.1 477.4h0.55v0.55h-0.55zM61.1 509.1h0.55v0.55h-0.55zM92.8 477.8h0.55v0.55h-0.55zM97.0 475.4h0.55v0.55h-0.55zM98.0 470.1h0.55v0.55h-0.55zM103.1 467.5h0.55v0.55h-0.55zM80.5 500.1h0.55v0.55h-0.55zM92.6 485.6h0.55v0.55h-0.55zM91.6 477.4h0.55v0.55h-0.55zM90.5 494.8h0.55v0.55h-0.55zM69.9 507.8h0.55v0.55h-0.55zM93.9 483.2h0.55v0.55h-0.55zM78.7 494.8h0.55v0.55h-0.55zM54.2 511.1h0.55v0.55h-0.55zM83.0 482.2h0.55v0.55h-0.55zM101.3 490.5h0.55v0.55h-0.55zM56.2 500.7h0.55v0.55h-0.55zM92.8 477.1h0.55v0.55h-0.55zM64.8 496.8h0.55v0.55h-0.55zM88.7 492.1h0.55v0.55h-0.55zM69.0 511.6h0.55v0.55h-0.55zM80.2 493.8h0.55v0.55h-0.55zM98.8 475.4h0.55v0.55h-0.55zM88.7 495.6h0.55v0.55h-0.55zM105.9 478.2h0.55v0.55h-0.55zM83.3 479.4h0.55v0.55h-0.55zM60.5 508.5h0.55v0.55h-0.55zM102.5 471.9h0.55v0.55h-0.55zM55.7 498.8h0.55v0.55h-0.55zM52.3 504.1h0.55v0.55h-0.55zM45.0 510.8h0.55v0.55h-0.55zM49.7 503.6h0.55v0.55h-0.55zM75.4 498.2h0.55v0.55h-0.55zM83.4 482.9h0.55v0.55h-0.55zM80.7 503.7h0.55v0.55h-0.55zM110.4 477.9h0.55v0.55h-0.55zM103.3 486.3h0.55v0.55h-0.55zM86.8 490.4h0.55v0.55h-0.55zM91.3 501.5h0.55v0.55h-0.55zM77.6 504.0h0.55v0.55h-0.55zM91.8 489.8h0.55v0.55h-0.55zM98.3 475.6h0.55v0.55h-0.55zM75.5 498.7h0.55v0.55h-0.55zM76.3 485.2h0.55v0.55h-0.55zM80.4 502.1h0.55v0.55h-0.55zM71.5 499.5h0.55v0.55h-0.55zM80.5 483.3h0.55v0.55h-0.55zM85.0 480.2h0.55v0.55h-0.55zM73.6 507.9h0.55v0.55h-0.55zM82.0 484.9h0.55v0.55h-0.55zM74.0 499.1h0.55v0.55h-0.55zM82.0 495.3h0.55v0.55h-0.55zM52.7 510.3h0.55v0.55h-0.55zM97.3 475.8h0.55v0.55h-0.55zM58.6 506.1h0.55v0.55h-0.55zM82.3 478.3h0.55v0.55h-0.55zM56.4 509.5h0.55v0.55h-0.55zM89.3 494.8h0.55v0.55h-0.55zM82.7 476.8h0.55v0.55h-0.55zM60.5 497.0h0.55v0.55h-0.55zM71.9 506.6h0.55v0.55h-0.55zM89.7 478.9h0.55v0.55h-0.55zM86.5 491.4h0.55v0.55h-0.55zM84.6 493.0h0.55v0.55h-0.55zM97.2 479.9h0.55v0.55h-0.55zM56.9 501.1h0.55v0.55h-0.55zM89.6 494.2h0.55v0.55h-0.55zM70.5 491.7h0.55v0.55h-0.55zM85.5 493.2h0.55v0.55h-0.55zM86.8 498.9h0.55v0.55h-0.55zM101.7 482.8h0.55v0.55h-0.55zM72.4 507.7h0.55v0.55h-0.55zM79.0 495.1h0.55v0.55h-0.55zM72.4 488.0h0.55v0.55h-0.55zM91.7 487.0h0.55v0.55h-0.55zM75.7 504.1h0.55v0.55h-0.55zM101.0 487.1h0.55v0.55h-0.55zM48.5 505.2h0.55v0.55h-0.55zM78.6 504.8h0.55v0.55h-0.55zM88.5 493.2h0.55v0.55h-0.55zM81.3 497.5h0.55v0.55h-0.55zM92.0 489.0h0.55v0.55h-0.55zM83.7 498.5h0.55v0.55h-0.55zM106.0 493.0h0.55v0.55h-0.55zM56.0 504.8h0.55v0.55h-0.55zM66.9 494.1h0.55v0.55h-0.55z" fill="#8a8a8a"/>
<path d="M56.9 506.4 L56.1 506.4 L55.6 506.1 L55.6 505.6 L55.8 505.1 L56.1 504.6 L56.4 504.3 L56.7 503.9 L57.1 503.4 L57.4 503.1 L57.9 502.6 L58.1 502.4 L58.6 501.9 L58.9 501.6 L59.4 501.2 L59.7 500.9 L60.1 500.5 L60.6 500.1 L60.9 499.9 L61.4 499.5 L61.8 499.1 L62.1 498.8 L62.6 498.4 L63.0 498.1 L63.4 497.8 L63.9 497.5 L64.3 497.1 L64.6 496.9 L65.1 496.5 L65.6 496.1 L66.0 495.9 L66.4 495.6 L66.9 495.2 L67.3 494.9 L67.7 494.6 L68.1 494.3 L68.6 494.0 L69.1 493.6 L69.5 493.4 L69.9 493.1 L70.4 492.7 L70.9 492.4 L71.3 492.1 L71.7 491.9 L72.1 491.6 L72.6 491.2 L73.1 490.9 L73.6 490.6 L73.9 490.4 L74.4 490.1 L74.9 489.8 L75.4 489.5 L75.9 489.2 L76.3 488.9 L76.7 488.6 L77.1 488.4 L77.6 488.1 L78.1 487.8 L78.6 487.5 L79.1 487.2 L79.6 486.9 L80.1 486.6 L80.5 486.4 L80.9 486.1 L81.4 485.9 L81.9 485.6 L82.4 485.3 L82.9 485.0 L83.4 484.8 L83.9 484.5 L84.4 484.2 L84.9 484.0 L85.4 483.7 L85.9 483.5 L86.4 483.3 L86.9 483.0 L87.4 482.8 L87.9 482.6 L88.4 482.4 L89.1 482.1 L89.6 481.9 L90.1 481.8 L90.7 481.6 L91.4 481.5 L92.1 481.5 L92.6 481.9 L92.5 482.6 L92.2 483.1 L91.9 483.6 L91.6 483.9 L91.3 484.4 L90.9 484.8 L90.6 485.1 L90.1 485.6 L89.8 485.9 L89.4 486.3 L89.0 486.6 L88.6 487.0 L88.2 487.4 L87.9 487.7 L87.4 488.1 L87.0 488.4 L86.6 488.7 L86.1 489.1 L85.8 489.4 L85.4 489.7 L84.9 490.1 L84.5 490.4 L84.1 490.7 L83.6 491.0 L83.1 491.4 L82.8 491.6 L82.4 491.9 L81.9 492.3 L81.4 492.6 L81.1 492.9 L80.6 493.2 L80.1 493.5 L79.6 493.9 L79.3 494.1 L78.9 494.4 L78.4 494.8 L77.9 495.1 L77.5 495.4 L77.1 495.6 L76.6 495.9 L76.1 496.3 L75.6 496.6 L75.2 496.9 L74.8 497.1 L74.4 497.4 L73.9 497.7 L73.4 498.1 L72.9 498.4 L72.5 498.6 L72.1 498.9 L71.6 499.2 L71.1 499.5 L70.6 499.8 L70.1 500.1 L69.6 500.4 L69.2 500.6 L68.8 500.9 L68.3 501.1 L67.9 501.4 L67.4 501.7 L66.9 502.0 L66.4 502.2 L65.9 502.5 L65.4 502.8 L64.9 503.1 L64.4 503.3 L63.9 503.6 L63.4 503.8 L62.9 504.1 L62.4 504.3 L61.9 504.6 L61.4 504.8 L60.9 505.0 L60.4 505.2 L59.9 505.4 L59.4 505.6 L58.7 505.9 L58.1 506.1 L57.6 506.2 L56.9 506.4" fill="none" stroke="#5a5a5a" stroke-width="0.7"/>
<path d="M62.1 502.9 L61.4 503.1 L60.6 503.0 L60.6 502.4 L60.8 501.9 L61.1 501.5 L61.4 501.1 L61.9 500.6 L62.1 500.4 L62.6 499.9 L62.9 499.6 L63.4 499.2 L63.7 498.9 L64.1 498.5 L64.6 498.1 L64.9 497.9 L65.4 497.5 L65.8 497.1 L66.1 496.9 L66.6 496.5 L67.1 496.1 L67.4 495.9 L67.9 495.6 L68.4 495.2 L68.8 494.9 L69.1 494.6 L69.6 494.3 L70.1 493.9 L70.6 493.6 L70.9 493.4 L71.4 493.1 L71.9 492.7 L72.4 492.4 L72.8 492.1 L73.1 491.9 L73.6 491.6 L74.1 491.2 L74.6 490.9 L75.1 490.6 L75.5 490.4 L75.9 490.1 L76.4 489.8 L76.9 489.5 L77.4 489.2 L77.9 488.9 L78.3 488.6 L78.8 488.4 L79.2 488.1 L79.6 487.9 L80.1 487.6 L80.6 487.3 L81.1 487.0 L81.6 486.7 L82.1 486.5 L82.6 486.2 L83.1 485.9 L83.6 485.7 L84.1 485.5 L84.6 485.2 L85.1 485.0 L85.6 484.8 L86.1 484.6 L86.9 484.4 L87.4 484.3 L88.1 484.2 L88.7 484.4 L88.6 485.1 L88.4 485.6 L88.1 485.9 L87.8 486.4 L87.4 486.8 L87.1 487.1 L86.6 487.5 L86.3 487.9 L85.9 488.2 L85.4 488.6 L85.1 488.9 L84.6 489.3 L84.2 489.6 L83.9 489.9 L83.4 490.2 L82.9 490.6 L82.5 490.9 L82.1 491.2 L81.6 491.5 L81.1 491.9 L80.8 492.1 L80.4 492.4 L79.9 492.8 L79.4 493.1 L79.0 493.4 L78.6 493.6 L78.1 494.0 L77.6 494.3 L77.1 494.6 L76.8 494.9 L76.4 495.1 L75.9 495.5 L75.4 495.8 L74.9 496.1 L74.5 496.4 L74.1 496.6 L73.6 496.9 L73.1 497.2 L72.6 497.6 L72.1 497.9 L71.7 498.1 L71.3 498.4 L70.9 498.6 L70.4 498.9 L69.9 499.2 L69.4 499.5 L68.9 499.8 L68.4 500.1 L67.9 500.3 L67.4 500.6 L66.9 500.9 L66.4 501.1 L65.9 501.4 L65.4 501.6 L64.9 501.9 L64.4 502.1 L63.9 502.3 L63.4 502.5 L62.9 502.7 L62.3 502.9" fill="none" stroke="#4a4a4a" stroke-width="0.7"/>
<path d="M65.1 500.4 L64.6 500.4 L64.6 499.7 L64.9 499.3 L65.3 498.9 L65.6 498.5 L66.0 498.1 L66.4 497.8 L66.8 497.4 L67.1 497.1 L67.6 496.7 L68.0 496.4 L68.4 496.1 L68.9 495.7 L69.3 495.4 L69.6 495.1 L70.1 494.8 L70.6 494.4 L71.0 494.1 L71.4 493.9 L71.9 493.5 L72.4 493.2 L72.8 492.9 L73.2 492.6 L73.6 492.3 L74.1 492.0 L74.6 491.7 L75.1 491.4 L75.5 491.1 L75.9 490.9 L76.4 490.6 L76.9 490.3 L77.4 490.0 L77.9 489.7 L78.4 489.4 L78.8 489.1 L79.2 488.9 L79.6 488.6 L80.1 488.3 L80.6 488.1 L81.1 487.8 L81.6 487.5 L82.1 487.2 L82.6 487.0 L83.1 486.8 L83.6 486.5 L84.1 486.3 L84.8 486.1 L85.4 486.0 L86.1 486.1 L86.1 486.6 L85.9 487.0 L85.6 487.4 L85.2 487.9 L84.9 488.2 L84.4 488.6 L84.1 488.9 L83.6 489.3 L83.2 489.6 L82.9 489.9 L82.4 490.2 L81.9 490.6 L81.5 490.9 L81.1 491.1 L80.6 491.5 L80.1 491.8 L79.7 492.1 L79.3 492.4 L78.9 492.7 L78.4 493.0 L77.9 493.4 L77.5 493.6 L77.1 493.9 L76.6 494.2 L76.1 494.5 L75.6 494.8 L75.2 495.1 L74.8 495.4 L74.4 495.7 L73.9 496.0 L73.4 496.3 L72.9 496.6 L72.4 496.9 L72.0 497.1 L71.6 497.4 L71.1 497.7 L70.6 497.9 L70.1 498.2 L69.6 498.5 L69.1 498.8 L68.6 499.0 L68.1 499.3 L67.6 499.5 L67.1 499.7 L66.6 499.9 L66.1 500.1 L65.4 500.3" fill="none" stroke="#3a3a3a" stroke-width="0.7"/>
<path d="M69.4 497.6 L68.6 497.8 L68.4 497.5 L68.6 497.1 L69.0 496.6 L69.4 496.3 L69.9 495.9 L70.2 495.6 L70.6 495.3 L71.1 494.9 L71.4 494.6 L71.9 494.3 L72.4 494.0 L72.8 493.6 L73.2 493.4 L73.6 493.1 L74.1 492.7 L74.6 492.4 L75.1 492.1 L75.5 491.9 L75.9 491.6 L76.4 491.3 L76.9 491.0 L77.4 490.7 L77.8 490.4 L78.2 490.1 L78.6 489.9 L79.1 489.6 L79.6 489.3 L80.1 489.0 L80.6 488.7 L81.1 488.5 L81.6 488.2 L82.1 488.0 L82.6 487.8 L83.1 487.6 L83.9 487.6 L83.9 488.0 L83.6 488.4 L83.1 488.9 L82.9 489.1 L82.4 489.5 L82.0 489.9 L81.6 490.1 L81.1 490.5 L80.6 490.9 L80.2 491.1 L79.9 491.4 L79.4 491.7 L78.9 492.0 L78.4 492.4 L78.0 492.6 L77.6 492.9 L77.1 493.2 L76.6 493.5 L76.1 493.8 L75.6 494.1 L75.2 494.4 L74.9 494.6 L74.4 494.9 L73.9 495.2 L73.4 495.5 L72.9 495.8 L72.4 496.1 L72.0 496.4 L71.5 496.6 L71.0 496.9 L70.5 497.1 L70.0 497.4 L69.4 497.6" fill="none" stroke="#333" stroke-width="0.7"/>
<path d="M66.7 594.1h0.55v0.55h-0.55zM60.9 612.9h0.55v0.55h-0.55zM74.8 594.8h0.55v0.55h-0.55zM53.4 590.0h0.55v0.55h-0.55zM52.5 592.6h0.55v0.55h-0.55zM76.6 638.2h0.55v0.55h-0.55zM95.2 616.4h0.55v0.55h-0.55zM77.8 586.0h0.55v0.55h-0.55zM86.6 636.8h0.55v0.55h-0.55zM88.2 619.7h0.55v0.55h-0.55zM55.9 619.7h0.55v0.55h-0.55zM75.8 587.2h0.55v0.55h-0.55zM65.9 607.6h0.55v0.55h-0.55zM94.4 606.1h0.55v0.55h-0.55zM64.4 587.2h0.55v0.55h-0.55zM63.4 604.4h0.55v0.55h-0.55zM41.4 588.0h0.55v0.55h-0.55zM71.1 588.1h0.55v0.55h-0.55zM67.5 636.8h0.55v0.55h-0.55zM75.0 641.5h0.55v0.55h-0.55zM91.7 605.7h0.55v0.55h-0.55zM68.8 576.2h0.55v0.55h-0.55zM65.7 568.8h0.55v0.55h-0.55zM59.3 568.7h0.55v0.55h-0.55zM72.3 581.5h0.55v0.55h-0.55zM99.7 595.3h0.55v0.55h-0.55zM45.8 592.3h0.55v0.55h-0.55zM89.8 607.8h0.55v0.55h-0.55zM59.3 615.4h0.55v0.55h-0.55zM55.7 610.6h0.55v0.55h-0.55zM64.3 587.7h0.55v0.55h-0.55zM71.9 574.4h0.55v0.55h-0.55zM44.4 594.6h0.55v0.55h-0.55zM77.8 578.0h0.55v0.55h-0.55zM70.1 584.2h0.55v0.55h-0.55zM41.0 580.6h0.55v0.55h-0.55zM70.8 601.9h0.55v0.55h-0.55zM64.1 592.1h0.55v0.55h-0.55zM91.1 617.9h0.55v0.55h-0.55zM52.0 570.9h0.55v0.55h-0.55zM73.6 587.5h0.55v0.55h-0.55zM63.1 578.3h0.55v0.55h-0.55zM56.1 614.8h0.55v0.55h-0.55zM70.9 586.6h0.55v0.55h-0.55zM105.1 632.2h0.55v0.55h-0.55zM74.5 598.3h0.55v0.55h-0.55zM44.3 581.7h0.55v0.55h-0.55zM50.6 573.2h0.55v0.55h-0.55zM62.6 577.5h0.55v0.55h-0.55zM103.2 605.1h0.55v0.55h-0.55zM47.1 571.1h0.55v0.55h-0.55zM64.4 600.2h0.55v0.55h-0.55zM64.6 584.3h0.55v0.55h-0.55zM61.1 579.2h0.55v0.55h-0.55zM92.0 619.8h0.55v0.55h-0.55zM40.4 581.1h0.55v0.55h-0.55zM68.7 634.0h0.55v0.55h-0.55zM63.5 609.4h0.55v0.55h-0.55zM40.7 620.7h0.55v0.55h-0.55zM55.7 607.7h0.55v0.55h-0.55zM60.1 596.9h0.55v0.55h-0.55zM75.4 583.5h0.55v0.55h-0.55zM59.2 577.4h0.55v0.55h-0.55zM89.0 568.9h0.55v0.55h-0.55zM73.6 591.2h0.55v0.55h-0.55zM72.8 598.7h0.55v0.55h-0.55zM96.3 605.0h0.55v0.55h-0.55zM96.3 600.2h0.55v0.55h-0.55zM72.2 642.0h0.55v0.55h-0.55zM88.1 636.1h0.55v0.55h-0.55zM50.7 594.7h0.55v0.55h-0.55zM100.9 592.9h0.55v0.55h-0.55zM55.0 580.0h0.55v0.55h-0.55zM60.9 585.7h0.55v0.55h-0.55zM70.6 595.4h0.55v0.55h-0.55zM79.5 638.6h0.55v0.55h-0.55zM61.2 596.3h0.55v0.55h-0.55zM58.4 596.0h0.55v0.55h-0.55zM71.2 580.7h0.55v0.55h-0.55zM98.4 575.0h0.55v0.55h-0.55zM66.7 574.9h0.55v0.55h-0.55zM45.4 584.5h0.55v0.55h-0.55zM85.6 618.1h0.55v0.55h-0.55zM102.4 616.4h0.55v0.55h-0.55zM80.3 618.5h0.55v0.55h-0.55zM97.8 600.7h0.55v0.55h-0.55zM69.1 571.4h0.55v0.55h-0.55zM54.1 623.1h0.55v0.55h-0.55zM93.1 612.6h0.55v0.55h-0.55zM71.6 580.3h0.55v0.55h-0.55zM54.5 594.1h0.55v0.55h-0.55zM72.0 595.9h0.55v0.55h-0.55zM95.1 571.9h0.55v0.55h-0.55zM112.3 637.5h0.55v0.55h-0.55zM51.5 575.4h0.55v0.55h-0.55zM90.8 617.7h0.55v0.55h-0.55zM72.5 627.2h0.55v0.55h-0.55zM50.3 584.6h0.55v0.55h-0.55zM70.4 589.1h0.55v0.55h-0.55zM47.7 631.7h0.55v0.55h-0.55zM109.2 583.8h0.55v0.55h-0.55zM99.8 598.1h0.55v0.55h-0.55zM61.8 586.1h0.55v0.55h-0.55zM80.9 644.9h0.55v0.55h-0.55zM80.9 617.1h0.55v0.55h-0.55zM72.8 579.3h0.55v0.55h-0.55zM74.2 584.8h0.55v0.55h-0.55zM68.3 603.4h0.55v0.55h-0.55zM61.6 638.2h0.55v0.55h-0.55zM55.4 619.6h0.55v0.55h-0.55zM69.0 574.5h0.55v0.55h-0.55zM36.5 577.7h0.55v0.55h-0.55zM67.2 589.1h0.55v0.55h-0.55zM65.9 579.8h0.55v0.55h-0.55zM72.5 583.8h0.55v0.55h-0.55zM74.8 592.6h0.55v0.55h-0.55zM65.3 608.8h0.55v0.55h-0.55zM40.0 584.0h0.55v0.55h-0.55zM66.2 576.4h0.55v0.55h-0.55zM73.8 578.1h0.55v0.55h-0.55zM64.4 611.6h0.55v0.55h-0.55zM84.0 616.8h0.55v0.55h-0.55zM70.6 598.2h0.55v0.55h-0.55zM70.6 591.6h0.55v0.55h-0.55zM52.3 570.1h0.55v0.55h-0.55zM88.1 616.5h0.55v0.55h-0.55zM42.6 576.5h0.55v0.55h-0.55zM101.6 604.1h0.55v0.55h-0.55zM79.4 583.0h0.55v0.55h-0.55zM98.7 620.5h0.55v0.55h-0.55zM108.4 579.8h0.55v0.55h-0.55zM110.1 613.9h0.55v0.55h-0.55zM98.8 619.2h0.55v0.55h-0.55zM67.4 600.6h0.55v0.55h-0.55zM64.3 585.6h0.55v0.55h-0.55zM86.1 613.2h0.55v0.55h-0.55zM80.4 577.7h0.55v0.55h-0.55zM42.5 578.8h0.55v0.55h-0.55zM60.8 577.2h0.55v0.55h-0.55zM66.0 643.2h0.55v0.55h-0.55zM71.2 629.9h0.55v0.55h-0.55zM62.7 584.1h0.55v0.55h-0.55zM73.6 591.3h0.55v0.55h-0.55zM80.4 577.7h0.55v0.55h-0.55zM65.3 602.5h0.55v0.55h-0.55zM76.2 591.3h0.55v0.55h-0.55zM64.3 635.6h0.55v0.55h-0.55zM108.0 588.2h0.55v0.55h-0.55zM72.0 584.2h0.55v0.55h-0.55zM62.9 589.6h0.55v0.55h-0.55zM97.0 570.3h0.55v0.55h-0.55zM65.2 606.3h0.55v0.55h-0.55zM57.2 570.8h0.55v0.55h-0.55zM60.4 614.5h0.55v0.55h-0.55zM40.6 579.2h0.55v0.55h-0.55zM54.3 588.8h0.55v0.55h-0.55zM88.1 609.8h0.55v0.55h-0.55zM59.9 588.8h0.55v0.55h-0.55zM68.4 593.5h0.55v0.55h-0.55zM48.5 634.9h0.55v0.55h-0.55zM106.3 583.6h0.55v0.55h-0.55zM69.3 641.1h0.55v0.55h-0.55zM58.2 579.5h0.55v0.55h-0.55zM56.4 618.1h0.55v0.55h-0.55zM56.5 588.5h0.55v0.55h-0.55zM73.1 597.7h0.55v0.55h-0.55zM96.6 602.4h0.55v0.55h-0.55zM94.4 611.7h0.55v0.55h-0.55zM57.4 600.6h0.55v0.55h-0.55zM76.1 586.1h0.55v0.55h-0.55zM58.7 571.8h0.55v0.55h-0.55zM62.8 577.5h0.55v0.55h-0.55zM75.7 592.9h0.55v0.55h-0.55zM65.6 604.9h0.55v0.55h-0.55zM55.6 590.8h0.55v0.55h-0.55zM50.1 572.3h0.55v0.55h-0.55zM75.6 590.4h0.55v0.55h-0.55zM43.8 650.1h0.55v0.55h-0.55zM62.1 584.5h0.55v0.55h-0.55zM69.8 604.8h0.55v0.55h-0.55zM62.5 612.2h0.55v0.55h-0.55zM91.2 608.7h0.55v0.55h-0.55zM68.9 589.0h0.55v0.55h-0.55zM63.4 579.1h0.55v0.55h-0.55zM91.3 613.4h0.55v0.55h-0.55zM66.6 595.4h0.55v0.55h-0.55zM65.6 582.1h0.55v0.55h-0.55zM102.5 581.1h0.55v0.55h-0.55zM77.6 583.9h0.55v0.55h-0.55zM64.8 577.8h0.55v0.55h-0.55zM70.7 602.5h0.55v0.55h-0.55zM73.9 631.5h0.55v0.55h-0.55zM52.7 639.0h0.55v0.55h-0.55zM78.3 581.3h0.55v0.55h-0.55zM97.4 638.8h0.55v0.55h-0.55zM56.2 587.8h0.55v0.55h-0.55zM108.3 612.9h0.55v0.55h-0.55zM93.1 638.8h0.55v0.55h-0.55zM57.2 588.2h0.55v0.55h-0.55zM55.3 584.1h0.55v0.55h-0.55zM105.2 581.7h0.55v0.55h-0.55zM41.5 582.2h0.55v0.55h-0.55zM68.3 581.8h0.55v0.55h-0.55zM62.5 590.6h0.55v0.55h-0.55zM62.1 613.0h0.55v0.55h-0.55zM64.5 594.7h0.55v0.55h-0.55zM74.6 589.0h0.55v0.55h-0.55zM68.2 605.3h0.55v0.55h-0.55zM88.9 641.4h0.55v0.55h-0.55zM64.4 610.8h0.55v0.55h-0.55zM60.7 610.3h0.55v0.55h-0.55zM72.3 580.6h0.55v0.55h-0.55zM70.8 602.7h0.55v0.55h-0.55zM88.1 613.9h0.55v0.55h-0.55zM58.9 616.8h0.55v0.55h-0.55zM61.8 608.0h0.55v0.55h-0.55zM75.7 588.7h0.55v0.55h-0.55zM46.7 603.3h0.55v0.55h-0.55zM76.0 587.5h0.55v0.55h-0.55zM91.2 605.9h0.55v0.55h-0.55zM76.9 578.0h0.55v0.55h-0.55zM71.0 643.6h0.55v0.55h-0.55zM105.3 587.2h0.55v0.55h-0.55zM71.2 602.8h0.55v0.55h-0.55zM85.1 611.6h0.55v0.55h-0.55zM52.3 593.0h0.55v0.55h-0.55zM83.6 614.4h0.55v0.55h-0.55zM72.5 599.9h0.55v0.55h-0.55zM108.4 583.5h0.55v0.55h-0.55zM63.1 573.4h0.55v0.55h-0.55zM80.8 619.3h0.55v0.55h-0.55zM88.0 615.9h0.55v0.55h-0.55zM65.5 599.7h0.55v0.55h-0.55zM69.4 602.8h0.55v0.55h-0.55zM56.6 641.9h0.55v0.55h-0.55zM71.3 599.4h0.55v0.55h-0.55zM91.5 574.1h0.55v0.55h-0.55zM37.8 577.9h0.55v0.55h-0.55zM64.0 612.1h0.55v0.55h-0.55zM61.7 582.8h0.55v0.55h-0.55zM71.5 588.2h0.55v0.55h-0.55zM73.8 593.6h0.55v0.55h-0.55zM55.5 589.7h0.55v0.55h-0.55zM66.0 608.8h0.55v0.55h-0.55zM83.6 613.8h0.55v0.55h-0.55zM65.4 583.1h0.55v0.55h-0.55zM84.9 612.0h0.55v0.55h-0.55zM83.6 619.3h0.55v0.55h-0.55zM37.3 571.4h0.55v0.55h-0.55zM50.2 643.7h0.55v0.55h-0.55zM65.1 640.5h0.55v0.55h-0.55zM63.7 579.2h0.55v0.55h-0.55zM84.4 615.9h0.55v0.55h-0.55zM42.5 649.2h0.55v0.55h-0.55zM53.3 584.2h0.55v0.55h-0.55zM86.4 618.3h0.55v0.55h-0.55zM61.1 615.3h0.55v0.55h-0.55zM61.3 582.3h0.55v0.55h-0.55zM65.1 583.0h0.55v0.55h-0.55zM62.8 604.2h0.55v0.55h-0.55zM92.0 617.1h0.55v0.55h-0.55zM76.8 580.6h0.55v0.55h-0.55zM55.2 588.7h0.55v0.55h-0.55zM62.2 608.0h0.55v0.55h-0.55zM68.2 585.0h0.55v0.55h-0.55zM67.8 598.8h0.55v0.55h-0.55zM71.8 581.1h0.55v0.55h-0.55zM61.4 600.1h0.55v0.55h-0.55zM56.3 584.8h0.55v0.55h-0.55zM86.7 610.7h0.55v0.55h-0.55zM59.8 590.4h0.55v0.55h-0.55zM58.8 615.1h0.55v0.55h-0.55zM58.8 588.9h0.55v0.55h-0.55zM57.4 593.8h0.55v0.55h-0.55zM63.4 590.5h0.55v0.55h-0.55zM95.1 644.2h0.55v0.55h-0.55zM71.8 602.5h0.55v0.55h-0.55zM35.5 578.5h0.55v0.55h-0.55zM71.8 581.4h0.55v0.55h-0.55zM69.6 590.1h0.55v0.55h-0.55zM66.3 577.9h0.55v0.55h-0.55zM100.9 592.6h0.55v0.55h-0.55zM64.8 591.6h0.55v0.55h-0.55zM62.1 604.3h0.55v0.55h-0.55zM125.3 568.1h0.55v0.55h-0.55zM45.6 594.1h0.55v0.55h-0.55zM49.9 576.7h0.55v0.55h-0.55zM79.8 581.3h0.55v0.55h-0.55zM55.1 580.5h0.55v0.55h-0.55zM75.1 579.5h0.55v0.55h-0.55zM64.7 587.7h0.55v0.55h-0.55zM69.9 590.6h0.55v0.55h-0.55zM88.4 610.8h0.55v0.55h-0.55zM72.1 582.3h0.55v0.55h-0.55zM90.2 619.9h0.55v0.55h-0.55zM70.2 581.7h0.55v0.55h-0.55zM75.1 588.8h0.55v0.55h-0.55zM44.1 628.4h0.55v0.55h-0.55zM64.9 582.8h0.55v0.55h-0.55zM94.6 568.4h0.55v0.55h-0.55zM102.1 584.3h0.55v0.55h-0.55zM80.9 618.3h0.55v0.55h-0.55zM54.4 580.9h0.55v0.55h-0.55zM64.8 595.8h0.55v0.55h-0.55zM68.8 581.8h0.55v0.55h-0.55zM94.1 603.7h0.55v0.55h-0.55zM105.9 626.9h0.55v0.55h-0.55zM42.5 641.8h0.55v0.55h-0.55zM108.8 582.0h0.55v0.55h-0.55zM67.6 603.8h0.55v0.55h-0.55zM105.7 576.0h0.55v0.55h-0.55zM79.8 571.2h0.55v0.55h-0.55zM52.8 581.5h0.55v0.55h-0.55zM80.4 638.8h0.55v0.55h-0.55zM69.5 579.4h0.55v0.55h-0.55zM63.8 609.7h0.55v0.55h-0.55zM62.2 589.8h0.55v0.55h-0.55zM61.0 576.4h0.55v0.55h-0.55zM106.7 620.6h0.55v0.55h-0.55zM96.3 602.6h0.55v0.55h-0.55zM37.9 580.0h0.55v0.55h-0.55zM82.8 617.8h0.55v0.55h-0.55zM50.9 585.8h0.55v0.55h-0.55zM52.0 585.5h0.55v0.55h-0.55zM89.4 610.0h0.55v0.55h-0.55zM100.8 584.6h0.55v0.55h-0.55zM74.8 586.6h0.55v0.55h-0.55zM66.0 581.0h0.55v0.55h-0.55zM62.0 635.4h0.55v0.55h-0.55zM57.3 579.6h0.55v0.55h-0.55zM56.1 593.7h0.55v0.55h-0.55zM57.7 642.7h0.55v0.55h-0.55zM79.0 569.5h0.55v0.55h-0.55zM84.7 617.7h0.55v0.55h-0.55zM52.3 578.7h0.55v0.55h-0.55zM99.9 611.7h0.55v0.55h-0.55zM89.4 641.4h0.55v0.55h-0.55zM69.6 602.7h0.55v0.55h-0.55zM63.9 577.7h0.55v0.55h-0.55zM41.6 627.2h0.55v0.55h-0.55zM59.3 637.5h0.55v0.55h-0.55zM58.5 581.1h0.55v0.55h-0.55zM60.9 579.1h0.55v0.55h-0.55zM95.0 567.2h0.55v0.55h-0.55zM65.8 574.9h0.55v0.55h-0.55zM100.3 579.2h0.55v0.55h-0.55zM96.2 617.2h0.55v0.55h-0.55zM56.8 585.6h0.55v0.55h-0.55zM74.6 588.1h0.55v0.55h-0.55zM55.4 614.2h0.55v0.55h-0.55zM75.0 590.3h0.55v0.55h-0.55zM98.7 616.4h0.55v0.55h-0.55zM69.6 601.7h0.55v0.55h-0.55zM67.9 599.6h0.55v0.55h-0.55zM61.4 586.4h0.55v0.55h-0.55zM73.2 574.6h0.55v0.55h-0.55zM63.9 601.9h0.55v0.55h-0.55zM84.0 618.4h0.55v0.55h-0.55zM58.7 581.5h0.55v0.55h-0.55zM107.9 606.3h0.55v0.55h-0.55zM72.9 628.8h0.55v0.55h-0.55zM87.9 616.7h0.55v0.55h-0.55zM61.1 585.6h0.55v0.55h-0.55zM94.6 602.7h0.55v0.55h-0.55zM104.6 591.2h0.55v0.55h-0.55zM48.9 624.5h0.55v0.55h-0.55zM102.6 639.4h0.55v0.55h-0.55zM92.8 641.1h0.55v0.55h-0.55zM60.0 592.7h0.55v0.55h-0.55zM63.0 578.2h0.55v0.55h-0.55zM53.5 584.1h0.55v0.55h-0.55zM83.4 614.1h0.55v0.55h-0.55zM65.6 606.8h0.55v0.55h-0.55zM72.5 596.8h0.55v0.55h-0.55zM71.5 595.9h0.55v0.55h-0.55zM49.0 601.6h0.55v0.55h-0.55zM67.1 595.4h0.55v0.55h-0.55zM83.5 570.2h0.55v0.55h-0.55zM56.2 577.3h0.55v0.55h-0.55zM89.3 614.9h0.55v0.55h-0.55zM53.4 574.3h0.55v0.55h-0.55zM101.8 586.1h0.55v0.55h-0.55zM77.1 587.4h0.55v0.55h-0.55zM56.7 646.2h0.55v0.55h-0.55zM63.0 588.5h0.55v0.55h-0.55zM46.5 593.2h0.55v0.55h-0.55zM85.5 617.7h0.55v0.55h-0.55zM96.2 619.8h0.55v0.55h-0.55zM56.0 565.6h0.55v0.55h-0.55zM100.5 580.5h0.55v0.55h-0.55zM79.1 573.9h0.55v0.55h-0.55zM97.2 566.8h0.55v0.55h-0.55zM100.8 594.2h0.55v0.55h-0.55zM87.7 638.2h0.55v0.55h-0.55zM67.0 596.9h0.55v0.55h-0.55zM67.3 592.7h0.55v0.55h-0.55zM99.3 606.7h0.55v0.55h-0.55zM55.5 616.9h0.55v0.55h-0.55zM53.2 590.7h0.55v0.55h-0.55zM71.6 592.5h0.55v0.55h-0.55zM100.6 588.7h0.55v0.55h-0.55zM64.6 609.4h0.55v0.55h-0.55zM85.6 647.8h0.55v0.55h-0.55zM64.7 598.0h0.55v0.55h-0.55zM73.1 593.7h0.55v0.55h-0.55zM62.3 636.7h0.55v0.55h-0.55zM56.7 585.2h0.55v0.55h-0.55zM64.7 636.7h0.55v0.55h-0.55zM72.6 582.2h0.55v0.55h-0.55zM70.9 589.7h0.55v0.55h-0.55zM114.4 564.7h0.55v0.55h-0.55zM79.6 619.1h0.55v0.55h-0.55zM87.4 619.1h0.55v0.55h-0.55zM91.6 609.7h0.55v0.55h-0.55zM58.4 591.4h0.55v0.55h-0.55zM79.3 579.7h0.55v0.55h-0.55zM75.0 587.8h0.55v0.55h-0.55zM82.5 615.7h0.55v0.55h-0.55zM62.8 608.4h0.55v0.55h-0.55zM96.7 613.0h0.55v0.55h-0.55zM66.5 601.7h0.55v0.55h-0.55zM66.3 578.3h0.55v0.55h-0.55zM52.0 583.6h0.55v0.55h-0.55zM76.1 586.6h0.55v0.55h-0.55zM94.8 601.8h0.55v0.55h-0.55zM103.3 571.5h0.55v0.55h-0.55zM55.7 585.5h0.55v0.55h-0.55zM74.5 593.8h0.55v0.55h-0.55zM57.1 581.2h0.55v0.55h-0.55zM73.5 578.6h0.55v0.55h-0.55zM70.2 582.5h0.55v0.55h-0.55zM49.0 634.3h0.55v0.55h-0.55zM90.6 609.0h0.55v0.55h-0.55zM91.9 620.3h0.55v0.55h-0.55zM62.9 591.2h0.55v0.55h-0.55zM58.1 590.1h0.55v0.55h-0.55zM51.4 596.3h0.55v0.55h-0.55zM74.6 596.3h0.55v0.55h-0.55zM89.8 614.3h0.55v0.55h-0.55zM86.5 577.9h0.55v0.55h-0.55zM57.8 638.9h0.55v0.55h-0.55zM105.0 590.4h0.55v0.55h-0.55zM68.3 595.9h0.55v0.55h-0.55zM74.2 591.2h0.55v0.55h-0.55zM62.1 581.6h0.55v0.55h-0.55zM64.1 611.2h0.55v0.55h-0.55zM75.6 584.8h0.55v0.55h-0.55zM64.0 587.2h0.55v0.55h-0.55zM78.9 586.3h0.55v0.55h-0.55zM76.8 580.5h0.55v0.55h-0.55zM44.1 595.8h0.55v0.55h-0.55zM62.5 604.3h0.55v0.55h-0.55zM78.5 578.4h0.55v0.55h-0.55zM52.3 580.6h0.55v0.55h-0.55zM47.8 581.9h0.55v0.55h-0.55zM84.0 574.6h0.55v0.55h-0.55zM97.6 609.9h0.55v0.55h-0.55zM61.9 579.1h0.55v0.55h-0.55zM69.0 606.3h0.55v0.55h-0.55zM58.7 581.2h0.55v0.55h-0.55zM85.8 614.8h0.55v0.55h-0.55zM68.5 584.6h0.55v0.55h-0.55zM61.5 601.2h0.55v0.55h-0.55zM75.8 582.4h0.55v0.55h-0.55zM72.1 601.2h0.55v0.55h-0.55zM59.1 616.8h0.55v0.55h-0.55zM65.7 575.7h0.55v0.55h-0.55zM66.6 585.2h0.55v0.55h-0.55zM46.7 584.0h0.55v0.55h-0.55zM85.6 614.2h0.55v0.55h-0.55zM72.7 629.3h0.55v0.55h-0.55zM96.1 601.3h0.55v0.55h-0.55zM65.7 649.1h0.55v0.55h-0.55zM82.2 570.7h0.55v0.55h-0.55zM75.9 590.6h0.55v0.55h-0.55zM60.2 641.6h0.55v0.55h-0.55zM107.4 586.6h0.55v0.55h-0.55zM69.0 578.6h0.55v0.55h-0.55zM63.4 592.4h0.55v0.55h-0.55zM79.5 581.4h0.55v0.55h-0.55zM62.4 614.5h0.55v0.55h-0.55zM63.7 587.0h0.55v0.55h-0.55zM75.7 590.0h0.55v0.55h-0.55zM48.9 636.8h0.55v0.55h-0.55zM58.2 617.6h0.55v0.55h-0.55zM68.7 605.0h0.55v0.55h-0.55zM101.0 577.5h0.55v0.55h-0.55zM62.4 639.3h0.55v0.55h-0.55zM66.7 607.3h0.55v0.55h-0.55zM94.1 604.5h0.55v0.55h-0.55zM101.7 584.7h0.55v0.55h-0.55zM51.7 616.0h0.55v0.55h-0.55zM59.3 613.6h0.55v0.55h-0.55zM61.6 588.4h0.55v0.55h-0.55zM52.5 624.5h0.55v0.55h-0.55zM83.4 616.6h0.55v0.55h-0.55zM49.3 576.7h0.55v0.55h-0.55zM52.4 584.0h0.55v0.55h-0.55zM68.2 603.7h0.55v0.55h-0.55zM64.5 605.9h0.55v0.55h-0.55zM73.2 582.0h0.55v0.55h-0.55zM71.3 574.4h0.55v0.55h-0.55zM63.2 590.3h0.55v0.55h-0.55zM66.1 587.4h0.55v0.55h-0.55zM57.2 618.3h0.55v0.55h-0.55zM73.3 581.7h0.55v0.55h-0.55zM67.3 633.3h0.55v0.55h-0.55zM84.1 567.5h0.55v0.55h-0.55zM73.5 591.0h0.55v0.55h-0.55zM63.4 586.1h0.55v0.55h-0.55zM89.0 639.6h0.55v0.55h-0.55zM72.5 583.4h0.55v0.55h-0.55zM72.1 594.9h0.55v0.55h-0.55zM81.7 617.9h0.55v0.55h-0.55zM84.4 637.0h0.55v0.55h-0.55zM105.8 576.4h0.55v0.55h-0.55zM60.1 578.0h0.55v0.55h-0.55zM60.2 599.7h0.55v0.55h-0.55zM65.1 603.5h0.55v0.55h-0.55zM75.9 631.8h0.55v0.55h-0.55zM56.5 582.5h0.55v0.55h-0.55zM55.2 642.3h0.55v0.55h-0.55zM83.9 637.5h0.55v0.55h-0.55zM50.6 590.0h0.55v0.55h-0.55zM103.0 567.7h0.55v0.55h-0.55zM59.9 587.5h0.55v0.55h-0.55zM92.3 613.0h0.55v0.55h-0.55zM44.4 599.0h0.55v0.55h-0.55zM117.8 577.0h0.55v0.55h-0.55zM65.9 594.0h0.55v0.55h-0.55zM62.7 583.1h0.55v0.55h-0.55zM68.8 582.7h0.55v0.55h-0.55zM81.8 615.7h0.55v0.55h-0.55zM72.2 579.9h0.55v0.55h-0.55zM62.5 603.6h0.55v0.55h-0.55zM89.3 614.3h0.55v0.55h-0.55zM64.6 588.4h0.55v0.55h-0.55zM71.3 602.6h0.55v0.55h-0.55zM97.3 599.6h0.55v0.55h-0.55zM55.9 611.9h0.55v0.55h-0.55zM51.4 635.4h0.55v0.55h-0.55zM56.7 579.9h0.55v0.55h-0.55zM62.8 643.0h0.55v0.55h-0.55zM102.9 580.3h0.55v0.55h-0.55zM77.8 635.6h0.55v0.55h-0.55zM101.7 597.8h0.55v0.55h-0.55zM74.8 593.0h0.55v0.55h-0.55zM69.1 580.9h0.55v0.55h-0.55zM59.4 593.8h0.55v0.55h-0.55zM60.9 589.1h0.55v0.55h-0.55zM105.9 587.8h0.55v0.55h-0.55zM96.4 621.9h0.55v0.55h-0.55zM74.7 587.2h0.55v0.55h-0.55zM107.7 594.2h0.55v0.55h-0.55zM58.2 576.0h0.55v0.55h-0.55zM69.1 601.7h0.55v0.55h-0.55zM61.4 577.9h0.55v0.55h-0.55zM97.4 608.5h0.55v0.55h-0.55zM104.9 574.5h0.55v0.55h-0.55zM104.2 577.6h0.55v0.55h-0.55zM87.3 611.2h0.55v0.55h-0.55zM45.6 644.4h0.55v0.55h-0.55zM52.6 577.0h0.55v0.55h-0.55zM49.4 584.6h0.55v0.55h-0.55zM103.2 587.3h0.55v0.55h-0.55zM67.7 583.4h0.55v0.55h-0.55zM77.3 639.2h0.55v0.55h-0.55zM61.4 596.1h0.55v0.55h-0.55zM90.9 613.2h0.55v0.55h-0.55zM71.8 583.5h0.55v0.55h-0.55zM71.2 594.6h0.55v0.55h-0.55zM58.4 597.6h0.55v0.55h-0.55zM106.1 578.2h0.55v0.55h-0.55zM67.2 607.2h0.55v0.55h-0.55zM37.9 631.6h0.55v0.55h-0.55zM54.2 579.0h0.55v0.55h-0.55zM48.4 583.7h0.55v0.55h-0.55zM86.3 639.3h0.55v0.55h-0.55zM74.7 579.3h0.55v0.55h-0.55zM71.2 602.5h0.55v0.55h-0.55zM53.8 580.4h0.55v0.55h-0.55zM54.1 636.4h0.55v0.55h-0.55zM59.7 589.1h0.55v0.55h-0.55zM63.0 594.0h0.55v0.55h-0.55zM58.2 599.0h0.55v0.55h-0.55zM105.4 571.9h0.55v0.55h-0.55zM75.0 582.4h0.55v0.55h-0.55zM73.9 590.2h0.55v0.55h-0.55zM99.3 598.3h0.55v0.55h-0.55zM63.7 638.1h0.55v0.55h-0.55zM68.0 589.7h0.55v0.55h-0.55zM57.4 589.0h0.55v0.55h-0.55zM91.2 606.7h0.55v0.55h-0.55zM62.2 567.0h0.55v0.55h-0.55zM61.9 612.8h0.55v0.55h-0.55zM98.7 604.3h0.55v0.55h-0.55zM58.4 587.5h0.55v0.55h-0.55zM81.7 616.3h0.55v0.55h-0.55zM74.6 586.0h0.55v0.55h-0.55zM60.5 591.1h0.55v0.55h-0.55zM88.6 614.0h0.55v0.55h-0.55zM65.0 584.1h0.55v0.55h-0.55zM52.5 616.3h0.55v0.55h-0.55zM80.9 618.2h0.55v0.55h-0.55zM68.0 595.7h0.55v0.55h-0.55zM60.3 587.6h0.55v0.55h-0.55zM59.4 617.9h0.55v0.55h-0.55zM90.5 608.5h0.55v0.55h-0.55zM50.0 584.4h0.55v0.55h-0.55zM60.3 610.2h0.55v0.55h-0.55zM61.8 608.2h0.55v0.55h-0.55zM50.4 597.8h0.55v0.55h-0.55zM47.2 627.7h0.55v0.55h-0.55zM64.5 567.0h0.55v0.55h-0.55zM100.4 582.5h0.55v0.55h-0.55zM85.3 614.9h0.55v0.55h-0.55zM68.1 572.6h0.55v0.55h-0.55zM92.4 605.7h0.55v0.55h-0.55zM70.4 601.6h0.55v0.55h-0.55zM69.1 601.6h0.55v0.55h-0.55zM51.4 584.7h0.55v0.55h-0.55zM47.4 642.0h0.55v0.55h-0.55zM67.3 601.8h0.55v0.55h-0.55zM56.8 583.1h0.55v0.55h-0.55zM84.1 612.6h0.55v0.55h-0.55zM44.0 630.5h0.55v0.55h-0.55zM80.5 580.3h0.55v0.55h-0.55zM58.5 585.9h0.55v0.55h-0.55zM68.5 606.7h0.55v0.55h-0.55zM71.0 584.8h0.55v0.55h-0.55zM80.3 638.9h0.55v0.55h-0.55zM109.0 566.1h0.55v0.55h-0.55zM47.9 567.2h0.55v0.55h-0.55zM75.4 593.6h0.55v0.55h-0.55zM84.2 638.5h0.55v0.55h-0.55zM49.4 607.1h0.55v0.55h-0.55zM83.2 614.6h0.55v0.55h-0.55zM78.1 579.8h0.55v0.55h-0.55zM52.0 586.0h0.55v0.55h-0.55zM44.8 582.7h0.55v0.55h-0.55zM112.7 572.5h0.55v0.55h-0.55zM95.8 617.5h0.55v0.55h-0.55zM67.9 605.3h0.55v0.55h-0.55zM53.0 623.2h0.55v0.55h-0.55zM102.6 566.6h0.55v0.55h-0.55zM47.2 588.4h0.55v0.55h-0.55zM71.2 638.2h0.55v0.55h-0.55zM88.9 608.4h0.55v0.55h-0.55z" fill="#8a8a8a"/>
<path d="M94.4 636.1 L93.6 636.2 L92.9 636.3 L92.1 636.3 L91.4 636.3 L90.6 636.3 L89.9 636.2 L89.1 636.2 L88.6 636.1 L87.9 636.0 L87.1 635.9 L86.6 635.8 L85.9 635.7 L85.4 635.6 L84.7 635.4 L84.1 635.2 L83.6 635.1 L83.0 634.9 L82.4 634.6 L81.9 634.5 L81.4 634.3 L80.9 634.0 L80.4 633.8 L79.9 633.5 L79.4 633.3 L78.9 633.0 L78.4 632.7 L77.9 632.4 L77.5 632.1 L77.1 631.8 L76.6 631.4 L76.3 631.1 L75.9 630.7 L75.6 630.4 L75.1 629.9 L74.9 629.6 L74.6 629.1 L74.2 628.6 L73.9 628.1 L73.6 627.7 L73.4 627.4 L72.9 627.0 L72.1 627.1 L71.6 627.3 L71.1 627.6 L70.8 627.9 L70.4 628.2 L69.9 628.6 L69.5 628.9 L69.1 629.2 L68.6 629.6 L68.3 629.9 L67.9 630.2 L67.4 630.6 L67.0 630.9 L66.6 631.1 L66.1 631.5 L65.6 631.8 L65.2 632.1 L64.8 632.4 L64.4 632.6 L63.9 632.9 L63.4 633.2 L62.9 633.5 L62.4 633.7 L61.9 634.0 L61.4 634.2 L60.9 634.4 L60.4 634.6 L59.7 634.9 L59.1 635.1 L58.6 635.2 L58.1 635.4 L57.4 635.6 L56.9 635.7 L56.1 635.8 L55.6 635.9 L54.9 636.0 L54.1 636.0 L53.4 635.9 L52.9 635.8 L52.1 635.7 L51.6 635.5 L51.1 635.2 L50.7 634.9 L50.4 634.5 L50.1 634.1 L49.8 633.6 L49.6 632.9 L49.6 632.4 L49.6 631.6 L49.7 631.1 L49.8 630.4 L50.0 629.9 L50.2 629.4 L50.4 628.9 L50.7 628.4 L50.9 627.9 L51.3 627.4 L51.6 626.9 L51.9 626.5 L52.1 626.1 L52.5 625.6 L52.9 625.2 L53.1 624.9 L53.6 624.4 L53.9 624.1 L54.3 623.6 L54.6 623.3 L55.1 622.9 L55.4 622.6 L55.9 622.2 L56.2 621.9 L56.6 621.5 L57.1 621.1 L57.4 620.9 L57.9 620.5 L58.3 620.1 L58.6 619.9 L59.1 619.4 L59.5 619.1 L59.9 618.8 L60.4 618.4 L60.6 618.1 L61.1 617.7 L61.4 617.4 L61.8 616.9 L62.1 616.5 L62.4 616.1 L62.8 615.6 L63.1 615.2 L63.4 614.8 L63.6 614.4 L63.9 613.9 L64.2 613.4 L64.5 612.9 L64.8 612.4 L65.1 611.9 L65.4 611.5 L65.6 611.1 L66.0 610.6 L66.3 610.1 L66.6 609.6 L66.9 609.3 L67.1 608.9 L67.5 608.4 L67.9 607.9 L68.1 607.5 L68.4 607.1 L68.8 606.6 L69.1 606.2 L69.4 605.9 L69.8 605.4 L70.1 604.9 L70.4 604.6 L70.8 604.1 L71.1 603.7 L71.4 603.4 L71.8 602.9 L72.1 602.4 L72.4 602.1 L72.7 601.6 L73.0 601.1 L73.4 600.6 L73.6 600.2 L73.9 599.8 L74.1 599.4 L74.4 598.9 L74.6 598.3 L74.9 597.7 L75.1 597.1 L75.2 596.6 L75.4 596.1 L75.6 595.4 L75.7 594.9 L75.9 594.3 L76.1 593.6 L76.2 593.1 L76.4 592.5 L76.6 591.9 L76.7 591.4 L76.9 590.9 L77.1 590.3 L77.4 589.7 L77.6 589.1 L77.8 588.6 L78.1 588.1 L78.3 587.6 L78.6 587.1 L78.9 586.6 L79.1 586.2 L79.4 585.7 L79.6 585.3 L79.9 584.9 L80.2 584.4 L80.6 583.9 L80.9 583.5 L81.1 583.1 L81.5 582.6 L81.9 582.2 L82.1 581.9 L82.6 581.4 L82.9 581.1 L83.3 580.6 L83.6 580.3 L84.1 579.9 L84.4 579.6 L84.9 579.2 L85.2 578.9 L85.6 578.6 L86.1 578.2 L86.6 577.9 L87.0 577.6 L87.4 577.4 L87.9 577.1 L88.4 576.8 L88.9 576.6 L89.4 576.4 L90.1 576.1 L90.6 576.0 L91.1 575.8 L91.9 575.7 L92.6 575.6 L93.4 575.6 L94.1 575.7 L94.9 575.9 L95.4 576.0 L95.9 576.2 L96.4 576.4 L96.9 576.8 L97.4 577.1 L97.7 577.4 L98.1 577.9 L98.4 578.1 L98.7 578.6 L99.0 579.1 L99.3 579.6 L99.5 580.1 L99.7 580.6 L99.9 581.1 L100.1 581.9 L100.2 582.4 L100.4 583.1 L100.4 583.6 L100.5 584.4 L100.5 585.1 L100.5 585.9 L100.5 586.6 L100.4 587.4 L100.4 587.9 L100.3 588.6 L100.1 589.3 L100.0 589.9 L99.9 590.5 L99.7 591.1 L99.6 591.6 L99.4 592.3 L99.2 592.9 L99.0 593.4 L98.8 593.9 L98.6 594.4 L98.4 595.0 L98.1 595.5 L97.9 596.0 L97.6 596.6 L97.4 597.0 L97.1 597.5 L96.9 598.0 L96.6 598.4 L96.3 598.9 L96.0 599.4 L95.7 599.9 L95.4 600.3 L95.1 600.7 L94.8 601.1 L94.4 601.6 L94.1 602.0 L93.8 602.4 L93.4 602.9 L93.1 603.2 L92.8 603.6 L92.4 604.0 L92.1 604.4 L91.6 604.8 L91.3 605.1 L90.9 605.6 L90.6 605.9 L90.1 606.3 L89.8 606.6 L89.4 607.1 L89.0 607.4 L88.6 607.8 L88.3 608.1 L87.9 608.5 L87.5 608.9 L87.1 609.3 L86.8 609.6 L86.4 610.1 L86.1 610.4 L85.6 610.9 L85.4 611.2 L85.0 611.6 L84.6 612.0 L84.3 612.4 L83.9 612.8 L83.6 613.1 L83.2 613.6 L82.9 614.0 L82.5 614.4 L82.1 614.8 L81.9 615.1 L81.4 615.6 L81.1 616.0 L80.8 616.4 L80.4 616.9 L80.1 617.2 L79.8 617.6 L79.4 618.1 L79.1 618.6 L78.9 619.1 L78.8 619.6 L79.1 619.9 L79.9 620.0 L80.6 620.0 L81.4 619.9 L81.9 619.9 L82.6 619.8 L83.4 619.7 L84.1 619.7 L84.9 619.7 L85.6 619.7 L86.4 619.7 L87.1 619.8 L87.9 619.8 L88.4 619.9 L89.1 620.0 L89.9 620.1 L90.4 620.2 L91.1 620.4 L91.6 620.5 L92.1 620.6 L92.9 620.8 L93.4 621.0 L93.9 621.2 L94.5 621.4 L95.1 621.6 L95.6 621.8 L96.1 622.1 L96.6 622.3 L97.1 622.6 L97.6 622.8 L98.1 623.1 L98.5 623.4 L98.9 623.6 L99.4 624.0 L99.9 624.3 L100.2 624.6 L100.6 625.0 L101.0 625.4 L101.4 625.8 L101.7 626.1 L102.0 626.6 L102.3 627.1 L102.6 627.6 L102.8 628.1 L103.0 628.6 L103.1 629.4 L103.1 630.1 L103.0 630.9 L102.8 631.4 L102.6 631.9 L102.3 632.4 L101.9 632.9 L101.6 633.2 L101.2 633.6 L100.8 633.9 L100.4 634.2 L99.9 634.5 L99.4 634.8 L98.9 635.0 L98.4 635.2 L97.9 635.4 L97.1 635.6 L96.6 635.7 L96.0 635.9 L95.4 636.0 L94.6 636.1" fill="none" stroke="#8e8e8e" stroke-width="0.6"/>
<path d="M57.4 634.2 L56.6 634.3 L55.9 634.3 L55.1 634.3 L54.4 634.2 L53.9 634.1 L53.3 633.9 L52.8 633.6 L52.4 633.2 L52.1 632.9 L51.8 632.4 L51.6 631.6 L51.6 631.1 L51.6 630.6 L51.8 629.9 L51.9 629.4 L52.1 628.9 L52.4 628.3 L52.6 627.8 L52.9 627.4 L53.2 626.9 L53.5 626.4 L53.9 625.9 L54.1 625.6 L54.5 625.1 L54.9 624.7 L55.2 624.4 L55.6 624.0 L56.0 623.6 L56.4 623.2 L56.8 622.9 L57.1 622.5 L57.6 622.1 L57.9 621.9 L58.4 621.5 L58.8 621.1 L59.2 620.9 L59.6 620.5 L60.1 620.1 L60.4 619.9 L60.9 619.5 L61.4 619.1 L61.7 618.9 L62.1 618.5 L62.5 618.1 L62.9 617.7 L63.2 617.4 L63.6 616.9 L63.9 616.6 L64.2 616.1 L64.5 615.6 L64.8 615.1 L65.1 614.6 L65.4 614.2 L65.6 613.8 L65.9 613.4 L66.2 612.9 L66.4 612.4 L66.8 611.9 L67.1 611.4 L67.4 610.9 L67.6 610.5 L67.9 610.1 L68.2 609.6 L68.6 609.1 L68.9 608.7 L69.1 608.3 L69.5 607.9 L69.8 607.4 L70.1 607.0 L70.4 606.6 L70.8 606.1 L71.1 605.7 L71.4 605.4 L71.8 604.9 L72.1 604.5 L72.4 604.1 L72.9 603.6 L73.1 603.3 L73.5 602.9 L73.9 602.4 L74.1 602.1 L74.5 601.6 L74.8 601.1 L75.1 600.7 L75.4 600.3 L75.7 599.9 L75.9 599.4 L76.2 598.9 L76.5 598.4 L76.7 597.9 L76.9 597.4 L77.1 596.6 L77.3 596.1 L77.4 595.6 L77.6 595.0 L77.8 594.4 L77.9 593.9 L78.1 593.2 L78.3 592.6 L78.5 592.1 L78.6 591.6 L78.9 590.9 L79.1 590.4 L79.3 589.9 L79.5 589.4 L79.8 588.9 L80.0 588.4 L80.3 587.9 L80.5 587.4 L80.8 586.9 L81.1 586.4 L81.4 586.0 L81.6 585.6 L82.0 585.1 L82.3 584.6 L82.6 584.3 L82.9 583.9 L83.4 583.4 L83.6 583.1 L84.1 582.6 L84.4 582.3 L84.8 581.9 L85.1 581.6 L85.6 581.2 L86.0 580.9 L86.4 580.6 L86.9 580.3 L87.4 580.0 L87.9 579.7 L88.4 579.4 L88.9 579.2 L89.4 579.0 L89.9 578.8 L90.6 578.6 L91.1 578.5 L91.9 578.5 L92.6 578.5 L93.4 578.6 L93.9 578.7 L94.4 578.9 L94.9 579.1 L95.4 579.4 L95.9 579.8 L96.2 580.1 L96.6 580.6 L96.9 580.9 L97.2 581.4 L97.4 581.9 L97.6 582.4 L97.9 583.0 L98.0 583.6 L98.1 584.1 L98.3 584.9 L98.3 585.6 L98.4 586.4 L98.4 587.1 L98.3 587.9 L98.2 588.6 L98.1 589.4 L98.0 589.9 L97.9 590.6 L97.8 591.1 L97.6 591.6 L97.4 592.4 L97.2 592.9 L97.0 593.4 L96.9 593.9 L96.6 594.4 L96.4 595.0 L96.1 595.5 L95.9 596.0 L95.6 596.5 L95.4 597.0 L95.1 597.4 L94.9 597.9 L94.5 598.4 L94.2 598.9 L93.9 599.4 L93.6 599.7 L93.3 600.1 L92.9 600.6 L92.6 601.0 L92.3 601.4 L91.9 601.9 L91.6 602.2 L91.3 602.6 L90.9 603.0 L90.6 603.4 L90.1 603.8 L89.9 604.1 L89.4 604.6 L89.1 604.9 L88.7 605.4 L88.4 605.7 L87.9 606.1 L87.6 606.5 L87.2 606.9 L86.9 607.3 L86.6 607.6 L86.1 608.1 L85.9 608.4 L85.5 608.9 L85.1 609.3 L84.8 609.6 L84.4 610.1 L84.1 610.5 L83.8 610.9 L83.4 611.4 L83.1 611.7 L82.7 612.1 L82.4 612.5 L82.1 612.9 L81.7 613.4 L81.4 613.7 L81.0 614.1 L80.6 614.6 L80.4 614.9 L79.9 615.4 L79.6 615.7 L79.3 616.1 L78.9 616.6 L78.6 616.9 L78.1 617.4 L77.9 617.7 L77.5 618.1 L77.1 618.5 L76.8 618.9 L76.4 619.4 L76.1 619.8 L75.9 620.1 L75.5 620.6 L75.1 621.1 L74.9 621.5 L74.6 621.9 L74.3 622.4 L73.9 622.9 L73.6 623.2 L73.3 623.6 L72.9 624.0 L72.5 624.4 L72.1 624.8 L71.8 625.1 L71.4 625.5 L71.0 625.9 L70.6 626.2 L70.2 626.6 L69.9 627.0 L69.4 627.4 L69.1 627.7 L68.6 628.1 L68.3 628.4 L67.9 628.8 L67.4 629.1 L67.1 629.4 L66.6 629.8 L66.1 630.1 L65.8 630.4 L65.4 630.7 L64.9 631.0 L64.4 631.3 L63.9 631.6 L63.4 631.9 L62.9 632.1 L62.5 632.4 L62.0 632.6 L61.4 632.9 L60.9 633.1 L60.4 633.3 L59.9 633.5 L59.4 633.7 L58.7 633.9 L58.1 634.0 L57.6 634.1 M94.4 635.1 L93.6 635.2 L92.9 635.3 L92.1 635.3 L91.4 635.4 L90.6 635.4 L89.9 635.3 L89.1 635.3 L88.4 635.2 L87.9 635.1 L87.1 635.0 L86.5 634.9 L85.9 634.7 L85.4 634.6 L84.6 634.4 L84.1 634.3 L83.6 634.1 L83.0 633.9 L82.4 633.6 L81.9 633.4 L81.4 633.2 L80.9 632.9 L80.4 632.7 L79.9 632.4 L79.5 632.1 L79.1 631.9 L78.6 631.6 L78.1 631.2 L77.8 630.9 L77.4 630.5 L77.0 630.1 L76.6 629.6 L76.4 629.3 L76.1 628.9 L75.8 628.4 L75.6 627.9 L75.4 627.2 L75.3 626.6 L75.2 625.9 L75.3 625.1 L75.5 624.6 L75.7 624.1 L76.0 623.6 L76.4 623.3 L76.8 622.9 L77.2 622.6 L77.6 622.4 L78.1 622.1 L78.7 621.9 L79.3 621.6 L79.9 621.4 L80.4 621.3 L81.0 621.1 L81.6 621.0 L82.3 620.9 L82.9 620.8 L83.6 620.7 L84.4 620.7 L85.1 620.6 L85.9 620.6 L86.6 620.7 L87.4 620.7 L88.1 620.8 L88.8 620.9 L89.4 621.0 L90.1 621.1 L90.6 621.2 L91.4 621.4 L91.9 621.5 L92.4 621.7 L93.1 621.9 L93.6 622.1 L94.1 622.3 L94.6 622.5 L95.1 622.7 L95.6 622.9 L96.1 623.2 L96.6 623.4 L97.1 623.7 L97.6 624.1 L98.1 624.4 L98.4 624.6 L98.9 625.0 L99.3 625.4 L99.6 625.7 L100.0 626.1 L100.4 626.6 L100.6 627.0 L100.9 627.4 L101.1 628.0 L101.3 628.6 L101.4 629.1 L101.4 629.9 L101.4 630.4 L101.2 631.1 L100.9 631.6 L100.6 632.0 L100.4 632.4 L99.9 632.9 L99.5 633.1 L99.1 633.4 L98.6 633.7 L98.1 634.0 L97.6 634.2 L97.1 634.4 L96.5 634.6 L95.9 634.8 L95.4 634.9 L94.6 635.1" fill="none" stroke="#868686" stroke-width="0.6"/>
<path d="M57.9 632.9 L57.1 633.0 L56.4 633.0 L55.6 632.9 L55.1 632.8 L54.6 632.6 L54.1 632.2 L53.8 631.9 L53.5 631.4 L53.4 630.9 L53.3 630.1 L53.4 629.6 L53.6 628.9 L53.7 628.4 L54.0 627.9 L54.2 627.4 L54.5 626.9 L54.9 626.4 L55.1 626.0 L55.4 625.6 L55.9 625.1 L56.1 624.8 L56.6 624.4 L56.9 624.1 L57.3 623.6 L57.6 623.3 L58.1 622.9 L58.5 622.6 L58.9 622.3 L59.4 621.9 L59.7 621.6 L60.1 621.3 L60.6 620.9 L61.0 620.6 L61.4 620.4 L61.9 620.0 L62.4 619.6 L62.7 619.4 L63.1 619.0 L63.6 618.6 L63.9 618.3 L64.3 617.9 L64.6 617.5 L65.0 617.1 L65.3 616.6 L65.6 616.2 L65.9 615.8 L66.1 615.4 L66.4 614.9 L66.7 614.4 L66.9 613.9 L67.2 613.4 L67.5 612.9 L67.8 612.4 L68.1 611.9 L68.4 611.4 L68.6 611.0 L68.9 610.6 L69.2 610.1 L69.5 609.6 L69.9 609.1 L70.1 608.8 L70.4 608.4 L70.8 607.9 L71.1 607.4 L71.4 607.1 L71.8 606.6 L72.1 606.2 L72.4 605.9 L72.8 605.4 L73.1 605.0 L73.4 604.6 L73.9 604.1 L74.1 603.8 L74.5 603.4 L74.9 602.9 L75.1 602.6 L75.5 602.1 L75.9 601.7 L76.1 601.4 L76.5 600.9 L76.9 600.4 L77.1 600.0 L77.4 599.6 L77.6 599.1 L77.9 598.6 L78.1 598.1 L78.4 597.6 L78.6 596.9 L78.8 596.4 L79.0 595.9 L79.1 595.3 L79.3 594.6 L79.5 594.1 L79.6 593.6 L79.8 592.9 L80.0 592.4 L80.2 591.9 L80.4 591.3 L80.6 590.7 L80.9 590.1 L81.1 589.6 L81.3 589.1 L81.6 588.6 L81.9 588.1 L82.1 587.7 L82.4 587.3 L82.6 586.9 L83.0 586.4 L83.4 585.9 L83.6 585.5 L84.0 585.1 L84.4 584.7 L84.7 584.4 L85.1 583.9 L85.4 583.6 L85.9 583.2 L86.3 582.9 L86.7 582.6 L87.1 582.3 L87.6 582.0 L88.1 581.7 L88.6 581.5 L89.1 581.3 L89.6 581.1 L90.4 580.9 L90.9 580.9 L91.6 580.8 L92.2 580.9 L92.9 581.0 L93.4 581.2 L93.9 581.5 L94.4 581.8 L94.7 582.1 L95.1 582.6 L95.4 582.9 L95.6 583.4 L95.9 583.9 L96.1 584.5 L96.3 585.1 L96.4 585.6 L96.5 586.4 L96.6 587.1 L96.6 587.9 L96.5 588.6 L96.5 589.4 L96.4 589.9 L96.2 590.6 L96.1 591.1 L95.9 591.9 L95.8 592.4 L95.6 592.9 L95.4 593.5 L95.1 594.1 L94.9 594.6 L94.7 595.1 L94.4 595.6 L94.2 596.1 L93.9 596.6 L93.6 597.1 L93.4 597.5 L93.1 597.9 L92.8 598.4 L92.4 598.9 L92.1 599.3 L91.9 599.6 L91.5 600.1 L91.1 600.6 L90.9 600.9 L90.4 601.4 L90.1 601.7 L89.8 602.1 L89.4 602.5 L89.1 602.9 L88.6 603.4 L88.4 603.6 L87.9 604.1 L87.6 604.5 L87.3 604.9 L86.9 605.3 L86.6 605.6 L86.2 606.1 L85.9 606.5 L85.5 606.9 L85.1 607.4 L84.9 607.7 L84.5 608.1 L84.1 608.6 L83.9 608.9 L83.5 609.4 L83.1 609.9 L82.9 610.2 L82.5 610.6 L82.1 611.1 L81.9 611.5 L81.5 611.9 L81.1 612.4 L80.9 612.7 L80.5 613.1 L80.1 613.5 L79.8 613.9 L79.4 614.4 L79.1 614.7 L78.7 615.1 L78.4 615.5 L78.0 615.9 L77.6 616.3 L77.3 616.6 L76.9 617.1 L76.6 617.4 L76.1 617.9 L75.9 618.1 L75.4 618.6 L75.1 619.0 L74.8 619.4 L74.4 619.8 L74.1 620.1 L73.7 620.6 L73.4 621.1 L73.1 621.4 L72.8 621.9 L72.4 622.4 L72.1 622.7 L71.8 623.1 L71.4 623.6 L71.1 624.0 L70.8 624.4 L70.4 624.9 L70.1 625.2 L69.7 625.6 L69.4 626.0 L69.0 626.4 L68.6 626.8 L68.3 627.1 L67.9 627.5 L67.5 627.9 L67.1 628.2 L66.6 628.6 L66.3 628.9 L65.9 629.2 L65.4 629.5 L64.9 629.9 L64.5 630.1 L64.1 630.4 L63.6 630.7 L63.1 631.0 L62.6 631.2 L62.1 631.5 L61.6 631.7 L61.1 631.9 L60.6 632.1 L60.0 632.4 L59.4 632.6 L58.9 632.7 L58.1 632.8 M91.6 634.6 L90.9 634.6 L90.3 634.6 L89.6 634.6 L88.9 634.5 L88.1 634.4 L87.6 634.4 L86.9 634.2 L86.4 634.1 L85.6 634.0 L85.1 633.8 L84.5 633.6 L83.9 633.4 L83.4 633.2 L82.9 633.0 L82.4 632.8 L81.9 632.6 L81.4 632.3 L80.9 632.0 L80.4 631.7 L79.9 631.4 L79.5 631.1 L79.1 630.8 L78.6 630.4 L78.4 630.1 L77.9 629.6 L77.6 629.3 L77.4 628.9 L77.1 628.4 L76.9 627.9 L76.7 627.1 L76.6 626.6 L76.6 626.1 L76.8 625.4 L77.0 624.9 L77.3 624.4 L77.6 624.0 L78.0 623.6 L78.4 623.3 L78.9 623.0 L79.4 622.7 L79.9 622.5 L80.4 622.3 L80.9 622.1 L81.6 621.9 L82.1 621.7 L82.7 621.6 L83.4 621.5 L84.1 621.4 L84.9 621.4 L85.4 621.4 L86.1 621.4 L86.6 621.4 L87.4 621.4 L88.1 621.5 L88.9 621.6 L89.4 621.7 L90.1 621.8 L90.6 621.9 L91.4 622.1 L91.9 622.2 L92.4 622.4 L93.0 622.6 L93.6 622.8 L94.1 623.1 L94.6 623.3 L95.1 623.5 L95.6 623.8 L96.1 624.1 L96.6 624.4 L97.0 624.6 L97.4 624.9 L97.9 625.3 L98.2 625.6 L98.6 626.1 L98.9 626.4 L99.3 626.9 L99.6 627.4 L99.8 627.9 L100.0 628.4 L100.1 628.9 L100.2 629.6 L100.1 630.1 L99.9 630.9 L99.6 631.3 L99.4 631.7 L99.0 632.1 L98.6 632.5 L98.1 632.9 L97.7 633.1 L97.2 633.4 L96.7 633.6 L96.1 633.8 L95.6 634.0 L95.1 634.2 L94.4 634.3 L93.9 634.4 L93.1 634.5 L92.4 634.6 L91.7 634.6" fill="none" stroke="#7e7e7e" stroke-width="0.6"/>
<path d="M58.6 631.7 L57.9 631.7 L57.1 631.7 L56.6 631.6 L55.9 631.4 L55.6 631.1 L55.1 630.6 L54.9 630.1 L54.9 629.6 L54.9 629.1 L55.1 628.4 L55.2 627.9 L55.5 627.4 L55.8 626.9 L56.1 626.4 L56.4 626.0 L56.7 625.6 L57.1 625.1 L57.4 624.8 L57.8 624.4 L58.1 624.1 L58.6 623.6 L58.9 623.4 L59.4 623.0 L59.8 622.6 L60.1 622.4 L60.6 622.0 L61.1 621.6 L61.5 621.4 L61.9 621.1 L62.4 620.8 L62.9 620.4 L63.3 620.1 L63.6 619.9 L64.1 619.5 L64.6 619.1 L64.9 618.9 L65.4 618.4 L65.7 618.1 L66.1 617.6 L66.4 617.3 L66.6 616.9 L67.0 616.4 L67.2 615.9 L67.5 615.4 L67.7 614.9 L68.0 614.4 L68.2 613.9 L68.5 613.4 L68.8 612.9 L69.0 612.4 L69.3 611.9 L69.6 611.4 L69.9 610.9 L70.1 610.5 L70.4 610.1 L70.7 609.6 L71.1 609.1 L71.4 608.7 L71.6 608.4 L72.0 607.9 L72.4 607.4 L72.6 607.1 L73.0 606.6 L73.4 606.2 L73.7 605.9 L74.1 605.4 L74.4 605.1 L74.8 604.6 L75.1 604.2 L75.4 603.9 L75.9 603.4 L76.1 603.1 L76.5 602.6 L76.9 602.2 L77.2 601.9 L77.6 601.4 L77.9 601.0 L78.2 600.6 L78.5 600.1 L78.8 599.6 L79.1 599.1 L79.4 598.7 L79.6 598.1 L79.8 597.6 L80.0 597.1 L80.2 596.6 L80.4 596.1 L80.6 595.4 L80.7 594.9 L80.9 594.4 L81.1 593.6 L81.3 593.1 L81.4 592.6 L81.6 592.0 L81.9 591.4 L82.1 590.9 L82.3 590.4 L82.5 589.9 L82.8 589.4 L83.1 588.9 L83.4 588.4 L83.6 588.0 L83.9 587.6 L84.3 587.1 L84.6 586.7 L84.9 586.4 L85.3 585.9 L85.6 585.6 L86.1 585.1 L86.4 584.9 L86.9 584.5 L87.4 584.2 L87.9 583.9 L88.4 583.6 L88.9 583.4 L89.4 583.3 L90.0 583.1 L90.6 583.1 L91.4 583.1 L91.9 583.2 L92.4 583.4 L92.9 583.7 L93.4 584.1 L93.6 584.4 L94.0 584.9 L94.3 585.4 L94.5 585.9 L94.6 586.4 L94.8 587.1 L94.9 587.9 L94.9 588.4 L94.9 589.1 L94.8 589.6 L94.7 590.4 L94.6 591.0 L94.5 591.6 L94.3 592.1 L94.1 592.8 L93.9 593.4 L93.7 593.9 L93.5 594.4 L93.3 594.9 L93.0 595.4 L92.7 595.9 L92.5 596.4 L92.1 596.9 L91.9 597.3 L91.6 597.7 L91.3 598.1 L90.9 598.6 L90.6 599.0 L90.3 599.4 L89.9 599.9 L89.6 600.2 L89.3 600.6 L88.9 601.1 L88.6 601.4 L88.2 601.9 L87.9 602.2 L87.5 602.6 L87.1 603.1 L86.9 603.4 L86.4 603.9 L86.1 604.2 L85.8 604.6 L85.4 605.1 L85.1 605.5 L84.8 605.9 L84.4 606.4 L84.1 606.8 L83.9 607.1 L83.5 607.6 L83.1 608.1 L82.9 608.5 L82.6 608.9 L82.2 609.4 L81.9 609.8 L81.6 610.1 L81.3 610.6 L80.9 611.1 L80.6 611.4 L80.3 611.9 L79.9 612.3 L79.6 612.6 L79.2 613.1 L78.9 613.5 L78.5 613.9 L78.1 614.3 L77.8 614.6 L77.4 615.1 L77.1 615.4 L76.6 615.9 L76.4 616.1 L75.9 616.6 L75.6 616.9 L75.1 617.3 L74.8 617.6 L74.4 618.1 L74.1 618.4 L73.6 618.9 L73.4 619.1 L72.9 619.6 L72.6 620.0 L72.3 620.4 L72.0 620.9 L71.6 621.3 L71.4 621.7 L71.1 622.1 L70.7 622.6 L70.4 623.1 L70.1 623.5 L69.9 623.9 L69.5 624.4 L69.1 624.8 L68.9 625.1 L68.5 625.6 L68.1 626.0 L67.8 626.4 L67.4 626.8 L67.0 627.1 L66.6 627.5 L66.1 627.9 L65.8 628.1 L65.4 628.5 L64.9 628.9 L64.5 629.1 L64.1 629.4 L63.6 629.7 L63.1 630.0 L62.6 630.3 L62.1 630.5 L61.6 630.7 L61.1 631.0 L60.6 631.1 L59.9 631.4 L59.4 631.5 L58.8 631.6 M92.9 633.9 L92.1 634.0 L91.4 634.0 L90.6 634.0 L89.9 634.0 L89.1 634.0 L88.4 633.9 L87.9 633.8 L87.1 633.7 L86.6 633.6 L85.9 633.4 L85.4 633.3 L84.9 633.1 L84.2 632.9 L83.6 632.7 L83.1 632.5 L82.6 632.2 L82.1 632.0 L81.6 631.7 L81.1 631.4 L80.7 631.1 L80.4 630.9 L79.9 630.5 L79.5 630.1 L79.1 629.8 L78.8 629.4 L78.4 628.9 L78.1 628.4 L77.9 627.9 L77.8 627.4 L77.7 626.6 L77.8 625.9 L78.0 625.4 L78.3 624.9 L78.6 624.4 L78.9 624.1 L79.4 623.7 L79.9 623.4 L80.4 623.1 L80.9 622.9 L81.4 622.7 L81.9 622.5 L82.5 622.4 L83.1 622.2 L83.9 622.1 L84.4 622.1 L85.1 622.0 L85.9 622.0 L86.6 622.0 L87.4 622.0 L88.1 622.1 L88.6 622.2 L89.4 622.3 L89.9 622.4 L90.6 622.5 L91.1 622.7 L91.9 622.9 L92.4 623.0 L92.9 623.2 L93.4 623.4 L93.9 623.6 L94.4 623.9 L94.9 624.1 L95.4 624.4 L95.9 624.7 L96.4 625.1 L96.7 625.4 L97.1 625.7 L97.6 626.1 L97.9 626.5 L98.2 626.9 L98.5 627.4 L98.8 627.9 L98.9 628.4 L99.1 629.1 L99.0 629.9 L98.9 630.5 L98.6 631.0 L98.4 631.4 L97.9 631.9 L97.6 632.1 L97.1 632.5 L96.6 632.8 L96.1 633.0 L95.6 633.2 L95.1 633.4 L94.4 633.6 L93.9 633.7 L93.1 633.9" fill="none" stroke="#767676" stroke-width="0.6"/>
<path d="M59.9 630.4 L59.1 630.5 L58.4 630.6 L57.6 630.4 L57.1 630.2 L56.7 629.9 L56.4 629.4 L56.3 628.9 L56.4 628.3 L56.6 627.6 L56.8 627.1 L57.1 626.6 L57.4 626.2 L57.6 625.8 L58.0 625.4 L58.4 625.0 L58.7 624.6 L59.1 624.2 L59.5 623.9 L59.9 623.6 L60.4 623.2 L60.8 622.9 L61.1 622.6 L61.6 622.3 L62.1 621.9 L62.6 621.6 L63.0 621.4 L63.4 621.1 L63.9 620.8 L64.4 620.5 L64.9 620.2 L65.4 619.9 L65.8 619.6 L66.1 619.4 L66.6 619.0 L67.0 618.6 L67.4 618.2 L67.7 617.9 L68.0 617.4 L68.3 616.9 L68.5 616.4 L68.7 615.9 L68.9 615.4 L69.1 614.9 L69.4 614.2 L69.6 613.7 L69.9 613.1 L70.1 612.6 L70.4 612.1 L70.6 611.7 L70.9 611.2 L71.1 610.8 L71.4 610.4 L71.7 609.9 L72.1 609.4 L72.4 608.9 L72.6 608.6 L73.0 608.1 L73.4 607.7 L73.6 607.3 L74.0 606.9 L74.4 606.5 L74.7 606.1 L75.1 605.6 L75.4 605.4 L75.8 604.9 L76.1 604.6 L76.6 604.1 L76.9 603.8 L77.3 603.4 L77.6 603.0 L78.0 602.6 L78.4 602.2 L78.7 601.9 L79.1 601.4 L79.4 601.0 L79.7 600.6 L80.1 600.1 L80.4 599.6 L80.6 599.2 L80.9 598.7 L81.1 598.2 L81.3 597.6 L81.5 597.1 L81.7 596.6 L81.9 596.0 L82.1 595.4 L82.2 594.9 L82.4 594.2 L82.6 593.6 L82.7 593.1 L82.9 592.6 L83.1 592.0 L83.4 591.4 L83.6 590.9 L83.8 590.4 L84.1 589.9 L84.4 589.4 L84.6 589.0 L84.9 588.6 L85.3 588.1 L85.6 587.7 L86.0 587.4 L86.4 587.0 L86.8 586.6 L87.1 586.4 L87.6 586.0 L88.1 585.7 L88.6 585.5 L89.1 585.4 L89.9 585.2 L90.6 585.3 L91.1 585.4 L91.6 585.7 L92.1 586.1 L92.4 586.4 L92.7 586.9 L92.9 587.4 L93.1 588.1 L93.2 588.6 L93.3 589.4 L93.2 590.1 L93.1 590.9 L93.0 591.4 L92.9 592.1 L92.7 592.6 L92.5 593.1 L92.4 593.6 L92.1 594.2 L91.9 594.7 L91.6 595.2 L91.4 595.6 L91.1 596.1 L90.7 596.6 L90.4 597.1 L90.1 597.5 L89.9 597.9 L89.5 598.4 L89.1 598.8 L88.8 599.1 L88.4 599.6 L88.1 599.9 L87.7 600.4 L87.4 600.8 L87.1 601.1 L86.6 601.6 L86.4 601.9 L86.0 602.4 L85.6 602.8 L85.4 603.1 L85.0 603.6 L84.6 604.1 L84.4 604.5 L84.1 604.9 L83.7 605.4 L83.4 605.9 L83.1 606.3 L82.9 606.7 L82.6 607.1 L82.2 607.6 L81.9 608.1 L81.6 608.5 L81.4 608.9 L81.0 609.4 L80.6 609.9 L80.4 610.2 L80.1 610.6 L79.7 611.1 L79.4 611.5 L79.0 611.9 L78.6 612.4 L78.4 612.6 L77.9 613.1 L77.6 613.5 L77.2 613.9 L76.9 614.2 L76.5 614.6 L76.1 615.0 L75.7 615.4 L75.4 615.7 L74.9 616.1 L74.6 616.4 L74.1 616.7 L73.7 617.1 L73.4 617.4 L72.9 617.8 L72.5 618.1 L72.1 618.5 L71.8 618.9 L71.4 619.3 L71.1 619.7 L70.8 620.1 L70.5 620.6 L70.2 621.1 L69.9 621.6 L69.6 622.1 L69.4 622.6 L69.1 623.0 L68.9 623.5 L68.6 623.9 L68.3 624.4 L67.9 624.9 L67.6 625.2 L67.3 625.6 L66.9 626.1 L66.6 626.4 L66.1 626.8 L65.8 627.1 L65.4 627.5 L64.9 627.9 L64.5 628.1 L64.1 628.4 L63.6 628.8 L63.1 629.1 L62.6 629.3 L62.1 629.6 L61.6 629.8 L61.1 630.0 L60.6 630.2 L60.0 630.4 M92.6 633.4 L91.9 633.5 L91.1 633.5 L90.4 633.5 L89.6 633.5 L88.9 633.4 L88.3 633.4 L87.6 633.3 L86.9 633.1 L86.4 633.0 L85.8 632.9 L85.1 632.7 L84.6 632.5 L84.1 632.3 L83.6 632.1 L83.1 631.9 L82.6 631.6 L82.1 631.4 L81.6 631.0 L81.1 630.7 L80.7 630.4 L80.4 630.1 L79.9 629.6 L79.6 629.3 L79.3 628.9 L79.0 628.4 L78.8 627.9 L78.6 627.1 L78.6 626.9 L78.7 626.1 L78.9 625.6 L79.2 625.1 L79.6 624.6 L79.9 624.3 L80.4 623.9 L80.9 623.6 L81.4 623.4 L81.9 623.2 L82.4 623.0 L83.0 622.9 L83.6 622.7 L84.3 622.6 L84.9 622.6 L85.6 622.5 L86.4 622.5 L87.1 622.5 L87.9 622.6 L88.4 622.6 L89.1 622.7 L89.8 622.9 L90.4 623.0 L90.9 623.1 L91.6 623.3 L92.1 623.5 L92.6 623.7 L93.1 623.9 L93.6 624.1 L94.1 624.4 L94.6 624.6 L95.1 624.9 L95.6 625.3 L96.1 625.6 L96.4 625.9 L96.9 626.4 L97.1 626.7 L97.5 627.1 L97.8 627.6 L98.0 628.1 L98.1 628.6 L98.2 629.4 L98.1 629.9 L97.9 630.6 L97.6 631.0 L97.3 631.4 L96.9 631.8 L96.4 632.1 L96.0 632.4 L95.5 632.6 L94.9 632.9 L94.4 633.0 L93.9 633.2 L93.1 633.3 L92.6 633.4" fill="none" stroke="#6e6e6e" stroke-width="0.6"/>
<path d="M72.4 615.9 L71.6 615.9 L71.2 615.6 L71.1 615.1 L71.1 614.4 L71.2 613.9 L71.4 613.1 L71.6 612.6 L71.8 612.1 L72.0 611.6 L72.3 611.1 L72.6 610.6 L72.9 610.1 L73.1 609.8 L73.4 609.4 L73.8 608.9 L74.1 608.4 L74.4 608.1 L74.8 607.6 L75.1 607.2 L75.5 606.9 L75.9 606.4 L76.2 606.1 L76.6 605.7 L77.0 605.4 L77.4 605.0 L77.8 604.6 L78.1 604.3 L78.6 603.9 L79.0 603.6 L79.4 603.3 L79.8 602.9 L80.1 602.6 L80.6 602.2 L81.0 601.9 L81.4 601.5 L81.7 601.1 L82.1 600.6 L82.4 600.2 L82.6 599.7 L82.9 599.1 L83.1 598.6 L83.2 598.1 L83.4 597.5 L83.5 596.9 L83.6 596.4 L83.8 595.6 L83.9 595.1 L84.1 594.4 L84.2 593.9 L84.4 593.4 L84.6 592.7 L84.8 592.1 L85.1 591.6 L85.3 591.1 L85.6 590.6 L85.9 590.2 L86.1 589.9 L86.6 589.4 L86.9 589.1 L87.4 588.6 L87.8 588.4 L88.3 588.1 L88.9 587.9 L89.6 587.9 L90.2 588.1 L90.6 588.5 L90.9 588.9 L91.1 589.4 L91.3 590.1 L91.3 590.9 L91.2 591.6 L91.1 592.1 L90.9 592.9 L90.7 593.4 L90.5 593.9 L90.2 594.4 L90.0 594.9 L89.7 595.4 L89.4 595.8 L89.1 596.2 L88.8 596.6 L88.4 597.1 L88.1 597.4 L87.7 597.9 L87.4 598.2 L87.0 598.6 L86.6 599.0 L86.2 599.4 L85.9 599.7 L85.4 600.1 L85.1 600.4 L84.7 600.9 L84.4 601.3 L84.1 601.6 L83.7 602.1 L83.4 602.6 L83.2 603.1 L82.9 603.6 L82.6 604.1 L82.4 604.6 L82.1 605.1 L81.9 605.6 L81.6 606.1 L81.4 606.6 L81.1 607.0 L80.9 607.4 L80.6 607.9 L80.3 608.4 L80.0 608.9 L79.6 609.4 L79.4 609.7 L79.1 610.1 L78.7 610.6 L78.4 611.0 L78.1 611.4 L77.6 611.9 L77.4 612.2 L76.9 612.6 L76.6 612.9 L76.2 613.4 L75.9 613.6 L75.4 614.1 L75.0 614.4 L74.6 614.6 L74.1 615.0 L73.6 615.3 L73.1 615.6 L72.6 615.8 M60.4 629.2 L59.6 629.2 L58.9 629.1 L58.4 628.9 L58.1 628.5 L58.0 627.9 L58.1 627.3 L58.4 626.7 L58.6 626.3 L58.9 625.9 L59.3 625.4 L59.6 625.0 L60.0 624.6 L60.4 624.3 L60.9 623.9 L61.3 623.6 L61.6 623.4 L62.1 623.0 L62.6 622.7 L63.1 622.4 L63.6 622.2 L64.1 621.9 L64.6 621.7 L65.1 621.5 L65.6 621.3 L66.3 621.1 L66.9 621.1 L67.4 621.2 L67.7 621.6 L67.7 622.4 L67.6 622.9 L67.4 623.5 L67.1 624.0 L66.9 624.4 L66.6 624.9 L66.2 625.4 L65.9 625.7 L65.5 626.1 L65.1 626.5 L64.7 626.9 L64.4 627.1 L63.9 627.5 L63.4 627.9 L62.9 628.1 L62.5 628.4 L62.0 628.6 L61.4 628.9 L60.9 629.0 L60.4 629.2 M92.6 632.9 L91.9 633.0 L91.1 633.1 L90.4 633.1 L89.6 633.1 L88.9 633.0 L88.1 632.9 L87.6 632.8 L86.9 632.7 L86.4 632.6 L85.7 632.4 L85.1 632.2 L84.6 632.0 L84.1 631.8 L83.6 631.6 L83.1 631.3 L82.6 631.1 L82.1 630.7 L81.6 630.4 L81.3 630.1 L80.9 629.7 L80.5 629.4 L80.1 628.9 L79.9 628.4 L79.6 627.9 L79.5 627.4 L79.5 626.6 L79.6 626.0 L79.9 625.5 L80.1 625.1 L80.6 624.6 L81.0 624.4 L81.4 624.1 L81.9 623.9 L82.5 623.6 L83.1 623.4 L83.6 623.3 L84.4 623.1 L84.9 623.1 L85.6 623.0 L86.4 623.0 L87.1 623.0 L87.9 623.1 L88.5 623.1 L89.1 623.2 L89.9 623.4 L90.4 623.5 L90.9 623.6 L91.6 623.8 L92.1 624.0 L92.6 624.2 L93.1 624.4 L93.6 624.7 L94.1 625.0 L94.6 625.3 L95.1 625.6 L95.4 625.9 L95.9 626.3 L96.2 626.6 L96.6 627.1 L96.9 627.5 L97.1 628.0 L97.3 628.6 L97.4 629.4 L97.2 630.1 L96.9 630.6 L96.6 631.0 L96.3 631.4 L95.9 631.7 L95.4 632.0 L94.9 632.3 L94.4 632.5 L93.8 632.6 L93.1 632.8 L92.6 632.9" fill="none" stroke="#666666" stroke-width="0.6"/>
<path d="M75.6 610.9 L75.2 610.6 L75.4 610.0 L75.6 609.6 L76.0 609.1 L76.4 608.8 L76.9 608.4 L77.4 608.3 L77.4 608.9 L77.2 609.4 L76.9 609.8 L76.6 610.1 L76.1 610.6 L75.7 610.9 M90.6 632.6 L89.9 632.6 L89.4 632.6 L88.6 632.5 L87.9 632.4 L87.4 632.3 L86.6 632.2 L86.1 632.0 L85.6 631.9 L84.9 631.6 L84.4 631.4 L83.9 631.2 L83.4 630.9 L82.9 630.6 L82.5 630.4 L82.1 630.1 L81.6 629.7 L81.3 629.4 L80.9 628.9 L80.6 628.4 L80.4 627.9 L80.3 627.4 L80.3 626.6 L80.5 626.1 L80.7 625.6 L81.1 625.2 L81.5 624.9 L81.9 624.6 L82.4 624.3 L82.9 624.1 L83.5 623.9 L84.1 623.7 L84.7 623.6 L85.4 623.5 L86.1 623.5 L86.9 623.5 L87.6 623.5 L88.4 623.6 L88.9 623.7 L89.6 623.8 L90.1 623.9 L90.9 624.1 L91.4 624.3 L91.9 624.4 L92.4 624.6 L92.9 624.9 L93.4 625.1 L93.9 625.4 L94.4 625.8 L94.8 626.1 L95.1 626.4 L95.6 626.9 L95.9 627.2 L96.1 627.6 L96.4 628.1 L96.6 628.9 L96.5 629.6 L96.3 630.1 L96.0 630.6 L95.6 631.1 L95.2 631.4 L94.8 631.6 L94.4 631.9 L93.7 632.1 L93.1 632.3 L92.6 632.4 L91.9 632.5 L91.1 632.6 L90.6 632.6 M61.6 627.1 L60.9 627.1 L60.6 626.9 L60.6 626.3 L60.9 625.8 L61.3 625.4 L61.6 625.0 L62.1 624.6 L62.6 624.4 L63.1 624.1 L63.6 624.0 L64.4 624.0 L64.6 624.6 L64.4 625.1 L64.0 625.6 L63.6 626.0 L63.2 626.4 L62.8 626.6 L62.4 626.9 L61.7 627.1" fill="none" stroke="#5e5e5e" stroke-width="0.6"/>
<path d="M91.6 632.1 L90.9 632.2 L90.1 632.2 L89.4 632.2 L88.6 632.2 L88.1 632.1 L87.4 632.0 L86.9 631.8 L86.1 631.6 L85.6 631.5 L85.1 631.3 L84.6 631.1 L84.1 630.8 L83.6 630.6 L83.1 630.2 L82.6 629.9 L82.3 629.6 L81.9 629.1 L81.6 628.8 L81.3 628.4 L81.1 627.8 L81.0 627.1 L81.1 626.5 L81.4 626.0 L81.6 625.6 L82.1 625.2 L82.6 624.9 L83.1 624.6 L83.6 624.4 L84.1 624.3 L84.7 624.1 L85.4 624.0 L86.1 623.9 L86.9 623.9 L87.6 624.0 L88.4 624.0 L89.0 624.1 L89.6 624.2 L90.2 624.4 L90.9 624.6 L91.4 624.7 L91.9 624.9 L92.4 625.2 L92.9 625.4 L93.4 625.7 L93.9 626.0 L94.3 626.4 L94.6 626.7 L95.1 627.1 L95.4 627.6 L95.6 628.1 L95.8 628.6 L95.8 629.4 L95.6 630.0 L95.4 630.4 L94.9 630.9 L94.6 631.1 L94.1 631.4 L93.6 631.6 L92.9 631.9 L92.4 632.0 L91.7 632.1" fill="none" stroke="#565656" stroke-width="0.6"/>
<path d="M91.9 631.7 L91.1 631.8 L90.4 631.8 L89.6 631.8 L88.9 631.8 L88.1 631.7 L87.6 631.6 L86.9 631.4 L86.4 631.3 L85.8 631.1 L85.2 630.9 L84.7 630.6 L84.2 630.4 L83.8 630.1 L83.4 629.8 L82.9 629.4 L82.6 629.1 L82.2 628.6 L82.0 628.1 L81.8 627.6 L81.8 626.9 L82.0 626.4 L82.4 625.9 L82.6 625.6 L83.1 625.3 L83.6 625.0 L84.1 624.8 L84.8 624.6 L85.4 624.5 L86.1 624.4 L86.9 624.4 L87.6 624.4 L88.4 624.5 L89.1 624.6 L89.6 624.7 L90.3 624.9 L90.9 625.0 L91.4 625.2 L91.9 625.4 L92.4 625.7 L92.9 626.0 L93.4 626.3 L93.8 626.6 L94.1 627.0 L94.5 627.4 L94.8 627.9 L95.0 628.4 L95.1 629.1 L94.9 629.9 L94.6 630.3 L94.3 630.6 L93.9 630.9 L93.4 631.2 L92.9 631.4 L92.1 631.6" fill="none" stroke="#4e4e4e" stroke-width="0.6"/>
<path d="M91.1 631.4 L90.4 631.5 L89.6 631.5 L88.9 631.4 L88.4 631.4 L87.6 631.2 L87.1 631.1 L86.4 630.9 L85.9 630.7 L85.4 630.5 L84.9 630.3 L84.4 630.0 L83.9 629.6 L83.6 629.4 L83.1 628.9 L82.9 628.6 L82.6 628.0 L82.5 627.4 L82.6 626.8 L82.9 626.4 L83.4 625.9 L83.7 625.6 L84.2 625.4 L84.9 625.1 L85.4 625.0 L86.1 624.9 L86.6 624.9 L87.4 624.9 L87.9 624.9 L88.6 625.0 L89.4 625.1 L89.9 625.2 L90.4 625.4 L91.1 625.6 L91.6 625.8 L92.1 626.1 L92.6 626.4 L92.9 626.6 L93.4 627.0 L93.7 627.4 L94.1 627.9 L94.3 628.4 L94.4 628.9 L94.4 629.4 L94.1 629.9 L93.7 630.4 L93.4 630.6 L92.9 630.9 L92.3 631.1 L91.6 631.3 L91.1 631.4" fill="none" stroke="#464646" stroke-width="0.6"/>
<path d="M91.4 630.9 L90.6 631.1 L89.9 631.1 L89.1 631.1 L88.4 631.0 L87.6 630.9 L87.1 630.8 L86.6 630.6 L86.0 630.4 L85.5 630.1 L85.0 629.9 L84.6 629.6 L84.1 629.2 L83.8 628.9 L83.5 628.4 L83.3 627.9 L83.3 627.1 L83.6 626.6 L83.9 626.3 L84.4 625.9 L84.9 625.7 L85.4 625.5 L86.1 625.4 L86.6 625.3 L87.4 625.3 L88.1 625.3 L88.6 625.4 L89.4 625.5 L89.9 625.7 L90.5 625.9 L91.1 626.1 L91.6 626.4 L92.1 626.6 L92.4 626.9 L92.9 627.3 L93.2 627.6 L93.5 628.1 L93.7 628.6 L93.6 629.4 L93.4 629.8 L93.1 630.1 L92.6 630.5 L92.1 630.7 L91.6 630.9" fill="none" stroke="#3e3e3e" stroke-width="0.6"/>
<path d="M90.6 630.7 L89.9 630.7 L89.1 630.7 L88.4 630.6 L87.9 630.6 L87.1 630.4 L86.6 630.2 L86.1 630.0 L85.6 629.7 L85.1 629.4 L84.8 629.1 L84.4 628.7 L84.1 628.3 L84.0 627.6 L84.1 627.1 L84.5 626.6 L84.9 626.3 L85.4 626.1 L86.1 625.9 L86.6 625.8 L87.4 625.7 L88.1 625.8 L88.9 625.9 L89.4 626.0 L89.9 626.1 L90.6 626.4 L91.1 626.6 L91.6 626.9 L91.9 627.1 L92.4 627.5 L92.7 627.9 L92.9 628.4 L93.0 629.1 L92.7 629.6 L92.4 630.0 L91.9 630.3 L91.4 630.5 L90.8 630.6" fill="none" stroke="#363636" stroke-width="0.6"/>
<path d="M89.9 630.4 L89.1 630.4 L88.6 630.3 L87.9 630.2 L87.4 630.1 L86.7 629.9 L86.2 629.6 L85.8 629.4 L85.4 629.1 L84.9 628.6 L84.7 628.1 L84.7 627.4 L85.1 626.9 L85.4 626.6 L86.0 626.4 L86.6 626.2 L87.4 626.2 L88.1 626.2 L88.9 626.3 L89.4 626.4 L90.1 626.6 L90.6 626.8 L91.1 627.1 L91.5 627.4 L91.9 627.7 L92.2 628.1 L92.4 628.9 L92.1 629.5 L91.7 629.9 L91.1 630.1 L90.6 630.3 L89.9 630.4" fill="none" stroke="#303030" stroke-width="0.6"/>
<ellipse cx="60" cy="594.5" rx="5.2" ry="2.3" fill="none" stroke="#8a8a8a" stroke-width="0.5"/>
<polygon points="63.3,354.6 84.9,344.1 94.2,346.1 98.3,355.6 94.2,367.7 78.5,383.9 63.3,392 55.2,392 56.3,375.8" fill="none" stroke="#000" stroke-width="1.2" stroke-linejoin="round"/>
<polygon points="49.2,506.2 61.5,497.4 73.8,489.5 98.5,473.2 101.5,478.8 53.6,512.3" fill="none" stroke="#000" stroke-width="1.3" stroke-linejoin="round"/>
<polygon points="79.5,623.6 88.6,615.5 96.6,612.9 104.7,615.5 107.7,630.7 102.7,642.8 88.6,645.8 78.5,644.8 76,634.7" fill="none" stroke="#000" stroke-width="1.2" stroke-linejoin="round"/>
<clipPath id="hc203"><rect x="203.3" y="592.3" width="67.1" height="66.2"/></clipPath>
<g clip-path="url(#hc203)">
<line x1="203.3" y1="626.0" x2="270.4" y2="626.0" stroke="#c4c4c4" stroke-width="1.0"/>
<path d="M246.0 626.0 L246.0 625.8 L246.2 625.7 L246.5 625.5 L246.7 625.2 L246.9 624.9 L247.1 624.3 L247.3 623.6 L247.6 622.5 L247.8 621.3 L248.0 619.6 L248.2 617.7 L248.5 615.4 L248.7 612.8 L248.9 610.0 L249.1 607.0 L249.3 604.1 L249.6 601.4 L249.8 599.0 L250.0 597.0 L250.2 595.8 L250.5 595.2 L250.7 595.5 L250.9 596.6 L251.1 598.5 L251.3 601.0 L251.6 603.9 L251.8 607.0 L252.0 610.2 L252.2 613.2 L252.4 615.9 L252.7 618.3 L252.9 620.3 L253.1 621.9 L253.3 623.1 L253.6 624.0 L253.8 624.7 L254.0 625.2 L254.2 625.5 L254.4 625.7 L254.7 625.8 L254.7 626.0Z" fill="#dadada" stroke="#c4c4c4" stroke-width="0.7"/>
<path d="M228.7 642.5 L228.7 642.5 L229.2 642.4 L229.7 642.4 L230.2 642.3 L230.6 642.2 L231.1 642.1 L231.6 641.9 L232.1 641.6 L232.6 641.2 L233.1 640.8 L233.6 640.3 L234.1 639.7 L234.6 639.1 L235.1 638.5 L235.6 638.0 L236.1 637.6 L236.6 637.4 L237.0 637.3 L237.5 637.4 L238.0 637.7 L238.5 637.7 L239.0 634.4 L239.5 630.1 L240.0 624.9 L240.5 619.6 L241.0 615.1 L241.5 612.3 L242.0 611.9 L242.5 613.6 L243.0 617.0 L243.4 621.4 L243.9 626.2 L244.4 630.8 L244.9 634.6 L245.4 637.5 L245.9 639.5 L246.4 640.9 L246.9 641.7 L247.4 642.1 L247.9 642.3 L247.9 642.5Z" fill="#e27a68" stroke="#c3213f" stroke-width="0.9"/>
<line x1="203.3" y1="642.5" x2="270.4" y2="642.5" stroke="#c3213f" stroke-width="1.2"/>
<path d="M222.9 658.3 L222.9 658.1 L223.2 658.0 L223.4 657.8 L223.7 657.5 L223.9 657.1 L224.2 656.4 L224.4 655.6 L224.7 654.4 L224.9 652.9 L225.2 651.0 L225.4 648.8 L225.7 646.2 L226.0 643.3 L226.2 640.3 L226.5 637.3 L226.7 634.4 L227.0 632.0 L227.2 630.2 L227.5 629.0 L227.7 628.7 L228.0 629.2 L228.2 630.3 L228.5 632.1 L228.8 634.4 L229.0 637.1 L229.3 639.9 L229.5 642.7 L229.8 645.5 L230.0 648.0 L230.3 650.2 L230.5 652.1 L230.8 653.7 L231.0 654.9 L231.3 655.9 L231.5 656.7 L231.8 657.2 L232.1 657.6 L232.3 657.8 L232.6 658.0 L232.8 658.1 L232.8 658.3Z" fill="#94c9ee" fill-opacity="0.92" stroke="#3d9fd9" stroke-width="0.8"/>
</g>
<rect x="203.3" y="592.3" width="67.1" height="66.2" fill="none" stroke="#231f20" stroke-width="1.0"/>
<path d="M206.3 658.5 V660 M208.4 658.5 V660 M210.5 658.5 V660 M212.6 658.5 V660 M214.7 658.5 V660 M216.8 658.5 V660 M218.9 658.5 V660 M221.0 658.5 V660 M223.2 658.5 V660 M225.3 658.5 V660 M227.4 658.5 V660 M229.5 658.5 V660 M231.6 658.5 V660 M233.7 658.5 V660 M235.8 658.5 V660 M237.9 658.5 V660 M240.0 658.5 V660 M242.1 658.5 V660 M244.2 658.5 V660 M246.3 658.5 V660 M248.4 658.5 V660 M250.5 658.5 V660 M252.7 658.5 V660 M254.8 658.5 V660 M256.9 658.5 V660 M259.0 658.5 V660 M261.1 658.5 V660 M263.2 658.5 V660 M265.3 658.5 V660 M267.4 658.5 V660" stroke="#231f20" stroke-width="0.45"/>
<clipPath id="hc280"><rect x="280.0" y="592.3" width="66.8" height="66.2"/></clipPath>
<g clip-path="url(#hc280)">
<line x1="280.0" y1="626.0" x2="346.8" y2="626.0" stroke="#c4c4c4" stroke-width="1.0"/>
<path d="M284.0 626.0 L284.0 625.9 L284.4 625.9 L284.9 625.7 L285.3 625.5 L285.8 625.2 L286.2 624.8 L286.7 624.1 L287.1 623.3 L287.6 622.2 L288.0 620.8 L288.5 619.3 L288.9 617.7 L289.4 616.2 L289.8 614.8 L290.3 613.8 L290.7 613.2 L291.2 613.2 L291.6 613.7 L292.1 614.6 L292.6 612.1 L293.0 608.6 L293.5 605.1 L293.9 601.9 L294.4 599.4 L294.8 597.8 L295.3 597.4 L295.7 598.4 L296.2 600.6 L296.6 603.8 L297.1 607.6 L297.5 611.5 L298.0 615.1 L298.4 618.3 L298.9 620.8 L299.3 622.6 L299.8 623.9 L300.2 624.8 L300.7 625.3 L301.1 625.7 L301.6 625.8 L301.6 626.0Z" fill="#dadada" stroke="#c4c4c4" stroke-width="0.7"/>
<path d="M299.8 642.5 L299.8 642.3 L300.3 642.1 L300.8 641.6 L301.4 640.6 L301.9 639.0 L302.4 636.6 L302.9 633.0 L303.4 628.6 L303.9 623.6 L304.4 618.7 L304.9 614.8 L305.4 612.7 L305.9 612.8 L306.4 614.8 L306.9 618.2 L307.4 622.5 L307.9 627.1 L308.4 631.3 L308.9 634.9 L309.4 637.6 L309.9 639.6 L310.4 640.9 L310.9 641.6 L311.4 642.0 L311.9 642.1 L312.4 642.2 L312.9 642.2 L313.5 642.3 L314.0 642.3 L314.5 642.3 L315.0 642.4 L315.5 642.4 L316.0 642.4 L316.5 642.4 L317.0 642.4 L317.5 642.5 L318.0 642.5 L318.5 642.5 L319.0 642.5 L319.5 642.5 L319.5 642.5Z" fill="#e27a68" stroke="#c3213f" stroke-width="0.9"/>
<line x1="280.0" y1="642.5" x2="346.8" y2="642.5" stroke="#c3213f" stroke-width="1.2"/>
<path d="M311.5 658.3 L311.5 658.2 L311.9 658.2 L312.2 658.1 L312.6 658.0 L313.0 657.8 L313.4 657.6 L313.8 657.3 L314.2 656.8 L314.6 656.2 L315.0 655.5 L315.4 654.6 L315.8 653.6 L316.2 652.6 L316.6 651.5 L316.9 650.4 L317.3 649.5 L317.7 648.8 L318.1 648.4 L318.5 648.2 L318.9 648.4 L319.3 648.9 L319.7 646.5 L320.1 643.9 L320.5 641.0 L320.9 638.2 L321.3 635.5 L321.6 633.2 L322.0 631.3 L322.4 630.0 L322.8 629.5 L323.2 630.5 L323.6 634.1 L324.0 639.3 L324.4 645.0 L324.8 649.9 L325.2 653.5 L325.6 655.9 L326.0 657.2 L326.3 657.8 L326.7 658.1 L326.7 658.3Z" fill="#94c9ee" fill-opacity="0.92" stroke="#3d9fd9" stroke-width="0.8"/>
</g>
<rect x="280.0" y="592.3" width="66.8" height="66.2" fill="none" stroke="#231f20" stroke-width="1.0"/>
<path d="M283.0 658.5 V660 M285.1 658.5 V660 M287.2 658.5 V660 M289.3 658.5 V660 M291.4 658.5 V660 M293.5 658.5 V660 M295.6 658.5 V660 M297.7 658.5 V660 M299.8 658.5 V660 M301.9 658.5 V660 M304.0 658.5 V660 M306.1 658.5 V660 M308.2 658.5 V660 M310.3 658.5 V660 M312.4 658.5 V660 M314.4 658.5 V660 M316.5 658.5 V660 M318.6 658.5 V660 M320.7 658.5 V660 M322.8 658.5 V660 M324.9 658.5 V660 M327.0 658.5 V660 M329.1 658.5 V660 M331.2 658.5 V660 M333.3 658.5 V660 M335.4 658.5 V660 M337.5 658.5 V660 M339.6 658.5 V660 M341.7 658.5 V660 M343.8 658.5 V660" stroke="#231f20" stroke-width="0.45"/>
<clipPath id="hc358"><rect x="358.3" y="592.3" width="67.4" height="66.2"/></clipPath>
<g clip-path="url(#hc358)">
<line x1="358.3" y1="626.0" x2="425.7" y2="626.0" stroke="#c4c4c4" stroke-width="1.0"/>
<path d="M378.0 626.0 L378.0 626.0 L378.6 625.9 L379.1 625.9 L379.7 625.7 L380.2 625.5 L380.8 625.3 L381.3 624.9 L381.9 624.3 L382.4 623.6 L383.0 622.8 L383.5 622.0 L384.1 621.1 L384.6 620.3 L385.2 619.7 L385.7 619.4 L386.3 619.4 L386.8 619.7 L387.4 620.3 L387.9 621.1 L388.5 618.5 L389.0 614.6 L389.6 609.9 L390.1 604.9 L390.7 600.4 L391.2 597.1 L391.8 595.9 L392.3 596.6 L392.9 598.8 L393.4 602.0 L394.0 606.0 L394.5 610.2 L395.1 614.1 L395.6 617.5 L396.2 620.3 L396.7 622.3 L397.3 623.8 L397.8 624.7 L398.4 625.3 L398.9 625.6 L399.5 625.8 L399.5 626.0Z" fill="#dadada" stroke="#c4c4c4" stroke-width="0.7"/>
<path d="M386.0 642.5 L386.0 642.5 L386.6 642.4 L387.2 642.4 L387.8 642.3 L388.3 642.1 L388.9 641.9 L389.5 641.6 L390.1 641.2 L390.6 640.6 L391.2 640.0 L391.8 639.2 L392.4 638.4 L392.9 637.7 L393.5 637.0 L394.1 636.5 L394.6 636.2 L395.2 636.2 L395.8 636.4 L396.4 635.1 L396.9 633.3 L397.5 631.3 L398.1 629.2 L398.7 626.8 L399.2 624.5 L399.8 622.1 L400.4 619.9 L401.0 617.8 L401.5 616.1 L402.1 614.8 L402.7 614.0 L403.3 613.7 L403.8 615.2 L404.4 619.8 L405.0 625.9 L405.6 631.8 L406.1 636.4 L406.7 639.5 L407.3 641.2 L407.8 642.0 L408.4 642.3 L408.4 642.5Z" fill="#e27a68" stroke="#c3213f" stroke-width="0.9"/>
<line x1="358.3" y1="642.5" x2="425.7" y2="642.5" stroke="#c3213f" stroke-width="1.2"/>
<path d="M391.3 658.3 L391.3 658.1 L391.6 658.0 L391.9 657.9 L392.2 657.7 L392.6 657.3 L392.9 656.9 L393.2 656.3 L393.6 655.5 L393.9 654.5 L394.2 653.2 L394.5 651.7 L394.9 649.8 L395.2 647.7 L395.5 645.4 L395.9 642.9 L396.2 640.4 L396.5 637.8 L396.8 635.4 L397.2 633.3 L397.5 631.6 L397.8 630.5 L398.2 629.9 L398.5 629.9 L398.8 630.9 L399.1 632.7 L399.5 635.2 L399.8 638.1 L400.1 641.2 L400.4 644.3 L400.8 647.3 L401.1 649.8 L401.4 652.0 L401.8 653.8 L402.1 655.2 L402.4 656.2 L402.7 657.0 L403.1 657.5 L403.4 657.8 L403.7 658.0 L404.1 658.1 L404.1 658.3Z" fill="#94c9ee" fill-opacity="0.92" stroke="#3d9fd9" stroke-width="0.8"/>
</g>
<rect x="358.3" y="592.3" width="67.4" height="66.2" fill="none" stroke="#231f20" stroke-width="1.0"/>
<path d="M361.3 658.5 V660 M363.4 658.5 V660 M365.5 658.5 V660 M367.7 658.5 V660 M369.8 658.5 V660 M371.9 658.5 V660 M374.0 658.5 V660 M376.1 658.5 V660 M378.2 658.5 V660 M380.4 658.5 V660 M382.5 658.5 V660 M384.6 658.5 V660 M386.7 658.5 V660 M388.8 658.5 V660 M390.9 658.5 V660 M393.1 658.5 V660 M395.2 658.5 V660 M397.3 658.5 V660 M399.4 658.5 V660 M401.5 658.5 V660 M403.6 658.5 V660 M405.8 658.5 V660 M407.9 658.5 V660 M410.0 658.5 V660 M412.1 658.5 V660 M414.2 658.5 V660 M416.3 658.5 V660 M418.5 658.5 V660 M420.6 658.5 V660 M422.7 658.5 V660" stroke="#231f20" stroke-width="0.45"/>
<clipPath id="hc435"><rect x="435.3" y="592.3" width="66.9" height="66.2"/></clipPath>
<g clip-path="url(#hc435)">
<line x1="435.3" y1="626.0" x2="502.2" y2="626.0" stroke="#c4c4c4" stroke-width="1.0"/>
<path d="M444.3 626.0 L444.3 625.8 L444.9 625.7 L445.5 625.6 L446.1 625.4 L446.7 625.0 L447.2 624.6 L447.8 624.0 L448.4 623.2 L449.0 622.1 L449.5 620.8 L450.1 619.3 L450.7 617.4 L451.3 615.3 L451.9 613.0 L452.4 610.5 L453.0 607.9 L453.6 605.5 L454.2 603.2 L454.8 601.3 L455.3 599.8 L455.9 598.8 L456.5 598.5 L457.1 599.3 L457.6 601.5 L458.2 604.7 L458.8 608.6 L459.4 605.8 L460.0 603.2 L460.5 602.4 L461.1 603.4 L461.7 606.2 L462.3 610.0 L462.9 614.1 L463.4 617.9 L464.0 620.9 L464.6 623.1 L465.2 624.4 L465.7 625.2 L466.3 625.7 L466.9 625.9 L466.9 626.0Z" fill="#dadada" stroke="#c4c4c4" stroke-width="0.7"/>
<path d="M465.7 642.5 L465.7 642.3 L466.2 642.1 L466.8 641.7 L467.3 640.9 L467.8 639.6 L468.4 637.6 L468.9 634.7 L469.4 631.0 L470.0 626.7 L470.5 622.2 L471.0 618.3 L471.6 615.6 L472.1 614.7 L472.6 615.0 L473.2 615.9 L473.7 617.4 L474.2 619.2 L474.8 621.4 L475.3 623.9 L475.9 626.4 L476.4 628.8 L476.9 631.2 L477.5 633.3 L478.0 632.6 L478.5 631.2 L479.1 630.2 L479.6 630.0 L480.1 630.5 L480.7 631.6 L481.2 633.2 L481.7 635.0 L482.3 636.8 L482.8 638.4 L483.3 639.8 L483.9 640.8 L484.4 641.5 L484.9 641.9 L485.5 642.2 L486.0 642.3 L486.5 642.4 L486.5 642.5Z" fill="#e27a68" stroke="#c3213f" stroke-width="0.9"/>
<line x1="435.3" y1="642.5" x2="502.2" y2="642.5" stroke="#c3213f" stroke-width="1.2"/>
<path d="M458.4 658.3 L458.4 658.3 L458.6 640.0 L459.5 632.0 L460.6 629.8 L462.5 630.5 L463.5 631.5 L465.5 635.5 L468.5 641.4 L470.5 646.5 L472.8 651.5 L475.0 655.5 L477.2 658.3 L477.2 658.3Z" fill="#94c9ee" fill-opacity="0.92" stroke="#3d9fd9" stroke-width="0.8"/>
</g>
<rect x="435.3" y="592.3" width="66.9" height="66.2" fill="none" stroke="#231f20" stroke-width="1.0"/>
<path d="M438.3 658.5 V660 M440.4 658.5 V660 M442.5 658.5 V660 M444.6 658.5 V660 M446.7 658.5 V660 M448.8 658.5 V660 M450.9 658.5 V660 M453.0 658.5 V660 M455.1 658.5 V660 M457.2 658.5 V660 M459.3 658.5 V660 M461.4 658.5 V660 M463.5 658.5 V660 M465.6 658.5 V660 M467.7 658.5 V660 M469.8 658.5 V660 M471.9 658.5 V660 M474.0 658.5 V660 M476.1 658.5 V660 M478.2 658.5 V660 M480.3 658.5 V660 M482.4 658.5 V660 M484.5 658.5 V660 M486.6 658.5 V660 M488.7 658.5 V660 M490.8 658.5 V660 M492.9 658.5 V660 M495.0 658.5 V660 M497.1 658.5 V660 M499.2 658.5 V660" stroke="#231f20" stroke-width="0.45"/>
<text x="197.5" y="626.1" font-size="6.8" text-anchor="end" fill="#231f20" stroke="#231f20" stroke-width="0.16">1</text>
<path d="M200.3 625.7 H203.3" stroke="#231f20" stroke-width="0.7"/>
<text x="197.5" y="642.4" font-size="6.8" text-anchor="end" fill="#231f20" stroke="#231f20" stroke-width="0.16">2</text>
<path d="M200.3 642.0 H203.3" stroke="#231f20" stroke-width="0.7"/>
<text x="197.5" y="658.7" font-size="6.8" text-anchor="end" fill="#231f20" stroke="#231f20" stroke-width="0.16">3</text>
<path d="M200.3 658.3 H203.3" stroke="#231f20" stroke-width="0.7"/>
<text x="203.6" y="673.9" font-size="6.3" fill="#231f20" stroke="#231f20" stroke-width="0.16">−10<tspan font-size="4.2" dy="-2.6">3</tspan></text>
<path d="M208.8 658.5 V661.2" stroke="#231f20" stroke-width="0.7"/>
<text x="219.4" y="673.9" font-size="6.3" text-anchor="middle" fill="#231f20" stroke="#231f20" stroke-width="0.16">0</text>
<path d="M219.4 658.5 V661.2" stroke="#231f20" stroke-width="0.7"/>
<text x="226.8" y="673.9" font-size="6.3" fill="#231f20" stroke="#231f20" stroke-width="0.16">10<tspan font-size="4.2" dy="-2.6">3</tspan></text>
<path d="M230.4 658.5 V661.2" stroke="#231f20" stroke-width="0.7"/>
<text x="244.7" y="673.9" font-size="6.3" fill="#231f20" stroke="#231f20" stroke-width="0.16">10<tspan font-size="4.2" dy="-2.6">4</tspan></text>
<path d="M248.3 658.5 V661.2" stroke="#231f20" stroke-width="0.7"/>
<text x="261.0" y="673.9" font-size="6.3" fill="#231f20" stroke="#231f20" stroke-width="0.16">10<tspan font-size="4.2" dy="-2.6">5</tspan></text>
<path d="M264.6 658.5 V661.2" stroke="#231f20" stroke-width="0.7"/>
<text x="286.5" y="673.9" font-size="6.3" text-anchor="middle" fill="#231f20" stroke="#231f20" stroke-width="0.16">0</text>
<path d="M286.5 658.5 V661.2" stroke="#231f20" stroke-width="0.7"/>
<text x="296.4" y="673.9" font-size="6.3" fill="#231f20" stroke="#231f20" stroke-width="0.16">10<tspan font-size="4.2" dy="-2.6">3</tspan></text>
<path d="M300.0 658.5 V661.2" stroke="#231f20" stroke-width="0.7"/>
<text x="315.2" y="673.9" font-size="6.3" fill="#231f20" stroke="#231f20" stroke-width="0.16">10<tspan font-size="4.2" dy="-2.6">4</tspan></text>
<path d="M318.8 658.5 V661.2" stroke="#231f20" stroke-width="0.7"/>
<text x="334.9" y="673.9" font-size="6.3" fill="#231f20" stroke="#231f20" stroke-width="0.16">10<tspan font-size="4.2" dy="-2.6">5</tspan></text>
<path d="M338.5 658.5 V661.2" stroke="#231f20" stroke-width="0.7"/>
<text x="358.8" y="673.9" font-size="6.3" fill="#231f20" stroke="#231f20" stroke-width="0.16">−10<tspan font-size="4.2" dy="-2.6">3</tspan></text>
<path d="M364.0 658.5 V661.2" stroke="#231f20" stroke-width="0.7"/>
<text x="374.4" y="673.9" font-size="6.3" text-anchor="middle" fill="#231f20" stroke="#231f20" stroke-width="0.16">0</text>
<path d="M374.4 658.5 V661.2" stroke="#231f20" stroke-width="0.7"/>
<text x="381.2" y="673.9" font-size="6.3" fill="#231f20" stroke="#231f20" stroke-width="0.16">10<tspan font-size="4.2" dy="-2.6">3</tspan></text>
<path d="M384.8 658.5 V661.2" stroke="#231f20" stroke-width="0.7"/>
<text x="399.1" y="673.9" font-size="6.3" fill="#231f20" stroke="#231f20" stroke-width="0.16">10<tspan font-size="4.2" dy="-2.6">4</tspan></text>
<path d="M402.7 658.5 V661.2" stroke="#231f20" stroke-width="0.7"/>
<text x="416.4" y="673.9" font-size="6.3" fill="#231f20" stroke="#231f20" stroke-width="0.16">10<tspan font-size="4.2" dy="-2.6">5</tspan></text>
<path d="M420.0 658.5 V661.2" stroke="#231f20" stroke-width="0.7"/>
<text x="441.4" y="673.9" font-size="6.3" text-anchor="middle" fill="#231f20" stroke="#231f20" stroke-width="0.16">0</text>
<path d="M441.4 658.5 V661.2" stroke="#231f20" stroke-width="0.7"/>
<text x="452.7" y="673.9" font-size="6.3" fill="#231f20" stroke="#231f20" stroke-width="0.16">10<tspan font-size="4.2" dy="-2.6">3</tspan></text>
<path d="M456.3 658.5 V661.2" stroke="#231f20" stroke-width="0.7"/>
<text x="470.6" y="673.9" font-size="6.3" fill="#231f20" stroke="#231f20" stroke-width="0.16">10<tspan font-size="4.2" dy="-2.6">4</tspan></text>
<path d="M474.2 658.5 V661.2" stroke="#231f20" stroke-width="0.7"/>
<text x="490.0" y="673.9" font-size="6.3" fill="#231f20" stroke="#231f20" stroke-width="0.16">10<tspan font-size="4.2" dy="-2.6">5</tspan></text>
<path d="M493.6 658.5 V661.2" stroke="#231f20" stroke-width="0.7"/>
<text x="207.9" y="686.2" font-size="8.2" fill="#231f20" textLength="56.7" lengthAdjust="spacingAndGlyphs" stroke="#231f20" stroke-width="0.16">CD4 [PerCP/Cy5.5]</text>
<text x="294.6" y="686.2" font-size="8.2" fill="#231f20" textLength="38.1" lengthAdjust="spacingAndGlyphs" stroke="#231f20" stroke-width="0.16">CD8[APC/Cy7]</text>
<text x="377.4" y="686.2" font-size="8.2" fill="#231f20" textLength="31.3" lengthAdjust="spacingAndGlyphs" stroke="#231f20" stroke-width="0.16">CPT1a [FITC]</text>
<text x="453.4" y="686.2" font-size="8.2" fill="#231f20" textLength="32.7" lengthAdjust="spacingAndGlyphs" stroke="#231f20" stroke-width="0.16">HK2 [AF647]</text>
</svg>
</body></html>
